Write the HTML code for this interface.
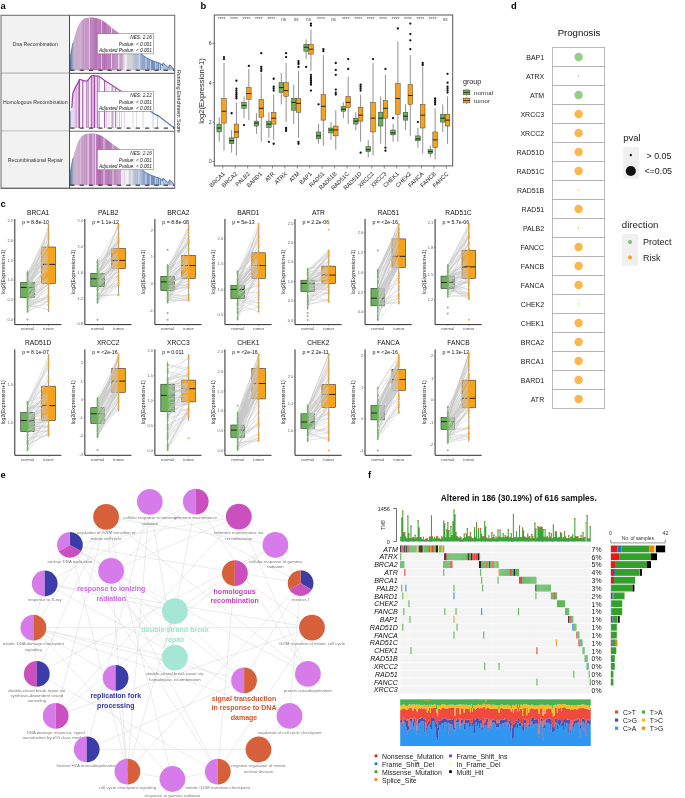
<!DOCTYPE html>
<html><head><meta charset="utf-8"><title>Figure</title>
<style>html,body{margin:0;padding:0;background:#fff;}svg{display:block;will-change:transform;filter:blur(0.3px);font-family:"Liberation Sans", sans-serif;}</style>
</head><body>
<svg width="685" height="798" viewBox="0 0 685 798">
<rect width="685" height="798" fill="#fff"/>
<text x="0.50" y="8.60" font-size="9.4" text-anchor="start" fill="#000" font-weight="bold" >a</text>
<text x="200.40" y="8.60" font-size="9.4" text-anchor="start" fill="#000" font-weight="bold" >b</text>
<text x="0.50" y="206.90" font-size="9.4" text-anchor="start" fill="#000" font-weight="bold" >c</text>
<text x="511.10" y="8.60" font-size="9.4" text-anchor="start" fill="#000" font-weight="bold" >d</text>
<text x="0.60" y="477.70" font-size="9.4" text-anchor="start" fill="#000" font-weight="bold" >e</text>
<text x="367.90" y="477.60" font-size="9.4" text-anchor="start" fill="#000" font-weight="bold" >f</text>
<defs><linearGradient id="ga" gradientUnits="userSpaceOnUse" x1="69.5" y1="0" x2="174.7" y2="0"><stop offset="0.005" stop-color="#4a6aa0"/><stop offset="0.024" stop-color="#8a9aba"/><stop offset="0.043" stop-color="#c2b6c8"/><stop offset="0.081" stop-color="#cba6cb"/><stop offset="0.147" stop-color="#c290c2"/><stop offset="0.214" stop-color="#b97cb9"/><stop offset="0.290" stop-color="#b068b0"/><stop offset="0.366" stop-color="#b272b2"/><stop offset="0.442" stop-color="#be8abe"/><stop offset="0.499" stop-color="#c8a4c8"/><stop offset="0.537" stop-color="#d2c4d2"/><stop offset="0.566" stop-color="#d4d4d6"/><stop offset="0.585" stop-color="#d2d2d6"/><stop offset="0.613" stop-color="#b8c2d6"/><stop offset="0.670" stop-color="#9eb0cf"/><stop offset="0.737" stop-color="#8299c4"/><stop offset="0.822" stop-color="#6e8abc"/><stop offset="0.917" stop-color="#5478b0"/><stop offset="0.993" stop-color="#3f68a8"/></linearGradient></defs>
<rect x="1.00" y="15.30" width="68.50" height="58.00" fill="#f2f2f2" stroke="none" stroke-width="0.5" />
<text x="35.25" y="46.10" font-size="5.15" text-anchor="middle" fill="#333" >Dna Recombination</text>
<path d="M69.50,70.20 L70.00,62.16 L70.50,56.17 L71.00,52.62 L71.50,49.87 L72.00,47.46 L72.50,45.02 L73.00,42.74 L73.50,40.65 L74.00,38.76 L74.50,37.02 L75.00,35.29 L75.50,33.60 L76.00,31.95 L76.50,30.39 L77.00,28.94 L77.50,27.62 L78.00,26.46 L78.50,25.43 L79.00,24.49 L79.50,23.63 L80.00,22.85 L80.50,22.13 L81.00,21.48 L81.50,20.89 L82.00,20.36 L82.50,19.88 L83.00,19.44 L83.50,19.08 L84.00,18.78 L84.50,18.55 L85.00,18.37 L85.50,18.22 L86.00,18.11 L86.50,18.02 L87.00,17.94 L87.50,17.85 L88.00,17.76 L88.50,17.67 L89.00,17.59 L89.50,17.52 L90.00,17.50 L90.50,17.50 L91.00,17.50 L91.50,17.50 L92.00,17.50 L92.50,17.50 L93.00,17.50 L93.50,17.50 L94.00,17.57 L94.50,17.65 L95.00,17.75 L95.50,17.85 L96.00,17.97 L96.50,18.10 L97.00,18.24 L97.50,18.39 L98.00,18.55 L98.50,18.72 L99.00,18.90 L99.50,19.09 L100.00,19.29 L100.50,19.51 L101.00,19.75 L101.50,20.01 L102.00,20.29 L102.50,20.59 L103.00,20.90 L103.50,21.22 L104.00,21.56 L104.50,21.90 L105.00,22.24 L105.50,22.60 L106.00,22.98 L106.50,23.37 L107.00,23.77 L107.50,24.19 L108.00,24.60 L108.50,25.02 L109.00,25.44 L109.50,25.85 L110.00,26.25 L110.50,26.64 L111.00,27.04 L111.50,27.44 L112.00,27.84 L112.50,28.24 L113.00,28.63 L113.50,29.02 L114.00,29.40 L114.50,29.78 L115.00,30.15 L115.50,30.49 L116.00,30.81 L116.50,31.11 L117.00,31.41 L117.50,31.71 L118.00,32.03 L118.50,32.39 L119.00,32.78 L119.50,33.21 L120.00,33.66 L120.50,34.12 L121.00,34.59 L121.50,35.07 L122.00,35.56 L122.50,36.06 L123.00,36.56 L123.50,37.06 L124.00,37.57 L124.50,38.08 L125.00,38.58 L125.50,39.09 L126.00,39.61 L126.50,40.14 L127.00,40.68 L127.50,41.22 L128.00,41.76 L128.50,42.29 L129.00,42.82 L129.50,43.34 L130.00,43.85 L130.50,44.35 L131.00,44.84 L131.50,45.32 L132.00,45.80 L132.50,46.28 L133.00,46.75 L133.50,47.21 L134.00,47.68 L134.50,48.14 L135.00,48.59 L135.50,49.05 L136.00,49.51 L136.50,49.97 L137.00,50.43 L137.50,50.88 L138.00,51.33 L138.50,51.78 L139.00,52.22 L139.50,52.65 L140.00,53.06 L140.50,53.47 L141.00,53.86 L141.50,54.25 L142.00,54.62 L142.50,55.00 L143.00,55.37 L143.50,55.73 L144.00,56.08 L144.50,56.43 L145.00,56.77 L145.50,57.10 L146.00,57.42 L146.50,57.74 L147.00,58.04 L147.50,58.33 L148.00,58.61 L148.50,58.87 L149.00,59.12 L149.50,59.36 L150.00,59.59 L150.50,59.81 L151.00,60.02 L151.50,60.23 L152.00,60.43 L152.50,60.62 L153.00,60.81 L153.50,61.00 L154.00,61.19 L154.50,61.38 L155.00,61.57 L155.50,61.77 L156.00,61.95 L156.50,62.12 L157.00,62.27 L157.50,62.42 L158.00,62.57 L158.50,62.73 L159.00,62.91 L159.50,63.11 L160.00,63.35 L160.50,63.70 L161.00,64.19 L161.50,64.71 L162.00,65.16 L162.50,65.43 L163.00,63.09 L163.50,63.34 L164.00,63.70 L164.50,64.14 L165.00,64.64 L165.50,65.17 L166.00,65.71 L166.50,66.23 L167.00,66.70 L167.50,67.11 L168.00,67.41 L168.50,67.53 L169.00,66.23 L169.50,64.95 L170.00,65.13 L170.50,65.48 L171.00,65.92 L171.50,66.43 L172.00,67.00 L172.50,67.59 L173.00,68.21 L173.50,68.83 L174.00,69.43 L174.50,69.99 L174.70,70.20 L69.50,70.20Z" fill="url(#ga)"/>
<path d="M89.30,70.20V17.52M101.50,70.20V20.01M111.50,70.20V27.44M118.80,70.20V32.78M124.00,70.20V37.57M125.20,70.20V38.58M125.80,70.20V39.61M126.40,70.20V40.14M139.20,70.20V52.22M146.00,70.20V57.42M150.30,70.20V59.81M155.40,70.20V61.77M157.20,70.20V62.27M159.60,70.20V63.11M161.50,70.20V64.71M162.60,70.20V65.43M163.80,70.20V63.70M164.80,70.20V64.64M165.80,70.20V65.71M166.80,70.20V66.70M167.80,70.20V67.41M168.90,70.20V66.23M170.20,70.20V65.13M171.30,70.20V66.43M172.30,70.20V67.59M173.40,70.20V68.83" stroke="#fff" stroke-width="0.7" stroke-opacity="0.9" fill="none"/>
<path d="M99.96,70.20V19.29M87.16,70.20V17.94M124.17,70.20V37.57M81.36,70.20V20.89M115.66,70.20V30.49M103.06,70.20V20.90M80.29,70.20V22.13M113.55,70.20V29.02M78.77,70.20V24.49M108.09,70.20V24.60M81.17,70.20V21.48M82.71,70.20V19.88M107.41,70.20V24.19M137.19,70.20V50.43M85.16,70.20V18.37M92.52,70.20V17.50M122.43,70.20V36.06M146.13,70.20V57.42M118.71,70.20V32.39M105.35,70.20V22.60M148.24,70.20V58.61M79.45,70.20V23.63M139.53,70.20V52.65M97.43,70.20V18.39M86.67,70.20V18.02M84.72,70.20V18.55M98.83,70.20V18.90M136.39,70.20V49.97M89.37,70.20V17.52M119.04,70.20V32.78M123.28,70.20V37.06M103.56,70.20V21.22M116.53,70.20V31.11M80.65,70.20V22.13M80.41,70.20V22.13M91.24,70.20V17.50M126.35,70.20V40.14M107.64,70.20V24.19M99.25,70.20V18.90M119.33,70.20V33.21M109.54,70.20V25.85M98.18,70.20V18.55M134.78,70.20V48.59M127.73,70.20V41.22M94.06,70.20V17.57M118.51,70.20V32.39M114.86,70.20V30.15M140.76,70.20V53.86M129.98,70.20V43.85M97.31,70.20V18.39M148.53,70.20V58.87M84.74,70.20V18.55M106.94,70.20V23.77M132.03,70.20V45.80M87.25,70.20V17.94M112.18,70.20V27.84M78.90,70.20V24.49M125.45,70.20V39.09M132.58,70.20V46.28M118.40,70.20V32.39M140.79,70.20V53.86M99.22,70.20V18.90M127.45,70.20V41.22M119.98,70.20V33.66M118.91,70.20V32.78M109.76,70.20V26.25M138.16,70.20V51.33M145.91,70.20V57.42M111.08,70.20V27.04M125.15,70.20V38.58" stroke="#fff" stroke-width="0.35" stroke-opacity="0.25" fill="none"/>
<path d="M138.00,51.33 L138.50,51.78 L139.00,52.22 L139.50,52.65 L140.00,53.06 L140.50,53.47 L141.00,53.86 L141.50,54.25 L142.00,54.62 L142.50,55.00 L143.00,55.37 L143.50,55.73 L144.00,56.08 L144.50,56.43 L145.00,56.77 L145.50,57.10 L146.00,57.42 L146.50,57.74 L147.00,58.04 L147.50,58.33 L148.00,58.61 L148.50,58.87 L149.00,59.12 L149.50,59.36 L150.00,59.59 L150.50,59.81 L151.00,60.02 L151.50,60.23 L152.00,60.43 L152.50,60.62 L153.00,60.81 L153.50,61.00 L154.00,61.19 L154.50,61.38 L155.00,61.57 L155.50,61.77 L156.00,61.95 L156.50,62.12 L157.00,62.27 L157.50,62.42 L158.00,62.57 L158.50,62.73 L159.00,62.91 L159.50,63.11 L160.00,63.35 L160.50,63.70 L161.00,64.19 L161.50,64.71 L162.00,65.16 L162.50,65.43 L163.00,63.09 L163.50,63.34 L164.00,63.70 L164.50,64.14 L165.00,64.64 L165.50,65.17 L166.00,65.71 L166.50,66.23 L167.00,66.70 L167.50,67.11 L168.00,67.41 L168.50,67.53 L169.00,66.23 L169.50,64.95 L170.00,65.13 L170.50,65.48 L171.00,65.92 L171.50,66.43 L172.00,67.00 L172.50,67.59 L173.00,68.21 L173.50,68.83 L174.00,69.43 L174.50,69.99" fill="none" stroke="#4a6fab" stroke-width="1.0"/>
<path d="M69.50,70.20 L70.00,62.16 L70.50,56.17 L71.00,52.62 L71.50,49.87 L72.00,47.46 L72.50,45.02 L73.00,42.74" fill="none" stroke="#5877ad" stroke-width="0.8"/>
<line x1="70.20" y1="70.20" x2="174.70" y2="70.20" stroke="#111" stroke-width="1.0" stroke-dasharray="4.3,5.05"/>
<rect x="97.20" y="33.70" width="56.30" height="20.20" fill="#fff" stroke="#555" stroke-width="0.45" />
<text x="151.90" y="39.30" font-size="4.75" text-anchor="end" fill="#222" font-style="italic">NES: 2.16</text>
<text x="151.90" y="45.90" font-size="4.75" text-anchor="end" fill="#222" font-style="italic">Pvalue: &lt; 0.001</text>
<text x="151.90" y="52.30" font-size="4.75" text-anchor="end" fill="#222" font-style="italic">Adjusted Pvalue: &lt; 0.001</text>
<line x1="1.00" y1="73.30" x2="174.70" y2="73.30" stroke="#6e6e6e" stroke-width="1.15" />
<rect x="1.00" y="73.30" width="68.50" height="57.90" fill="#f2f2f2" stroke="none" stroke-width="0.5" />
<text x="35.25" y="104.05" font-size="5.15" text-anchor="middle" fill="#333" >Homologous Recombination</text>
<path d="M70.60,128.10V111.58" stroke="#c4c8d8" stroke-width="0.7"/>
<path d="M71.50,128.10V107.86" stroke="#dccfe2" stroke-width="0.8"/>
<path d="M72.80,128.10V92.92" stroke="#d6bcdc" stroke-width="0.8"/>
<path d="M74.10,128.10V90.58" stroke="#d0acd6" stroke-width="0.8"/>
<path d="M75.40,128.10V87.07" stroke="#c99fcf" stroke-width="0.8"/>
<path d="M76.80,128.10V84.55" stroke="#c08ac6" stroke-width="0.9"/>
<path d="M78.30,128.10V81.71" stroke="#b56fba" stroke-width="1.0"/>
<path d="M79.60,128.10V79.41" stroke="#a64aac" stroke-width="1.1"/>
<path d="M82.80,128.10V80.45" stroke="#a443aa" stroke-width="1.1"/>
<path d="M86.90,128.10V81.17" stroke="#a23fa8" stroke-width="1.0"/>
<path d="M88.60,128.10V79.40" stroke="#c48fca" stroke-width="1.0"/>
<path d="M91.30,128.10V75.85" stroke="#a848ae" stroke-width="1.1"/>
<path d="M92.60,128.10V75.58" stroke="#cfa2d3" stroke-width="0.8"/>
<path d="M94.30,128.10V75.80" stroke="#a443aa" stroke-width="1.4"/>
<path d="M96.00,128.10V75.96" stroke="#c99bcd" stroke-width="0.9"/>
<path d="M97.80,128.10V76.18" stroke="#a94cae" stroke-width="1.1"/>
<path d="M99.50,128.10V76.66" stroke="#c58fc9" stroke-width="0.8"/>
<path d="M104.60,128.10V80.42" stroke="#a64aac" stroke-width="1.0"/>
<path d="M106.70,128.10V81.70" stroke="#d9bddc" stroke-width="0.9"/>
<path d="M109.00,128.10V83.28" stroke="#dcc6de" stroke-width="0.8"/>
<path d="M111.80,128.10V85.18" stroke="#c896cb" stroke-width="0.8"/>
<path d="M112.90,128.10V85.83" stroke="#b466b8" stroke-width="0.9"/>
<path d="M115.50,128.10V87.49" stroke="#b466b8" stroke-width="0.9"/>
<path d="M117.00,128.10V88.49" stroke="#dcc3de" stroke-width="0.9"/>
<path d="M119.50,128.10V90.16" stroke="#d8b9da" stroke-width="0.9"/>
<path d="M121.50,128.10V91.49" stroke="#e0cce2" stroke-width="0.9"/>
<path d="M124.50,128.10V93.55" stroke="#e2cfe4" stroke-width="0.9"/>
<path d="M133.00,128.10V99.40" stroke="#e4dce8" stroke-width="1.0"/>
<path d="M136.50,128.10V101.81" stroke="#dedee6" stroke-width="0.9"/>
<path d="M143.00,128.10V106.25" stroke="#d0d6e4" stroke-width="1.0"/>
<path d="M153.00,128.10V113.00" stroke="#c4cee2" stroke-width="1.0"/>
<path d="M157.50,128.10V115.27" stroke="#b9c7e0" stroke-width="1.0"/>
<path d="M70.2,128.10V111.10" stroke="#6d86b4" stroke-width="0.9"/>
<path d="M71.50,107.86 L72.00,106.01 L72.50,98.12 L73.00,92.92 L73.50,91.75 L74.00,90.58 L74.50,89.41 L75.00,88.24 L75.50,87.07 L76.00,86.23 L76.50,85.39 L77.00,84.55 L77.50,83.71 L78.00,82.86 L78.50,81.71 L79.00,80.56 L79.50,79.41 L80.00,79.36 L80.50,79.58 L81.00,79.80 L81.50,80.01 L82.00,80.23 L82.50,80.34 L83.00,80.45 L83.50,80.56 L84.00,80.66 L84.50,80.77 L85.00,80.88 L85.50,80.99 L86.00,81.09 L86.50,81.20 L87.00,81.17 L87.50,80.58 L88.00,79.99 L88.50,79.40 L89.00,78.81 L89.50,78.22 L90.00,77.63 L90.50,77.04 L91.00,76.44 L91.50,75.85 L92.00,75.52 L92.50,75.58 L93.00,75.63 L93.50,75.69 L94.00,75.74 L94.50,75.80 L95.00,75.85 L95.50,75.91 L96.00,75.96 L96.50,76.02 L97.00,76.07 L97.50,76.12 L98.00,76.18 L98.50,76.23 L99.00,76.29 L99.50,76.66 L100.00,77.04 L100.50,77.42 L101.00,77.79 L101.50,78.17 L102.00,78.54 L102.50,78.92 L103.00,79.29 L103.50,79.67 L104.00,80.05 L104.50,80.42 L105.00,80.75 L105.50,81.07 L106.00,81.38" fill="none" stroke="#a23fa8" stroke-width="1.25"/>
<path d="M105.50,81.07 L106.00,81.38 L106.50,81.70 L107.00,82.02 L107.50,82.33 L108.00,82.65 L108.50,82.96 L109.00,83.28 L109.50,83.60 L110.00,83.91 L110.50,84.23 L111.00,84.55 L111.50,84.86 L112.00,85.18 L112.50,85.49 L113.00,85.83 L113.50,86.16 L114.00,86.49 L114.50,86.83 L115.00,87.16 L115.50,87.49 L116.00,87.83 L116.50,88.16 L117.00,88.49 L117.50,88.83 L118.00,89.16 L118.50,89.49 L119.00,89.82 L119.50,90.16 L120.00,90.49 L120.50,90.82 L121.00,91.16 L121.50,91.49 L122.00,91.83 L122.50,92.18 L123.00,92.52 L123.50,92.86 L124.00,93.21 L124.50,93.55 L125.00,93.89 L125.50,94.24 L126.00,94.58 L126.50,94.92 L127.00,95.27 L127.50,95.61 L128.00,95.96 L128.50,96.30 L129.00,96.64 L129.50,96.99 L130.00,97.33 L130.50,97.67 L131.00,98.02 L131.50,98.36 L132.00,98.71 L132.50,99.05 L133.00,99.40 L133.50,99.74 L134.00,100.09" fill="none" stroke="#a548ab" stroke-width="1.15"/>
<path d="M133.50,99.74 L134.00,100.09 L134.50,100.43 L135.00,100.77 L135.50,101.12 L136.00,101.46 L136.50,101.81 L137.00,102.15 L137.50,102.50 L138.00,102.84 L138.50,103.19 L139.00,103.53 L139.50,103.88 L140.00,104.22 L140.50,104.56 L141.00,104.90 L141.50,105.23 L142.00,105.57 L142.50,105.91 L143.00,106.25 L143.50,106.58 L144.00,106.92 L144.50,107.26 L145.00,107.60 L145.50,107.94 L146.00,108.27 L146.50,108.61 L147.00,108.95 L147.50,109.29 L148.00,109.63 L148.50,109.96 L149.00,110.30 L149.50,110.64 L150.00,110.98 L150.50,111.31 L151.00,111.65 L151.50,111.99 L152.00,112.33 L152.50,112.67 L153.00,113.00 L153.50,113.33 L154.00,113.65 L154.50,113.97 L155.00,114.29 L155.50,114.61 L156.00,114.94 L156.50,115.26 L157.00,115.58 L157.50,115.27 L158.00,115.53 L158.50,115.92 L159.00,116.31 L159.50,116.70 L160.00,117.09 L160.50,117.48 L161.00,117.87 L161.50,118.26 L162.00,118.65 L162.50,119.04 L163.00,119.44 L163.50,119.83 L164.00,120.22 L164.50,120.61 L165.00,121.00 L165.50,121.37 L166.00,121.74 L166.50,122.11 L167.00,122.48 L167.50,122.85 L168.00,123.22 L168.50,123.59 L169.00,123.96 L169.50,124.33 L170.00,124.70 L170.50,125.07 L171.00,125.44 L171.50,125.81 L172.00,126.18 L172.50,126.55 L173.00,126.92 L173.50,127.29 L174.00,127.66 L174.50,128.03" fill="none" stroke="#4a6fab" stroke-width="1.15"/>
<line x1="70.20" y1="128.10" x2="174.70" y2="128.10" stroke="#111" stroke-width="1.0" stroke-dasharray="4.3,5.05"/>
<rect x="97.20" y="91.30" width="56.30" height="20.20" fill="#fff" stroke="#555" stroke-width="0.45" />
<text x="151.90" y="96.90" font-size="4.75" text-anchor="end" fill="#222" font-style="italic">NES: 2.22</text>
<text x="151.90" y="103.50" font-size="4.75" text-anchor="end" fill="#222" font-style="italic">Pvalue: &lt; 0.001</text>
<text x="151.90" y="109.90" font-size="4.75" text-anchor="end" fill="#222" font-style="italic">Adjusted Pvalue: &lt; 0.001</text>
<line x1="1.00" y1="131.20" x2="174.70" y2="131.20" stroke="#6e6e6e" stroke-width="1.15" />
<rect x="1.00" y="131.20" width="68.50" height="57.10" fill="#f2f2f2" stroke="none" stroke-width="0.5" />
<text x="35.25" y="161.55" font-size="5.15" text-anchor="middle" fill="#333" >Recombinational Repair</text>
<path d="M69.50,185.20 L70.00,177.29 L70.50,171.41 L71.00,167.92 L71.50,165.22 L72.00,162.85 L72.50,160.45 L73.00,158.21 L73.50,156.16 L74.00,154.30 L74.50,152.58 L75.00,150.89 L75.50,149.22 L76.00,147.61 L76.50,146.07 L77.00,144.64 L77.50,143.35 L78.00,142.21 L78.50,141.20 L79.00,140.27 L79.50,139.42 L80.00,138.65 L80.50,137.95 L81.00,137.31 L81.50,136.74 L82.00,136.21 L82.50,135.74 L83.00,135.31 L83.50,134.95 L84.00,134.66 L84.50,134.43 L85.00,134.25 L85.50,134.11 L86.00,134.00 L86.50,133.91 L87.00,133.83 L87.50,133.75 L88.00,133.66 L88.50,133.57 L89.00,133.49 L89.50,133.42 L90.00,133.40 L90.50,133.40 L91.00,133.40 L91.50,133.40 L92.00,133.40 L92.50,133.40 L93.00,133.40 L93.50,133.40 L94.00,133.47 L94.50,133.55 L95.00,133.64 L95.50,133.74 L96.00,133.86 L96.50,133.99 L97.00,134.12 L97.50,134.27 L98.00,134.43 L98.50,134.60 L99.00,134.78 L99.50,134.96 L100.00,135.16 L100.50,135.38 L101.00,135.61 L101.50,135.87 L102.00,136.15 L102.50,136.44 L103.00,136.74 L103.50,137.06 L104.00,137.39 L104.50,137.72 L105.00,138.06 L105.50,138.41 L106.00,138.78 L106.50,139.17 L107.00,139.57 L107.50,139.97 L108.00,140.38 L108.50,140.79 L109.00,141.20 L109.50,141.60 L110.00,142.00 L110.50,142.39 L111.00,142.78 L111.50,143.17 L112.00,143.56 L112.50,143.95 L113.00,144.34 L113.50,144.72 L114.00,145.10 L114.50,145.47 L115.00,145.83 L115.50,146.17 L116.00,146.48 L116.50,146.78 L117.00,147.07 L117.50,147.37 L118.00,147.68 L118.50,148.03 L119.00,148.42 L119.50,148.84 L120.00,149.28 L120.50,149.73 L121.00,150.20 L121.50,150.67 L122.00,151.15 L122.50,151.64 L123.00,152.13 L123.50,152.63 L124.00,153.13 L124.50,153.62 L125.00,154.12 L125.50,154.62 L126.00,155.13 L126.50,155.66 L127.00,156.18 L127.50,156.71 L128.00,157.24 L128.50,157.77 L129.00,158.29 L129.50,158.80 L130.00,159.30 L130.50,159.79 L131.00,160.27 L131.50,160.75 L132.00,161.22 L132.50,161.69 L133.00,162.15 L133.50,162.61 L134.00,163.06 L134.50,163.51 L135.00,163.96 L135.50,164.41 L136.00,164.86 L136.50,165.31 L137.00,165.76 L137.50,166.21 L138.00,166.66 L138.50,167.09 L139.00,167.52 L139.50,167.95 L140.00,168.36 L140.50,168.76 L141.00,169.14 L141.50,169.52 L142.00,169.89 L142.50,170.26 L143.00,170.62 L143.50,170.98 L144.00,171.32 L144.50,171.67 L145.00,172.00 L145.50,172.33 L146.00,172.64 L146.50,172.95 L147.00,173.24 L147.50,173.53 L148.00,173.80 L148.50,174.06 L149.00,174.31 L149.50,174.55 L150.00,174.77 L150.50,174.99 L151.00,175.20 L151.50,175.40 L152.00,175.59 L152.50,175.78 L153.00,175.97 L153.50,176.16 L154.00,176.34 L154.50,176.53 L155.00,176.72 L155.50,176.91 L156.00,177.09 L156.50,177.26 L157.00,177.41 L157.50,177.55 L158.00,177.70 L158.50,177.86 L159.00,178.04 L159.50,178.24 L160.00,178.47 L160.50,178.81 L161.00,179.30 L161.50,179.81 L162.00,180.24 L162.50,180.51 L163.00,178.21 L163.50,178.45 L164.00,178.81 L164.50,179.24 L165.00,179.74 L165.50,180.26 L166.00,180.79 L166.50,181.30 L167.00,181.76 L167.50,182.16 L168.00,182.46 L168.50,182.58 L169.00,181.29 L169.50,180.04 L170.00,180.22 L170.50,180.57 L171.00,181.00 L171.50,181.50 L172.00,182.05 L172.50,182.64 L173.00,183.24 L173.50,183.85 L174.00,184.44 L174.50,184.99 L174.70,185.20 L69.50,185.20Z" fill="url(#ga)"/>
<path d="M88.20,185.20V133.66M93.00,185.20V133.40M95.50,185.20V133.74M104.00,185.20V137.39M113.00,185.20V144.34M121.50,185.20V150.67M122.10,185.20V151.15M122.70,185.20V151.64M123.30,185.20V152.63M123.90,185.20V153.13M125.20,185.20V154.12M125.80,185.20V155.13M126.40,185.20V155.66M127.00,185.20V156.18M127.60,185.20V156.71M128.20,185.20V157.24M131.90,185.20V161.22M138.90,185.20V167.52M145.80,185.20V172.64M150.30,185.20V174.99M155.40,185.20V176.91M157.20,185.20V177.41M159.60,185.20V178.24M161.50,185.20V179.81M162.60,185.20V180.51M163.80,185.20V178.81M164.80,185.20V179.74M165.80,185.20V180.79M166.80,185.20V181.76M167.80,185.20V182.46M168.90,185.20V181.29M170.20,185.20V180.22M171.30,185.20V181.50M172.30,185.20V182.64M173.40,185.20V183.85" stroke="#fff" stroke-width="0.7" stroke-opacity="0.9" fill="none"/>
<path d="M80.49,185.20V137.95M127.91,185.20V157.24M123.89,185.20V153.13M149.49,185.20V174.55M136.82,185.20V165.76M97.06,185.20V134.12M104.55,185.20V137.72M125.48,185.20V154.62M77.67,185.20V143.35M110.17,185.20V142.00M88.44,185.20V133.57M84.67,185.20V134.43M80.36,185.20V137.95M132.85,185.20V162.15M85.57,185.20V134.11M94.32,185.20V133.55M104.93,185.20V138.06M140.49,185.20V168.76M81.96,185.20V136.21M109.24,185.20V141.20M116.66,185.20V146.78M141.37,185.20V169.52M136.63,185.20V165.31M139.93,185.20V168.36M96.60,185.20V133.99M106.73,185.20V139.17M102.55,185.20V136.44M141.43,185.20V169.52M146.87,185.20V173.24M87.17,185.20V133.83M89.04,185.20V133.49M93.16,185.20V133.40M93.27,185.20V133.40M111.89,185.20V143.56M119.60,185.20V148.84M95.44,185.20V133.74M76.30,185.20V146.07M107.00,185.20V139.57M103.32,185.20V137.06M117.91,185.20V147.68M146.53,185.20V172.95M127.10,185.20V156.18M114.15,185.20V145.10M121.70,185.20V150.67M126.04,185.20V155.13M80.00,185.20V138.65M142.57,185.20V170.26M133.72,185.20V162.61M140.71,185.20V168.76M135.04,185.20V163.96M105.04,185.20V138.06M105.52,185.20V138.41M83.66,185.20V134.95M122.94,185.20V152.13M80.61,185.20V137.95M80.98,185.20V137.31M91.45,185.20V133.40M88.01,185.20V133.66M101.16,185.20V135.61M79.89,185.20V138.65M76.02,185.20V147.61M87.19,185.20V133.83M83.51,185.20V134.95M102.91,185.20V136.74M77.89,185.20V142.21M140.70,185.20V168.76M121.44,185.20V150.67M86.99,185.20V133.83M94.67,185.20V133.55M101.71,185.20V135.87" stroke="#fff" stroke-width="0.35" stroke-opacity="0.25" fill="none"/>
<path d="M138.00,166.66 L138.50,167.09 L139.00,167.52 L139.50,167.95 L140.00,168.36 L140.50,168.76 L141.00,169.14 L141.50,169.52 L142.00,169.89 L142.50,170.26 L143.00,170.62 L143.50,170.98 L144.00,171.32 L144.50,171.67 L145.00,172.00 L145.50,172.33 L146.00,172.64 L146.50,172.95 L147.00,173.24 L147.50,173.53 L148.00,173.80 L148.50,174.06 L149.00,174.31 L149.50,174.55 L150.00,174.77 L150.50,174.99 L151.00,175.20 L151.50,175.40 L152.00,175.59 L152.50,175.78 L153.00,175.97 L153.50,176.16 L154.00,176.34 L154.50,176.53 L155.00,176.72 L155.50,176.91 L156.00,177.09 L156.50,177.26 L157.00,177.41 L157.50,177.55 L158.00,177.70 L158.50,177.86 L159.00,178.04 L159.50,178.24 L160.00,178.47 L160.50,178.81 L161.00,179.30 L161.50,179.81 L162.00,180.24 L162.50,180.51 L163.00,178.21 L163.50,178.45 L164.00,178.81 L164.50,179.24 L165.00,179.74 L165.50,180.26 L166.00,180.79 L166.50,181.30 L167.00,181.76 L167.50,182.16 L168.00,182.46 L168.50,182.58 L169.00,181.29 L169.50,180.04 L170.00,180.22 L170.50,180.57 L171.00,181.00 L171.50,181.50 L172.00,182.05 L172.50,182.64 L173.00,183.24 L173.50,183.85 L174.00,184.44 L174.50,184.99" fill="none" stroke="#4a6fab" stroke-width="1.0"/>
<path d="M69.50,185.20 L70.00,177.29 L70.50,171.41 L71.00,167.92 L71.50,165.22 L72.00,162.85 L72.50,160.45 L73.00,158.21" fill="none" stroke="#5877ad" stroke-width="0.8"/>
<line x1="70.20" y1="185.20" x2="174.70" y2="185.20" stroke="#111" stroke-width="1.0" stroke-dasharray="4.3,5.05"/>
<rect x="97.20" y="149.60" width="56.30" height="20.20" fill="#fff" stroke="#555" stroke-width="0.45" />
<text x="151.90" y="155.20" font-size="4.75" text-anchor="end" fill="#222" font-style="italic">NES: 2.16</text>
<text x="151.90" y="161.80" font-size="4.75" text-anchor="end" fill="#222" font-style="italic">Pvalue: &lt; 0.001</text>
<text x="151.90" y="168.20" font-size="4.75" text-anchor="end" fill="#222" font-style="italic">Adjusted Pvalue: &lt; 0.001</text>
<line x1="1.00" y1="188.30" x2="174.70" y2="188.30" stroke="#6e6e6e" stroke-width="1.15" />
<rect x="1.00" y="15.30" width="173.70" height="173.00" fill="none" stroke="#6a6a6a" stroke-width="1.0" />
<line x1="69.50" y1="15.30" x2="69.50" y2="188.30" stroke="#4a4a4a" stroke-width="1.0" />
<text x="0" y="0" font-size="5.25" text-anchor="middle" fill="#222" transform="translate(177.4,101.4) rotate(90)">Running Enrichment Score</text>
<path d="M219.20,117.18V124.07M219.20,131.95V141.80M224.00,63.00V98.46M224.00,123.09V150.66M231.62,129.98V137.86M231.62,143.77V152.63M236.42,102.40V124.07M236.42,137.86V155.59M244.04,96.49V102.40M244.04,108.31V118.16M248.84,68.91V87.62M248.84,99.45V120.13M256.46,113.23V121.12M256.46,126.04V133.92M261.26,72.85V99.45M261.26,117.18V141.80M268.88,112.25V121.12M268.88,127.62V137.86M273.68,94.52V112.25M273.68,124.07V139.83M281.30,72.85V82.70M281.30,92.55V104.37M286.10,63.00V82.70M286.10,96.49V122.10M293.72,84.67V98.46M293.72,110.28V124.07M298.52,70.88V98.46M298.52,112.25V137.86M306.14,39.36V44.28M306.14,51.18V59.06M310.94,29.51V44.28M310.94,54.14V70.88M318.56,124.07V131.95M318.56,138.84V143.77M323.36,55.12V94.52M323.36,120.13V145.74M330.98,122.10V128.01M330.98,132.94V139.83M335.78,110.28V126.04M335.78,135.89V149.68M343.40,102.40V106.34M343.40,111.27V118.16M348.20,76.79V96.49M348.20,107.33V124.07M355.82,112.25V118.16M355.82,124.07V129.98M360.62,94.52V107.33M360.62,121.12V141.80M368.24,139.83V146.72M368.24,151.65V157.56M373.04,63.00V102.40M373.04,131.95V155.59M380.66,96.49V112.25M380.66,126.04V143.77M385.46,74.82V100.43M385.46,118.16V145.74M393.08,124.07V129.98M393.08,134.91V141.80M397.88,41.33V83.69M397.88,114.22V141.80M405.50,104.37V112.25M405.50,120.13V129.98M410.30,55.12V84.67M410.30,104.37V135.89M417.92,128.01V135.89M417.92,140.81V147.71M422.72,66.94V104.37M422.72,128.01V153.62M430.34,145.74V149.68M430.34,153.62V157.56M435.14,108.31V131.95M435.14,147.71V159.53M442.76,104.37V114.22M442.76,122.10V131.95M447.56,96.49V114.22M447.56,126.04V143.77" stroke="#555" stroke-width="0.65" fill="none"/>
<line x1="212.30" y1="161.50" x2="214.30" y2="161.50" stroke="#444" stroke-width="0.6" />
<text x="211.70" y="163.40" font-size="5.3" text-anchor="end" fill="#444" >0</text>
<line x1="212.30" y1="122.10" x2="214.30" y2="122.10" stroke="#444" stroke-width="0.6" />
<text x="211.70" y="124.00" font-size="5.3" text-anchor="end" fill="#444" >2</text>
<line x1="212.30" y1="82.70" x2="214.30" y2="82.70" stroke="#444" stroke-width="0.6" />
<text x="211.70" y="84.60" font-size="5.3" text-anchor="end" fill="#444" >4</text>
<line x1="212.30" y1="43.30" x2="214.30" y2="43.30" stroke="#444" stroke-width="0.6" />
<text x="211.70" y="45.20" font-size="5.3" text-anchor="end" fill="#444" >6</text>
<text x="0" y="0" font-size="7.6" text-anchor="middle" fill="#222" transform="translate(204.4,91.0) rotate(-90)">log2(Expression+1)</text>
<line x1="222.80" y1="165.90" x2="222.80" y2="168.50" stroke="#444" stroke-width="0.6" />
<text x="0" y="3.9" font-size="5.8" text-anchor="end" fill="#222" transform="translate(222.60,171.40) rotate(-45)">BRCA1</text>
<rect x="216.90" y="124.07" width="4.60" height="7.88" fill="#6bb15a" stroke="#333" stroke-width="0.45" />
<rect x="221.70" y="98.46" width="4.60" height="24.62" fill="#f7a21c" stroke="#333" stroke-width="0.45" />
<text x="221.60" y="20.70" font-size="5.0" text-anchor="middle" fill="#555" >****</text>
<line x1="235.22" y1="165.90" x2="235.22" y2="168.50" stroke="#444" stroke-width="0.6" />
<text x="0" y="3.9" font-size="5.8" text-anchor="end" fill="#222" transform="translate(235.02,171.40) rotate(-45)">BRCA2</text>
<rect x="229.32" y="137.86" width="4.60" height="5.91" fill="#6bb15a" stroke="#333" stroke-width="0.45" />
<rect x="234.12" y="124.07" width="4.60" height="13.79" fill="#f7a21c" stroke="#333" stroke-width="0.45" />
<text x="234.02" y="20.70" font-size="5.0" text-anchor="middle" fill="#555" >****</text>
<line x1="247.64" y1="165.90" x2="247.64" y2="168.50" stroke="#444" stroke-width="0.6" />
<text x="0" y="3.9" font-size="5.8" text-anchor="end" fill="#222" transform="translate(247.44,171.40) rotate(-45)">PALB2</text>
<rect x="241.74" y="102.40" width="4.60" height="5.91" fill="#6bb15a" stroke="#333" stroke-width="0.45" />
<rect x="246.54" y="87.62" width="4.60" height="11.82" fill="#f7a21c" stroke="#333" stroke-width="0.45" />
<text x="246.44" y="20.70" font-size="5.0" text-anchor="middle" fill="#555" >****</text>
<line x1="260.06" y1="165.90" x2="260.06" y2="168.50" stroke="#444" stroke-width="0.6" />
<text x="0" y="3.9" font-size="5.8" text-anchor="end" fill="#222" transform="translate(259.86,171.40) rotate(-45)">BARD1</text>
<rect x="254.16" y="121.12" width="4.60" height="4.92" fill="#6bb15a" stroke="#333" stroke-width="0.45" />
<rect x="258.96" y="99.45" width="4.60" height="17.73" fill="#f7a21c" stroke="#333" stroke-width="0.45" />
<text x="258.86" y="20.70" font-size="5.0" text-anchor="middle" fill="#555" >****</text>
<line x1="272.48" y1="165.90" x2="272.48" y2="168.50" stroke="#444" stroke-width="0.6" />
<text x="0" y="3.9" font-size="5.8" text-anchor="end" fill="#222" transform="translate(272.28,171.40) rotate(-45)">ATR</text>
<rect x="266.58" y="121.12" width="4.60" height="6.50" fill="#6bb15a" stroke="#333" stroke-width="0.45" />
<rect x="271.38" y="112.25" width="4.60" height="11.82" fill="#f7a21c" stroke="#333" stroke-width="0.45" />
<text x="271.28" y="20.70" font-size="5.0" text-anchor="middle" fill="#555" >****</text>
<line x1="284.90" y1="165.90" x2="284.90" y2="168.50" stroke="#444" stroke-width="0.6" />
<text x="0" y="3.9" font-size="5.8" text-anchor="end" fill="#222" transform="translate(284.70,171.40) rotate(-45)">ATRX</text>
<rect x="279.00" y="82.70" width="4.60" height="9.85" fill="#6bb15a" stroke="#333" stroke-width="0.45" />
<rect x="283.80" y="82.70" width="4.60" height="13.79" fill="#f7a21c" stroke="#333" stroke-width="0.45" />
<text x="283.70" y="20.70" font-size="4.6" text-anchor="middle" fill="#555" >ns</text>
<line x1="297.32" y1="165.90" x2="297.32" y2="168.50" stroke="#444" stroke-width="0.6" />
<text x="0" y="3.9" font-size="5.8" text-anchor="end" fill="#222" transform="translate(297.12,171.40) rotate(-45)">ATM</text>
<rect x="291.42" y="98.46" width="4.60" height="11.82" fill="#6bb15a" stroke="#333" stroke-width="0.45" />
<rect x="296.22" y="98.46" width="4.60" height="13.79" fill="#f7a21c" stroke="#333" stroke-width="0.45" />
<text x="296.12" y="20.70" font-size="4.6" text-anchor="middle" fill="#555" >ns</text>
<line x1="309.74" y1="165.90" x2="309.74" y2="168.50" stroke="#444" stroke-width="0.6" />
<text x="0" y="3.9" font-size="5.8" text-anchor="end" fill="#222" transform="translate(309.54,171.40) rotate(-45)">BAP1</text>
<rect x="303.84" y="44.28" width="4.60" height="6.90" fill="#6bb15a" stroke="#333" stroke-width="0.45" />
<rect x="308.64" y="44.28" width="4.60" height="9.85" fill="#f7a21c" stroke="#333" stroke-width="0.45" />
<text x="308.54" y="20.70" font-size="4.6" text-anchor="middle" fill="#555" >ns</text>
<line x1="322.16" y1="165.90" x2="322.16" y2="168.50" stroke="#444" stroke-width="0.6" />
<text x="0" y="3.9" font-size="5.8" text-anchor="end" fill="#222" transform="translate(321.96,171.40) rotate(-45)">RAD51</text>
<rect x="316.26" y="131.95" width="4.60" height="6.90" fill="#6bb15a" stroke="#333" stroke-width="0.45" />
<rect x="321.06" y="94.52" width="4.60" height="25.61" fill="#f7a21c" stroke="#333" stroke-width="0.45" />
<text x="320.96" y="20.70" font-size="5.0" text-anchor="middle" fill="#555" >****</text>
<line x1="334.58" y1="165.90" x2="334.58" y2="168.50" stroke="#444" stroke-width="0.6" />
<text x="0" y="3.9" font-size="5.8" text-anchor="end" fill="#222" transform="translate(334.38,171.40) rotate(-45)">RAD51B</text>
<rect x="328.68" y="128.01" width="4.60" height="4.93" fill="#6bb15a" stroke="#333" stroke-width="0.45" />
<rect x="333.48" y="126.04" width="4.60" height="9.85" fill="#f7a21c" stroke="#333" stroke-width="0.45" />
<text x="333.38" y="20.70" font-size="4.6" text-anchor="middle" fill="#555" >ns</text>
<line x1="347.00" y1="165.90" x2="347.00" y2="168.50" stroke="#444" stroke-width="0.6" />
<text x="0" y="3.9" font-size="5.8" text-anchor="end" fill="#222" transform="translate(346.80,171.40) rotate(-45)">RAD51C</text>
<rect x="341.10" y="106.34" width="4.60" height="4.93" fill="#6bb15a" stroke="#333" stroke-width="0.45" />
<rect x="345.90" y="96.49" width="4.60" height="10.83" fill="#f7a21c" stroke="#333" stroke-width="0.45" />
<text x="345.80" y="20.70" font-size="5.0" text-anchor="middle" fill="#555" >****</text>
<line x1="359.42" y1="165.90" x2="359.42" y2="168.50" stroke="#444" stroke-width="0.6" />
<text x="0" y="3.9" font-size="5.8" text-anchor="end" fill="#222" transform="translate(359.22,171.40) rotate(-45)">RAD51D</text>
<rect x="353.52" y="118.16" width="4.60" height="5.91" fill="#6bb15a" stroke="#333" stroke-width="0.45" />
<rect x="358.32" y="107.33" width="4.60" height="13.79" fill="#f7a21c" stroke="#333" stroke-width="0.45" />
<text x="358.22" y="20.70" font-size="5.0" text-anchor="middle" fill="#555" >****</text>
<line x1="371.84" y1="165.90" x2="371.84" y2="168.50" stroke="#444" stroke-width="0.6" />
<text x="0" y="3.9" font-size="5.8" text-anchor="end" fill="#222" transform="translate(371.64,171.40) rotate(-45)">XRCC2</text>
<rect x="365.94" y="146.72" width="4.60" height="4.93" fill="#6bb15a" stroke="#333" stroke-width="0.45" />
<rect x="370.74" y="102.40" width="4.60" height="29.55" fill="#f7a21c" stroke="#333" stroke-width="0.45" />
<text x="370.64" y="20.70" font-size="5.0" text-anchor="middle" fill="#555" >****</text>
<line x1="384.26" y1="165.90" x2="384.26" y2="168.50" stroke="#444" stroke-width="0.6" />
<text x="0" y="3.9" font-size="5.8" text-anchor="end" fill="#222" transform="translate(384.06,171.40) rotate(-45)">XRCC3</text>
<rect x="378.36" y="112.25" width="4.60" height="13.79" fill="#6bb15a" stroke="#333" stroke-width="0.45" />
<rect x="383.16" y="100.43" width="4.60" height="17.73" fill="#f7a21c" stroke="#333" stroke-width="0.45" />
<text x="383.06" y="20.70" font-size="5.0" text-anchor="middle" fill="#555" >****</text>
<line x1="396.68" y1="165.90" x2="396.68" y2="168.50" stroke="#444" stroke-width="0.6" />
<text x="0" y="3.9" font-size="5.8" text-anchor="end" fill="#222" transform="translate(396.48,171.40) rotate(-45)">CHEK1</text>
<rect x="390.78" y="129.98" width="4.60" height="4.93" fill="#6bb15a" stroke="#333" stroke-width="0.45" />
<rect x="395.58" y="83.69" width="4.60" height="30.53" fill="#f7a21c" stroke="#333" stroke-width="0.45" />
<text x="395.48" y="20.70" font-size="5.0" text-anchor="middle" fill="#555" >****</text>
<line x1="409.10" y1="165.90" x2="409.10" y2="168.50" stroke="#444" stroke-width="0.6" />
<text x="0" y="3.9" font-size="5.8" text-anchor="end" fill="#222" transform="translate(408.90,171.40) rotate(-45)">CHEK2</text>
<rect x="403.20" y="112.25" width="4.60" height="7.88" fill="#6bb15a" stroke="#333" stroke-width="0.45" />
<rect x="408.00" y="84.67" width="4.60" height="19.70" fill="#f7a21c" stroke="#333" stroke-width="0.45" />
<text x="407.90" y="20.70" font-size="5.0" text-anchor="middle" fill="#555" >****</text>
<line x1="421.52" y1="165.90" x2="421.52" y2="168.50" stroke="#444" stroke-width="0.6" />
<text x="0" y="3.9" font-size="5.8" text-anchor="end" fill="#222" transform="translate(421.32,171.40) rotate(-45)">FANCA</text>
<rect x="415.62" y="135.89" width="4.60" height="4.93" fill="#6bb15a" stroke="#333" stroke-width="0.45" />
<rect x="420.42" y="104.37" width="4.60" height="23.64" fill="#f7a21c" stroke="#333" stroke-width="0.45" />
<text x="420.32" y="20.70" font-size="5.0" text-anchor="middle" fill="#555" >****</text>
<line x1="433.94" y1="165.90" x2="433.94" y2="168.50" stroke="#444" stroke-width="0.6" />
<text x="0" y="3.9" font-size="5.8" text-anchor="end" fill="#222" transform="translate(433.74,171.40) rotate(-45)">FANCB</text>
<rect x="428.04" y="149.68" width="4.60" height="3.94" fill="#6bb15a" stroke="#333" stroke-width="0.45" />
<rect x="432.84" y="131.95" width="4.60" height="15.76" fill="#f7a21c" stroke="#333" stroke-width="0.45" />
<text x="432.74" y="20.70" font-size="5.0" text-anchor="middle" fill="#555" >****</text>
<line x1="446.36" y1="165.90" x2="446.36" y2="168.50" stroke="#444" stroke-width="0.6" />
<text x="0" y="3.9" font-size="5.8" text-anchor="end" fill="#222" transform="translate(446.16,171.40) rotate(-45)">FANCC</text>
<rect x="440.46" y="114.22" width="4.60" height="7.88" fill="#6bb15a" stroke="#333" stroke-width="0.45" />
<rect x="445.26" y="114.22" width="4.60" height="11.82" fill="#f7a21c" stroke="#333" stroke-width="0.45" />
<text x="445.16" y="20.70" font-size="4.6" text-anchor="middle" fill="#555" >ns</text>
<path d="M216.90,128.01h4.6M221.70,111.27h4.6M229.32,140.81h4.6M234.12,131.95h4.6M241.74,105.35h4.6M246.54,93.53h4.6M254.16,123.09h4.6M258.96,108.31h4.6M266.58,124.07h4.6M271.38,118.16h4.6M279.00,87.62h4.6M283.80,90.58h4.6M291.42,102.40h4.6M296.22,103.38h4.6M303.84,47.24h4.6M308.64,49.21h4.6M316.26,135.89h4.6M321.06,106.34h4.6M328.68,129.98h4.6M333.48,129.98h4.6M341.10,109.30h4.6M345.90,102.40h4.6M353.52,121.12h4.6M358.32,115.20h4.6M365.94,149.68h4.6M370.74,118.16h4.6M378.36,118.16h4.6M383.16,108.31h4.6M390.78,132.94h4.6M395.58,98.46h4.6M403.20,116.19h4.6M408.00,95.50h4.6M415.62,138.84h4.6M420.42,115.20h4.6M428.04,151.65h4.6M432.84,139.83h4.6M440.46,118.16h4.6M445.26,120.13h4.6" stroke="#111" stroke-width="0.9" fill="none"/>
<path d="M222.85,59.06a1.15,1.15 0 1,0 2.3,0a1.15,1.15 0 1,0 -2.3,0M222.85,57.09a1.15,1.15 0 1,0 2.3,0a1.15,1.15 0 1,0 -2.3,0M230.47,113.23a1.15,1.15 0 1,0 2.3,0a1.15,1.15 0 1,0 -2.3,0M235.27,98.46a1.15,1.15 0 1,0 2.3,0a1.15,1.15 0 1,0 -2.3,0M235.27,96.49a1.15,1.15 0 1,0 2.3,0a1.15,1.15 0 1,0 -2.3,0M235.27,94.52a1.15,1.15 0 1,0 2.3,0a1.15,1.15 0 1,0 -2.3,0M235.27,92.55a1.15,1.15 0 1,0 2.3,0a1.15,1.15 0 1,0 -2.3,0M235.27,90.58a1.15,1.15 0 1,0 2.3,0a1.15,1.15 0 1,0 -2.3,0M235.27,88.61a1.15,1.15 0 1,0 2.3,0a1.15,1.15 0 1,0 -2.3,0M235.27,80.73a1.15,1.15 0 1,0 2.3,0a1.15,1.15 0 1,0 -2.3,0M242.89,125.06a1.15,1.15 0 1,0 2.3,0a1.15,1.15 0 1,0 -2.3,0M247.69,65.96a1.15,1.15 0 1,0 2.3,0a1.15,1.15 0 1,0 -2.3,0M260.11,70.88a1.15,1.15 0 1,0 2.3,0a1.15,1.15 0 1,0 -2.3,0M260.11,68.91a1.15,1.15 0 1,0 2.3,0a1.15,1.15 0 1,0 -2.3,0M260.11,66.94a1.15,1.15 0 1,0 2.3,0a1.15,1.15 0 1,0 -2.3,0M260.11,53.15a1.15,1.15 0 1,0 2.3,0a1.15,1.15 0 1,0 -2.3,0M267.73,141.80a1.15,1.15 0 1,0 2.3,0a1.15,1.15 0 1,0 -2.3,0M272.53,143.77a1.15,1.15 0 1,0 2.3,0a1.15,1.15 0 1,0 -2.3,0M272.53,90.58a1.15,1.15 0 1,0 2.3,0a1.15,1.15 0 1,0 -2.3,0M272.53,88.61a1.15,1.15 0 1,0 2.3,0a1.15,1.15 0 1,0 -2.3,0M272.53,86.64a1.15,1.15 0 1,0 2.3,0a1.15,1.15 0 1,0 -2.3,0M272.53,78.76a1.15,1.15 0 1,0 2.3,0a1.15,1.15 0 1,0 -2.3,0M284.95,130.97a1.15,1.15 0 1,0 2.3,0a1.15,1.15 0 1,0 -2.3,0M284.95,129.00a1.15,1.15 0 1,0 2.3,0a1.15,1.15 0 1,0 -2.3,0M284.95,128.01a1.15,1.15 0 1,0 2.3,0a1.15,1.15 0 1,0 -2.3,0M284.95,57.09a1.15,1.15 0 1,0 2.3,0a1.15,1.15 0 1,0 -2.3,0M284.95,53.15a1.15,1.15 0 1,0 2.3,0a1.15,1.15 0 1,0 -2.3,0M297.37,143.77a1.15,1.15 0 1,0 2.3,0a1.15,1.15 0 1,0 -2.3,0M297.37,141.80a1.15,1.15 0 1,0 2.3,0a1.15,1.15 0 1,0 -2.3,0M297.37,66.94a1.15,1.15 0 1,0 2.3,0a1.15,1.15 0 1,0 -2.3,0M297.37,63.98a1.15,1.15 0 1,0 2.3,0a1.15,1.15 0 1,0 -2.3,0M297.37,63.00a1.15,1.15 0 1,0 2.3,0a1.15,1.15 0 1,0 -2.3,0M297.37,61.03a1.15,1.15 0 1,0 2.3,0a1.15,1.15 0 1,0 -2.3,0M304.99,66.94a1.15,1.15 0 1,0 2.3,0a1.15,1.15 0 1,0 -2.3,0M309.79,90.58a1.15,1.15 0 1,0 2.3,0a1.15,1.15 0 1,0 -2.3,0M309.79,84.67a1.15,1.15 0 1,0 2.3,0a1.15,1.15 0 1,0 -2.3,0M309.79,82.70a1.15,1.15 0 1,0 2.3,0a1.15,1.15 0 1,0 -2.3,0M309.79,80.73a1.15,1.15 0 1,0 2.3,0a1.15,1.15 0 1,0 -2.3,0M309.79,78.76a1.15,1.15 0 1,0 2.3,0a1.15,1.15 0 1,0 -2.3,0M309.79,76.79a1.15,1.15 0 1,0 2.3,0a1.15,1.15 0 1,0 -2.3,0M309.79,74.82a1.15,1.15 0 1,0 2.3,0a1.15,1.15 0 1,0 -2.3,0M309.79,25.57a1.15,1.15 0 1,0 2.3,0a1.15,1.15 0 1,0 -2.3,0M309.79,23.60a1.15,1.15 0 1,0 2.3,0a1.15,1.15 0 1,0 -2.3,0M317.41,104.37a1.15,1.15 0 1,0 2.3,0a1.15,1.15 0 1,0 -2.3,0M322.21,51.18a1.15,1.15 0 1,0 2.3,0a1.15,1.15 0 1,0 -2.3,0M322.21,49.21a1.15,1.15 0 1,0 2.3,0a1.15,1.15 0 1,0 -2.3,0M334.63,94.52a1.15,1.15 0 1,0 2.3,0a1.15,1.15 0 1,0 -2.3,0M334.63,92.55a1.15,1.15 0 1,0 2.3,0a1.15,1.15 0 1,0 -2.3,0M334.63,89.59a1.15,1.15 0 1,0 2.3,0a1.15,1.15 0 1,0 -2.3,0M334.63,74.82a1.15,1.15 0 1,0 2.3,0a1.15,1.15 0 1,0 -2.3,0M334.63,69.89a1.15,1.15 0 1,0 2.3,0a1.15,1.15 0 1,0 -2.3,0M334.63,63.00a1.15,1.15 0 1,0 2.3,0a1.15,1.15 0 1,0 -2.3,0M347.05,68.91a1.15,1.15 0 1,0 2.3,0a1.15,1.15 0 1,0 -2.3,0M347.05,59.06a1.15,1.15 0 1,0 2.3,0a1.15,1.15 0 1,0 -2.3,0M359.47,152.63a1.15,1.15 0 1,0 2.3,0a1.15,1.15 0 1,0 -2.3,0M359.47,90.58a1.15,1.15 0 1,0 2.3,0a1.15,1.15 0 1,0 -2.3,0M359.47,88.61a1.15,1.15 0 1,0 2.3,0a1.15,1.15 0 1,0 -2.3,0M359.47,86.64a1.15,1.15 0 1,0 2.3,0a1.15,1.15 0 1,0 -2.3,0M359.47,84.67a1.15,1.15 0 1,0 2.3,0a1.15,1.15 0 1,0 -2.3,0M371.89,59.06a1.15,1.15 0 1,0 2.3,0a1.15,1.15 0 1,0 -2.3,0M384.31,150.66a1.15,1.15 0 1,0 2.3,0a1.15,1.15 0 1,0 -2.3,0M384.31,147.71a1.15,1.15 0 1,0 2.3,0a1.15,1.15 0 1,0 -2.3,0M384.31,68.91a1.15,1.15 0 1,0 2.3,0a1.15,1.15 0 1,0 -2.3,0M391.93,118.16a1.15,1.15 0 1,0 2.3,0a1.15,1.15 0 1,0 -2.3,0M396.73,28.53a1.15,1.15 0 1,0 2.3,0a1.15,1.15 0 1,0 -2.3,0M409.15,49.21a1.15,1.15 0 1,0 2.3,0a1.15,1.15 0 1,0 -2.3,0M409.15,40.34a1.15,1.15 0 1,0 2.3,0a1.15,1.15 0 1,0 -2.3,0M409.15,34.04a1.15,1.15 0 1,0 2.3,0a1.15,1.15 0 1,0 -2.3,0M409.15,23.60a1.15,1.15 0 1,0 2.3,0a1.15,1.15 0 1,0 -2.3,0M416.77,122.10a1.15,1.15 0 1,0 2.3,0a1.15,1.15 0 1,0 -2.3,0M421.57,64.97a1.15,1.15 0 1,0 2.3,0a1.15,1.15 0 1,0 -2.3,0M421.57,63.00a1.15,1.15 0 1,0 2.3,0a1.15,1.15 0 1,0 -2.3,0M433.99,104.37a1.15,1.15 0 1,0 2.3,0a1.15,1.15 0 1,0 -2.3,0M433.99,102.40a1.15,1.15 0 1,0 2.3,0a1.15,1.15 0 1,0 -2.3,0M433.99,100.43a1.15,1.15 0 1,0 2.3,0a1.15,1.15 0 1,0 -2.3,0M433.99,98.46a1.15,1.15 0 1,0 2.3,0a1.15,1.15 0 1,0 -2.3,0M446.41,92.55a1.15,1.15 0 1,0 2.3,0a1.15,1.15 0 1,0 -2.3,0M446.41,90.58a1.15,1.15 0 1,0 2.3,0a1.15,1.15 0 1,0 -2.3,0M446.41,88.61a1.15,1.15 0 1,0 2.3,0a1.15,1.15 0 1,0 -2.3,0M446.41,86.64a1.15,1.15 0 1,0 2.3,0a1.15,1.15 0 1,0 -2.3,0M446.41,82.70a1.15,1.15 0 1,0 2.3,0a1.15,1.15 0 1,0 -2.3,0M446.41,73.83a1.15,1.15 0 1,0 2.3,0a1.15,1.15 0 1,0 -2.3,0" fill="#111"/>
<rect x="214.30" y="15.00" width="238.40" height="150.90" fill="none" stroke="#555" stroke-width="1.0" />
<text x="462.90" y="83.60" font-size="7.2" text-anchor="start" fill="#222" >group</text>
<line x1="466.60" y1="89.00" x2="466.60" y2="95.80" stroke="#444" stroke-width="0.5" />
<rect x="463.30" y="90.00" width="6.60" height="4.80" fill="#6bb15a" stroke="#333" stroke-width="0.45" />
<line x1="463.30" y1="92.40" x2="469.90" y2="92.40" stroke="#111" stroke-width="0.7" />
<text x="474.10" y="94.50" font-size="6.2" text-anchor="start" fill="#333" >normal</text>
<line x1="466.60" y1="97.10" x2="466.60" y2="103.90" stroke="#444" stroke-width="0.5" />
<rect x="463.30" y="98.10" width="6.60" height="4.80" fill="#f7a21c" stroke="#333" stroke-width="0.45" />
<line x1="463.30" y1="100.50" x2="469.90" y2="100.50" stroke="#111" stroke-width="0.7" />
<text x="474.10" y="102.60" font-size="6.2" text-anchor="start" fill="#333" >tumor</text>
<text x="38.20" y="214.70" font-size="6.7" text-anchor="middle" fill="#111" >BRCA1</text>
<text x="0" y="0" font-size="5.1" text-anchor="middle" fill="#222" transform="translate(5.20,271.80) rotate(-90)">log2(Expression+1)</text>
<line x1="13.50" y1="220.40" x2="14.80" y2="220.40" stroke="#555" stroke-width="0.4" />
<text x="13.00" y="221.80" font-size="4.0" text-anchor="end" fill="#666" >2.5</text>
<line x1="13.50" y1="240.30" x2="14.80" y2="240.30" stroke="#555" stroke-width="0.4" />
<text x="13.00" y="241.70" font-size="4.0" text-anchor="end" fill="#666" >2.0</text>
<line x1="13.50" y1="260.60" x2="14.80" y2="260.60" stroke="#555" stroke-width="0.4" />
<text x="13.00" y="262.00" font-size="4.0" text-anchor="end" fill="#666" >1.5</text>
<line x1="13.50" y1="280.00" x2="14.80" y2="280.00" stroke="#555" stroke-width="0.4" />
<text x="13.00" y="281.40" font-size="4.0" text-anchor="end" fill="#666" >1.0</text>
<line x1="13.50" y1="299.60" x2="14.80" y2="299.60" stroke="#555" stroke-width="0.4" />
<text x="13.00" y="301.00" font-size="4.0" text-anchor="end" fill="#666" >0.5</text>
<line x1="13.50" y1="319.40" x2="14.80" y2="319.40" stroke="#555" stroke-width="0.4" />
<text x="13.00" y="320.80" font-size="4.0" text-anchor="end" fill="#666" >0.0</text>
<line x1="27.50" y1="270.50" x2="27.50" y2="312.00" stroke="#333" stroke-width="0.5" />
<line x1="48.50" y1="224.10" x2="48.50" y2="312.00" stroke="#333" stroke-width="0.5" />
<rect x="20.70" y="282.50" width="13.60" height="15.20" fill="#6bb15a" stroke="#333" stroke-width="0.6" />
<rect x="41.70" y="247.00" width="13.60" height="36.30" fill="#f7a21c" stroke="#333" stroke-width="0.6" />
<line x1="20.70" y1="287.50" x2="34.30" y2="287.50" stroke="#222" stroke-width="1.0" />
<line x1="41.70" y1="264.40" x2="55.30" y2="264.40" stroke="#222" stroke-width="1.0" />
<path d="M27.5,272.6L48.5,234.5M27.5,273.7L48.5,244.0M27.5,274.4L48.5,253.7M27.5,275.1L48.5,237.2M27.5,275.3L48.5,246.0M27.5,275.3L48.5,228.8M27.5,276.1L48.5,232.9M27.5,276.1L48.5,252.5M27.5,276.3L48.5,245.1M27.5,277.7L48.5,239.2M27.5,278.2L48.5,254.8M27.5,279.0L48.5,257.1M27.5,279.6L48.5,243.5M27.5,280.1L48.5,239.1M27.5,280.3L48.5,257.6M27.5,280.7L48.5,263.5M27.5,282.1L48.5,253.8M27.5,282.4L48.5,263.0M27.5,282.7L48.5,249.3M27.5,282.8L48.5,264.6M27.5,283.9L48.5,255.7M27.5,284.0L48.5,245.0M27.5,284.7L48.5,256.9M27.5,285.4L48.5,255.6M27.5,285.6L48.5,269.6M27.5,285.7L48.5,244.2M27.5,286.5L48.5,262.7M27.5,286.8L48.5,250.1M27.5,286.8L48.5,259.2M27.5,287.2L48.5,278.2M27.5,288.2L48.5,267.6M27.5,288.2L48.5,280.3M27.5,288.6L48.5,250.5M27.5,289.8L48.5,229.5M27.5,290.3L48.5,280.2M27.5,292.1L48.5,277.0M27.5,293.2L48.5,264.9M27.5,294.3L48.5,265.5M27.5,295.9L48.5,225.1M27.5,296.1L48.5,279.3M27.5,296.5L48.5,284.2M27.5,297.9L48.5,281.2M27.5,298.6L48.5,267.8M27.5,299.9L48.5,277.2M27.5,300.4L48.5,263.8M27.5,300.7L48.5,283.3M27.5,301.0L48.5,284.6M27.5,301.2L48.5,297.5M27.5,301.2L48.5,257.2M27.5,301.4L48.5,288.2M27.5,301.6L48.5,284.3M27.5,302.0L48.5,268.8M27.5,302.5L48.5,301.7M27.5,303.3L48.5,279.4M27.5,303.7L48.5,291.0M27.5,304.3L48.5,299.0M27.5,305.0L48.5,309.4M27.5,306.0L48.5,296.9M27.5,306.3L48.5,304.8M27.5,306.7L48.5,287.2M27.5,306.9L48.5,293.9M27.5,307.8L48.5,277.3M27.5,308.0L48.5,258.4M27.5,308.2L48.5,295.2M27.5,309.3L48.5,295.7M27.5,311.3L48.5,301.6M27.5,311.5L48.5,300.6M27.5,311.8L48.5,281.3" stroke="#c6c6c6" stroke-width="0.5" stroke-opacity="0.9" fill="none"/>
<line x1="14.80" y1="219.00" x2="14.80" y2="324.60" stroke="#222" stroke-width="0.95" />
<line x1="14.80" y1="324.60" x2="61.40" y2="324.60" stroke="#222" stroke-width="0.95" />
<line x1="27.50" y1="324.60" x2="27.50" y2="325.80" stroke="#333" stroke-width="0.4" />
<line x1="48.50" y1="324.60" x2="48.50" y2="325.80" stroke="#333" stroke-width="0.4" />
<text x="27.50" y="329.80" font-size="4.25" text-anchor="middle" fill="#555" >normal</text>
<text x="48.50" y="329.80" font-size="4.25" text-anchor="middle" fill="#555" >tumor</text>
<text x="22.20" y="223.90" font-size="5.25" text-anchor="start" fill="#111" >p = 8.8e-10</text>
<path d="M26.5,272.6a1,1 0 1,0 2,0a1,1 0 1,0 -2,0M26.5,273.7a1,1 0 1,0 2,0a1,1 0 1,0 -2,0M26.5,274.4a1,1 0 1,0 2,0a1,1 0 1,0 -2,0M26.5,275.1a1,1 0 1,0 2,0a1,1 0 1,0 -2,0M26.5,275.3a1,1 0 1,0 2,0a1,1 0 1,0 -2,0M26.5,275.3a1,1 0 1,0 2,0a1,1 0 1,0 -2,0M26.5,276.1a1,1 0 1,0 2,0a1,1 0 1,0 -2,0M26.5,276.1a1,1 0 1,0 2,0a1,1 0 1,0 -2,0M26.5,276.3a1,1 0 1,0 2,0a1,1 0 1,0 -2,0M26.5,277.7a1,1 0 1,0 2,0a1,1 0 1,0 -2,0M26.5,278.2a1,1 0 1,0 2,0a1,1 0 1,0 -2,0M26.5,279.0a1,1 0 1,0 2,0a1,1 0 1,0 -2,0M26.5,279.6a1,1 0 1,0 2,0a1,1 0 1,0 -2,0M26.5,280.1a1,1 0 1,0 2,0a1,1 0 1,0 -2,0M26.5,280.3a1,1 0 1,0 2,0a1,1 0 1,0 -2,0M26.5,280.7a1,1 0 1,0 2,0a1,1 0 1,0 -2,0M26.5,282.1a1,1 0 1,0 2,0a1,1 0 1,0 -2,0M26.5,282.4a1,1 0 1,0 2,0a1,1 0 1,0 -2,0M26.5,282.7a1,1 0 1,0 2,0a1,1 0 1,0 -2,0M26.5,282.8a1,1 0 1,0 2,0a1,1 0 1,0 -2,0M26.5,283.9a1,1 0 1,0 2,0a1,1 0 1,0 -2,0M26.5,284.0a1,1 0 1,0 2,0a1,1 0 1,0 -2,0M26.5,284.7a1,1 0 1,0 2,0a1,1 0 1,0 -2,0M26.5,285.4a1,1 0 1,0 2,0a1,1 0 1,0 -2,0M26.5,285.6a1,1 0 1,0 2,0a1,1 0 1,0 -2,0M26.5,285.7a1,1 0 1,0 2,0a1,1 0 1,0 -2,0M26.5,286.5a1,1 0 1,0 2,0a1,1 0 1,0 -2,0M26.5,286.8a1,1 0 1,0 2,0a1,1 0 1,0 -2,0M26.5,286.8a1,1 0 1,0 2,0a1,1 0 1,0 -2,0M26.5,287.2a1,1 0 1,0 2,0a1,1 0 1,0 -2,0M26.5,288.2a1,1 0 1,0 2,0a1,1 0 1,0 -2,0M26.5,288.2a1,1 0 1,0 2,0a1,1 0 1,0 -2,0M26.5,288.6a1,1 0 1,0 2,0a1,1 0 1,0 -2,0M26.5,289.8a1,1 0 1,0 2,0a1,1 0 1,0 -2,0M26.5,290.3a1,1 0 1,0 2,0a1,1 0 1,0 -2,0M26.5,292.1a1,1 0 1,0 2,0a1,1 0 1,0 -2,0M26.5,293.2a1,1 0 1,0 2,0a1,1 0 1,0 -2,0M26.5,294.3a1,1 0 1,0 2,0a1,1 0 1,0 -2,0M26.5,295.9a1,1 0 1,0 2,0a1,1 0 1,0 -2,0M26.5,296.1a1,1 0 1,0 2,0a1,1 0 1,0 -2,0M26.5,296.5a1,1 0 1,0 2,0a1,1 0 1,0 -2,0M26.5,297.9a1,1 0 1,0 2,0a1,1 0 1,0 -2,0M26.5,298.6a1,1 0 1,0 2,0a1,1 0 1,0 -2,0M26.5,299.9a1,1 0 1,0 2,0a1,1 0 1,0 -2,0M26.5,300.4a1,1 0 1,0 2,0a1,1 0 1,0 -2,0M26.5,300.7a1,1 0 1,0 2,0a1,1 0 1,0 -2,0M26.5,301.0a1,1 0 1,0 2,0a1,1 0 1,0 -2,0M26.5,301.2a1,1 0 1,0 2,0a1,1 0 1,0 -2,0M26.5,301.2a1,1 0 1,0 2,0a1,1 0 1,0 -2,0M26.5,301.4a1,1 0 1,0 2,0a1,1 0 1,0 -2,0M26.5,301.6a1,1 0 1,0 2,0a1,1 0 1,0 -2,0M26.5,302.0a1,1 0 1,0 2,0a1,1 0 1,0 -2,0M26.5,302.5a1,1 0 1,0 2,0a1,1 0 1,0 -2,0M26.5,303.3a1,1 0 1,0 2,0a1,1 0 1,0 -2,0M26.5,303.7a1,1 0 1,0 2,0a1,1 0 1,0 -2,0M26.5,304.3a1,1 0 1,0 2,0a1,1 0 1,0 -2,0M26.5,305.0a1,1 0 1,0 2,0a1,1 0 1,0 -2,0M26.5,306.0a1,1 0 1,0 2,0a1,1 0 1,0 -2,0M26.5,306.3a1,1 0 1,0 2,0a1,1 0 1,0 -2,0M26.5,306.7a1,1 0 1,0 2,0a1,1 0 1,0 -2,0M26.5,306.9a1,1 0 1,0 2,0a1,1 0 1,0 -2,0M26.5,307.8a1,1 0 1,0 2,0a1,1 0 1,0 -2,0M26.5,308.0a1,1 0 1,0 2,0a1,1 0 1,0 -2,0M26.5,308.2a1,1 0 1,0 2,0a1,1 0 1,0 -2,0M26.5,309.3a1,1 0 1,0 2,0a1,1 0 1,0 -2,0M26.5,311.3a1,1 0 1,0 2,0a1,1 0 1,0 -2,0M26.5,311.5a1,1 0 1,0 2,0a1,1 0 1,0 -2,0M26.5,311.8a1,1 0 1,0 2,0a1,1 0 1,0 -2,0M26.5,319.4a1,1 0 1,0 2,0a1,1 0 1,0 -2,0" fill="#6bb15a" fill-opacity="0.85"/>
<path d="M47.5,234.5a1,1 0 1,0 2,0a1,1 0 1,0 -2,0M47.5,244.0a1,1 0 1,0 2,0a1,1 0 1,0 -2,0M47.5,253.7a1,1 0 1,0 2,0a1,1 0 1,0 -2,0M47.5,237.2a1,1 0 1,0 2,0a1,1 0 1,0 -2,0M47.5,246.0a1,1 0 1,0 2,0a1,1 0 1,0 -2,0M47.5,228.8a1,1 0 1,0 2,0a1,1 0 1,0 -2,0M47.5,232.9a1,1 0 1,0 2,0a1,1 0 1,0 -2,0M47.5,252.5a1,1 0 1,0 2,0a1,1 0 1,0 -2,0M47.5,245.1a1,1 0 1,0 2,0a1,1 0 1,0 -2,0M47.5,239.2a1,1 0 1,0 2,0a1,1 0 1,0 -2,0M47.5,254.8a1,1 0 1,0 2,0a1,1 0 1,0 -2,0M47.5,257.1a1,1 0 1,0 2,0a1,1 0 1,0 -2,0M47.5,243.5a1,1 0 1,0 2,0a1,1 0 1,0 -2,0M47.5,239.1a1,1 0 1,0 2,0a1,1 0 1,0 -2,0M47.5,257.6a1,1 0 1,0 2,0a1,1 0 1,0 -2,0M47.5,263.5a1,1 0 1,0 2,0a1,1 0 1,0 -2,0M47.5,253.8a1,1 0 1,0 2,0a1,1 0 1,0 -2,0M47.5,263.0a1,1 0 1,0 2,0a1,1 0 1,0 -2,0M47.5,249.3a1,1 0 1,0 2,0a1,1 0 1,0 -2,0M47.5,264.6a1,1 0 1,0 2,0a1,1 0 1,0 -2,0M47.5,255.7a1,1 0 1,0 2,0a1,1 0 1,0 -2,0M47.5,245.0a1,1 0 1,0 2,0a1,1 0 1,0 -2,0M47.5,256.9a1,1 0 1,0 2,0a1,1 0 1,0 -2,0M47.5,255.6a1,1 0 1,0 2,0a1,1 0 1,0 -2,0M47.5,269.6a1,1 0 1,0 2,0a1,1 0 1,0 -2,0M47.5,244.2a1,1 0 1,0 2,0a1,1 0 1,0 -2,0M47.5,262.7a1,1 0 1,0 2,0a1,1 0 1,0 -2,0M47.5,250.1a1,1 0 1,0 2,0a1,1 0 1,0 -2,0M47.5,259.2a1,1 0 1,0 2,0a1,1 0 1,0 -2,0M47.5,278.2a1,1 0 1,0 2,0a1,1 0 1,0 -2,0M47.5,267.6a1,1 0 1,0 2,0a1,1 0 1,0 -2,0M47.5,280.3a1,1 0 1,0 2,0a1,1 0 1,0 -2,0M47.5,250.5a1,1 0 1,0 2,0a1,1 0 1,0 -2,0M47.5,229.5a1,1 0 1,0 2,0a1,1 0 1,0 -2,0M47.5,280.2a1,1 0 1,0 2,0a1,1 0 1,0 -2,0M47.5,277.0a1,1 0 1,0 2,0a1,1 0 1,0 -2,0M47.5,264.9a1,1 0 1,0 2,0a1,1 0 1,0 -2,0M47.5,265.5a1,1 0 1,0 2,0a1,1 0 1,0 -2,0M47.5,225.1a1,1 0 1,0 2,0a1,1 0 1,0 -2,0M47.5,279.3a1,1 0 1,0 2,0a1,1 0 1,0 -2,0M47.5,284.2a1,1 0 1,0 2,0a1,1 0 1,0 -2,0M47.5,281.2a1,1 0 1,0 2,0a1,1 0 1,0 -2,0M47.5,267.8a1,1 0 1,0 2,0a1,1 0 1,0 -2,0M47.5,277.2a1,1 0 1,0 2,0a1,1 0 1,0 -2,0M47.5,263.8a1,1 0 1,0 2,0a1,1 0 1,0 -2,0M47.5,283.3a1,1 0 1,0 2,0a1,1 0 1,0 -2,0M47.5,284.6a1,1 0 1,0 2,0a1,1 0 1,0 -2,0M47.5,297.5a1,1 0 1,0 2,0a1,1 0 1,0 -2,0M47.5,257.2a1,1 0 1,0 2,0a1,1 0 1,0 -2,0M47.5,288.2a1,1 0 1,0 2,0a1,1 0 1,0 -2,0M47.5,284.3a1,1 0 1,0 2,0a1,1 0 1,0 -2,0M47.5,268.8a1,1 0 1,0 2,0a1,1 0 1,0 -2,0M47.5,301.7a1,1 0 1,0 2,0a1,1 0 1,0 -2,0M47.5,279.4a1,1 0 1,0 2,0a1,1 0 1,0 -2,0M47.5,291.0a1,1 0 1,0 2,0a1,1 0 1,0 -2,0M47.5,299.0a1,1 0 1,0 2,0a1,1 0 1,0 -2,0M47.5,309.4a1,1 0 1,0 2,0a1,1 0 1,0 -2,0M47.5,296.9a1,1 0 1,0 2,0a1,1 0 1,0 -2,0M47.5,304.8a1,1 0 1,0 2,0a1,1 0 1,0 -2,0M47.5,287.2a1,1 0 1,0 2,0a1,1 0 1,0 -2,0M47.5,293.9a1,1 0 1,0 2,0a1,1 0 1,0 -2,0M47.5,277.3a1,1 0 1,0 2,0a1,1 0 1,0 -2,0M47.5,258.4a1,1 0 1,0 2,0a1,1 0 1,0 -2,0M47.5,295.2a1,1 0 1,0 2,0a1,1 0 1,0 -2,0M47.5,295.7a1,1 0 1,0 2,0a1,1 0 1,0 -2,0M47.5,301.6a1,1 0 1,0 2,0a1,1 0 1,0 -2,0M47.5,300.6a1,1 0 1,0 2,0a1,1 0 1,0 -2,0M47.5,281.3a1,1 0 1,0 2,0a1,1 0 1,0 -2,0" fill="#f7a21c" fill-opacity="0.85"/>
<text x="108.25" y="214.70" font-size="6.7" text-anchor="middle" fill="#111" >PALB2</text>
<text x="0" y="0" font-size="5.1" text-anchor="middle" fill="#222" transform="translate(75.25,271.80) rotate(-90)">log2(Expression+1)</text>
<line x1="83.55" y1="220.50" x2="84.85" y2="220.50" stroke="#555" stroke-width="0.4" />
<text x="83.05" y="221.90" font-size="4.0" text-anchor="end" fill="#666" >2.4</text>
<line x1="83.55" y1="246.10" x2="84.85" y2="246.10" stroke="#555" stroke-width="0.4" />
<text x="83.05" y="247.50" font-size="4.0" text-anchor="end" fill="#666" >2.0</text>
<line x1="83.55" y1="272.30" x2="84.85" y2="272.30" stroke="#555" stroke-width="0.4" />
<text x="83.05" y="273.70" font-size="4.0" text-anchor="end" fill="#666" >1.6</text>
<line x1="83.55" y1="298.20" x2="84.85" y2="298.20" stroke="#555" stroke-width="0.4" />
<text x="83.05" y="299.60" font-size="4.0" text-anchor="end" fill="#666" >1.2</text>
<line x1="83.55" y1="323.80" x2="84.85" y2="323.80" stroke="#555" stroke-width="0.4" />
<text x="83.05" y="325.20" font-size="4.0" text-anchor="end" fill="#666" >0.8</text>
<line x1="97.55" y1="258.80" x2="97.55" y2="303.30" stroke="#333" stroke-width="0.5" />
<line x1="118.55" y1="223.60" x2="118.55" y2="295.60" stroke="#333" stroke-width="0.5" />
<rect x="90.75" y="273.30" width="13.60" height="13.30" fill="#6bb15a" stroke="#333" stroke-width="0.6" />
<rect x="111.75" y="248.50" width="13.60" height="20.10" fill="#f7a21c" stroke="#333" stroke-width="0.6" />
<line x1="90.75" y1="278.80" x2="104.35" y2="278.80" stroke="#222" stroke-width="1.0" />
<line x1="111.75" y1="260.40" x2="125.35" y2="260.40" stroke="#222" stroke-width="1.0" />
<path d="M97.5,261.4L118.5,227.6M97.5,262.0L118.5,234.3M97.5,262.5L118.5,248.0M97.5,262.7L118.5,240.9M97.5,263.5L118.5,246.4M97.5,265.5L118.5,241.6M97.5,265.7L118.5,241.9M97.5,266.1L118.5,252.9M97.5,267.0L118.5,238.6M97.5,267.9L118.5,242.2M97.5,269.0L118.5,251.3M97.5,269.6L118.5,253.9M97.5,270.6L118.5,251.9M97.5,271.7L118.5,255.1M97.5,271.9L118.5,242.7M97.5,272.2L118.5,251.6M97.5,272.8L118.5,254.8M97.5,273.4L118.5,257.5M97.5,273.9L118.5,252.8M97.5,274.0L118.5,240.2M97.5,274.3L118.5,225.4M97.5,274.7L118.5,237.3M97.5,274.7L118.5,233.3M97.5,275.5L118.5,261.8M97.5,276.4L118.5,260.3M97.5,276.6L118.5,224.7M97.5,276.8L118.5,265.4M97.5,278.0L118.5,265.2M97.5,278.0L118.5,224.6M97.5,278.4L118.5,243.1M97.5,278.7L118.5,265.6M97.5,279.8L118.5,266.8M97.5,280.3L118.5,266.3M97.5,280.3L118.5,262.1M97.5,281.3L118.5,264.7M97.5,281.6L118.5,260.8M97.5,281.7L118.5,265.8M97.5,282.8L118.5,258.1M97.5,282.9L118.5,252.0M97.5,283.5L118.5,268.4M97.5,283.5L118.5,275.4M97.5,284.2L118.5,260.4M97.5,284.6L118.5,260.5M97.5,285.0L118.5,255.5M97.5,285.2L118.5,266.0M97.5,285.8L118.5,271.7M97.5,286.3L118.5,270.9M97.5,287.6L118.5,256.8M97.5,288.4L118.5,265.5M97.5,289.7L118.5,275.2M97.5,289.8L118.5,283.2M97.5,290.0L118.5,272.8M97.5,290.6L118.5,285.2M97.5,293.3L118.5,275.9M97.5,295.0L118.5,268.6M97.5,295.2L118.5,280.6M97.5,295.5L118.5,295.3M97.5,295.6L118.5,278.7M97.5,295.8L118.5,294.1M97.5,298.0L118.5,265.8M97.5,298.1L118.5,268.4M97.5,298.3L118.5,282.7M97.5,299.0L118.5,277.8M97.5,299.6L118.5,282.9M97.5,300.5L118.5,284.7M97.5,300.6L118.5,260.0M97.5,301.5L118.5,275.3M97.5,302.8L118.5,285.5" stroke="#c6c6c6" stroke-width="0.5" stroke-opacity="0.9" fill="none"/>
<line x1="84.85" y1="219.00" x2="84.85" y2="324.60" stroke="#222" stroke-width="0.95" />
<line x1="84.85" y1="324.60" x2="131.45" y2="324.60" stroke="#222" stroke-width="0.95" />
<line x1="97.55" y1="324.60" x2="97.55" y2="325.80" stroke="#333" stroke-width="0.4" />
<line x1="118.55" y1="324.60" x2="118.55" y2="325.80" stroke="#333" stroke-width="0.4" />
<text x="97.55" y="329.80" font-size="4.25" text-anchor="middle" fill="#555" >normal</text>
<text x="118.55" y="329.80" font-size="4.25" text-anchor="middle" fill="#555" >tumor</text>
<text x="92.25" y="223.90" font-size="5.25" text-anchor="start" fill="#111" >p = 1.1e-12</text>
<path d="M96.5,261.4a1,1 0 1,0 2,0a1,1 0 1,0 -2,0M96.5,262.0a1,1 0 1,0 2,0a1,1 0 1,0 -2,0M96.5,262.5a1,1 0 1,0 2,0a1,1 0 1,0 -2,0M96.5,262.7a1,1 0 1,0 2,0a1,1 0 1,0 -2,0M96.5,263.5a1,1 0 1,0 2,0a1,1 0 1,0 -2,0M96.5,265.5a1,1 0 1,0 2,0a1,1 0 1,0 -2,0M96.5,265.7a1,1 0 1,0 2,0a1,1 0 1,0 -2,0M96.5,266.1a1,1 0 1,0 2,0a1,1 0 1,0 -2,0M96.5,267.0a1,1 0 1,0 2,0a1,1 0 1,0 -2,0M96.5,267.9a1,1 0 1,0 2,0a1,1 0 1,0 -2,0M96.5,269.0a1,1 0 1,0 2,0a1,1 0 1,0 -2,0M96.5,269.6a1,1 0 1,0 2,0a1,1 0 1,0 -2,0M96.5,270.6a1,1 0 1,0 2,0a1,1 0 1,0 -2,0M96.5,271.7a1,1 0 1,0 2,0a1,1 0 1,0 -2,0M96.5,271.9a1,1 0 1,0 2,0a1,1 0 1,0 -2,0M96.5,272.2a1,1 0 1,0 2,0a1,1 0 1,0 -2,0M96.5,272.8a1,1 0 1,0 2,0a1,1 0 1,0 -2,0M96.5,273.4a1,1 0 1,0 2,0a1,1 0 1,0 -2,0M96.5,273.9a1,1 0 1,0 2,0a1,1 0 1,0 -2,0M96.5,274.0a1,1 0 1,0 2,0a1,1 0 1,0 -2,0M96.5,274.3a1,1 0 1,0 2,0a1,1 0 1,0 -2,0M96.5,274.7a1,1 0 1,0 2,0a1,1 0 1,0 -2,0M96.5,274.7a1,1 0 1,0 2,0a1,1 0 1,0 -2,0M96.5,275.5a1,1 0 1,0 2,0a1,1 0 1,0 -2,0M96.5,276.4a1,1 0 1,0 2,0a1,1 0 1,0 -2,0M96.5,276.6a1,1 0 1,0 2,0a1,1 0 1,0 -2,0M96.5,276.8a1,1 0 1,0 2,0a1,1 0 1,0 -2,0M96.5,278.0a1,1 0 1,0 2,0a1,1 0 1,0 -2,0M96.5,278.0a1,1 0 1,0 2,0a1,1 0 1,0 -2,0M96.5,278.4a1,1 0 1,0 2,0a1,1 0 1,0 -2,0M96.5,278.7a1,1 0 1,0 2,0a1,1 0 1,0 -2,0M96.5,279.8a1,1 0 1,0 2,0a1,1 0 1,0 -2,0M96.5,280.3a1,1 0 1,0 2,0a1,1 0 1,0 -2,0M96.5,280.3a1,1 0 1,0 2,0a1,1 0 1,0 -2,0M96.5,281.3a1,1 0 1,0 2,0a1,1 0 1,0 -2,0M96.5,281.6a1,1 0 1,0 2,0a1,1 0 1,0 -2,0M96.5,281.7a1,1 0 1,0 2,0a1,1 0 1,0 -2,0M96.5,282.8a1,1 0 1,0 2,0a1,1 0 1,0 -2,0M96.5,282.9a1,1 0 1,0 2,0a1,1 0 1,0 -2,0M96.5,283.5a1,1 0 1,0 2,0a1,1 0 1,0 -2,0M96.5,283.5a1,1 0 1,0 2,0a1,1 0 1,0 -2,0M96.5,284.2a1,1 0 1,0 2,0a1,1 0 1,0 -2,0M96.5,284.6a1,1 0 1,0 2,0a1,1 0 1,0 -2,0M96.5,285.0a1,1 0 1,0 2,0a1,1 0 1,0 -2,0M96.5,285.2a1,1 0 1,0 2,0a1,1 0 1,0 -2,0M96.5,285.8a1,1 0 1,0 2,0a1,1 0 1,0 -2,0M96.5,286.3a1,1 0 1,0 2,0a1,1 0 1,0 -2,0M96.5,287.6a1,1 0 1,0 2,0a1,1 0 1,0 -2,0M96.5,288.4a1,1 0 1,0 2,0a1,1 0 1,0 -2,0M96.5,289.7a1,1 0 1,0 2,0a1,1 0 1,0 -2,0M96.5,289.8a1,1 0 1,0 2,0a1,1 0 1,0 -2,0M96.5,290.0a1,1 0 1,0 2,0a1,1 0 1,0 -2,0M96.5,290.6a1,1 0 1,0 2,0a1,1 0 1,0 -2,0M96.5,293.3a1,1 0 1,0 2,0a1,1 0 1,0 -2,0M96.5,295.0a1,1 0 1,0 2,0a1,1 0 1,0 -2,0M96.5,295.2a1,1 0 1,0 2,0a1,1 0 1,0 -2,0M96.5,295.5a1,1 0 1,0 2,0a1,1 0 1,0 -2,0M96.5,295.6a1,1 0 1,0 2,0a1,1 0 1,0 -2,0M96.5,295.8a1,1 0 1,0 2,0a1,1 0 1,0 -2,0M96.5,298.0a1,1 0 1,0 2,0a1,1 0 1,0 -2,0M96.5,298.1a1,1 0 1,0 2,0a1,1 0 1,0 -2,0M96.5,298.3a1,1 0 1,0 2,0a1,1 0 1,0 -2,0M96.5,299.0a1,1 0 1,0 2,0a1,1 0 1,0 -2,0M96.5,299.6a1,1 0 1,0 2,0a1,1 0 1,0 -2,0M96.5,300.5a1,1 0 1,0 2,0a1,1 0 1,0 -2,0M96.5,300.6a1,1 0 1,0 2,0a1,1 0 1,0 -2,0M96.5,301.5a1,1 0 1,0 2,0a1,1 0 1,0 -2,0M96.5,302.8a1,1 0 1,0 2,0a1,1 0 1,0 -2,0M96.5,319.7a1,1 0 1,0 2,0a1,1 0 1,0 -2,0" fill="#6bb15a" fill-opacity="0.85"/>
<path d="M117.5,227.6a1,1 0 1,0 2,0a1,1 0 1,0 -2,0M117.5,234.3a1,1 0 1,0 2,0a1,1 0 1,0 -2,0M117.5,248.0a1,1 0 1,0 2,0a1,1 0 1,0 -2,0M117.5,240.9a1,1 0 1,0 2,0a1,1 0 1,0 -2,0M117.5,246.4a1,1 0 1,0 2,0a1,1 0 1,0 -2,0M117.5,241.6a1,1 0 1,0 2,0a1,1 0 1,0 -2,0M117.5,241.9a1,1 0 1,0 2,0a1,1 0 1,0 -2,0M117.5,252.9a1,1 0 1,0 2,0a1,1 0 1,0 -2,0M117.5,238.6a1,1 0 1,0 2,0a1,1 0 1,0 -2,0M117.5,242.2a1,1 0 1,0 2,0a1,1 0 1,0 -2,0M117.5,251.3a1,1 0 1,0 2,0a1,1 0 1,0 -2,0M117.5,253.9a1,1 0 1,0 2,0a1,1 0 1,0 -2,0M117.5,251.9a1,1 0 1,0 2,0a1,1 0 1,0 -2,0M117.5,255.1a1,1 0 1,0 2,0a1,1 0 1,0 -2,0M117.5,242.7a1,1 0 1,0 2,0a1,1 0 1,0 -2,0M117.5,251.6a1,1 0 1,0 2,0a1,1 0 1,0 -2,0M117.5,254.8a1,1 0 1,0 2,0a1,1 0 1,0 -2,0M117.5,257.5a1,1 0 1,0 2,0a1,1 0 1,0 -2,0M117.5,252.8a1,1 0 1,0 2,0a1,1 0 1,0 -2,0M117.5,240.2a1,1 0 1,0 2,0a1,1 0 1,0 -2,0M117.5,225.4a1,1 0 1,0 2,0a1,1 0 1,0 -2,0M117.5,237.3a1,1 0 1,0 2,0a1,1 0 1,0 -2,0M117.5,233.3a1,1 0 1,0 2,0a1,1 0 1,0 -2,0M117.5,261.8a1,1 0 1,0 2,0a1,1 0 1,0 -2,0M117.5,260.3a1,1 0 1,0 2,0a1,1 0 1,0 -2,0M117.5,224.7a1,1 0 1,0 2,0a1,1 0 1,0 -2,0M117.5,265.4a1,1 0 1,0 2,0a1,1 0 1,0 -2,0M117.5,265.2a1,1 0 1,0 2,0a1,1 0 1,0 -2,0M117.5,224.6a1,1 0 1,0 2,0a1,1 0 1,0 -2,0M117.5,243.1a1,1 0 1,0 2,0a1,1 0 1,0 -2,0M117.5,265.6a1,1 0 1,0 2,0a1,1 0 1,0 -2,0M117.5,266.8a1,1 0 1,0 2,0a1,1 0 1,0 -2,0M117.5,266.3a1,1 0 1,0 2,0a1,1 0 1,0 -2,0M117.5,262.1a1,1 0 1,0 2,0a1,1 0 1,0 -2,0M117.5,264.7a1,1 0 1,0 2,0a1,1 0 1,0 -2,0M117.5,260.8a1,1 0 1,0 2,0a1,1 0 1,0 -2,0M117.5,265.8a1,1 0 1,0 2,0a1,1 0 1,0 -2,0M117.5,258.1a1,1 0 1,0 2,0a1,1 0 1,0 -2,0M117.5,252.0a1,1 0 1,0 2,0a1,1 0 1,0 -2,0M117.5,268.4a1,1 0 1,0 2,0a1,1 0 1,0 -2,0M117.5,275.4a1,1 0 1,0 2,0a1,1 0 1,0 -2,0M117.5,260.4a1,1 0 1,0 2,0a1,1 0 1,0 -2,0M117.5,260.5a1,1 0 1,0 2,0a1,1 0 1,0 -2,0M117.5,255.5a1,1 0 1,0 2,0a1,1 0 1,0 -2,0M117.5,266.0a1,1 0 1,0 2,0a1,1 0 1,0 -2,0M117.5,271.7a1,1 0 1,0 2,0a1,1 0 1,0 -2,0M117.5,270.9a1,1 0 1,0 2,0a1,1 0 1,0 -2,0M117.5,256.8a1,1 0 1,0 2,0a1,1 0 1,0 -2,0M117.5,265.5a1,1 0 1,0 2,0a1,1 0 1,0 -2,0M117.5,275.2a1,1 0 1,0 2,0a1,1 0 1,0 -2,0M117.5,283.2a1,1 0 1,0 2,0a1,1 0 1,0 -2,0M117.5,272.8a1,1 0 1,0 2,0a1,1 0 1,0 -2,0M117.5,285.2a1,1 0 1,0 2,0a1,1 0 1,0 -2,0M117.5,275.9a1,1 0 1,0 2,0a1,1 0 1,0 -2,0M117.5,268.6a1,1 0 1,0 2,0a1,1 0 1,0 -2,0M117.5,280.6a1,1 0 1,0 2,0a1,1 0 1,0 -2,0M117.5,295.3a1,1 0 1,0 2,0a1,1 0 1,0 -2,0M117.5,278.7a1,1 0 1,0 2,0a1,1 0 1,0 -2,0M117.5,294.1a1,1 0 1,0 2,0a1,1 0 1,0 -2,0M117.5,265.8a1,1 0 1,0 2,0a1,1 0 1,0 -2,0M117.5,268.4a1,1 0 1,0 2,0a1,1 0 1,0 -2,0M117.5,282.7a1,1 0 1,0 2,0a1,1 0 1,0 -2,0M117.5,277.8a1,1 0 1,0 2,0a1,1 0 1,0 -2,0M117.5,282.9a1,1 0 1,0 2,0a1,1 0 1,0 -2,0M117.5,284.7a1,1 0 1,0 2,0a1,1 0 1,0 -2,0M117.5,260.0a1,1 0 1,0 2,0a1,1 0 1,0 -2,0M117.5,275.3a1,1 0 1,0 2,0a1,1 0 1,0 -2,0M117.5,285.5a1,1 0 1,0 2,0a1,1 0 1,0 -2,0" fill="#f7a21c" fill-opacity="0.85"/>
<text x="178.30" y="214.70" font-size="6.7" text-anchor="middle" fill="#111" >BRCA2</text>
<text x="0" y="0" font-size="5.1" text-anchor="middle" fill="#222" transform="translate(145.30,271.80) rotate(-90)">log2(Expression+1)</text>
<line x1="153.60" y1="230.20" x2="154.90" y2="230.20" stroke="#555" stroke-width="0.4" />
<text x="153.10" y="231.60" font-size="4.0" text-anchor="end" fill="#666" >2</text>
<line x1="153.60" y1="256.70" x2="154.90" y2="256.70" stroke="#555" stroke-width="0.4" />
<text x="153.10" y="258.10" font-size="4.0" text-anchor="end" fill="#666" >1</text>
<line x1="153.60" y1="283.30" x2="154.90" y2="283.30" stroke="#555" stroke-width="0.4" />
<text x="153.10" y="284.70" font-size="4.0" text-anchor="end" fill="#666" >0</text>
<line x1="153.60" y1="310.50" x2="154.90" y2="310.50" stroke="#555" stroke-width="0.4" />
<text x="153.10" y="311.90" font-size="4.0" text-anchor="end" fill="#666" >-1</text>
<line x1="167.60" y1="264.50" x2="167.60" y2="303.30" stroke="#333" stroke-width="0.5" />
<line x1="188.60" y1="223.60" x2="188.60" y2="300.90" stroke="#333" stroke-width="0.5" />
<rect x="160.80" y="276.30" width="13.60" height="14.30" fill="#6bb15a" stroke="#333" stroke-width="0.6" />
<rect x="181.80" y="255.30" width="13.60" height="23.10" fill="#f7a21c" stroke="#333" stroke-width="0.6" />
<line x1="160.80" y1="281.90" x2="174.40" y2="281.90" stroke="#222" stroke-width="1.0" />
<line x1="181.80" y1="265.50" x2="195.40" y2="265.50" stroke="#222" stroke-width="1.0" />
<path d="M167.6,265.3L188.6,242.7M167.6,266.6L188.6,241.4M167.6,267.8L188.6,226.5M167.6,268.5L188.6,255.1M167.6,269.0L188.6,230.2M167.6,269.3L188.6,257.3M167.6,269.5L188.6,233.2M167.6,270.2L188.6,242.2M167.6,270.6L188.6,230.2M167.6,270.9L188.6,241.0M167.6,271.1L188.6,244.3M167.6,272.1L188.6,258.0M167.6,272.2L188.6,237.1M167.6,272.4L188.6,249.6M167.6,272.4L188.6,243.0M167.6,274.0L188.6,240.0M167.6,274.2L188.6,260.0M167.6,275.0L188.6,258.7M167.6,276.8L188.6,257.7M167.6,277.6L188.6,261.5M167.6,277.6L188.6,236.8M167.6,277.7L188.6,262.5M167.6,279.2L188.6,226.5M167.6,279.5L188.6,265.7M167.6,279.7L188.6,262.4M167.6,280.3L188.6,261.0M167.6,280.3L188.6,248.6M167.6,280.6L188.6,263.8M167.6,280.7L188.6,260.7M167.6,281.3L188.6,258.7M167.6,281.4L188.6,261.9M167.6,281.7L188.6,272.0M167.6,281.8L188.6,277.1M167.6,281.9L188.6,266.4M167.6,283.2L188.6,274.1M167.6,283.4L188.6,274.4M167.6,283.8L188.6,274.7M167.6,284.2L188.6,274.5M167.6,284.8L188.6,263.3M167.6,286.0L188.6,285.3M167.6,286.6L188.6,283.9M167.6,286.6L188.6,281.2M167.6,286.7L188.6,269.9M167.6,288.8L188.6,277.5M167.6,289.6L188.6,286.9M167.6,290.3L188.6,280.5M167.6,290.5L188.6,286.9M167.6,291.6L188.6,269.5M167.6,292.0L188.6,258.3M167.6,292.6L188.6,285.8M167.6,293.4L188.6,283.5M167.6,294.0L188.6,278.0M167.6,294.2L188.6,297.1M167.6,294.5L188.6,295.6M167.6,296.0L188.6,287.3M167.6,296.4L188.6,299.7M167.6,296.6L188.6,269.8M167.6,297.1L188.6,272.5M167.6,298.7L188.6,273.9M167.6,298.8L188.6,294.5M167.6,299.7L188.6,300.7M167.6,300.1L188.6,287.5M167.6,300.2L188.6,268.1M167.6,300.2L188.6,242.4M167.6,300.3L188.6,297.0M167.6,300.4L188.6,300.3M167.6,301.0L188.6,271.5M167.6,302.6L188.6,298.7" stroke="#c6c6c6" stroke-width="0.5" stroke-opacity="0.9" fill="none"/>
<line x1="154.90" y1="219.00" x2="154.90" y2="324.60" stroke="#222" stroke-width="0.95" />
<line x1="154.90" y1="324.60" x2="201.50" y2="324.60" stroke="#222" stroke-width="0.95" />
<line x1="167.60" y1="324.60" x2="167.60" y2="325.80" stroke="#333" stroke-width="0.4" />
<line x1="188.60" y1="324.60" x2="188.60" y2="325.80" stroke="#333" stroke-width="0.4" />
<text x="167.60" y="329.80" font-size="4.25" text-anchor="middle" fill="#555" >normal</text>
<text x="188.60" y="329.80" font-size="4.25" text-anchor="middle" fill="#555" >tumor</text>
<text x="162.30" y="223.90" font-size="5.25" text-anchor="start" fill="#111" >p = 8.8e-08</text>
<path d="M166.6,265.3a1,1 0 1,0 2,0a1,1 0 1,0 -2,0M166.6,266.6a1,1 0 1,0 2,0a1,1 0 1,0 -2,0M166.6,267.8a1,1 0 1,0 2,0a1,1 0 1,0 -2,0M166.6,268.5a1,1 0 1,0 2,0a1,1 0 1,0 -2,0M166.6,269.0a1,1 0 1,0 2,0a1,1 0 1,0 -2,0M166.6,269.3a1,1 0 1,0 2,0a1,1 0 1,0 -2,0M166.6,269.5a1,1 0 1,0 2,0a1,1 0 1,0 -2,0M166.6,270.2a1,1 0 1,0 2,0a1,1 0 1,0 -2,0M166.6,270.6a1,1 0 1,0 2,0a1,1 0 1,0 -2,0M166.6,270.9a1,1 0 1,0 2,0a1,1 0 1,0 -2,0M166.6,271.1a1,1 0 1,0 2,0a1,1 0 1,0 -2,0M166.6,272.1a1,1 0 1,0 2,0a1,1 0 1,0 -2,0M166.6,272.2a1,1 0 1,0 2,0a1,1 0 1,0 -2,0M166.6,272.4a1,1 0 1,0 2,0a1,1 0 1,0 -2,0M166.6,272.4a1,1 0 1,0 2,0a1,1 0 1,0 -2,0M166.6,274.0a1,1 0 1,0 2,0a1,1 0 1,0 -2,0M166.6,274.2a1,1 0 1,0 2,0a1,1 0 1,0 -2,0M166.6,275.0a1,1 0 1,0 2,0a1,1 0 1,0 -2,0M166.6,276.8a1,1 0 1,0 2,0a1,1 0 1,0 -2,0M166.6,277.6a1,1 0 1,0 2,0a1,1 0 1,0 -2,0M166.6,277.6a1,1 0 1,0 2,0a1,1 0 1,0 -2,0M166.6,277.7a1,1 0 1,0 2,0a1,1 0 1,0 -2,0M166.6,279.2a1,1 0 1,0 2,0a1,1 0 1,0 -2,0M166.6,279.5a1,1 0 1,0 2,0a1,1 0 1,0 -2,0M166.6,279.7a1,1 0 1,0 2,0a1,1 0 1,0 -2,0M166.6,280.3a1,1 0 1,0 2,0a1,1 0 1,0 -2,0M166.6,280.3a1,1 0 1,0 2,0a1,1 0 1,0 -2,0M166.6,280.6a1,1 0 1,0 2,0a1,1 0 1,0 -2,0M166.6,280.7a1,1 0 1,0 2,0a1,1 0 1,0 -2,0M166.6,281.3a1,1 0 1,0 2,0a1,1 0 1,0 -2,0M166.6,281.4a1,1 0 1,0 2,0a1,1 0 1,0 -2,0M166.6,281.7a1,1 0 1,0 2,0a1,1 0 1,0 -2,0M166.6,281.8a1,1 0 1,0 2,0a1,1 0 1,0 -2,0M166.6,281.9a1,1 0 1,0 2,0a1,1 0 1,0 -2,0M166.6,283.2a1,1 0 1,0 2,0a1,1 0 1,0 -2,0M166.6,283.4a1,1 0 1,0 2,0a1,1 0 1,0 -2,0M166.6,283.8a1,1 0 1,0 2,0a1,1 0 1,0 -2,0M166.6,284.2a1,1 0 1,0 2,0a1,1 0 1,0 -2,0M166.6,284.8a1,1 0 1,0 2,0a1,1 0 1,0 -2,0M166.6,286.0a1,1 0 1,0 2,0a1,1 0 1,0 -2,0M166.6,286.6a1,1 0 1,0 2,0a1,1 0 1,0 -2,0M166.6,286.6a1,1 0 1,0 2,0a1,1 0 1,0 -2,0M166.6,286.7a1,1 0 1,0 2,0a1,1 0 1,0 -2,0M166.6,288.8a1,1 0 1,0 2,0a1,1 0 1,0 -2,0M166.6,289.6a1,1 0 1,0 2,0a1,1 0 1,0 -2,0M166.6,290.3a1,1 0 1,0 2,0a1,1 0 1,0 -2,0M166.6,290.5a1,1 0 1,0 2,0a1,1 0 1,0 -2,0M166.6,291.6a1,1 0 1,0 2,0a1,1 0 1,0 -2,0M166.6,292.0a1,1 0 1,0 2,0a1,1 0 1,0 -2,0M166.6,292.6a1,1 0 1,0 2,0a1,1 0 1,0 -2,0M166.6,293.4a1,1 0 1,0 2,0a1,1 0 1,0 -2,0M166.6,294.0a1,1 0 1,0 2,0a1,1 0 1,0 -2,0M166.6,294.2a1,1 0 1,0 2,0a1,1 0 1,0 -2,0M166.6,294.5a1,1 0 1,0 2,0a1,1 0 1,0 -2,0M166.6,296.0a1,1 0 1,0 2,0a1,1 0 1,0 -2,0M166.6,296.4a1,1 0 1,0 2,0a1,1 0 1,0 -2,0M166.6,296.6a1,1 0 1,0 2,0a1,1 0 1,0 -2,0M166.6,297.1a1,1 0 1,0 2,0a1,1 0 1,0 -2,0M166.6,298.7a1,1 0 1,0 2,0a1,1 0 1,0 -2,0M166.6,298.8a1,1 0 1,0 2,0a1,1 0 1,0 -2,0M166.6,299.7a1,1 0 1,0 2,0a1,1 0 1,0 -2,0M166.6,300.1a1,1 0 1,0 2,0a1,1 0 1,0 -2,0M166.6,300.2a1,1 0 1,0 2,0a1,1 0 1,0 -2,0M166.6,300.2a1,1 0 1,0 2,0a1,1 0 1,0 -2,0M166.6,300.3a1,1 0 1,0 2,0a1,1 0 1,0 -2,0M166.6,300.4a1,1 0 1,0 2,0a1,1 0 1,0 -2,0M166.6,301.0a1,1 0 1,0 2,0a1,1 0 1,0 -2,0M166.6,302.6a1,1 0 1,0 2,0a1,1 0 1,0 -2,0M166.6,249.8a1,1 0 1,0 2,0a1,1 0 1,0 -2,0M166.6,312.9a1,1 0 1,0 2,0a1,1 0 1,0 -2,0M166.6,319.7a1,1 0 1,0 2,0a1,1 0 1,0 -2,0" fill="#6bb15a" fill-opacity="0.85"/>
<path d="M187.6,242.7a1,1 0 1,0 2,0a1,1 0 1,0 -2,0M187.6,241.4a1,1 0 1,0 2,0a1,1 0 1,0 -2,0M187.6,226.5a1,1 0 1,0 2,0a1,1 0 1,0 -2,0M187.6,255.1a1,1 0 1,0 2,0a1,1 0 1,0 -2,0M187.6,230.2a1,1 0 1,0 2,0a1,1 0 1,0 -2,0M187.6,257.3a1,1 0 1,0 2,0a1,1 0 1,0 -2,0M187.6,233.2a1,1 0 1,0 2,0a1,1 0 1,0 -2,0M187.6,242.2a1,1 0 1,0 2,0a1,1 0 1,0 -2,0M187.6,230.2a1,1 0 1,0 2,0a1,1 0 1,0 -2,0M187.6,241.0a1,1 0 1,0 2,0a1,1 0 1,0 -2,0M187.6,244.3a1,1 0 1,0 2,0a1,1 0 1,0 -2,0M187.6,258.0a1,1 0 1,0 2,0a1,1 0 1,0 -2,0M187.6,237.1a1,1 0 1,0 2,0a1,1 0 1,0 -2,0M187.6,249.6a1,1 0 1,0 2,0a1,1 0 1,0 -2,0M187.6,243.0a1,1 0 1,0 2,0a1,1 0 1,0 -2,0M187.6,240.0a1,1 0 1,0 2,0a1,1 0 1,0 -2,0M187.6,260.0a1,1 0 1,0 2,0a1,1 0 1,0 -2,0M187.6,258.7a1,1 0 1,0 2,0a1,1 0 1,0 -2,0M187.6,257.7a1,1 0 1,0 2,0a1,1 0 1,0 -2,0M187.6,261.5a1,1 0 1,0 2,0a1,1 0 1,0 -2,0M187.6,236.8a1,1 0 1,0 2,0a1,1 0 1,0 -2,0M187.6,262.5a1,1 0 1,0 2,0a1,1 0 1,0 -2,0M187.6,226.5a1,1 0 1,0 2,0a1,1 0 1,0 -2,0M187.6,265.7a1,1 0 1,0 2,0a1,1 0 1,0 -2,0M187.6,262.4a1,1 0 1,0 2,0a1,1 0 1,0 -2,0M187.6,261.0a1,1 0 1,0 2,0a1,1 0 1,0 -2,0M187.6,248.6a1,1 0 1,0 2,0a1,1 0 1,0 -2,0M187.6,263.8a1,1 0 1,0 2,0a1,1 0 1,0 -2,0M187.6,260.7a1,1 0 1,0 2,0a1,1 0 1,0 -2,0M187.6,258.7a1,1 0 1,0 2,0a1,1 0 1,0 -2,0M187.6,261.9a1,1 0 1,0 2,0a1,1 0 1,0 -2,0M187.6,272.0a1,1 0 1,0 2,0a1,1 0 1,0 -2,0M187.6,277.1a1,1 0 1,0 2,0a1,1 0 1,0 -2,0M187.6,266.4a1,1 0 1,0 2,0a1,1 0 1,0 -2,0M187.6,274.1a1,1 0 1,0 2,0a1,1 0 1,0 -2,0M187.6,274.4a1,1 0 1,0 2,0a1,1 0 1,0 -2,0M187.6,274.7a1,1 0 1,0 2,0a1,1 0 1,0 -2,0M187.6,274.5a1,1 0 1,0 2,0a1,1 0 1,0 -2,0M187.6,263.3a1,1 0 1,0 2,0a1,1 0 1,0 -2,0M187.6,285.3a1,1 0 1,0 2,0a1,1 0 1,0 -2,0M187.6,283.9a1,1 0 1,0 2,0a1,1 0 1,0 -2,0M187.6,281.2a1,1 0 1,0 2,0a1,1 0 1,0 -2,0M187.6,269.9a1,1 0 1,0 2,0a1,1 0 1,0 -2,0M187.6,277.5a1,1 0 1,0 2,0a1,1 0 1,0 -2,0M187.6,286.9a1,1 0 1,0 2,0a1,1 0 1,0 -2,0M187.6,280.5a1,1 0 1,0 2,0a1,1 0 1,0 -2,0M187.6,286.9a1,1 0 1,0 2,0a1,1 0 1,0 -2,0M187.6,269.5a1,1 0 1,0 2,0a1,1 0 1,0 -2,0M187.6,258.3a1,1 0 1,0 2,0a1,1 0 1,0 -2,0M187.6,285.8a1,1 0 1,0 2,0a1,1 0 1,0 -2,0M187.6,283.5a1,1 0 1,0 2,0a1,1 0 1,0 -2,0M187.6,278.0a1,1 0 1,0 2,0a1,1 0 1,0 -2,0M187.6,297.1a1,1 0 1,0 2,0a1,1 0 1,0 -2,0M187.6,295.6a1,1 0 1,0 2,0a1,1 0 1,0 -2,0M187.6,287.3a1,1 0 1,0 2,0a1,1 0 1,0 -2,0M187.6,299.7a1,1 0 1,0 2,0a1,1 0 1,0 -2,0M187.6,269.8a1,1 0 1,0 2,0a1,1 0 1,0 -2,0M187.6,272.5a1,1 0 1,0 2,0a1,1 0 1,0 -2,0M187.6,273.9a1,1 0 1,0 2,0a1,1 0 1,0 -2,0M187.6,294.5a1,1 0 1,0 2,0a1,1 0 1,0 -2,0M187.6,300.7a1,1 0 1,0 2,0a1,1 0 1,0 -2,0M187.6,287.5a1,1 0 1,0 2,0a1,1 0 1,0 -2,0M187.6,268.1a1,1 0 1,0 2,0a1,1 0 1,0 -2,0M187.6,242.4a1,1 0 1,0 2,0a1,1 0 1,0 -2,0M187.6,297.0a1,1 0 1,0 2,0a1,1 0 1,0 -2,0M187.6,300.3a1,1 0 1,0 2,0a1,1 0 1,0 -2,0M187.6,271.5a1,1 0 1,0 2,0a1,1 0 1,0 -2,0M187.6,298.7a1,1 0 1,0 2,0a1,1 0 1,0 -2,0" fill="#f7a21c" fill-opacity="0.85"/>
<text x="248.35" y="214.70" font-size="6.7" text-anchor="middle" fill="#111" >BARD1</text>
<text x="0" y="0" font-size="5.1" text-anchor="middle" fill="#222" transform="translate(215.35,271.80) rotate(-90)">log2(Expression+1)</text>
<line x1="223.65" y1="238.30" x2="224.95" y2="238.30" stroke="#555" stroke-width="0.4" />
<text x="223.15" y="239.70" font-size="4.0" text-anchor="end" fill="#666" >2.0</text>
<line x1="223.65" y1="263.90" x2="224.95" y2="263.90" stroke="#555" stroke-width="0.4" />
<text x="223.15" y="265.30" font-size="4.0" text-anchor="end" fill="#666" >1.5</text>
<line x1="223.65" y1="289.40" x2="224.95" y2="289.40" stroke="#555" stroke-width="0.4" />
<text x="223.15" y="290.80" font-size="4.0" text-anchor="end" fill="#666" >1.0</text>
<line x1="223.65" y1="315.00" x2="224.95" y2="315.00" stroke="#555" stroke-width="0.4" />
<text x="223.15" y="316.40" font-size="4.0" text-anchor="end" fill="#666" >0.5</text>
<line x1="237.65" y1="271.20" x2="237.65" y2="319.70" stroke="#333" stroke-width="0.5" />
<line x1="258.65" y1="223.20" x2="258.65" y2="311.90" stroke="#333" stroke-width="0.5" />
<rect x="230.85" y="285.50" width="13.60" height="13.10" fill="#6bb15a" stroke="#333" stroke-width="0.6" />
<rect x="251.85" y="252.80" width="13.60" height="25.60" fill="#f7a21c" stroke="#333" stroke-width="0.6" />
<line x1="230.85" y1="289.40" x2="244.45" y2="289.40" stroke="#222" stroke-width="1.0" />
<line x1="251.85" y1="265.50" x2="265.45" y2="265.50" stroke="#222" stroke-width="1.0" />
<path d="M237.6,271.3L258.6,254.0M237.6,272.0L258.6,241.0M237.6,272.3L258.6,252.0M237.6,272.8L258.6,247.0M237.6,272.9L258.6,224.1M237.6,273.4L258.6,234.5M237.6,274.1L258.6,229.5M237.6,276.0L258.6,258.6M237.6,278.7L258.6,229.7M237.6,279.4L258.6,235.6M237.6,279.6L258.6,256.6M237.6,279.8L258.6,241.3M237.6,280.1L258.6,245.0M237.6,280.3L258.6,259.3M237.6,281.1L258.6,238.0M237.6,281.8L258.6,260.2M237.6,282.3L258.6,261.9M237.6,282.3L258.6,258.8M237.6,284.0L258.6,262.0M237.6,284.1L258.6,261.0M237.6,284.2L258.6,227.3M237.6,284.9L258.6,260.7M237.6,285.2L258.6,236.5M237.6,285.5L258.6,259.4M237.6,285.6L258.6,255.1M237.6,285.6L258.6,259.4M237.6,286.0L258.6,227.0M237.6,286.1L258.6,266.1M237.6,286.4L258.6,250.5M237.6,286.5L258.6,256.8M237.6,286.5L258.6,271.5M237.6,286.7L258.6,259.0M237.6,287.1L258.6,271.8M237.6,287.5L258.6,263.0M237.6,287.6L258.6,266.1M237.6,287.7L258.6,271.7M237.6,287.8L258.6,263.2M237.6,288.3L258.6,270.4M237.6,288.9L258.6,277.7M237.6,289.2L258.6,268.7M237.6,290.1L258.6,273.3M237.6,290.7L258.6,261.7M237.6,291.0L258.6,267.0M237.6,291.3L258.6,262.7M237.6,291.9L258.6,259.3M237.6,292.1L258.6,285.4M237.6,292.3L258.6,262.4M237.6,293.3L258.6,272.5M237.6,293.8L258.6,292.1M237.6,294.3L258.6,284.4M237.6,294.4L258.6,303.3M237.6,294.4L258.6,264.4M237.6,294.6L258.6,281.9M237.6,295.5L258.6,276.8M237.6,300.0L258.6,302.8M237.6,300.1L258.6,306.5M237.6,302.4L258.6,277.7M237.6,303.4L258.6,274.0M237.6,304.7L258.6,311.8M237.6,305.1L258.6,292.6M237.6,305.3L258.6,276.9M237.6,307.9L258.6,286.0M237.6,309.5L258.6,295.6M237.6,312.0L258.6,307.2M237.6,312.7L258.6,298.0M237.6,313.2L258.6,270.7M237.6,317.4L258.6,268.7M237.6,319.5L258.6,265.3" stroke="#c6c6c6" stroke-width="0.5" stroke-opacity="0.9" fill="none"/>
<line x1="224.95" y1="219.00" x2="224.95" y2="324.60" stroke="#222" stroke-width="0.95" />
<line x1="224.95" y1="324.60" x2="271.55" y2="324.60" stroke="#222" stroke-width="0.95" />
<line x1="237.65" y1="324.60" x2="237.65" y2="325.80" stroke="#333" stroke-width="0.4" />
<line x1="258.65" y1="324.60" x2="258.65" y2="325.80" stroke="#333" stroke-width="0.4" />
<text x="237.65" y="329.80" font-size="4.25" text-anchor="middle" fill="#555" >normal</text>
<text x="258.65" y="329.80" font-size="4.25" text-anchor="middle" fill="#555" >tumor</text>
<text x="232.35" y="223.90" font-size="5.25" text-anchor="start" fill="#111" >p = 5e-13</text>
<path d="M236.6,271.3a1,1 0 1,0 2,0a1,1 0 1,0 -2,0M236.6,272.0a1,1 0 1,0 2,0a1,1 0 1,0 -2,0M236.6,272.3a1,1 0 1,0 2,0a1,1 0 1,0 -2,0M236.6,272.8a1,1 0 1,0 2,0a1,1 0 1,0 -2,0M236.6,272.9a1,1 0 1,0 2,0a1,1 0 1,0 -2,0M236.6,273.4a1,1 0 1,0 2,0a1,1 0 1,0 -2,0M236.6,274.1a1,1 0 1,0 2,0a1,1 0 1,0 -2,0M236.6,276.0a1,1 0 1,0 2,0a1,1 0 1,0 -2,0M236.6,278.7a1,1 0 1,0 2,0a1,1 0 1,0 -2,0M236.6,279.4a1,1 0 1,0 2,0a1,1 0 1,0 -2,0M236.6,279.6a1,1 0 1,0 2,0a1,1 0 1,0 -2,0M236.6,279.8a1,1 0 1,0 2,0a1,1 0 1,0 -2,0M236.6,280.1a1,1 0 1,0 2,0a1,1 0 1,0 -2,0M236.6,280.3a1,1 0 1,0 2,0a1,1 0 1,0 -2,0M236.6,281.1a1,1 0 1,0 2,0a1,1 0 1,0 -2,0M236.6,281.8a1,1 0 1,0 2,0a1,1 0 1,0 -2,0M236.6,282.3a1,1 0 1,0 2,0a1,1 0 1,0 -2,0M236.6,282.3a1,1 0 1,0 2,0a1,1 0 1,0 -2,0M236.6,284.0a1,1 0 1,0 2,0a1,1 0 1,0 -2,0M236.6,284.1a1,1 0 1,0 2,0a1,1 0 1,0 -2,0M236.6,284.2a1,1 0 1,0 2,0a1,1 0 1,0 -2,0M236.6,284.9a1,1 0 1,0 2,0a1,1 0 1,0 -2,0M236.6,285.2a1,1 0 1,0 2,0a1,1 0 1,0 -2,0M236.6,285.5a1,1 0 1,0 2,0a1,1 0 1,0 -2,0M236.6,285.6a1,1 0 1,0 2,0a1,1 0 1,0 -2,0M236.6,285.6a1,1 0 1,0 2,0a1,1 0 1,0 -2,0M236.6,286.0a1,1 0 1,0 2,0a1,1 0 1,0 -2,0M236.6,286.1a1,1 0 1,0 2,0a1,1 0 1,0 -2,0M236.6,286.4a1,1 0 1,0 2,0a1,1 0 1,0 -2,0M236.6,286.5a1,1 0 1,0 2,0a1,1 0 1,0 -2,0M236.6,286.5a1,1 0 1,0 2,0a1,1 0 1,0 -2,0M236.6,286.7a1,1 0 1,0 2,0a1,1 0 1,0 -2,0M236.6,287.1a1,1 0 1,0 2,0a1,1 0 1,0 -2,0M236.6,287.5a1,1 0 1,0 2,0a1,1 0 1,0 -2,0M236.6,287.6a1,1 0 1,0 2,0a1,1 0 1,0 -2,0M236.6,287.7a1,1 0 1,0 2,0a1,1 0 1,0 -2,0M236.6,287.8a1,1 0 1,0 2,0a1,1 0 1,0 -2,0M236.6,288.3a1,1 0 1,0 2,0a1,1 0 1,0 -2,0M236.6,288.9a1,1 0 1,0 2,0a1,1 0 1,0 -2,0M236.6,289.2a1,1 0 1,0 2,0a1,1 0 1,0 -2,0M236.6,290.1a1,1 0 1,0 2,0a1,1 0 1,0 -2,0M236.6,290.7a1,1 0 1,0 2,0a1,1 0 1,0 -2,0M236.6,291.0a1,1 0 1,0 2,0a1,1 0 1,0 -2,0M236.6,291.3a1,1 0 1,0 2,0a1,1 0 1,0 -2,0M236.6,291.9a1,1 0 1,0 2,0a1,1 0 1,0 -2,0M236.6,292.1a1,1 0 1,0 2,0a1,1 0 1,0 -2,0M236.6,292.3a1,1 0 1,0 2,0a1,1 0 1,0 -2,0M236.6,293.3a1,1 0 1,0 2,0a1,1 0 1,0 -2,0M236.6,293.8a1,1 0 1,0 2,0a1,1 0 1,0 -2,0M236.6,294.3a1,1 0 1,0 2,0a1,1 0 1,0 -2,0M236.6,294.4a1,1 0 1,0 2,0a1,1 0 1,0 -2,0M236.6,294.4a1,1 0 1,0 2,0a1,1 0 1,0 -2,0M236.6,294.6a1,1 0 1,0 2,0a1,1 0 1,0 -2,0M236.6,295.5a1,1 0 1,0 2,0a1,1 0 1,0 -2,0M236.6,300.0a1,1 0 1,0 2,0a1,1 0 1,0 -2,0M236.6,300.1a1,1 0 1,0 2,0a1,1 0 1,0 -2,0M236.6,302.4a1,1 0 1,0 2,0a1,1 0 1,0 -2,0M236.6,303.4a1,1 0 1,0 2,0a1,1 0 1,0 -2,0M236.6,304.7a1,1 0 1,0 2,0a1,1 0 1,0 -2,0M236.6,305.1a1,1 0 1,0 2,0a1,1 0 1,0 -2,0M236.6,305.3a1,1 0 1,0 2,0a1,1 0 1,0 -2,0M236.6,307.9a1,1 0 1,0 2,0a1,1 0 1,0 -2,0M236.6,309.5a1,1 0 1,0 2,0a1,1 0 1,0 -2,0M236.6,312.0a1,1 0 1,0 2,0a1,1 0 1,0 -2,0M236.6,312.7a1,1 0 1,0 2,0a1,1 0 1,0 -2,0M236.6,313.2a1,1 0 1,0 2,0a1,1 0 1,0 -2,0M236.6,317.4a1,1 0 1,0 2,0a1,1 0 1,0 -2,0M236.6,319.5a1,1 0 1,0 2,0a1,1 0 1,0 -2,0" fill="#6bb15a" fill-opacity="0.85"/>
<path d="M257.6,254.0a1,1 0 1,0 2,0a1,1 0 1,0 -2,0M257.6,241.0a1,1 0 1,0 2,0a1,1 0 1,0 -2,0M257.6,252.0a1,1 0 1,0 2,0a1,1 0 1,0 -2,0M257.6,247.0a1,1 0 1,0 2,0a1,1 0 1,0 -2,0M257.6,224.1a1,1 0 1,0 2,0a1,1 0 1,0 -2,0M257.6,234.5a1,1 0 1,0 2,0a1,1 0 1,0 -2,0M257.6,229.5a1,1 0 1,0 2,0a1,1 0 1,0 -2,0M257.6,258.6a1,1 0 1,0 2,0a1,1 0 1,0 -2,0M257.6,229.7a1,1 0 1,0 2,0a1,1 0 1,0 -2,0M257.6,235.6a1,1 0 1,0 2,0a1,1 0 1,0 -2,0M257.6,256.6a1,1 0 1,0 2,0a1,1 0 1,0 -2,0M257.6,241.3a1,1 0 1,0 2,0a1,1 0 1,0 -2,0M257.6,245.0a1,1 0 1,0 2,0a1,1 0 1,0 -2,0M257.6,259.3a1,1 0 1,0 2,0a1,1 0 1,0 -2,0M257.6,238.0a1,1 0 1,0 2,0a1,1 0 1,0 -2,0M257.6,260.2a1,1 0 1,0 2,0a1,1 0 1,0 -2,0M257.6,261.9a1,1 0 1,0 2,0a1,1 0 1,0 -2,0M257.6,258.8a1,1 0 1,0 2,0a1,1 0 1,0 -2,0M257.6,262.0a1,1 0 1,0 2,0a1,1 0 1,0 -2,0M257.6,261.0a1,1 0 1,0 2,0a1,1 0 1,0 -2,0M257.6,227.3a1,1 0 1,0 2,0a1,1 0 1,0 -2,0M257.6,260.7a1,1 0 1,0 2,0a1,1 0 1,0 -2,0M257.6,236.5a1,1 0 1,0 2,0a1,1 0 1,0 -2,0M257.6,259.4a1,1 0 1,0 2,0a1,1 0 1,0 -2,0M257.6,255.1a1,1 0 1,0 2,0a1,1 0 1,0 -2,0M257.6,259.4a1,1 0 1,0 2,0a1,1 0 1,0 -2,0M257.6,227.0a1,1 0 1,0 2,0a1,1 0 1,0 -2,0M257.6,266.1a1,1 0 1,0 2,0a1,1 0 1,0 -2,0M257.6,250.5a1,1 0 1,0 2,0a1,1 0 1,0 -2,0M257.6,256.8a1,1 0 1,0 2,0a1,1 0 1,0 -2,0M257.6,271.5a1,1 0 1,0 2,0a1,1 0 1,0 -2,0M257.6,259.0a1,1 0 1,0 2,0a1,1 0 1,0 -2,0M257.6,271.8a1,1 0 1,0 2,0a1,1 0 1,0 -2,0M257.6,263.0a1,1 0 1,0 2,0a1,1 0 1,0 -2,0M257.6,266.1a1,1 0 1,0 2,0a1,1 0 1,0 -2,0M257.6,271.7a1,1 0 1,0 2,0a1,1 0 1,0 -2,0M257.6,263.2a1,1 0 1,0 2,0a1,1 0 1,0 -2,0M257.6,270.4a1,1 0 1,0 2,0a1,1 0 1,0 -2,0M257.6,277.7a1,1 0 1,0 2,0a1,1 0 1,0 -2,0M257.6,268.7a1,1 0 1,0 2,0a1,1 0 1,0 -2,0M257.6,273.3a1,1 0 1,0 2,0a1,1 0 1,0 -2,0M257.6,261.7a1,1 0 1,0 2,0a1,1 0 1,0 -2,0M257.6,267.0a1,1 0 1,0 2,0a1,1 0 1,0 -2,0M257.6,262.7a1,1 0 1,0 2,0a1,1 0 1,0 -2,0M257.6,259.3a1,1 0 1,0 2,0a1,1 0 1,0 -2,0M257.6,285.4a1,1 0 1,0 2,0a1,1 0 1,0 -2,0M257.6,262.4a1,1 0 1,0 2,0a1,1 0 1,0 -2,0M257.6,272.5a1,1 0 1,0 2,0a1,1 0 1,0 -2,0M257.6,292.1a1,1 0 1,0 2,0a1,1 0 1,0 -2,0M257.6,284.4a1,1 0 1,0 2,0a1,1 0 1,0 -2,0M257.6,303.3a1,1 0 1,0 2,0a1,1 0 1,0 -2,0M257.6,264.4a1,1 0 1,0 2,0a1,1 0 1,0 -2,0M257.6,281.9a1,1 0 1,0 2,0a1,1 0 1,0 -2,0M257.6,276.8a1,1 0 1,0 2,0a1,1 0 1,0 -2,0M257.6,302.8a1,1 0 1,0 2,0a1,1 0 1,0 -2,0M257.6,306.5a1,1 0 1,0 2,0a1,1 0 1,0 -2,0M257.6,277.7a1,1 0 1,0 2,0a1,1 0 1,0 -2,0M257.6,274.0a1,1 0 1,0 2,0a1,1 0 1,0 -2,0M257.6,311.8a1,1 0 1,0 2,0a1,1 0 1,0 -2,0M257.6,292.6a1,1 0 1,0 2,0a1,1 0 1,0 -2,0M257.6,276.9a1,1 0 1,0 2,0a1,1 0 1,0 -2,0M257.6,286.0a1,1 0 1,0 2,0a1,1 0 1,0 -2,0M257.6,295.6a1,1 0 1,0 2,0a1,1 0 1,0 -2,0M257.6,307.2a1,1 0 1,0 2,0a1,1 0 1,0 -2,0M257.6,298.0a1,1 0 1,0 2,0a1,1 0 1,0 -2,0M257.6,270.7a1,1 0 1,0 2,0a1,1 0 1,0 -2,0M257.6,268.7a1,1 0 1,0 2,0a1,1 0 1,0 -2,0M257.6,265.3a1,1 0 1,0 2,0a1,1 0 1,0 -2,0" fill="#f7a21c" fill-opacity="0.85"/>
<text x="318.40" y="214.70" font-size="6.7" text-anchor="middle" fill="#111" >ATR</text>
<text x="0" y="0" font-size="5.1" text-anchor="middle" fill="#222" transform="translate(285.40,271.80) rotate(-90)">log2(Expression+1)</text>
<line x1="293.70" y1="223.20" x2="295.00" y2="223.20" stroke="#555" stroke-width="0.4" />
<text x="293.20" y="224.60" font-size="4.0" text-anchor="end" fill="#666" >2.5</text>
<line x1="293.70" y1="242.60" x2="295.00" y2="242.60" stroke="#555" stroke-width="0.4" />
<text x="293.20" y="244.00" font-size="4.0" text-anchor="end" fill="#666" >2.0</text>
<line x1="293.70" y1="262.00" x2="295.00" y2="262.00" stroke="#555" stroke-width="0.4" />
<text x="293.20" y="263.40" font-size="4.0" text-anchor="end" fill="#666" >1.5</text>
<line x1="293.70" y1="281.50" x2="295.00" y2="281.50" stroke="#555" stroke-width="0.4" />
<text x="293.20" y="282.90" font-size="4.0" text-anchor="end" fill="#666" >1.0</text>
<line x1="293.70" y1="300.90" x2="295.00" y2="300.90" stroke="#555" stroke-width="0.4" />
<text x="293.20" y="302.30" font-size="4.0" text-anchor="end" fill="#666" >0.5</text>
<line x1="293.70" y1="320.30" x2="295.00" y2="320.30" stroke="#555" stroke-width="0.4" />
<text x="293.20" y="321.70" font-size="4.0" text-anchor="end" fill="#666" >0.0</text>
<line x1="307.70" y1="268.60" x2="307.70" y2="310.00" stroke="#333" stroke-width="0.5" />
<line x1="328.70" y1="250.20" x2="328.70" y2="302.30" stroke="#333" stroke-width="0.5" />
<rect x="300.90" y="280.20" width="13.60" height="11.30" fill="#6bb15a" stroke="#333" stroke-width="0.6" />
<rect x="321.90" y="266.10" width="13.60" height="17.40" fill="#f7a21c" stroke="#333" stroke-width="0.6" />
<line x1="300.90" y1="283.30" x2="314.50" y2="283.30" stroke="#222" stroke-width="1.0" />
<line x1="321.90" y1="275.10" x2="335.50" y2="275.10" stroke="#222" stroke-width="1.0" />
<path d="M307.7,269.0L328.7,266.0M307.7,269.2L328.7,261.9M307.7,270.0L328.7,252.5M307.7,270.2L328.7,250.4M307.7,270.3L328.7,255.1M307.7,272.5L328.7,268.1M307.7,273.0L328.7,250.6M307.7,273.1L328.7,251.8M307.7,273.2L328.7,262.4M307.7,274.2L328.7,271.0M307.7,275.2L328.7,267.7M307.7,277.5L328.7,268.6M307.7,277.9L328.7,254.2M307.7,278.2L328.7,255.3M307.7,278.2L328.7,256.6M307.7,278.3L328.7,267.4M307.7,280.1L328.7,268.0M307.7,280.6L328.7,255.3M307.7,280.9L328.7,271.0M307.7,280.9L328.7,271.7M307.7,281.0L328.7,267.7M307.7,281.2L328.7,256.5M307.7,281.4L328.7,274.1M307.7,281.5L328.7,268.0M307.7,281.5L328.7,267.7M307.7,281.7L328.7,278.6M307.7,281.9L328.7,268.4M307.7,282.1L328.7,273.4M307.7,282.1L328.7,252.6M307.7,282.1L328.7,278.7M307.7,282.3L328.7,269.5M307.7,282.6L328.7,275.3M307.7,282.8L328.7,277.8M307.7,283.1L328.7,278.2M307.7,283.2L328.7,283.5M307.7,283.5L328.7,277.3M307.7,284.8L328.7,277.4M307.7,285.3L328.7,273.4M307.7,285.6L328.7,274.7M307.7,285.8L328.7,284.7M307.7,286.3L328.7,281.4M307.7,286.5L328.7,281.4M307.7,286.7L328.7,284.9M307.7,287.5L328.7,282.1M307.7,287.9L328.7,280.8M307.7,288.0L328.7,289.8M307.7,288.6L328.7,287.5M307.7,288.8L328.7,290.2M307.7,289.2L328.7,293.9M307.7,289.3L328.7,283.2M307.7,289.5L328.7,276.1M307.7,290.1L328.7,285.5M307.7,290.6L328.7,283.0M307.7,291.8L328.7,271.2M307.7,292.3L328.7,286.7M307.7,292.8L328.7,302.1M307.7,295.7L328.7,279.4M307.7,296.1L328.7,292.9M307.7,297.9L328.7,280.5M307.7,298.5L328.7,286.9M307.7,299.9L328.7,299.8M307.7,300.2L328.7,281.8M307.7,300.9L328.7,286.2M307.7,301.6L328.7,291.2M307.7,303.0L328.7,292.6M307.7,304.5L328.7,300.1M307.7,304.7L328.7,299.2M307.7,307.5L328.7,260.2" stroke="#c6c6c6" stroke-width="0.5" stroke-opacity="0.9" fill="none"/>
<line x1="295.00" y1="219.00" x2="295.00" y2="324.60" stroke="#222" stroke-width="0.95" />
<line x1="295.00" y1="324.60" x2="341.60" y2="324.60" stroke="#222" stroke-width="0.95" />
<line x1="307.70" y1="324.60" x2="307.70" y2="325.80" stroke="#333" stroke-width="0.4" />
<line x1="328.70" y1="324.60" x2="328.70" y2="325.80" stroke="#333" stroke-width="0.4" />
<text x="307.70" y="329.80" font-size="4.25" text-anchor="middle" fill="#555" >normal</text>
<text x="328.70" y="329.80" font-size="4.25" text-anchor="middle" fill="#555" >tumor</text>
<text x="302.40" y="223.90" font-size="5.25" text-anchor="start" fill="#111" >p = 2.2e-06</text>
<path d="M306.7,269.0a1,1 0 1,0 2,0a1,1 0 1,0 -2,0M306.7,269.2a1,1 0 1,0 2,0a1,1 0 1,0 -2,0M306.7,270.0a1,1 0 1,0 2,0a1,1 0 1,0 -2,0M306.7,270.2a1,1 0 1,0 2,0a1,1 0 1,0 -2,0M306.7,270.3a1,1 0 1,0 2,0a1,1 0 1,0 -2,0M306.7,272.5a1,1 0 1,0 2,0a1,1 0 1,0 -2,0M306.7,273.0a1,1 0 1,0 2,0a1,1 0 1,0 -2,0M306.7,273.1a1,1 0 1,0 2,0a1,1 0 1,0 -2,0M306.7,273.2a1,1 0 1,0 2,0a1,1 0 1,0 -2,0M306.7,274.2a1,1 0 1,0 2,0a1,1 0 1,0 -2,0M306.7,275.2a1,1 0 1,0 2,0a1,1 0 1,0 -2,0M306.7,277.5a1,1 0 1,0 2,0a1,1 0 1,0 -2,0M306.7,277.9a1,1 0 1,0 2,0a1,1 0 1,0 -2,0M306.7,278.2a1,1 0 1,0 2,0a1,1 0 1,0 -2,0M306.7,278.2a1,1 0 1,0 2,0a1,1 0 1,0 -2,0M306.7,278.3a1,1 0 1,0 2,0a1,1 0 1,0 -2,0M306.7,280.1a1,1 0 1,0 2,0a1,1 0 1,0 -2,0M306.7,280.6a1,1 0 1,0 2,0a1,1 0 1,0 -2,0M306.7,280.9a1,1 0 1,0 2,0a1,1 0 1,0 -2,0M306.7,280.9a1,1 0 1,0 2,0a1,1 0 1,0 -2,0M306.7,281.0a1,1 0 1,0 2,0a1,1 0 1,0 -2,0M306.7,281.2a1,1 0 1,0 2,0a1,1 0 1,0 -2,0M306.7,281.4a1,1 0 1,0 2,0a1,1 0 1,0 -2,0M306.7,281.5a1,1 0 1,0 2,0a1,1 0 1,0 -2,0M306.7,281.5a1,1 0 1,0 2,0a1,1 0 1,0 -2,0M306.7,281.7a1,1 0 1,0 2,0a1,1 0 1,0 -2,0M306.7,281.9a1,1 0 1,0 2,0a1,1 0 1,0 -2,0M306.7,282.1a1,1 0 1,0 2,0a1,1 0 1,0 -2,0M306.7,282.1a1,1 0 1,0 2,0a1,1 0 1,0 -2,0M306.7,282.1a1,1 0 1,0 2,0a1,1 0 1,0 -2,0M306.7,282.3a1,1 0 1,0 2,0a1,1 0 1,0 -2,0M306.7,282.6a1,1 0 1,0 2,0a1,1 0 1,0 -2,0M306.7,282.8a1,1 0 1,0 2,0a1,1 0 1,0 -2,0M306.7,283.1a1,1 0 1,0 2,0a1,1 0 1,0 -2,0M306.7,283.2a1,1 0 1,0 2,0a1,1 0 1,0 -2,0M306.7,283.5a1,1 0 1,0 2,0a1,1 0 1,0 -2,0M306.7,284.8a1,1 0 1,0 2,0a1,1 0 1,0 -2,0M306.7,285.3a1,1 0 1,0 2,0a1,1 0 1,0 -2,0M306.7,285.6a1,1 0 1,0 2,0a1,1 0 1,0 -2,0M306.7,285.8a1,1 0 1,0 2,0a1,1 0 1,0 -2,0M306.7,286.3a1,1 0 1,0 2,0a1,1 0 1,0 -2,0M306.7,286.5a1,1 0 1,0 2,0a1,1 0 1,0 -2,0M306.7,286.7a1,1 0 1,0 2,0a1,1 0 1,0 -2,0M306.7,287.5a1,1 0 1,0 2,0a1,1 0 1,0 -2,0M306.7,287.9a1,1 0 1,0 2,0a1,1 0 1,0 -2,0M306.7,288.0a1,1 0 1,0 2,0a1,1 0 1,0 -2,0M306.7,288.6a1,1 0 1,0 2,0a1,1 0 1,0 -2,0M306.7,288.8a1,1 0 1,0 2,0a1,1 0 1,0 -2,0M306.7,289.2a1,1 0 1,0 2,0a1,1 0 1,0 -2,0M306.7,289.3a1,1 0 1,0 2,0a1,1 0 1,0 -2,0M306.7,289.5a1,1 0 1,0 2,0a1,1 0 1,0 -2,0M306.7,290.1a1,1 0 1,0 2,0a1,1 0 1,0 -2,0M306.7,290.6a1,1 0 1,0 2,0a1,1 0 1,0 -2,0M306.7,291.8a1,1 0 1,0 2,0a1,1 0 1,0 -2,0M306.7,292.3a1,1 0 1,0 2,0a1,1 0 1,0 -2,0M306.7,292.8a1,1 0 1,0 2,0a1,1 0 1,0 -2,0M306.7,295.7a1,1 0 1,0 2,0a1,1 0 1,0 -2,0M306.7,296.1a1,1 0 1,0 2,0a1,1 0 1,0 -2,0M306.7,297.9a1,1 0 1,0 2,0a1,1 0 1,0 -2,0M306.7,298.5a1,1 0 1,0 2,0a1,1 0 1,0 -2,0M306.7,299.9a1,1 0 1,0 2,0a1,1 0 1,0 -2,0M306.7,300.2a1,1 0 1,0 2,0a1,1 0 1,0 -2,0M306.7,300.9a1,1 0 1,0 2,0a1,1 0 1,0 -2,0M306.7,301.6a1,1 0 1,0 2,0a1,1 0 1,0 -2,0M306.7,303.0a1,1 0 1,0 2,0a1,1 0 1,0 -2,0M306.7,304.5a1,1 0 1,0 2,0a1,1 0 1,0 -2,0M306.7,304.7a1,1 0 1,0 2,0a1,1 0 1,0 -2,0M306.7,307.5a1,1 0 1,0 2,0a1,1 0 1,0 -2,0M306.7,313.0a1,1 0 1,0 2,0a1,1 0 1,0 -2,0M306.7,316.0a1,1 0 1,0 2,0a1,1 0 1,0 -2,0M306.7,320.1a1,1 0 1,0 2,0a1,1 0 1,0 -2,0" fill="#6bb15a" fill-opacity="0.85"/>
<path d="M327.7,266.0a1,1 0 1,0 2,0a1,1 0 1,0 -2,0M327.7,261.9a1,1 0 1,0 2,0a1,1 0 1,0 -2,0M327.7,252.5a1,1 0 1,0 2,0a1,1 0 1,0 -2,0M327.7,250.4a1,1 0 1,0 2,0a1,1 0 1,0 -2,0M327.7,255.1a1,1 0 1,0 2,0a1,1 0 1,0 -2,0M327.7,268.1a1,1 0 1,0 2,0a1,1 0 1,0 -2,0M327.7,250.6a1,1 0 1,0 2,0a1,1 0 1,0 -2,0M327.7,251.8a1,1 0 1,0 2,0a1,1 0 1,0 -2,0M327.7,262.4a1,1 0 1,0 2,0a1,1 0 1,0 -2,0M327.7,271.0a1,1 0 1,0 2,0a1,1 0 1,0 -2,0M327.7,267.7a1,1 0 1,0 2,0a1,1 0 1,0 -2,0M327.7,268.6a1,1 0 1,0 2,0a1,1 0 1,0 -2,0M327.7,254.2a1,1 0 1,0 2,0a1,1 0 1,0 -2,0M327.7,255.3a1,1 0 1,0 2,0a1,1 0 1,0 -2,0M327.7,256.6a1,1 0 1,0 2,0a1,1 0 1,0 -2,0M327.7,267.4a1,1 0 1,0 2,0a1,1 0 1,0 -2,0M327.7,268.0a1,1 0 1,0 2,0a1,1 0 1,0 -2,0M327.7,255.3a1,1 0 1,0 2,0a1,1 0 1,0 -2,0M327.7,271.0a1,1 0 1,0 2,0a1,1 0 1,0 -2,0M327.7,271.7a1,1 0 1,0 2,0a1,1 0 1,0 -2,0M327.7,267.7a1,1 0 1,0 2,0a1,1 0 1,0 -2,0M327.7,256.5a1,1 0 1,0 2,0a1,1 0 1,0 -2,0M327.7,274.1a1,1 0 1,0 2,0a1,1 0 1,0 -2,0M327.7,268.0a1,1 0 1,0 2,0a1,1 0 1,0 -2,0M327.7,267.7a1,1 0 1,0 2,0a1,1 0 1,0 -2,0M327.7,278.6a1,1 0 1,0 2,0a1,1 0 1,0 -2,0M327.7,268.4a1,1 0 1,0 2,0a1,1 0 1,0 -2,0M327.7,273.4a1,1 0 1,0 2,0a1,1 0 1,0 -2,0M327.7,252.6a1,1 0 1,0 2,0a1,1 0 1,0 -2,0M327.7,278.7a1,1 0 1,0 2,0a1,1 0 1,0 -2,0M327.7,269.5a1,1 0 1,0 2,0a1,1 0 1,0 -2,0M327.7,275.3a1,1 0 1,0 2,0a1,1 0 1,0 -2,0M327.7,277.8a1,1 0 1,0 2,0a1,1 0 1,0 -2,0M327.7,278.2a1,1 0 1,0 2,0a1,1 0 1,0 -2,0M327.7,283.5a1,1 0 1,0 2,0a1,1 0 1,0 -2,0M327.7,277.3a1,1 0 1,0 2,0a1,1 0 1,0 -2,0M327.7,277.4a1,1 0 1,0 2,0a1,1 0 1,0 -2,0M327.7,273.4a1,1 0 1,0 2,0a1,1 0 1,0 -2,0M327.7,274.7a1,1 0 1,0 2,0a1,1 0 1,0 -2,0M327.7,284.7a1,1 0 1,0 2,0a1,1 0 1,0 -2,0M327.7,281.4a1,1 0 1,0 2,0a1,1 0 1,0 -2,0M327.7,281.4a1,1 0 1,0 2,0a1,1 0 1,0 -2,0M327.7,284.9a1,1 0 1,0 2,0a1,1 0 1,0 -2,0M327.7,282.1a1,1 0 1,0 2,0a1,1 0 1,0 -2,0M327.7,280.8a1,1 0 1,0 2,0a1,1 0 1,0 -2,0M327.7,289.8a1,1 0 1,0 2,0a1,1 0 1,0 -2,0M327.7,287.5a1,1 0 1,0 2,0a1,1 0 1,0 -2,0M327.7,290.2a1,1 0 1,0 2,0a1,1 0 1,0 -2,0M327.7,293.9a1,1 0 1,0 2,0a1,1 0 1,0 -2,0M327.7,283.2a1,1 0 1,0 2,0a1,1 0 1,0 -2,0M327.7,276.1a1,1 0 1,0 2,0a1,1 0 1,0 -2,0M327.7,285.5a1,1 0 1,0 2,0a1,1 0 1,0 -2,0M327.7,283.0a1,1 0 1,0 2,0a1,1 0 1,0 -2,0M327.7,271.2a1,1 0 1,0 2,0a1,1 0 1,0 -2,0M327.7,286.7a1,1 0 1,0 2,0a1,1 0 1,0 -2,0M327.7,302.1a1,1 0 1,0 2,0a1,1 0 1,0 -2,0M327.7,279.4a1,1 0 1,0 2,0a1,1 0 1,0 -2,0M327.7,292.9a1,1 0 1,0 2,0a1,1 0 1,0 -2,0M327.7,280.5a1,1 0 1,0 2,0a1,1 0 1,0 -2,0M327.7,286.9a1,1 0 1,0 2,0a1,1 0 1,0 -2,0M327.7,299.8a1,1 0 1,0 2,0a1,1 0 1,0 -2,0M327.7,281.8a1,1 0 1,0 2,0a1,1 0 1,0 -2,0M327.7,286.2a1,1 0 1,0 2,0a1,1 0 1,0 -2,0M327.7,291.2a1,1 0 1,0 2,0a1,1 0 1,0 -2,0M327.7,292.6a1,1 0 1,0 2,0a1,1 0 1,0 -2,0M327.7,300.1a1,1 0 1,0 2,0a1,1 0 1,0 -2,0M327.7,299.2a1,1 0 1,0 2,0a1,1 0 1,0 -2,0M327.7,260.2a1,1 0 1,0 2,0a1,1 0 1,0 -2,0M327.7,223.6a1,1 0 1,0 2,0a1,1 0 1,0 -2,0M327.7,229.7a1,1 0 1,0 2,0a1,1 0 1,0 -2,0" fill="#f7a21c" fill-opacity="0.85"/>
<text x="388.45" y="214.70" font-size="6.7" text-anchor="middle" fill="#111" >RAD51</text>
<text x="0" y="0" font-size="5.1" text-anchor="middle" fill="#222" transform="translate(355.45,271.80) rotate(-90)">log2(Expression+1)</text>
<line x1="363.75" y1="232.40" x2="365.05" y2="232.40" stroke="#555" stroke-width="0.4" />
<text x="363.25" y="233.80" font-size="4.0" text-anchor="end" fill="#666" >2.0</text>
<line x1="363.75" y1="252.20" x2="365.05" y2="252.20" stroke="#555" stroke-width="0.4" />
<text x="363.25" y="253.60" font-size="4.0" text-anchor="end" fill="#666" >1.5</text>
<line x1="363.75" y1="272.30" x2="365.05" y2="272.30" stroke="#555" stroke-width="0.4" />
<text x="363.25" y="273.70" font-size="4.0" text-anchor="end" fill="#666" >1.0</text>
<line x1="363.75" y1="292.10" x2="365.05" y2="292.10" stroke="#555" stroke-width="0.4" />
<text x="363.25" y="293.50" font-size="4.0" text-anchor="end" fill="#666" >0.5</text>
<line x1="363.75" y1="311.90" x2="365.05" y2="311.90" stroke="#555" stroke-width="0.4" />
<text x="363.25" y="313.30" font-size="4.0" text-anchor="end" fill="#666" >0.0</text>
<line x1="377.75" y1="269.60" x2="377.75" y2="320.10" stroke="#333" stroke-width="0.5" />
<line x1="398.75" y1="223.60" x2="398.75" y2="304.30" stroke="#333" stroke-width="0.5" />
<rect x="370.95" y="288.40" width="13.60" height="17.40" fill="#6bb15a" stroke="#333" stroke-width="0.6" />
<rect x="391.95" y="238.90" width="13.60" height="28.70" fill="#f7a21c" stroke="#333" stroke-width="0.6" />
<line x1="370.95" y1="298.20" x2="384.55" y2="298.20" stroke="#222" stroke-width="1.0" />
<line x1="391.95" y1="256.30" x2="405.55" y2="256.30" stroke="#222" stroke-width="1.0" />
<path d="M377.8,270.0L398.8,228.6M377.8,270.1L398.8,233.4M377.8,270.9L398.8,224.3M377.8,271.0L398.8,229.9M377.8,271.3L398.8,224.4M377.8,271.8L398.8,234.8M377.8,271.9L398.8,224.5M377.8,273.5L398.8,229.2M377.8,273.5L398.8,236.3M377.8,275.0L398.8,229.6M377.8,275.1L398.8,244.4M377.8,276.1L398.8,224.3M377.8,277.3L398.8,237.6M377.8,280.7L398.8,233.4M377.8,281.2L398.8,240.8M377.8,282.3L398.8,232.5M377.8,283.3L398.8,246.0M377.8,287.4L398.8,241.1M377.8,288.3L398.8,235.7M377.8,289.4L398.8,239.9M377.8,290.2L398.8,238.1M377.8,290.3L398.8,241.2M377.8,290.5L398.8,260.5M377.8,290.7L398.8,247.6M377.8,290.9L398.8,228.2M377.8,291.2L398.8,239.4M377.8,291.9L398.8,257.6M377.8,292.6L398.8,257.2M377.8,292.6L398.8,262.6M377.8,292.8L398.8,258.8M377.8,293.0L398.8,261.8M377.8,294.5L398.8,261.2M377.8,295.0L398.8,264.8M377.8,295.0L398.8,259.9M377.8,295.3L398.8,245.3M377.8,295.6L398.8,263.2M377.8,297.0L398.8,261.7M377.8,297.9L398.8,264.7M377.8,298.3L398.8,259.5M377.8,299.2L398.8,263.7M377.8,299.3L398.8,248.4M377.8,299.3L398.8,241.6M377.8,300.6L398.8,265.3M377.8,301.0L398.8,278.6M377.8,301.2L398.8,276.8M377.8,301.4L398.8,281.2M377.8,301.6L398.8,266.0M377.8,301.7L398.8,282.8M377.8,302.0L398.8,294.6M377.8,302.3L398.8,256.4M377.8,302.8L398.8,273.2M377.8,303.0L398.8,267.2M377.8,303.3L398.8,303.2M377.8,303.8L398.8,298.8M377.8,303.8L398.8,262.1M377.8,304.4L398.8,289.4M377.8,304.5L398.8,301.9M377.8,305.0L398.8,265.9M377.8,305.3L398.8,265.1M377.8,308.2L398.8,240.4M377.8,310.7L398.8,295.1M377.8,311.4L398.8,248.5M377.8,311.7L398.8,264.0M377.8,311.8L398.8,286.4M377.8,315.7L398.8,275.6M377.8,318.6L398.8,253.9M377.8,319.3L398.8,256.9M377.8,320.0L398.8,296.3" stroke="#c6c6c6" stroke-width="0.5" stroke-opacity="0.9" fill="none"/>
<line x1="365.05" y1="219.00" x2="365.05" y2="324.60" stroke="#222" stroke-width="0.95" />
<line x1="365.05" y1="324.60" x2="411.65" y2="324.60" stroke="#222" stroke-width="0.95" />
<line x1="377.75" y1="324.60" x2="377.75" y2="325.80" stroke="#333" stroke-width="0.4" />
<line x1="398.75" y1="324.60" x2="398.75" y2="325.80" stroke="#333" stroke-width="0.4" />
<text x="377.75" y="329.80" font-size="4.25" text-anchor="middle" fill="#555" >normal</text>
<text x="398.75" y="329.80" font-size="4.25" text-anchor="middle" fill="#555" >tumor</text>
<text x="372.45" y="223.90" font-size="5.25" text-anchor="start" fill="#111" >p = &lt;2e-16</text>
<path d="M376.8,270.0a1,1 0 1,0 2,0a1,1 0 1,0 -2,0M376.8,270.1a1,1 0 1,0 2,0a1,1 0 1,0 -2,0M376.8,270.9a1,1 0 1,0 2,0a1,1 0 1,0 -2,0M376.8,271.0a1,1 0 1,0 2,0a1,1 0 1,0 -2,0M376.8,271.3a1,1 0 1,0 2,0a1,1 0 1,0 -2,0M376.8,271.8a1,1 0 1,0 2,0a1,1 0 1,0 -2,0M376.8,271.9a1,1 0 1,0 2,0a1,1 0 1,0 -2,0M376.8,273.5a1,1 0 1,0 2,0a1,1 0 1,0 -2,0M376.8,273.5a1,1 0 1,0 2,0a1,1 0 1,0 -2,0M376.8,275.0a1,1 0 1,0 2,0a1,1 0 1,0 -2,0M376.8,275.1a1,1 0 1,0 2,0a1,1 0 1,0 -2,0M376.8,276.1a1,1 0 1,0 2,0a1,1 0 1,0 -2,0M376.8,277.3a1,1 0 1,0 2,0a1,1 0 1,0 -2,0M376.8,280.7a1,1 0 1,0 2,0a1,1 0 1,0 -2,0M376.8,281.2a1,1 0 1,0 2,0a1,1 0 1,0 -2,0M376.8,282.3a1,1 0 1,0 2,0a1,1 0 1,0 -2,0M376.8,283.3a1,1 0 1,0 2,0a1,1 0 1,0 -2,0M376.8,287.4a1,1 0 1,0 2,0a1,1 0 1,0 -2,0M376.8,288.3a1,1 0 1,0 2,0a1,1 0 1,0 -2,0M376.8,289.4a1,1 0 1,0 2,0a1,1 0 1,0 -2,0M376.8,290.2a1,1 0 1,0 2,0a1,1 0 1,0 -2,0M376.8,290.3a1,1 0 1,0 2,0a1,1 0 1,0 -2,0M376.8,290.5a1,1 0 1,0 2,0a1,1 0 1,0 -2,0M376.8,290.7a1,1 0 1,0 2,0a1,1 0 1,0 -2,0M376.8,290.9a1,1 0 1,0 2,0a1,1 0 1,0 -2,0M376.8,291.2a1,1 0 1,0 2,0a1,1 0 1,0 -2,0M376.8,291.9a1,1 0 1,0 2,0a1,1 0 1,0 -2,0M376.8,292.6a1,1 0 1,0 2,0a1,1 0 1,0 -2,0M376.8,292.6a1,1 0 1,0 2,0a1,1 0 1,0 -2,0M376.8,292.8a1,1 0 1,0 2,0a1,1 0 1,0 -2,0M376.8,293.0a1,1 0 1,0 2,0a1,1 0 1,0 -2,0M376.8,294.5a1,1 0 1,0 2,0a1,1 0 1,0 -2,0M376.8,295.0a1,1 0 1,0 2,0a1,1 0 1,0 -2,0M376.8,295.0a1,1 0 1,0 2,0a1,1 0 1,0 -2,0M376.8,295.3a1,1 0 1,0 2,0a1,1 0 1,0 -2,0M376.8,295.6a1,1 0 1,0 2,0a1,1 0 1,0 -2,0M376.8,297.0a1,1 0 1,0 2,0a1,1 0 1,0 -2,0M376.8,297.9a1,1 0 1,0 2,0a1,1 0 1,0 -2,0M376.8,298.3a1,1 0 1,0 2,0a1,1 0 1,0 -2,0M376.8,299.2a1,1 0 1,0 2,0a1,1 0 1,0 -2,0M376.8,299.3a1,1 0 1,0 2,0a1,1 0 1,0 -2,0M376.8,299.3a1,1 0 1,0 2,0a1,1 0 1,0 -2,0M376.8,300.6a1,1 0 1,0 2,0a1,1 0 1,0 -2,0M376.8,301.0a1,1 0 1,0 2,0a1,1 0 1,0 -2,0M376.8,301.2a1,1 0 1,0 2,0a1,1 0 1,0 -2,0M376.8,301.4a1,1 0 1,0 2,0a1,1 0 1,0 -2,0M376.8,301.6a1,1 0 1,0 2,0a1,1 0 1,0 -2,0M376.8,301.7a1,1 0 1,0 2,0a1,1 0 1,0 -2,0M376.8,302.0a1,1 0 1,0 2,0a1,1 0 1,0 -2,0M376.8,302.3a1,1 0 1,0 2,0a1,1 0 1,0 -2,0M376.8,302.8a1,1 0 1,0 2,0a1,1 0 1,0 -2,0M376.8,303.0a1,1 0 1,0 2,0a1,1 0 1,0 -2,0M376.8,303.3a1,1 0 1,0 2,0a1,1 0 1,0 -2,0M376.8,303.8a1,1 0 1,0 2,0a1,1 0 1,0 -2,0M376.8,303.8a1,1 0 1,0 2,0a1,1 0 1,0 -2,0M376.8,304.4a1,1 0 1,0 2,0a1,1 0 1,0 -2,0M376.8,304.5a1,1 0 1,0 2,0a1,1 0 1,0 -2,0M376.8,305.0a1,1 0 1,0 2,0a1,1 0 1,0 -2,0M376.8,305.3a1,1 0 1,0 2,0a1,1 0 1,0 -2,0M376.8,308.2a1,1 0 1,0 2,0a1,1 0 1,0 -2,0M376.8,310.7a1,1 0 1,0 2,0a1,1 0 1,0 -2,0M376.8,311.4a1,1 0 1,0 2,0a1,1 0 1,0 -2,0M376.8,311.7a1,1 0 1,0 2,0a1,1 0 1,0 -2,0M376.8,311.8a1,1 0 1,0 2,0a1,1 0 1,0 -2,0M376.8,315.7a1,1 0 1,0 2,0a1,1 0 1,0 -2,0M376.8,318.6a1,1 0 1,0 2,0a1,1 0 1,0 -2,0M376.8,319.3a1,1 0 1,0 2,0a1,1 0 1,0 -2,0M376.8,320.0a1,1 0 1,0 2,0a1,1 0 1,0 -2,0M376.8,250.6a1,1 0 1,0 2,0a1,1 0 1,0 -2,0" fill="#6bb15a" fill-opacity="0.85"/>
<path d="M397.8,228.6a1,1 0 1,0 2,0a1,1 0 1,0 -2,0M397.8,233.4a1,1 0 1,0 2,0a1,1 0 1,0 -2,0M397.8,224.3a1,1 0 1,0 2,0a1,1 0 1,0 -2,0M397.8,229.9a1,1 0 1,0 2,0a1,1 0 1,0 -2,0M397.8,224.4a1,1 0 1,0 2,0a1,1 0 1,0 -2,0M397.8,234.8a1,1 0 1,0 2,0a1,1 0 1,0 -2,0M397.8,224.5a1,1 0 1,0 2,0a1,1 0 1,0 -2,0M397.8,229.2a1,1 0 1,0 2,0a1,1 0 1,0 -2,0M397.8,236.3a1,1 0 1,0 2,0a1,1 0 1,0 -2,0M397.8,229.6a1,1 0 1,0 2,0a1,1 0 1,0 -2,0M397.8,244.4a1,1 0 1,0 2,0a1,1 0 1,0 -2,0M397.8,224.3a1,1 0 1,0 2,0a1,1 0 1,0 -2,0M397.8,237.6a1,1 0 1,0 2,0a1,1 0 1,0 -2,0M397.8,233.4a1,1 0 1,0 2,0a1,1 0 1,0 -2,0M397.8,240.8a1,1 0 1,0 2,0a1,1 0 1,0 -2,0M397.8,232.5a1,1 0 1,0 2,0a1,1 0 1,0 -2,0M397.8,246.0a1,1 0 1,0 2,0a1,1 0 1,0 -2,0M397.8,241.1a1,1 0 1,0 2,0a1,1 0 1,0 -2,0M397.8,235.7a1,1 0 1,0 2,0a1,1 0 1,0 -2,0M397.8,239.9a1,1 0 1,0 2,0a1,1 0 1,0 -2,0M397.8,238.1a1,1 0 1,0 2,0a1,1 0 1,0 -2,0M397.8,241.2a1,1 0 1,0 2,0a1,1 0 1,0 -2,0M397.8,260.5a1,1 0 1,0 2,0a1,1 0 1,0 -2,0M397.8,247.6a1,1 0 1,0 2,0a1,1 0 1,0 -2,0M397.8,228.2a1,1 0 1,0 2,0a1,1 0 1,0 -2,0M397.8,239.4a1,1 0 1,0 2,0a1,1 0 1,0 -2,0M397.8,257.6a1,1 0 1,0 2,0a1,1 0 1,0 -2,0M397.8,257.2a1,1 0 1,0 2,0a1,1 0 1,0 -2,0M397.8,262.6a1,1 0 1,0 2,0a1,1 0 1,0 -2,0M397.8,258.8a1,1 0 1,0 2,0a1,1 0 1,0 -2,0M397.8,261.8a1,1 0 1,0 2,0a1,1 0 1,0 -2,0M397.8,261.2a1,1 0 1,0 2,0a1,1 0 1,0 -2,0M397.8,264.8a1,1 0 1,0 2,0a1,1 0 1,0 -2,0M397.8,259.9a1,1 0 1,0 2,0a1,1 0 1,0 -2,0M397.8,245.3a1,1 0 1,0 2,0a1,1 0 1,0 -2,0M397.8,263.2a1,1 0 1,0 2,0a1,1 0 1,0 -2,0M397.8,261.7a1,1 0 1,0 2,0a1,1 0 1,0 -2,0M397.8,264.7a1,1 0 1,0 2,0a1,1 0 1,0 -2,0M397.8,259.5a1,1 0 1,0 2,0a1,1 0 1,0 -2,0M397.8,263.7a1,1 0 1,0 2,0a1,1 0 1,0 -2,0M397.8,248.4a1,1 0 1,0 2,0a1,1 0 1,0 -2,0M397.8,241.6a1,1 0 1,0 2,0a1,1 0 1,0 -2,0M397.8,265.3a1,1 0 1,0 2,0a1,1 0 1,0 -2,0M397.8,278.6a1,1 0 1,0 2,0a1,1 0 1,0 -2,0M397.8,276.8a1,1 0 1,0 2,0a1,1 0 1,0 -2,0M397.8,281.2a1,1 0 1,0 2,0a1,1 0 1,0 -2,0M397.8,266.0a1,1 0 1,0 2,0a1,1 0 1,0 -2,0M397.8,282.8a1,1 0 1,0 2,0a1,1 0 1,0 -2,0M397.8,294.6a1,1 0 1,0 2,0a1,1 0 1,0 -2,0M397.8,256.4a1,1 0 1,0 2,0a1,1 0 1,0 -2,0M397.8,273.2a1,1 0 1,0 2,0a1,1 0 1,0 -2,0M397.8,267.2a1,1 0 1,0 2,0a1,1 0 1,0 -2,0M397.8,303.2a1,1 0 1,0 2,0a1,1 0 1,0 -2,0M397.8,298.8a1,1 0 1,0 2,0a1,1 0 1,0 -2,0M397.8,262.1a1,1 0 1,0 2,0a1,1 0 1,0 -2,0M397.8,289.4a1,1 0 1,0 2,0a1,1 0 1,0 -2,0M397.8,301.9a1,1 0 1,0 2,0a1,1 0 1,0 -2,0M397.8,265.9a1,1 0 1,0 2,0a1,1 0 1,0 -2,0M397.8,265.1a1,1 0 1,0 2,0a1,1 0 1,0 -2,0M397.8,240.4a1,1 0 1,0 2,0a1,1 0 1,0 -2,0M397.8,295.1a1,1 0 1,0 2,0a1,1 0 1,0 -2,0M397.8,248.5a1,1 0 1,0 2,0a1,1 0 1,0 -2,0M397.8,264.0a1,1 0 1,0 2,0a1,1 0 1,0 -2,0M397.8,286.4a1,1 0 1,0 2,0a1,1 0 1,0 -2,0M397.8,275.6a1,1 0 1,0 2,0a1,1 0 1,0 -2,0M397.8,253.9a1,1 0 1,0 2,0a1,1 0 1,0 -2,0M397.8,256.9a1,1 0 1,0 2,0a1,1 0 1,0 -2,0M397.8,296.3a1,1 0 1,0 2,0a1,1 0 1,0 -2,0" fill="#f7a21c" fill-opacity="0.85"/>
<text x="458.50" y="214.70" font-size="6.7" text-anchor="middle" fill="#111" >RAD51C</text>
<text x="0" y="0" font-size="5.1" text-anchor="middle" fill="#222" transform="translate(425.50,271.80) rotate(-90)">log2(Expression+1)</text>
<line x1="433.80" y1="222.20" x2="435.10" y2="222.20" stroke="#555" stroke-width="0.4" />
<text x="433.30" y="223.60" font-size="4.0" text-anchor="end" fill="#666" >2.1</text>
<line x1="433.80" y1="247.70" x2="435.10" y2="247.70" stroke="#555" stroke-width="0.4" />
<text x="433.30" y="249.10" font-size="4.0" text-anchor="end" fill="#666" >1.8</text>
<line x1="433.80" y1="274.30" x2="435.10" y2="274.30" stroke="#555" stroke-width="0.4" />
<text x="433.30" y="275.70" font-size="4.0" text-anchor="end" fill="#666" >1.5</text>
<line x1="433.80" y1="299.60" x2="435.10" y2="299.60" stroke="#555" stroke-width="0.4" />
<text x="433.30" y="301.00" font-size="4.0" text-anchor="end" fill="#666" >1.2</text>
<line x1="447.80" y1="264.50" x2="447.80" y2="297.20" stroke="#333" stroke-width="0.5" />
<line x1="468.80" y1="223.60" x2="468.80" y2="300.30" stroke="#333" stroke-width="0.5" />
<rect x="441.00" y="276.10" width="13.60" height="12.50" fill="#6bb15a" stroke="#333" stroke-width="0.6" />
<rect x="462.00" y="250.20" width="13.60" height="28.20" fill="#f7a21c" stroke="#333" stroke-width="0.6" />
<line x1="441.00" y1="282.50" x2="454.60" y2="282.50" stroke="#222" stroke-width="1.0" />
<line x1="462.00" y1="266.90" x2="475.60" y2="266.90" stroke="#222" stroke-width="1.0" />
<path d="M447.8,265.2L468.8,237.0M447.8,265.5L468.8,235.7M447.8,265.6L468.8,224.2M447.8,265.7L468.8,225.8M447.8,265.7L468.8,228.7M447.8,266.4L468.8,237.6M447.8,267.0L468.8,232.5M447.8,267.5L468.8,245.1M447.8,268.1L468.8,238.0M447.8,269.8L468.8,234.4M447.8,270.4L468.8,248.4M447.8,271.0L468.8,249.5M447.8,271.3L468.8,249.9M447.8,272.4L468.8,267.5M447.8,272.8L468.8,244.4M447.8,273.4L468.8,241.9M447.8,273.6L468.8,227.4M447.8,274.4L468.8,259.7M447.8,275.2L468.8,236.0M447.8,275.2L468.8,268.3M447.8,275.3L468.8,262.6M447.8,275.6L468.8,270.9M447.8,275.8L468.8,272.4M447.8,276.5L468.8,261.5M447.8,276.6L468.8,268.5M447.8,276.6L468.8,267.6M447.8,276.9L468.8,269.0M447.8,276.9L468.8,272.9M447.8,277.3L468.8,255.8M447.8,277.7L468.8,259.9M447.8,277.8L468.8,273.8M447.8,278.3L468.8,270.2M447.8,278.4L468.8,276.0M447.8,278.4L468.8,276.3M447.8,278.8L468.8,277.6M447.8,279.5L468.8,242.9M447.8,279.6L468.8,273.6M447.8,279.6L468.8,275.6M447.8,280.0L468.8,282.0M447.8,280.5L468.8,277.7M447.8,282.0L468.8,283.5M447.8,282.2L468.8,249.5M447.8,283.0L468.8,289.9M447.8,283.4L468.8,292.7M447.8,283.7L468.8,282.4M447.8,283.9L468.8,255.1M447.8,284.0L468.8,294.5M447.8,284.2L468.8,289.3M447.8,285.6L468.8,278.3M447.8,285.9L468.8,295.9M447.8,286.8L468.8,283.2M447.8,286.9L468.8,281.7M447.8,287.3L468.8,271.0M447.8,287.7L468.8,297.7M447.8,287.7L468.8,299.1M447.8,288.8L468.8,234.3M447.8,288.9L468.8,293.3M447.8,289.6L468.8,295.3M447.8,291.2L468.8,278.8M447.8,292.5L468.8,294.0M447.8,292.8L468.8,285.6M447.8,292.8L468.8,280.1M447.8,293.2L468.8,257.8M447.8,293.5L468.8,279.9M447.8,294.6L468.8,297.6M447.8,296.7L468.8,295.1M447.8,296.7L468.8,277.0M447.8,296.8L468.8,270.7" stroke="#c6c6c6" stroke-width="0.5" stroke-opacity="0.9" fill="none"/>
<line x1="435.10" y1="219.00" x2="435.10" y2="324.60" stroke="#222" stroke-width="0.95" />
<line x1="435.10" y1="324.60" x2="481.70" y2="324.60" stroke="#222" stroke-width="0.95" />
<line x1="447.80" y1="324.60" x2="447.80" y2="325.80" stroke="#333" stroke-width="0.4" />
<line x1="468.80" y1="324.60" x2="468.80" y2="325.80" stroke="#333" stroke-width="0.4" />
<text x="447.80" y="329.80" font-size="4.25" text-anchor="middle" fill="#555" >normal</text>
<text x="468.80" y="329.80" font-size="4.25" text-anchor="middle" fill="#555" >tumor</text>
<text x="442.50" y="223.90" font-size="5.25" text-anchor="start" fill="#111" >p = 5.7e-06</text>
<path d="M446.8,265.2a1,1 0 1,0 2,0a1,1 0 1,0 -2,0M446.8,265.5a1,1 0 1,0 2,0a1,1 0 1,0 -2,0M446.8,265.6a1,1 0 1,0 2,0a1,1 0 1,0 -2,0M446.8,265.7a1,1 0 1,0 2,0a1,1 0 1,0 -2,0M446.8,265.7a1,1 0 1,0 2,0a1,1 0 1,0 -2,0M446.8,266.4a1,1 0 1,0 2,0a1,1 0 1,0 -2,0M446.8,267.0a1,1 0 1,0 2,0a1,1 0 1,0 -2,0M446.8,267.5a1,1 0 1,0 2,0a1,1 0 1,0 -2,0M446.8,268.1a1,1 0 1,0 2,0a1,1 0 1,0 -2,0M446.8,269.8a1,1 0 1,0 2,0a1,1 0 1,0 -2,0M446.8,270.4a1,1 0 1,0 2,0a1,1 0 1,0 -2,0M446.8,271.0a1,1 0 1,0 2,0a1,1 0 1,0 -2,0M446.8,271.3a1,1 0 1,0 2,0a1,1 0 1,0 -2,0M446.8,272.4a1,1 0 1,0 2,0a1,1 0 1,0 -2,0M446.8,272.8a1,1 0 1,0 2,0a1,1 0 1,0 -2,0M446.8,273.4a1,1 0 1,0 2,0a1,1 0 1,0 -2,0M446.8,273.6a1,1 0 1,0 2,0a1,1 0 1,0 -2,0M446.8,274.4a1,1 0 1,0 2,0a1,1 0 1,0 -2,0M446.8,275.2a1,1 0 1,0 2,0a1,1 0 1,0 -2,0M446.8,275.2a1,1 0 1,0 2,0a1,1 0 1,0 -2,0M446.8,275.3a1,1 0 1,0 2,0a1,1 0 1,0 -2,0M446.8,275.6a1,1 0 1,0 2,0a1,1 0 1,0 -2,0M446.8,275.8a1,1 0 1,0 2,0a1,1 0 1,0 -2,0M446.8,276.5a1,1 0 1,0 2,0a1,1 0 1,0 -2,0M446.8,276.6a1,1 0 1,0 2,0a1,1 0 1,0 -2,0M446.8,276.6a1,1 0 1,0 2,0a1,1 0 1,0 -2,0M446.8,276.9a1,1 0 1,0 2,0a1,1 0 1,0 -2,0M446.8,276.9a1,1 0 1,0 2,0a1,1 0 1,0 -2,0M446.8,277.3a1,1 0 1,0 2,0a1,1 0 1,0 -2,0M446.8,277.7a1,1 0 1,0 2,0a1,1 0 1,0 -2,0M446.8,277.8a1,1 0 1,0 2,0a1,1 0 1,0 -2,0M446.8,278.3a1,1 0 1,0 2,0a1,1 0 1,0 -2,0M446.8,278.4a1,1 0 1,0 2,0a1,1 0 1,0 -2,0M446.8,278.4a1,1 0 1,0 2,0a1,1 0 1,0 -2,0M446.8,278.8a1,1 0 1,0 2,0a1,1 0 1,0 -2,0M446.8,279.5a1,1 0 1,0 2,0a1,1 0 1,0 -2,0M446.8,279.6a1,1 0 1,0 2,0a1,1 0 1,0 -2,0M446.8,279.6a1,1 0 1,0 2,0a1,1 0 1,0 -2,0M446.8,280.0a1,1 0 1,0 2,0a1,1 0 1,0 -2,0M446.8,280.5a1,1 0 1,0 2,0a1,1 0 1,0 -2,0M446.8,282.0a1,1 0 1,0 2,0a1,1 0 1,0 -2,0M446.8,282.2a1,1 0 1,0 2,0a1,1 0 1,0 -2,0M446.8,283.0a1,1 0 1,0 2,0a1,1 0 1,0 -2,0M446.8,283.4a1,1 0 1,0 2,0a1,1 0 1,0 -2,0M446.8,283.7a1,1 0 1,0 2,0a1,1 0 1,0 -2,0M446.8,283.9a1,1 0 1,0 2,0a1,1 0 1,0 -2,0M446.8,284.0a1,1 0 1,0 2,0a1,1 0 1,0 -2,0M446.8,284.2a1,1 0 1,0 2,0a1,1 0 1,0 -2,0M446.8,285.6a1,1 0 1,0 2,0a1,1 0 1,0 -2,0M446.8,285.9a1,1 0 1,0 2,0a1,1 0 1,0 -2,0M446.8,286.8a1,1 0 1,0 2,0a1,1 0 1,0 -2,0M446.8,286.9a1,1 0 1,0 2,0a1,1 0 1,0 -2,0M446.8,287.3a1,1 0 1,0 2,0a1,1 0 1,0 -2,0M446.8,287.7a1,1 0 1,0 2,0a1,1 0 1,0 -2,0M446.8,287.7a1,1 0 1,0 2,0a1,1 0 1,0 -2,0M446.8,288.8a1,1 0 1,0 2,0a1,1 0 1,0 -2,0M446.8,288.9a1,1 0 1,0 2,0a1,1 0 1,0 -2,0M446.8,289.6a1,1 0 1,0 2,0a1,1 0 1,0 -2,0M446.8,291.2a1,1 0 1,0 2,0a1,1 0 1,0 -2,0M446.8,292.5a1,1 0 1,0 2,0a1,1 0 1,0 -2,0M446.8,292.8a1,1 0 1,0 2,0a1,1 0 1,0 -2,0M446.8,292.8a1,1 0 1,0 2,0a1,1 0 1,0 -2,0M446.8,293.2a1,1 0 1,0 2,0a1,1 0 1,0 -2,0M446.8,293.5a1,1 0 1,0 2,0a1,1 0 1,0 -2,0M446.8,294.6a1,1 0 1,0 2,0a1,1 0 1,0 -2,0M446.8,296.7a1,1 0 1,0 2,0a1,1 0 1,0 -2,0M446.8,296.7a1,1 0 1,0 2,0a1,1 0 1,0 -2,0M446.8,296.8a1,1 0 1,0 2,0a1,1 0 1,0 -2,0M446.8,307.4a1,1 0 1,0 2,0a1,1 0 1,0 -2,0M446.8,313.5a1,1 0 1,0 2,0a1,1 0 1,0 -2,0" fill="#6bb15a" fill-opacity="0.85"/>
<path d="M467.8,237.0a1,1 0 1,0 2,0a1,1 0 1,0 -2,0M467.8,235.7a1,1 0 1,0 2,0a1,1 0 1,0 -2,0M467.8,224.2a1,1 0 1,0 2,0a1,1 0 1,0 -2,0M467.8,225.8a1,1 0 1,0 2,0a1,1 0 1,0 -2,0M467.8,228.7a1,1 0 1,0 2,0a1,1 0 1,0 -2,0M467.8,237.6a1,1 0 1,0 2,0a1,1 0 1,0 -2,0M467.8,232.5a1,1 0 1,0 2,0a1,1 0 1,0 -2,0M467.8,245.1a1,1 0 1,0 2,0a1,1 0 1,0 -2,0M467.8,238.0a1,1 0 1,0 2,0a1,1 0 1,0 -2,0M467.8,234.4a1,1 0 1,0 2,0a1,1 0 1,0 -2,0M467.8,248.4a1,1 0 1,0 2,0a1,1 0 1,0 -2,0M467.8,249.5a1,1 0 1,0 2,0a1,1 0 1,0 -2,0M467.8,249.9a1,1 0 1,0 2,0a1,1 0 1,0 -2,0M467.8,267.5a1,1 0 1,0 2,0a1,1 0 1,0 -2,0M467.8,244.4a1,1 0 1,0 2,0a1,1 0 1,0 -2,0M467.8,241.9a1,1 0 1,0 2,0a1,1 0 1,0 -2,0M467.8,227.4a1,1 0 1,0 2,0a1,1 0 1,0 -2,0M467.8,259.7a1,1 0 1,0 2,0a1,1 0 1,0 -2,0M467.8,236.0a1,1 0 1,0 2,0a1,1 0 1,0 -2,0M467.8,268.3a1,1 0 1,0 2,0a1,1 0 1,0 -2,0M467.8,262.6a1,1 0 1,0 2,0a1,1 0 1,0 -2,0M467.8,270.9a1,1 0 1,0 2,0a1,1 0 1,0 -2,0M467.8,272.4a1,1 0 1,0 2,0a1,1 0 1,0 -2,0M467.8,261.5a1,1 0 1,0 2,0a1,1 0 1,0 -2,0M467.8,268.5a1,1 0 1,0 2,0a1,1 0 1,0 -2,0M467.8,267.6a1,1 0 1,0 2,0a1,1 0 1,0 -2,0M467.8,269.0a1,1 0 1,0 2,0a1,1 0 1,0 -2,0M467.8,272.9a1,1 0 1,0 2,0a1,1 0 1,0 -2,0M467.8,255.8a1,1 0 1,0 2,0a1,1 0 1,0 -2,0M467.8,259.9a1,1 0 1,0 2,0a1,1 0 1,0 -2,0M467.8,273.8a1,1 0 1,0 2,0a1,1 0 1,0 -2,0M467.8,270.2a1,1 0 1,0 2,0a1,1 0 1,0 -2,0M467.8,276.0a1,1 0 1,0 2,0a1,1 0 1,0 -2,0M467.8,276.3a1,1 0 1,0 2,0a1,1 0 1,0 -2,0M467.8,277.6a1,1 0 1,0 2,0a1,1 0 1,0 -2,0M467.8,242.9a1,1 0 1,0 2,0a1,1 0 1,0 -2,0M467.8,273.6a1,1 0 1,0 2,0a1,1 0 1,0 -2,0M467.8,275.6a1,1 0 1,0 2,0a1,1 0 1,0 -2,0M467.8,282.0a1,1 0 1,0 2,0a1,1 0 1,0 -2,0M467.8,277.7a1,1 0 1,0 2,0a1,1 0 1,0 -2,0M467.8,283.5a1,1 0 1,0 2,0a1,1 0 1,0 -2,0M467.8,249.5a1,1 0 1,0 2,0a1,1 0 1,0 -2,0M467.8,289.9a1,1 0 1,0 2,0a1,1 0 1,0 -2,0M467.8,292.7a1,1 0 1,0 2,0a1,1 0 1,0 -2,0M467.8,282.4a1,1 0 1,0 2,0a1,1 0 1,0 -2,0M467.8,255.1a1,1 0 1,0 2,0a1,1 0 1,0 -2,0M467.8,294.5a1,1 0 1,0 2,0a1,1 0 1,0 -2,0M467.8,289.3a1,1 0 1,0 2,0a1,1 0 1,0 -2,0M467.8,278.3a1,1 0 1,0 2,0a1,1 0 1,0 -2,0M467.8,295.9a1,1 0 1,0 2,0a1,1 0 1,0 -2,0M467.8,283.2a1,1 0 1,0 2,0a1,1 0 1,0 -2,0M467.8,281.7a1,1 0 1,0 2,0a1,1 0 1,0 -2,0M467.8,271.0a1,1 0 1,0 2,0a1,1 0 1,0 -2,0M467.8,297.7a1,1 0 1,0 2,0a1,1 0 1,0 -2,0M467.8,299.1a1,1 0 1,0 2,0a1,1 0 1,0 -2,0M467.8,234.3a1,1 0 1,0 2,0a1,1 0 1,0 -2,0M467.8,293.3a1,1 0 1,0 2,0a1,1 0 1,0 -2,0M467.8,295.3a1,1 0 1,0 2,0a1,1 0 1,0 -2,0M467.8,278.8a1,1 0 1,0 2,0a1,1 0 1,0 -2,0M467.8,294.0a1,1 0 1,0 2,0a1,1 0 1,0 -2,0M467.8,285.6a1,1 0 1,0 2,0a1,1 0 1,0 -2,0M467.8,280.1a1,1 0 1,0 2,0a1,1 0 1,0 -2,0M467.8,257.8a1,1 0 1,0 2,0a1,1 0 1,0 -2,0M467.8,279.9a1,1 0 1,0 2,0a1,1 0 1,0 -2,0M467.8,297.6a1,1 0 1,0 2,0a1,1 0 1,0 -2,0M467.8,295.1a1,1 0 1,0 2,0a1,1 0 1,0 -2,0M467.8,277.0a1,1 0 1,0 2,0a1,1 0 1,0 -2,0M467.8,270.7a1,1 0 1,0 2,0a1,1 0 1,0 -2,0M467.8,319.7a1,1 0 1,0 2,0a1,1 0 1,0 -2,0" fill="#f7a21c" fill-opacity="0.85"/>
<text x="38.20" y="345.10" font-size="6.7" text-anchor="middle" fill="#111" >RAD51D</text>
<text x="0" y="0" font-size="5.1" text-anchor="middle" fill="#222" transform="translate(5.20,402.35) rotate(-90)">log2(Expression+1)</text>
<line x1="13.50" y1="384.20" x2="14.80" y2="384.20" stroke="#555" stroke-width="0.4" />
<text x="13.00" y="385.60" font-size="4.0" text-anchor="end" fill="#666" >1.5</text>
<line x1="13.50" y1="422.40" x2="14.80" y2="422.40" stroke="#555" stroke-width="0.4" />
<text x="13.00" y="423.80" font-size="4.0" text-anchor="end" fill="#666" >1.0</text>
<line x1="27.50" y1="401.50" x2="27.50" y2="450.60" stroke="#333" stroke-width="0.5" />
<line x1="48.50" y1="354.10" x2="48.50" y2="436.70" stroke="#333" stroke-width="0.5" />
<rect x="20.70" y="412.40" width="13.60" height="19.20" fill="#6bb15a" stroke="#333" stroke-width="0.6" />
<rect x="41.70" y="386.20" width="13.60" height="34.30" fill="#f7a21c" stroke="#333" stroke-width="0.6" />
<line x1="20.70" y1="420.50" x2="34.30" y2="420.50" stroke="#222" stroke-width="1.0" />
<line x1="41.70" y1="405.60" x2="55.30" y2="405.60" stroke="#222" stroke-width="1.0" />
<path d="M27.5,402.1L48.5,394.2M27.5,402.8L48.5,362.4M27.5,403.4L48.5,366.3M27.5,404.0L48.5,355.9M27.5,404.2L48.5,364.5M27.5,404.7L48.5,381.5M27.5,404.8L48.5,368.7M27.5,404.9L48.5,375.4M27.5,407.6L48.5,379.3M27.5,408.3L48.5,400.6M27.5,408.5L48.5,386.7M27.5,408.5L48.5,381.0M27.5,408.6L48.5,404.6M27.5,409.9L48.5,390.5M27.5,409.9L48.5,394.7M27.5,410.3L48.5,395.1M27.5,411.0L48.5,398.1M27.5,411.5L48.5,394.2M27.5,412.2L48.5,394.9M27.5,412.9L48.5,399.6M27.5,413.4L48.5,395.8M27.5,413.9L48.5,401.0M27.5,414.4L48.5,412.1M27.5,415.0L48.5,391.9M27.5,415.2L48.5,358.5M27.5,415.9L48.5,407.2M27.5,416.1L48.5,404.7M27.5,416.2L48.5,405.2M27.5,416.4L48.5,405.4M27.5,416.4L48.5,415.4M27.5,416.6L48.5,410.3M27.5,418.7L48.5,399.2M27.5,418.9L48.5,407.8M27.5,419.0L48.5,414.1M27.5,419.8L48.5,396.8M27.5,420.0L48.5,404.6M27.5,420.0L48.5,410.9M27.5,420.0L48.5,419.0M27.5,420.1L48.5,397.4M27.5,420.5L48.5,418.8M27.5,421.7L48.5,405.9M27.5,423.5L48.5,421.4M27.5,423.6L48.5,415.6M27.5,424.4L48.5,414.4M27.5,425.0L48.5,420.3M27.5,425.9L48.5,426.8M27.5,426.3L48.5,417.1M27.5,428.1L48.5,424.9M27.5,428.5L48.5,414.4M27.5,429.3L48.5,432.0M27.5,429.8L48.5,427.2M27.5,430.5L48.5,417.4M27.5,430.8L48.5,417.6M27.5,431.1L48.5,415.3M27.5,432.6L48.5,425.4M27.5,434.7L48.5,416.9M27.5,435.7L48.5,429.9M27.5,437.8L48.5,435.3M27.5,440.6L48.5,430.6M27.5,441.3L48.5,420.4M27.5,442.1L48.5,412.7M27.5,442.6L48.5,425.4M27.5,443.9L48.5,416.1M27.5,444.3L48.5,434.5M27.5,444.8L48.5,433.0M27.5,448.0L48.5,415.3M27.5,449.1L48.5,416.2M27.5,450.3L48.5,427.4" stroke="#c6c6c6" stroke-width="0.5" stroke-opacity="0.9" fill="none"/>
<line x1="14.80" y1="349.40" x2="14.80" y2="455.30" stroke="#222" stroke-width="0.95" />
<line x1="14.80" y1="455.30" x2="61.40" y2="455.30" stroke="#222" stroke-width="0.95" />
<line x1="27.50" y1="455.30" x2="27.50" y2="456.50" stroke="#333" stroke-width="0.4" />
<line x1="48.50" y1="455.30" x2="48.50" y2="456.50" stroke="#333" stroke-width="0.4" />
<text x="27.50" y="460.50" font-size="4.25" text-anchor="middle" fill="#555" >normal</text>
<text x="48.50" y="460.50" font-size="4.25" text-anchor="middle" fill="#555" >tumor</text>
<text x="22.20" y="354.30" font-size="5.25" text-anchor="start" fill="#111" >p = 8.1e-07</text>
<path d="M26.5,402.1a1,1 0 1,0 2,0a1,1 0 1,0 -2,0M26.5,402.8a1,1 0 1,0 2,0a1,1 0 1,0 -2,0M26.5,403.4a1,1 0 1,0 2,0a1,1 0 1,0 -2,0M26.5,404.0a1,1 0 1,0 2,0a1,1 0 1,0 -2,0M26.5,404.2a1,1 0 1,0 2,0a1,1 0 1,0 -2,0M26.5,404.7a1,1 0 1,0 2,0a1,1 0 1,0 -2,0M26.5,404.8a1,1 0 1,0 2,0a1,1 0 1,0 -2,0M26.5,404.9a1,1 0 1,0 2,0a1,1 0 1,0 -2,0M26.5,407.6a1,1 0 1,0 2,0a1,1 0 1,0 -2,0M26.5,408.3a1,1 0 1,0 2,0a1,1 0 1,0 -2,0M26.5,408.5a1,1 0 1,0 2,0a1,1 0 1,0 -2,0M26.5,408.5a1,1 0 1,0 2,0a1,1 0 1,0 -2,0M26.5,408.6a1,1 0 1,0 2,0a1,1 0 1,0 -2,0M26.5,409.9a1,1 0 1,0 2,0a1,1 0 1,0 -2,0M26.5,409.9a1,1 0 1,0 2,0a1,1 0 1,0 -2,0M26.5,410.3a1,1 0 1,0 2,0a1,1 0 1,0 -2,0M26.5,411.0a1,1 0 1,0 2,0a1,1 0 1,0 -2,0M26.5,411.5a1,1 0 1,0 2,0a1,1 0 1,0 -2,0M26.5,412.2a1,1 0 1,0 2,0a1,1 0 1,0 -2,0M26.5,412.9a1,1 0 1,0 2,0a1,1 0 1,0 -2,0M26.5,413.4a1,1 0 1,0 2,0a1,1 0 1,0 -2,0M26.5,413.9a1,1 0 1,0 2,0a1,1 0 1,0 -2,0M26.5,414.4a1,1 0 1,0 2,0a1,1 0 1,0 -2,0M26.5,415.0a1,1 0 1,0 2,0a1,1 0 1,0 -2,0M26.5,415.2a1,1 0 1,0 2,0a1,1 0 1,0 -2,0M26.5,415.9a1,1 0 1,0 2,0a1,1 0 1,0 -2,0M26.5,416.1a1,1 0 1,0 2,0a1,1 0 1,0 -2,0M26.5,416.2a1,1 0 1,0 2,0a1,1 0 1,0 -2,0M26.5,416.4a1,1 0 1,0 2,0a1,1 0 1,0 -2,0M26.5,416.4a1,1 0 1,0 2,0a1,1 0 1,0 -2,0M26.5,416.6a1,1 0 1,0 2,0a1,1 0 1,0 -2,0M26.5,418.7a1,1 0 1,0 2,0a1,1 0 1,0 -2,0M26.5,418.9a1,1 0 1,0 2,0a1,1 0 1,0 -2,0M26.5,419.0a1,1 0 1,0 2,0a1,1 0 1,0 -2,0M26.5,419.8a1,1 0 1,0 2,0a1,1 0 1,0 -2,0M26.5,420.0a1,1 0 1,0 2,0a1,1 0 1,0 -2,0M26.5,420.0a1,1 0 1,0 2,0a1,1 0 1,0 -2,0M26.5,420.0a1,1 0 1,0 2,0a1,1 0 1,0 -2,0M26.5,420.1a1,1 0 1,0 2,0a1,1 0 1,0 -2,0M26.5,420.5a1,1 0 1,0 2,0a1,1 0 1,0 -2,0M26.5,421.7a1,1 0 1,0 2,0a1,1 0 1,0 -2,0M26.5,423.5a1,1 0 1,0 2,0a1,1 0 1,0 -2,0M26.5,423.6a1,1 0 1,0 2,0a1,1 0 1,0 -2,0M26.5,424.4a1,1 0 1,0 2,0a1,1 0 1,0 -2,0M26.5,425.0a1,1 0 1,0 2,0a1,1 0 1,0 -2,0M26.5,425.9a1,1 0 1,0 2,0a1,1 0 1,0 -2,0M26.5,426.3a1,1 0 1,0 2,0a1,1 0 1,0 -2,0M26.5,428.1a1,1 0 1,0 2,0a1,1 0 1,0 -2,0M26.5,428.5a1,1 0 1,0 2,0a1,1 0 1,0 -2,0M26.5,429.3a1,1 0 1,0 2,0a1,1 0 1,0 -2,0M26.5,429.8a1,1 0 1,0 2,0a1,1 0 1,0 -2,0M26.5,430.5a1,1 0 1,0 2,0a1,1 0 1,0 -2,0M26.5,430.8a1,1 0 1,0 2,0a1,1 0 1,0 -2,0M26.5,431.1a1,1 0 1,0 2,0a1,1 0 1,0 -2,0M26.5,432.6a1,1 0 1,0 2,0a1,1 0 1,0 -2,0M26.5,434.7a1,1 0 1,0 2,0a1,1 0 1,0 -2,0M26.5,435.7a1,1 0 1,0 2,0a1,1 0 1,0 -2,0M26.5,437.8a1,1 0 1,0 2,0a1,1 0 1,0 -2,0M26.5,440.6a1,1 0 1,0 2,0a1,1 0 1,0 -2,0M26.5,441.3a1,1 0 1,0 2,0a1,1 0 1,0 -2,0M26.5,442.1a1,1 0 1,0 2,0a1,1 0 1,0 -2,0M26.5,442.6a1,1 0 1,0 2,0a1,1 0 1,0 -2,0M26.5,443.9a1,1 0 1,0 2,0a1,1 0 1,0 -2,0M26.5,444.3a1,1 0 1,0 2,0a1,1 0 1,0 -2,0M26.5,444.8a1,1 0 1,0 2,0a1,1 0 1,0 -2,0M26.5,448.0a1,1 0 1,0 2,0a1,1 0 1,0 -2,0M26.5,449.1a1,1 0 1,0 2,0a1,1 0 1,0 -2,0M26.5,450.3a1,1 0 1,0 2,0a1,1 0 1,0 -2,0" fill="#6bb15a" fill-opacity="0.85"/>
<path d="M47.5,394.2a1,1 0 1,0 2,0a1,1 0 1,0 -2,0M47.5,362.4a1,1 0 1,0 2,0a1,1 0 1,0 -2,0M47.5,366.3a1,1 0 1,0 2,0a1,1 0 1,0 -2,0M47.5,355.9a1,1 0 1,0 2,0a1,1 0 1,0 -2,0M47.5,364.5a1,1 0 1,0 2,0a1,1 0 1,0 -2,0M47.5,381.5a1,1 0 1,0 2,0a1,1 0 1,0 -2,0M47.5,368.7a1,1 0 1,0 2,0a1,1 0 1,0 -2,0M47.5,375.4a1,1 0 1,0 2,0a1,1 0 1,0 -2,0M47.5,379.3a1,1 0 1,0 2,0a1,1 0 1,0 -2,0M47.5,400.6a1,1 0 1,0 2,0a1,1 0 1,0 -2,0M47.5,386.7a1,1 0 1,0 2,0a1,1 0 1,0 -2,0M47.5,381.0a1,1 0 1,0 2,0a1,1 0 1,0 -2,0M47.5,404.6a1,1 0 1,0 2,0a1,1 0 1,0 -2,0M47.5,390.5a1,1 0 1,0 2,0a1,1 0 1,0 -2,0M47.5,394.7a1,1 0 1,0 2,0a1,1 0 1,0 -2,0M47.5,395.1a1,1 0 1,0 2,0a1,1 0 1,0 -2,0M47.5,398.1a1,1 0 1,0 2,0a1,1 0 1,0 -2,0M47.5,394.2a1,1 0 1,0 2,0a1,1 0 1,0 -2,0M47.5,394.9a1,1 0 1,0 2,0a1,1 0 1,0 -2,0M47.5,399.6a1,1 0 1,0 2,0a1,1 0 1,0 -2,0M47.5,395.8a1,1 0 1,0 2,0a1,1 0 1,0 -2,0M47.5,401.0a1,1 0 1,0 2,0a1,1 0 1,0 -2,0M47.5,412.1a1,1 0 1,0 2,0a1,1 0 1,0 -2,0M47.5,391.9a1,1 0 1,0 2,0a1,1 0 1,0 -2,0M47.5,358.5a1,1 0 1,0 2,0a1,1 0 1,0 -2,0M47.5,407.2a1,1 0 1,0 2,0a1,1 0 1,0 -2,0M47.5,404.7a1,1 0 1,0 2,0a1,1 0 1,0 -2,0M47.5,405.2a1,1 0 1,0 2,0a1,1 0 1,0 -2,0M47.5,405.4a1,1 0 1,0 2,0a1,1 0 1,0 -2,0M47.5,415.4a1,1 0 1,0 2,0a1,1 0 1,0 -2,0M47.5,410.3a1,1 0 1,0 2,0a1,1 0 1,0 -2,0M47.5,399.2a1,1 0 1,0 2,0a1,1 0 1,0 -2,0M47.5,407.8a1,1 0 1,0 2,0a1,1 0 1,0 -2,0M47.5,414.1a1,1 0 1,0 2,0a1,1 0 1,0 -2,0M47.5,396.8a1,1 0 1,0 2,0a1,1 0 1,0 -2,0M47.5,404.6a1,1 0 1,0 2,0a1,1 0 1,0 -2,0M47.5,410.9a1,1 0 1,0 2,0a1,1 0 1,0 -2,0M47.5,419.0a1,1 0 1,0 2,0a1,1 0 1,0 -2,0M47.5,397.4a1,1 0 1,0 2,0a1,1 0 1,0 -2,0M47.5,418.8a1,1 0 1,0 2,0a1,1 0 1,0 -2,0M47.5,405.9a1,1 0 1,0 2,0a1,1 0 1,0 -2,0M47.5,421.4a1,1 0 1,0 2,0a1,1 0 1,0 -2,0M47.5,415.6a1,1 0 1,0 2,0a1,1 0 1,0 -2,0M47.5,414.4a1,1 0 1,0 2,0a1,1 0 1,0 -2,0M47.5,420.3a1,1 0 1,0 2,0a1,1 0 1,0 -2,0M47.5,426.8a1,1 0 1,0 2,0a1,1 0 1,0 -2,0M47.5,417.1a1,1 0 1,0 2,0a1,1 0 1,0 -2,0M47.5,424.9a1,1 0 1,0 2,0a1,1 0 1,0 -2,0M47.5,414.4a1,1 0 1,0 2,0a1,1 0 1,0 -2,0M47.5,432.0a1,1 0 1,0 2,0a1,1 0 1,0 -2,0M47.5,427.2a1,1 0 1,0 2,0a1,1 0 1,0 -2,0M47.5,417.4a1,1 0 1,0 2,0a1,1 0 1,0 -2,0M47.5,417.6a1,1 0 1,0 2,0a1,1 0 1,0 -2,0M47.5,415.3a1,1 0 1,0 2,0a1,1 0 1,0 -2,0M47.5,425.4a1,1 0 1,0 2,0a1,1 0 1,0 -2,0M47.5,416.9a1,1 0 1,0 2,0a1,1 0 1,0 -2,0M47.5,429.9a1,1 0 1,0 2,0a1,1 0 1,0 -2,0M47.5,435.3a1,1 0 1,0 2,0a1,1 0 1,0 -2,0M47.5,430.6a1,1 0 1,0 2,0a1,1 0 1,0 -2,0M47.5,420.4a1,1 0 1,0 2,0a1,1 0 1,0 -2,0M47.5,412.7a1,1 0 1,0 2,0a1,1 0 1,0 -2,0M47.5,425.4a1,1 0 1,0 2,0a1,1 0 1,0 -2,0M47.5,416.1a1,1 0 1,0 2,0a1,1 0 1,0 -2,0M47.5,434.5a1,1 0 1,0 2,0a1,1 0 1,0 -2,0M47.5,433.0a1,1 0 1,0 2,0a1,1 0 1,0 -2,0M47.5,415.3a1,1 0 1,0 2,0a1,1 0 1,0 -2,0M47.5,416.2a1,1 0 1,0 2,0a1,1 0 1,0 -2,0M47.5,427.4a1,1 0 1,0 2,0a1,1 0 1,0 -2,0" fill="#f7a21c" fill-opacity="0.85"/>
<text x="108.25" y="345.10" font-size="6.7" text-anchor="middle" fill="#111" >XRCC2</text>
<text x="0" y="0" font-size="5.1" text-anchor="middle" fill="#222" transform="translate(75.25,402.35) rotate(-90)">log2(Expression+1)</text>
<line x1="83.55" y1="362.70" x2="84.85" y2="362.70" stroke="#555" stroke-width="0.4" />
<text x="83.05" y="364.10" font-size="4.0" text-anchor="end" fill="#666" >2</text>
<line x1="83.55" y1="381.10" x2="84.85" y2="381.10" stroke="#555" stroke-width="0.4" />
<text x="83.05" y="382.50" font-size="4.0" text-anchor="end" fill="#666" >1</text>
<line x1="83.55" y1="399.50" x2="84.85" y2="399.50" stroke="#555" stroke-width="0.4" />
<text x="83.05" y="400.90" font-size="4.0" text-anchor="end" fill="#666" >0</text>
<line x1="83.55" y1="417.50" x2="84.85" y2="417.50" stroke="#555" stroke-width="0.4" />
<text x="83.05" y="418.90" font-size="4.0" text-anchor="end" fill="#666" >-1</text>
<line x1="83.55" y1="435.90" x2="84.85" y2="435.90" stroke="#555" stroke-width="0.4" />
<text x="83.05" y="437.30" font-size="4.0" text-anchor="end" fill="#666" >-2</text>
<line x1="83.55" y1="454.10" x2="84.85" y2="454.10" stroke="#555" stroke-width="0.4" />
<text x="83.05" y="455.50" font-size="4.0" text-anchor="end" fill="#666" >-3</text>
<line x1="97.55" y1="397.40" x2="97.55" y2="438.30" stroke="#333" stroke-width="0.5" />
<line x1="118.55" y1="354.10" x2="118.55" y2="411.70" stroke="#333" stroke-width="0.5" />
<rect x="90.75" y="407.70" width="13.60" height="15.70" fill="#6bb15a" stroke="#333" stroke-width="0.6" />
<rect x="111.75" y="368.40" width="13.60" height="23.90" fill="#f7a21c" stroke="#333" stroke-width="0.6" />
<line x1="90.75" y1="413.80" x2="104.35" y2="413.80" stroke="#222" stroke-width="1.0" />
<line x1="111.75" y1="381.10" x2="125.35" y2="381.10" stroke="#222" stroke-width="1.0" />
<path d="M97.5,398.3L118.5,355.5M97.5,399.4L118.5,370.2M97.5,399.7L118.5,371.0M97.5,400.5L118.5,366.3M97.5,401.1L118.5,362.6M97.5,402.0L118.5,365.6M97.5,402.0L118.5,360.1M97.5,402.9L118.5,375.3M97.5,403.1L118.5,369.9M97.5,403.6L118.5,376.5M97.5,403.7L118.5,370.2M97.5,403.9L118.5,370.4M97.5,404.1L118.5,358.1M97.5,404.8L118.5,366.7M97.5,406.1L118.5,373.9M97.5,406.4L118.5,376.6M97.5,406.6L118.5,376.6M97.5,406.7L118.5,381.2M97.5,407.6L118.5,380.6M97.5,407.9L118.5,360.0M97.5,407.9L118.5,357.6M97.5,408.4L118.5,379.6M97.5,409.1L118.5,371.8M97.5,409.2L118.5,376.1M97.5,409.3L118.5,377.0M97.5,409.6L118.5,382.9M97.5,409.9L118.5,374.1M97.5,410.1L118.5,377.7M97.5,410.2L118.5,386.7M97.5,411.0L118.5,383.8M97.5,411.7L118.5,379.4M97.5,411.7L118.5,386.8M97.5,412.1L118.5,381.9M97.5,413.0L118.5,375.5M97.5,413.1L118.5,359.7M97.5,413.7L118.5,387.7M97.5,413.7L118.5,387.5M97.5,413.8L118.5,354.5M97.5,415.5L118.5,355.6M97.5,416.6L118.5,388.8M97.5,417.2L118.5,388.6M97.5,417.4L118.5,399.3M97.5,417.9L118.5,383.9M97.5,418.1L118.5,390.9M97.5,420.0L118.5,384.3M97.5,420.5L118.5,392.2M97.5,422.2L118.5,392.4M97.5,422.8L118.5,389.5M97.5,423.5L118.5,399.7M97.5,423.5L118.5,380.3M97.5,423.7L118.5,392.5M97.5,424.6L118.5,386.0M97.5,425.8L118.5,405.6M97.5,426.2L118.5,391.7M97.5,428.0L118.5,407.4M97.5,428.5L118.5,408.3M97.5,428.8L118.5,395.8M97.5,430.2L118.5,402.4M97.5,430.8L118.5,392.2M97.5,431.4L118.5,388.0M97.5,431.5L118.5,400.8M97.5,433.5L118.5,400.7M97.5,434.0L118.5,401.7M97.5,434.2L118.5,385.4M97.5,434.5L118.5,402.1M97.5,435.0L118.5,407.9M97.5,436.3L118.5,397.2M97.5,436.7L118.5,381.6" stroke="#c6c6c6" stroke-width="0.5" stroke-opacity="0.9" fill="none"/>
<line x1="84.85" y1="349.40" x2="84.85" y2="455.30" stroke="#222" stroke-width="0.95" />
<line x1="84.85" y1="455.30" x2="131.45" y2="455.30" stroke="#222" stroke-width="0.95" />
<line x1="97.55" y1="455.30" x2="97.55" y2="456.50" stroke="#333" stroke-width="0.4" />
<line x1="118.55" y1="455.30" x2="118.55" y2="456.50" stroke="#333" stroke-width="0.4" />
<text x="97.55" y="460.50" font-size="4.25" text-anchor="middle" fill="#555" >normal</text>
<text x="118.55" y="460.50" font-size="4.25" text-anchor="middle" fill="#555" >tumor</text>
<text x="92.25" y="354.30" font-size="5.25" text-anchor="start" fill="#111" >p = &lt;2e-16</text>
<path d="M96.5,398.3a1,1 0 1,0 2,0a1,1 0 1,0 -2,0M96.5,399.4a1,1 0 1,0 2,0a1,1 0 1,0 -2,0M96.5,399.7a1,1 0 1,0 2,0a1,1 0 1,0 -2,0M96.5,400.5a1,1 0 1,0 2,0a1,1 0 1,0 -2,0M96.5,401.1a1,1 0 1,0 2,0a1,1 0 1,0 -2,0M96.5,402.0a1,1 0 1,0 2,0a1,1 0 1,0 -2,0M96.5,402.0a1,1 0 1,0 2,0a1,1 0 1,0 -2,0M96.5,402.9a1,1 0 1,0 2,0a1,1 0 1,0 -2,0M96.5,403.1a1,1 0 1,0 2,0a1,1 0 1,0 -2,0M96.5,403.6a1,1 0 1,0 2,0a1,1 0 1,0 -2,0M96.5,403.7a1,1 0 1,0 2,0a1,1 0 1,0 -2,0M96.5,403.9a1,1 0 1,0 2,0a1,1 0 1,0 -2,0M96.5,404.1a1,1 0 1,0 2,0a1,1 0 1,0 -2,0M96.5,404.8a1,1 0 1,0 2,0a1,1 0 1,0 -2,0M96.5,406.1a1,1 0 1,0 2,0a1,1 0 1,0 -2,0M96.5,406.4a1,1 0 1,0 2,0a1,1 0 1,0 -2,0M96.5,406.6a1,1 0 1,0 2,0a1,1 0 1,0 -2,0M96.5,406.7a1,1 0 1,0 2,0a1,1 0 1,0 -2,0M96.5,407.6a1,1 0 1,0 2,0a1,1 0 1,0 -2,0M96.5,407.9a1,1 0 1,0 2,0a1,1 0 1,0 -2,0M96.5,407.9a1,1 0 1,0 2,0a1,1 0 1,0 -2,0M96.5,408.4a1,1 0 1,0 2,0a1,1 0 1,0 -2,0M96.5,409.1a1,1 0 1,0 2,0a1,1 0 1,0 -2,0M96.5,409.2a1,1 0 1,0 2,0a1,1 0 1,0 -2,0M96.5,409.3a1,1 0 1,0 2,0a1,1 0 1,0 -2,0M96.5,409.6a1,1 0 1,0 2,0a1,1 0 1,0 -2,0M96.5,409.9a1,1 0 1,0 2,0a1,1 0 1,0 -2,0M96.5,410.1a1,1 0 1,0 2,0a1,1 0 1,0 -2,0M96.5,410.2a1,1 0 1,0 2,0a1,1 0 1,0 -2,0M96.5,411.0a1,1 0 1,0 2,0a1,1 0 1,0 -2,0M96.5,411.7a1,1 0 1,0 2,0a1,1 0 1,0 -2,0M96.5,411.7a1,1 0 1,0 2,0a1,1 0 1,0 -2,0M96.5,412.1a1,1 0 1,0 2,0a1,1 0 1,0 -2,0M96.5,413.0a1,1 0 1,0 2,0a1,1 0 1,0 -2,0M96.5,413.1a1,1 0 1,0 2,0a1,1 0 1,0 -2,0M96.5,413.7a1,1 0 1,0 2,0a1,1 0 1,0 -2,0M96.5,413.7a1,1 0 1,0 2,0a1,1 0 1,0 -2,0M96.5,413.8a1,1 0 1,0 2,0a1,1 0 1,0 -2,0M96.5,415.5a1,1 0 1,0 2,0a1,1 0 1,0 -2,0M96.5,416.6a1,1 0 1,0 2,0a1,1 0 1,0 -2,0M96.5,417.2a1,1 0 1,0 2,0a1,1 0 1,0 -2,0M96.5,417.4a1,1 0 1,0 2,0a1,1 0 1,0 -2,0M96.5,417.9a1,1 0 1,0 2,0a1,1 0 1,0 -2,0M96.5,418.1a1,1 0 1,0 2,0a1,1 0 1,0 -2,0M96.5,420.0a1,1 0 1,0 2,0a1,1 0 1,0 -2,0M96.5,420.5a1,1 0 1,0 2,0a1,1 0 1,0 -2,0M96.5,422.2a1,1 0 1,0 2,0a1,1 0 1,0 -2,0M96.5,422.8a1,1 0 1,0 2,0a1,1 0 1,0 -2,0M96.5,423.5a1,1 0 1,0 2,0a1,1 0 1,0 -2,0M96.5,423.5a1,1 0 1,0 2,0a1,1 0 1,0 -2,0M96.5,423.7a1,1 0 1,0 2,0a1,1 0 1,0 -2,0M96.5,424.6a1,1 0 1,0 2,0a1,1 0 1,0 -2,0M96.5,425.8a1,1 0 1,0 2,0a1,1 0 1,0 -2,0M96.5,426.2a1,1 0 1,0 2,0a1,1 0 1,0 -2,0M96.5,428.0a1,1 0 1,0 2,0a1,1 0 1,0 -2,0M96.5,428.5a1,1 0 1,0 2,0a1,1 0 1,0 -2,0M96.5,428.8a1,1 0 1,0 2,0a1,1 0 1,0 -2,0M96.5,430.2a1,1 0 1,0 2,0a1,1 0 1,0 -2,0M96.5,430.8a1,1 0 1,0 2,0a1,1 0 1,0 -2,0M96.5,431.4a1,1 0 1,0 2,0a1,1 0 1,0 -2,0M96.5,431.5a1,1 0 1,0 2,0a1,1 0 1,0 -2,0M96.5,433.5a1,1 0 1,0 2,0a1,1 0 1,0 -2,0M96.5,434.0a1,1 0 1,0 2,0a1,1 0 1,0 -2,0M96.5,434.2a1,1 0 1,0 2,0a1,1 0 1,0 -2,0M96.5,434.5a1,1 0 1,0 2,0a1,1 0 1,0 -2,0M96.5,435.0a1,1 0 1,0 2,0a1,1 0 1,0 -2,0M96.5,436.3a1,1 0 1,0 2,0a1,1 0 1,0 -2,0M96.5,436.7a1,1 0 1,0 2,0a1,1 0 1,0 -2,0M96.5,450.0a1,1 0 1,0 2,0a1,1 0 1,0 -2,0" fill="#6bb15a" fill-opacity="0.85"/>
<path d="M117.5,355.5a1,1 0 1,0 2,0a1,1 0 1,0 -2,0M117.5,370.2a1,1 0 1,0 2,0a1,1 0 1,0 -2,0M117.5,371.0a1,1 0 1,0 2,0a1,1 0 1,0 -2,0M117.5,366.3a1,1 0 1,0 2,0a1,1 0 1,0 -2,0M117.5,362.6a1,1 0 1,0 2,0a1,1 0 1,0 -2,0M117.5,365.6a1,1 0 1,0 2,0a1,1 0 1,0 -2,0M117.5,360.1a1,1 0 1,0 2,0a1,1 0 1,0 -2,0M117.5,375.3a1,1 0 1,0 2,0a1,1 0 1,0 -2,0M117.5,369.9a1,1 0 1,0 2,0a1,1 0 1,0 -2,0M117.5,376.5a1,1 0 1,0 2,0a1,1 0 1,0 -2,0M117.5,370.2a1,1 0 1,0 2,0a1,1 0 1,0 -2,0M117.5,370.4a1,1 0 1,0 2,0a1,1 0 1,0 -2,0M117.5,358.1a1,1 0 1,0 2,0a1,1 0 1,0 -2,0M117.5,366.7a1,1 0 1,0 2,0a1,1 0 1,0 -2,0M117.5,373.9a1,1 0 1,0 2,0a1,1 0 1,0 -2,0M117.5,376.6a1,1 0 1,0 2,0a1,1 0 1,0 -2,0M117.5,376.6a1,1 0 1,0 2,0a1,1 0 1,0 -2,0M117.5,381.2a1,1 0 1,0 2,0a1,1 0 1,0 -2,0M117.5,380.6a1,1 0 1,0 2,0a1,1 0 1,0 -2,0M117.5,360.0a1,1 0 1,0 2,0a1,1 0 1,0 -2,0M117.5,357.6a1,1 0 1,0 2,0a1,1 0 1,0 -2,0M117.5,379.6a1,1 0 1,0 2,0a1,1 0 1,0 -2,0M117.5,371.8a1,1 0 1,0 2,0a1,1 0 1,0 -2,0M117.5,376.1a1,1 0 1,0 2,0a1,1 0 1,0 -2,0M117.5,377.0a1,1 0 1,0 2,0a1,1 0 1,0 -2,0M117.5,382.9a1,1 0 1,0 2,0a1,1 0 1,0 -2,0M117.5,374.1a1,1 0 1,0 2,0a1,1 0 1,0 -2,0M117.5,377.7a1,1 0 1,0 2,0a1,1 0 1,0 -2,0M117.5,386.7a1,1 0 1,0 2,0a1,1 0 1,0 -2,0M117.5,383.8a1,1 0 1,0 2,0a1,1 0 1,0 -2,0M117.5,379.4a1,1 0 1,0 2,0a1,1 0 1,0 -2,0M117.5,386.8a1,1 0 1,0 2,0a1,1 0 1,0 -2,0M117.5,381.9a1,1 0 1,0 2,0a1,1 0 1,0 -2,0M117.5,375.5a1,1 0 1,0 2,0a1,1 0 1,0 -2,0M117.5,359.7a1,1 0 1,0 2,0a1,1 0 1,0 -2,0M117.5,387.7a1,1 0 1,0 2,0a1,1 0 1,0 -2,0M117.5,387.5a1,1 0 1,0 2,0a1,1 0 1,0 -2,0M117.5,354.5a1,1 0 1,0 2,0a1,1 0 1,0 -2,0M117.5,355.6a1,1 0 1,0 2,0a1,1 0 1,0 -2,0M117.5,388.8a1,1 0 1,0 2,0a1,1 0 1,0 -2,0M117.5,388.6a1,1 0 1,0 2,0a1,1 0 1,0 -2,0M117.5,399.3a1,1 0 1,0 2,0a1,1 0 1,0 -2,0M117.5,383.9a1,1 0 1,0 2,0a1,1 0 1,0 -2,0M117.5,390.9a1,1 0 1,0 2,0a1,1 0 1,0 -2,0M117.5,384.3a1,1 0 1,0 2,0a1,1 0 1,0 -2,0M117.5,392.2a1,1 0 1,0 2,0a1,1 0 1,0 -2,0M117.5,392.4a1,1 0 1,0 2,0a1,1 0 1,0 -2,0M117.5,389.5a1,1 0 1,0 2,0a1,1 0 1,0 -2,0M117.5,399.7a1,1 0 1,0 2,0a1,1 0 1,0 -2,0M117.5,380.3a1,1 0 1,0 2,0a1,1 0 1,0 -2,0M117.5,392.5a1,1 0 1,0 2,0a1,1 0 1,0 -2,0M117.5,386.0a1,1 0 1,0 2,0a1,1 0 1,0 -2,0M117.5,405.6a1,1 0 1,0 2,0a1,1 0 1,0 -2,0M117.5,391.7a1,1 0 1,0 2,0a1,1 0 1,0 -2,0M117.5,407.4a1,1 0 1,0 2,0a1,1 0 1,0 -2,0M117.5,408.3a1,1 0 1,0 2,0a1,1 0 1,0 -2,0M117.5,395.8a1,1 0 1,0 2,0a1,1 0 1,0 -2,0M117.5,402.4a1,1 0 1,0 2,0a1,1 0 1,0 -2,0M117.5,392.2a1,1 0 1,0 2,0a1,1 0 1,0 -2,0M117.5,388.0a1,1 0 1,0 2,0a1,1 0 1,0 -2,0M117.5,400.8a1,1 0 1,0 2,0a1,1 0 1,0 -2,0M117.5,400.7a1,1 0 1,0 2,0a1,1 0 1,0 -2,0M117.5,401.7a1,1 0 1,0 2,0a1,1 0 1,0 -2,0M117.5,385.4a1,1 0 1,0 2,0a1,1 0 1,0 -2,0M117.5,402.1a1,1 0 1,0 2,0a1,1 0 1,0 -2,0M117.5,407.9a1,1 0 1,0 2,0a1,1 0 1,0 -2,0M117.5,397.2a1,1 0 1,0 2,0a1,1 0 1,0 -2,0M117.5,381.6a1,1 0 1,0 2,0a1,1 0 1,0 -2,0" fill="#f7a21c" fill-opacity="0.85"/>
<text x="178.30" y="345.10" font-size="6.7" text-anchor="middle" fill="#111" >XRCC3</text>
<text x="0" y="0" font-size="5.1" text-anchor="middle" fill="#222" transform="translate(145.30,402.35) rotate(-90)">log2(Expression+1)</text>
<line x1="153.60" y1="350.40" x2="154.90" y2="350.40" stroke="#555" stroke-width="0.4" />
<text x="153.10" y="351.80" font-size="4.0" text-anchor="end" fill="#666" >2.0</text>
<line x1="153.60" y1="375.40" x2="154.90" y2="375.40" stroke="#555" stroke-width="0.4" />
<text x="153.10" y="376.80" font-size="4.0" text-anchor="end" fill="#666" >1.5</text>
<line x1="153.60" y1="400.50" x2="154.90" y2="400.50" stroke="#555" stroke-width="0.4" />
<text x="153.10" y="401.90" font-size="4.0" text-anchor="end" fill="#666" >1.0</text>
<line x1="153.60" y1="425.40" x2="154.90" y2="425.40" stroke="#555" stroke-width="0.4" />
<text x="153.10" y="426.80" font-size="4.0" text-anchor="end" fill="#666" >0.5</text>
<line x1="153.60" y1="450.60" x2="154.90" y2="450.60" stroke="#555" stroke-width="0.4" />
<text x="153.10" y="452.00" font-size="4.0" text-anchor="end" fill="#666" >0.0</text>
<line x1="167.60" y1="361.70" x2="167.60" y2="450.60" stroke="#333" stroke-width="0.5" />
<line x1="188.60" y1="354.10" x2="188.60" y2="421.00" stroke="#333" stroke-width="0.5" />
<rect x="160.80" y="384.20" width="13.60" height="27.50" fill="#6bb15a" stroke="#333" stroke-width="0.6" />
<rect x="181.80" y="380.10" width="13.60" height="21.80" fill="#f7a21c" stroke="#333" stroke-width="0.6" />
<line x1="160.80" y1="395.40" x2="174.40" y2="395.40" stroke="#222" stroke-width="1.0" />
<line x1="181.80" y1="388.70" x2="195.40" y2="388.70" stroke="#222" stroke-width="1.0" />
<path d="M167.6,364.5L188.6,368.1M167.6,365.7L188.6,369.9M167.6,369.2L188.6,358.8M167.6,371.1L188.6,376.9M167.6,372.6L188.6,381.6M167.6,378.1L188.6,372.2M167.6,379.3L188.6,374.3M167.6,380.1L188.6,374.9M167.6,380.3L188.6,367.0M167.6,380.4L188.6,355.6M167.6,382.2L188.6,384.4M167.6,382.8L188.6,367.2M167.6,383.1L188.6,384.2M167.6,385.0L188.6,385.4M167.6,385.9L188.6,387.6M167.6,386.8L188.6,374.0M167.6,387.1L188.6,383.9M167.6,387.2L188.6,373.5M167.6,388.9L188.6,377.7M167.6,389.0L188.6,390.3M167.6,390.0L188.6,385.8M167.6,390.2L188.6,383.2M167.6,390.3L188.6,392.6M167.6,390.5L188.6,375.1M167.6,391.3L188.6,389.8M167.6,391.3L188.6,392.9M167.6,392.9L188.6,387.6M167.6,393.8L188.6,388.1M167.6,394.0L188.6,387.8M167.6,394.6L188.6,397.3M167.6,395.1L188.6,387.5M167.6,395.2L188.6,399.5M167.6,396.2L188.6,392.1M167.6,396.9L188.6,385.3M167.6,398.2L188.6,401.4M167.6,399.3L188.6,395.0M167.6,400.4L188.6,395.1M167.6,401.4L188.6,385.2M167.6,401.7L188.6,404.1M167.6,403.0L188.6,401.4M167.6,404.7L188.6,404.6M167.6,406.5L188.6,404.4M167.6,408.0L188.6,410.6M167.6,410.4L188.6,395.2M167.6,410.6L188.6,389.2M167.6,411.1L188.6,382.0M167.6,414.1L188.6,384.7M167.6,414.1L188.6,402.0M167.6,414.7L188.6,408.5M167.6,415.2L188.6,400.7M167.6,416.3L188.6,396.4M167.6,418.0L188.6,412.8M167.6,418.3L188.6,382.2M167.6,420.7L188.6,408.3M167.6,424.6L188.6,413.7M167.6,426.7L188.6,413.8M167.6,428.1L188.6,400.6M167.6,429.5L188.6,416.7M167.6,433.2L188.6,395.5M167.6,435.3L188.6,409.9M167.6,437.0L188.6,371.9M167.6,437.9L188.6,411.9M167.6,438.9L188.6,414.3M167.6,444.5L188.6,410.8M167.6,445.8L188.6,412.9M167.6,447.1L188.6,407.3M167.6,449.0L188.6,408.4M167.6,449.9L188.6,416.2" stroke="#c6c6c6" stroke-width="0.5" stroke-opacity="0.9" fill="none"/>
<line x1="154.90" y1="349.40" x2="154.90" y2="455.30" stroke="#222" stroke-width="0.95" />
<line x1="154.90" y1="455.30" x2="201.50" y2="455.30" stroke="#222" stroke-width="0.95" />
<line x1="167.60" y1="455.30" x2="167.60" y2="456.50" stroke="#333" stroke-width="0.4" />
<line x1="188.60" y1="455.30" x2="188.60" y2="456.50" stroke="#333" stroke-width="0.4" />
<text x="167.60" y="460.50" font-size="4.25" text-anchor="middle" fill="#555" >normal</text>
<text x="188.60" y="460.50" font-size="4.25" text-anchor="middle" fill="#555" >tumor</text>
<text x="162.30" y="354.30" font-size="5.25" text-anchor="start" fill="#111" >p = 0.011</text>
<path d="M166.6,364.5a1,1 0 1,0 2,0a1,1 0 1,0 -2,0M166.6,365.7a1,1 0 1,0 2,0a1,1 0 1,0 -2,0M166.6,369.2a1,1 0 1,0 2,0a1,1 0 1,0 -2,0M166.6,371.1a1,1 0 1,0 2,0a1,1 0 1,0 -2,0M166.6,372.6a1,1 0 1,0 2,0a1,1 0 1,0 -2,0M166.6,378.1a1,1 0 1,0 2,0a1,1 0 1,0 -2,0M166.6,379.3a1,1 0 1,0 2,0a1,1 0 1,0 -2,0M166.6,380.1a1,1 0 1,0 2,0a1,1 0 1,0 -2,0M166.6,380.3a1,1 0 1,0 2,0a1,1 0 1,0 -2,0M166.6,380.4a1,1 0 1,0 2,0a1,1 0 1,0 -2,0M166.6,382.2a1,1 0 1,0 2,0a1,1 0 1,0 -2,0M166.6,382.8a1,1 0 1,0 2,0a1,1 0 1,0 -2,0M166.6,383.1a1,1 0 1,0 2,0a1,1 0 1,0 -2,0M166.6,385.0a1,1 0 1,0 2,0a1,1 0 1,0 -2,0M166.6,385.9a1,1 0 1,0 2,0a1,1 0 1,0 -2,0M166.6,386.8a1,1 0 1,0 2,0a1,1 0 1,0 -2,0M166.6,387.1a1,1 0 1,0 2,0a1,1 0 1,0 -2,0M166.6,387.2a1,1 0 1,0 2,0a1,1 0 1,0 -2,0M166.6,388.9a1,1 0 1,0 2,0a1,1 0 1,0 -2,0M166.6,389.0a1,1 0 1,0 2,0a1,1 0 1,0 -2,0M166.6,390.0a1,1 0 1,0 2,0a1,1 0 1,0 -2,0M166.6,390.2a1,1 0 1,0 2,0a1,1 0 1,0 -2,0M166.6,390.3a1,1 0 1,0 2,0a1,1 0 1,0 -2,0M166.6,390.5a1,1 0 1,0 2,0a1,1 0 1,0 -2,0M166.6,391.3a1,1 0 1,0 2,0a1,1 0 1,0 -2,0M166.6,391.3a1,1 0 1,0 2,0a1,1 0 1,0 -2,0M166.6,392.9a1,1 0 1,0 2,0a1,1 0 1,0 -2,0M166.6,393.8a1,1 0 1,0 2,0a1,1 0 1,0 -2,0M166.6,394.0a1,1 0 1,0 2,0a1,1 0 1,0 -2,0M166.6,394.6a1,1 0 1,0 2,0a1,1 0 1,0 -2,0M166.6,395.1a1,1 0 1,0 2,0a1,1 0 1,0 -2,0M166.6,395.2a1,1 0 1,0 2,0a1,1 0 1,0 -2,0M166.6,396.2a1,1 0 1,0 2,0a1,1 0 1,0 -2,0M166.6,396.9a1,1 0 1,0 2,0a1,1 0 1,0 -2,0M166.6,398.2a1,1 0 1,0 2,0a1,1 0 1,0 -2,0M166.6,399.3a1,1 0 1,0 2,0a1,1 0 1,0 -2,0M166.6,400.4a1,1 0 1,0 2,0a1,1 0 1,0 -2,0M166.6,401.4a1,1 0 1,0 2,0a1,1 0 1,0 -2,0M166.6,401.7a1,1 0 1,0 2,0a1,1 0 1,0 -2,0M166.6,403.0a1,1 0 1,0 2,0a1,1 0 1,0 -2,0M166.6,404.7a1,1 0 1,0 2,0a1,1 0 1,0 -2,0M166.6,406.5a1,1 0 1,0 2,0a1,1 0 1,0 -2,0M166.6,408.0a1,1 0 1,0 2,0a1,1 0 1,0 -2,0M166.6,410.4a1,1 0 1,0 2,0a1,1 0 1,0 -2,0M166.6,410.6a1,1 0 1,0 2,0a1,1 0 1,0 -2,0M166.6,411.1a1,1 0 1,0 2,0a1,1 0 1,0 -2,0M166.6,414.1a1,1 0 1,0 2,0a1,1 0 1,0 -2,0M166.6,414.1a1,1 0 1,0 2,0a1,1 0 1,0 -2,0M166.6,414.7a1,1 0 1,0 2,0a1,1 0 1,0 -2,0M166.6,415.2a1,1 0 1,0 2,0a1,1 0 1,0 -2,0M166.6,416.3a1,1 0 1,0 2,0a1,1 0 1,0 -2,0M166.6,418.0a1,1 0 1,0 2,0a1,1 0 1,0 -2,0M166.6,418.3a1,1 0 1,0 2,0a1,1 0 1,0 -2,0M166.6,420.7a1,1 0 1,0 2,0a1,1 0 1,0 -2,0M166.6,424.6a1,1 0 1,0 2,0a1,1 0 1,0 -2,0M166.6,426.7a1,1 0 1,0 2,0a1,1 0 1,0 -2,0M166.6,428.1a1,1 0 1,0 2,0a1,1 0 1,0 -2,0M166.6,429.5a1,1 0 1,0 2,0a1,1 0 1,0 -2,0M166.6,433.2a1,1 0 1,0 2,0a1,1 0 1,0 -2,0M166.6,435.3a1,1 0 1,0 2,0a1,1 0 1,0 -2,0M166.6,437.0a1,1 0 1,0 2,0a1,1 0 1,0 -2,0M166.6,437.9a1,1 0 1,0 2,0a1,1 0 1,0 -2,0M166.6,438.9a1,1 0 1,0 2,0a1,1 0 1,0 -2,0M166.6,444.5a1,1 0 1,0 2,0a1,1 0 1,0 -2,0M166.6,445.8a1,1 0 1,0 2,0a1,1 0 1,0 -2,0M166.6,447.1a1,1 0 1,0 2,0a1,1 0 1,0 -2,0M166.6,449.0a1,1 0 1,0 2,0a1,1 0 1,0 -2,0M166.6,449.9a1,1 0 1,0 2,0a1,1 0 1,0 -2,0" fill="#6bb15a" fill-opacity="0.85"/>
<path d="M187.6,368.1a1,1 0 1,0 2,0a1,1 0 1,0 -2,0M187.6,369.9a1,1 0 1,0 2,0a1,1 0 1,0 -2,0M187.6,358.8a1,1 0 1,0 2,0a1,1 0 1,0 -2,0M187.6,376.9a1,1 0 1,0 2,0a1,1 0 1,0 -2,0M187.6,381.6a1,1 0 1,0 2,0a1,1 0 1,0 -2,0M187.6,372.2a1,1 0 1,0 2,0a1,1 0 1,0 -2,0M187.6,374.3a1,1 0 1,0 2,0a1,1 0 1,0 -2,0M187.6,374.9a1,1 0 1,0 2,0a1,1 0 1,0 -2,0M187.6,367.0a1,1 0 1,0 2,0a1,1 0 1,0 -2,0M187.6,355.6a1,1 0 1,0 2,0a1,1 0 1,0 -2,0M187.6,384.4a1,1 0 1,0 2,0a1,1 0 1,0 -2,0M187.6,367.2a1,1 0 1,0 2,0a1,1 0 1,0 -2,0M187.6,384.2a1,1 0 1,0 2,0a1,1 0 1,0 -2,0M187.6,385.4a1,1 0 1,0 2,0a1,1 0 1,0 -2,0M187.6,387.6a1,1 0 1,0 2,0a1,1 0 1,0 -2,0M187.6,374.0a1,1 0 1,0 2,0a1,1 0 1,0 -2,0M187.6,383.9a1,1 0 1,0 2,0a1,1 0 1,0 -2,0M187.6,373.5a1,1 0 1,0 2,0a1,1 0 1,0 -2,0M187.6,377.7a1,1 0 1,0 2,0a1,1 0 1,0 -2,0M187.6,390.3a1,1 0 1,0 2,0a1,1 0 1,0 -2,0M187.6,385.8a1,1 0 1,0 2,0a1,1 0 1,0 -2,0M187.6,383.2a1,1 0 1,0 2,0a1,1 0 1,0 -2,0M187.6,392.6a1,1 0 1,0 2,0a1,1 0 1,0 -2,0M187.6,375.1a1,1 0 1,0 2,0a1,1 0 1,0 -2,0M187.6,389.8a1,1 0 1,0 2,0a1,1 0 1,0 -2,0M187.6,392.9a1,1 0 1,0 2,0a1,1 0 1,0 -2,0M187.6,387.6a1,1 0 1,0 2,0a1,1 0 1,0 -2,0M187.6,388.1a1,1 0 1,0 2,0a1,1 0 1,0 -2,0M187.6,387.8a1,1 0 1,0 2,0a1,1 0 1,0 -2,0M187.6,397.3a1,1 0 1,0 2,0a1,1 0 1,0 -2,0M187.6,387.5a1,1 0 1,0 2,0a1,1 0 1,0 -2,0M187.6,399.5a1,1 0 1,0 2,0a1,1 0 1,0 -2,0M187.6,392.1a1,1 0 1,0 2,0a1,1 0 1,0 -2,0M187.6,385.3a1,1 0 1,0 2,0a1,1 0 1,0 -2,0M187.6,401.4a1,1 0 1,0 2,0a1,1 0 1,0 -2,0M187.6,395.0a1,1 0 1,0 2,0a1,1 0 1,0 -2,0M187.6,395.1a1,1 0 1,0 2,0a1,1 0 1,0 -2,0M187.6,385.2a1,1 0 1,0 2,0a1,1 0 1,0 -2,0M187.6,404.1a1,1 0 1,0 2,0a1,1 0 1,0 -2,0M187.6,401.4a1,1 0 1,0 2,0a1,1 0 1,0 -2,0M187.6,404.6a1,1 0 1,0 2,0a1,1 0 1,0 -2,0M187.6,404.4a1,1 0 1,0 2,0a1,1 0 1,0 -2,0M187.6,410.6a1,1 0 1,0 2,0a1,1 0 1,0 -2,0M187.6,395.2a1,1 0 1,0 2,0a1,1 0 1,0 -2,0M187.6,389.2a1,1 0 1,0 2,0a1,1 0 1,0 -2,0M187.6,382.0a1,1 0 1,0 2,0a1,1 0 1,0 -2,0M187.6,384.7a1,1 0 1,0 2,0a1,1 0 1,0 -2,0M187.6,402.0a1,1 0 1,0 2,0a1,1 0 1,0 -2,0M187.6,408.5a1,1 0 1,0 2,0a1,1 0 1,0 -2,0M187.6,400.7a1,1 0 1,0 2,0a1,1 0 1,0 -2,0M187.6,396.4a1,1 0 1,0 2,0a1,1 0 1,0 -2,0M187.6,412.8a1,1 0 1,0 2,0a1,1 0 1,0 -2,0M187.6,382.2a1,1 0 1,0 2,0a1,1 0 1,0 -2,0M187.6,408.3a1,1 0 1,0 2,0a1,1 0 1,0 -2,0M187.6,413.7a1,1 0 1,0 2,0a1,1 0 1,0 -2,0M187.6,413.8a1,1 0 1,0 2,0a1,1 0 1,0 -2,0M187.6,400.6a1,1 0 1,0 2,0a1,1 0 1,0 -2,0M187.6,416.7a1,1 0 1,0 2,0a1,1 0 1,0 -2,0M187.6,395.5a1,1 0 1,0 2,0a1,1 0 1,0 -2,0M187.6,409.9a1,1 0 1,0 2,0a1,1 0 1,0 -2,0M187.6,371.9a1,1 0 1,0 2,0a1,1 0 1,0 -2,0M187.6,411.9a1,1 0 1,0 2,0a1,1 0 1,0 -2,0M187.6,414.3a1,1 0 1,0 2,0a1,1 0 1,0 -2,0M187.6,410.8a1,1 0 1,0 2,0a1,1 0 1,0 -2,0M187.6,412.9a1,1 0 1,0 2,0a1,1 0 1,0 -2,0M187.6,407.3a1,1 0 1,0 2,0a1,1 0 1,0 -2,0M187.6,408.4a1,1 0 1,0 2,0a1,1 0 1,0 -2,0M187.6,416.2a1,1 0 1,0 2,0a1,1 0 1,0 -2,0M187.6,438.3a1,1 0 1,0 2,0a1,1 0 1,0 -2,0" fill="#f7a21c" fill-opacity="0.85"/>
<text x="248.35" y="345.10" font-size="6.7" text-anchor="middle" fill="#111" >CHEK1</text>
<text x="0" y="0" font-size="5.1" text-anchor="middle" fill="#222" transform="translate(215.35,402.35) rotate(-90)">log2(Expression+1)</text>
<line x1="223.65" y1="351.50" x2="224.95" y2="351.50" stroke="#555" stroke-width="0.4" />
<text x="223.15" y="352.90" font-size="4.0" text-anchor="end" fill="#666" >2.5</text>
<line x1="223.65" y1="371.30" x2="224.95" y2="371.30" stroke="#555" stroke-width="0.4" />
<text x="223.15" y="372.70" font-size="4.0" text-anchor="end" fill="#666" >2.0</text>
<line x1="223.65" y1="391.30" x2="224.95" y2="391.30" stroke="#555" stroke-width="0.4" />
<text x="223.15" y="392.70" font-size="4.0" text-anchor="end" fill="#666" >1.5</text>
<line x1="223.65" y1="410.70" x2="224.95" y2="410.70" stroke="#555" stroke-width="0.4" />
<text x="223.15" y="412.10" font-size="4.0" text-anchor="end" fill="#666" >1.0</text>
<line x1="223.65" y1="430.60" x2="224.95" y2="430.60" stroke="#555" stroke-width="0.4" />
<text x="223.15" y="432.00" font-size="4.0" text-anchor="end" fill="#666" >0.5</text>
<line x1="223.65" y1="450.20" x2="224.95" y2="450.20" stroke="#555" stroke-width="0.4" />
<text x="223.15" y="451.60" font-size="4.0" text-anchor="end" fill="#666" >0.0</text>
<line x1="237.65" y1="411.70" x2="237.65" y2="450.60" stroke="#333" stroke-width="0.5" />
<line x1="258.65" y1="354.10" x2="258.65" y2="441.40" stroke="#333" stroke-width="0.5" />
<rect x="230.85" y="425.00" width="13.60" height="12.30" fill="#6bb15a" stroke="#333" stroke-width="0.6" />
<rect x="251.85" y="368.40" width="13.60" height="30.50" fill="#f7a21c" stroke="#333" stroke-width="0.6" />
<line x1="230.85" y1="430.10" x2="244.45" y2="430.10" stroke="#222" stroke-width="1.0" />
<line x1="251.85" y1="383.50" x2="265.45" y2="383.50" stroke="#222" stroke-width="1.0" />
<path d="M237.6,412.9L258.6,365.0M237.6,413.4L258.6,354.9M237.6,413.6L258.6,355.7M237.6,413.8L258.6,366.0M237.6,415.3L258.6,368.7M237.6,417.4L258.6,371.8M237.6,418.1L258.6,356.0M237.6,418.7L258.6,371.6M237.6,418.8L258.6,364.3M237.6,419.5L258.6,369.2M237.6,420.4L258.6,362.7M237.6,420.5L258.6,378.7M237.6,421.0L258.6,371.0M237.6,421.6L258.6,360.7M237.6,421.8L258.6,362.3M237.6,422.8L258.6,378.9M237.6,422.8L258.6,372.9M237.6,424.4L258.6,367.7M237.6,424.4L258.6,379.2M237.6,424.5L258.6,384.5M237.6,425.0L258.6,379.1M237.6,425.4L258.6,377.7M237.6,425.7L258.6,365.6M237.6,425.7L258.6,386.5M237.6,425.7L258.6,366.2M237.6,425.8L258.6,384.4M237.6,426.0L258.6,384.2M237.6,426.7L258.6,359.2M237.6,427.1L258.6,379.1M237.6,427.3L258.6,391.1M237.6,427.6L258.6,359.3M237.6,427.7L258.6,388.3M237.6,428.3L258.6,394.1M237.6,428.6L258.6,381.3M237.6,428.7L258.6,394.5M237.6,428.8L258.6,373.7M237.6,429.5L258.6,379.6M237.6,429.5L258.6,390.6M237.6,430.0L258.6,391.4M237.6,431.9L258.6,389.8M237.6,432.9L258.6,389.3M237.6,433.0L258.6,382.3M237.6,433.4L258.6,380.6M237.6,433.4L258.6,398.0M237.6,433.4L258.6,362.5M237.6,434.8L258.6,391.6M237.6,435.1L258.6,406.1M237.6,436.5L258.6,391.0M237.6,436.6L258.6,426.3M237.6,436.6L258.6,423.8M237.6,436.9L258.6,411.9M237.6,437.0L258.6,423.1M237.6,437.4L258.6,417.7M237.6,437.8L258.6,402.4M237.6,438.9L258.6,424.4M237.6,441.4L258.6,368.1M237.6,442.4L258.6,387.3M237.6,442.4L258.6,440.8M237.6,442.5L258.6,390.1M237.6,445.0L258.6,438.1M237.6,445.0L258.6,420.6M237.6,445.0L258.6,433.1M237.6,445.7L258.6,412.4M237.6,447.1L258.6,440.1M237.6,447.2L258.6,434.2M237.6,448.0L258.6,396.7M237.6,448.9L258.6,396.2M237.6,449.7L258.6,437.2" stroke="#c6c6c6" stroke-width="0.5" stroke-opacity="0.9" fill="none"/>
<line x1="224.95" y1="349.40" x2="224.95" y2="455.30" stroke="#222" stroke-width="0.95" />
<line x1="224.95" y1="455.30" x2="271.55" y2="455.30" stroke="#222" stroke-width="0.95" />
<line x1="237.65" y1="455.30" x2="237.65" y2="456.50" stroke="#333" stroke-width="0.4" />
<line x1="258.65" y1="455.30" x2="258.65" y2="456.50" stroke="#333" stroke-width="0.4" />
<text x="237.65" y="460.50" font-size="4.25" text-anchor="middle" fill="#555" >normal</text>
<text x="258.65" y="460.50" font-size="4.25" text-anchor="middle" fill="#555" >tumor</text>
<text x="232.35" y="354.30" font-size="5.25" text-anchor="start" fill="#111" >p = &lt;2e-16</text>
<path d="M236.6,412.9a1,1 0 1,0 2,0a1,1 0 1,0 -2,0M236.6,413.4a1,1 0 1,0 2,0a1,1 0 1,0 -2,0M236.6,413.6a1,1 0 1,0 2,0a1,1 0 1,0 -2,0M236.6,413.8a1,1 0 1,0 2,0a1,1 0 1,0 -2,0M236.6,415.3a1,1 0 1,0 2,0a1,1 0 1,0 -2,0M236.6,417.4a1,1 0 1,0 2,0a1,1 0 1,0 -2,0M236.6,418.1a1,1 0 1,0 2,0a1,1 0 1,0 -2,0M236.6,418.7a1,1 0 1,0 2,0a1,1 0 1,0 -2,0M236.6,418.8a1,1 0 1,0 2,0a1,1 0 1,0 -2,0M236.6,419.5a1,1 0 1,0 2,0a1,1 0 1,0 -2,0M236.6,420.4a1,1 0 1,0 2,0a1,1 0 1,0 -2,0M236.6,420.5a1,1 0 1,0 2,0a1,1 0 1,0 -2,0M236.6,421.0a1,1 0 1,0 2,0a1,1 0 1,0 -2,0M236.6,421.6a1,1 0 1,0 2,0a1,1 0 1,0 -2,0M236.6,421.8a1,1 0 1,0 2,0a1,1 0 1,0 -2,0M236.6,422.8a1,1 0 1,0 2,0a1,1 0 1,0 -2,0M236.6,422.8a1,1 0 1,0 2,0a1,1 0 1,0 -2,0M236.6,424.4a1,1 0 1,0 2,0a1,1 0 1,0 -2,0M236.6,424.4a1,1 0 1,0 2,0a1,1 0 1,0 -2,0M236.6,424.5a1,1 0 1,0 2,0a1,1 0 1,0 -2,0M236.6,425.0a1,1 0 1,0 2,0a1,1 0 1,0 -2,0M236.6,425.4a1,1 0 1,0 2,0a1,1 0 1,0 -2,0M236.6,425.7a1,1 0 1,0 2,0a1,1 0 1,0 -2,0M236.6,425.7a1,1 0 1,0 2,0a1,1 0 1,0 -2,0M236.6,425.7a1,1 0 1,0 2,0a1,1 0 1,0 -2,0M236.6,425.8a1,1 0 1,0 2,0a1,1 0 1,0 -2,0M236.6,426.0a1,1 0 1,0 2,0a1,1 0 1,0 -2,0M236.6,426.7a1,1 0 1,0 2,0a1,1 0 1,0 -2,0M236.6,427.1a1,1 0 1,0 2,0a1,1 0 1,0 -2,0M236.6,427.3a1,1 0 1,0 2,0a1,1 0 1,0 -2,0M236.6,427.6a1,1 0 1,0 2,0a1,1 0 1,0 -2,0M236.6,427.7a1,1 0 1,0 2,0a1,1 0 1,0 -2,0M236.6,428.3a1,1 0 1,0 2,0a1,1 0 1,0 -2,0M236.6,428.6a1,1 0 1,0 2,0a1,1 0 1,0 -2,0M236.6,428.7a1,1 0 1,0 2,0a1,1 0 1,0 -2,0M236.6,428.8a1,1 0 1,0 2,0a1,1 0 1,0 -2,0M236.6,429.5a1,1 0 1,0 2,0a1,1 0 1,0 -2,0M236.6,429.5a1,1 0 1,0 2,0a1,1 0 1,0 -2,0M236.6,430.0a1,1 0 1,0 2,0a1,1 0 1,0 -2,0M236.6,431.9a1,1 0 1,0 2,0a1,1 0 1,0 -2,0M236.6,432.9a1,1 0 1,0 2,0a1,1 0 1,0 -2,0M236.6,433.0a1,1 0 1,0 2,0a1,1 0 1,0 -2,0M236.6,433.4a1,1 0 1,0 2,0a1,1 0 1,0 -2,0M236.6,433.4a1,1 0 1,0 2,0a1,1 0 1,0 -2,0M236.6,433.4a1,1 0 1,0 2,0a1,1 0 1,0 -2,0M236.6,434.8a1,1 0 1,0 2,0a1,1 0 1,0 -2,0M236.6,435.1a1,1 0 1,0 2,0a1,1 0 1,0 -2,0M236.6,436.5a1,1 0 1,0 2,0a1,1 0 1,0 -2,0M236.6,436.6a1,1 0 1,0 2,0a1,1 0 1,0 -2,0M236.6,436.6a1,1 0 1,0 2,0a1,1 0 1,0 -2,0M236.6,436.9a1,1 0 1,0 2,0a1,1 0 1,0 -2,0M236.6,437.0a1,1 0 1,0 2,0a1,1 0 1,0 -2,0M236.6,437.4a1,1 0 1,0 2,0a1,1 0 1,0 -2,0M236.6,437.8a1,1 0 1,0 2,0a1,1 0 1,0 -2,0M236.6,438.9a1,1 0 1,0 2,0a1,1 0 1,0 -2,0M236.6,441.4a1,1 0 1,0 2,0a1,1 0 1,0 -2,0M236.6,442.4a1,1 0 1,0 2,0a1,1 0 1,0 -2,0M236.6,442.4a1,1 0 1,0 2,0a1,1 0 1,0 -2,0M236.6,442.5a1,1 0 1,0 2,0a1,1 0 1,0 -2,0M236.6,445.0a1,1 0 1,0 2,0a1,1 0 1,0 -2,0M236.6,445.0a1,1 0 1,0 2,0a1,1 0 1,0 -2,0M236.6,445.0a1,1 0 1,0 2,0a1,1 0 1,0 -2,0M236.6,445.7a1,1 0 1,0 2,0a1,1 0 1,0 -2,0M236.6,447.1a1,1 0 1,0 2,0a1,1 0 1,0 -2,0M236.6,447.2a1,1 0 1,0 2,0a1,1 0 1,0 -2,0M236.6,448.0a1,1 0 1,0 2,0a1,1 0 1,0 -2,0M236.6,448.9a1,1 0 1,0 2,0a1,1 0 1,0 -2,0M236.6,449.7a1,1 0 1,0 2,0a1,1 0 1,0 -2,0M236.6,405.6a1,1 0 1,0 2,0a1,1 0 1,0 -2,0" fill="#6bb15a" fill-opacity="0.85"/>
<path d="M257.6,365.0a1,1 0 1,0 2,0a1,1 0 1,0 -2,0M257.6,354.9a1,1 0 1,0 2,0a1,1 0 1,0 -2,0M257.6,355.7a1,1 0 1,0 2,0a1,1 0 1,0 -2,0M257.6,366.0a1,1 0 1,0 2,0a1,1 0 1,0 -2,0M257.6,368.7a1,1 0 1,0 2,0a1,1 0 1,0 -2,0M257.6,371.8a1,1 0 1,0 2,0a1,1 0 1,0 -2,0M257.6,356.0a1,1 0 1,0 2,0a1,1 0 1,0 -2,0M257.6,371.6a1,1 0 1,0 2,0a1,1 0 1,0 -2,0M257.6,364.3a1,1 0 1,0 2,0a1,1 0 1,0 -2,0M257.6,369.2a1,1 0 1,0 2,0a1,1 0 1,0 -2,0M257.6,362.7a1,1 0 1,0 2,0a1,1 0 1,0 -2,0M257.6,378.7a1,1 0 1,0 2,0a1,1 0 1,0 -2,0M257.6,371.0a1,1 0 1,0 2,0a1,1 0 1,0 -2,0M257.6,360.7a1,1 0 1,0 2,0a1,1 0 1,0 -2,0M257.6,362.3a1,1 0 1,0 2,0a1,1 0 1,0 -2,0M257.6,378.9a1,1 0 1,0 2,0a1,1 0 1,0 -2,0M257.6,372.9a1,1 0 1,0 2,0a1,1 0 1,0 -2,0M257.6,367.7a1,1 0 1,0 2,0a1,1 0 1,0 -2,0M257.6,379.2a1,1 0 1,0 2,0a1,1 0 1,0 -2,0M257.6,384.5a1,1 0 1,0 2,0a1,1 0 1,0 -2,0M257.6,379.1a1,1 0 1,0 2,0a1,1 0 1,0 -2,0M257.6,377.7a1,1 0 1,0 2,0a1,1 0 1,0 -2,0M257.6,365.6a1,1 0 1,0 2,0a1,1 0 1,0 -2,0M257.6,386.5a1,1 0 1,0 2,0a1,1 0 1,0 -2,0M257.6,366.2a1,1 0 1,0 2,0a1,1 0 1,0 -2,0M257.6,384.4a1,1 0 1,0 2,0a1,1 0 1,0 -2,0M257.6,384.2a1,1 0 1,0 2,0a1,1 0 1,0 -2,0M257.6,359.2a1,1 0 1,0 2,0a1,1 0 1,0 -2,0M257.6,379.1a1,1 0 1,0 2,0a1,1 0 1,0 -2,0M257.6,391.1a1,1 0 1,0 2,0a1,1 0 1,0 -2,0M257.6,359.3a1,1 0 1,0 2,0a1,1 0 1,0 -2,0M257.6,388.3a1,1 0 1,0 2,0a1,1 0 1,0 -2,0M257.6,394.1a1,1 0 1,0 2,0a1,1 0 1,0 -2,0M257.6,381.3a1,1 0 1,0 2,0a1,1 0 1,0 -2,0M257.6,394.5a1,1 0 1,0 2,0a1,1 0 1,0 -2,0M257.6,373.7a1,1 0 1,0 2,0a1,1 0 1,0 -2,0M257.6,379.6a1,1 0 1,0 2,0a1,1 0 1,0 -2,0M257.6,390.6a1,1 0 1,0 2,0a1,1 0 1,0 -2,0M257.6,391.4a1,1 0 1,0 2,0a1,1 0 1,0 -2,0M257.6,389.8a1,1 0 1,0 2,0a1,1 0 1,0 -2,0M257.6,389.3a1,1 0 1,0 2,0a1,1 0 1,0 -2,0M257.6,382.3a1,1 0 1,0 2,0a1,1 0 1,0 -2,0M257.6,380.6a1,1 0 1,0 2,0a1,1 0 1,0 -2,0M257.6,398.0a1,1 0 1,0 2,0a1,1 0 1,0 -2,0M257.6,362.5a1,1 0 1,0 2,0a1,1 0 1,0 -2,0M257.6,391.6a1,1 0 1,0 2,0a1,1 0 1,0 -2,0M257.6,406.1a1,1 0 1,0 2,0a1,1 0 1,0 -2,0M257.6,391.0a1,1 0 1,0 2,0a1,1 0 1,0 -2,0M257.6,426.3a1,1 0 1,0 2,0a1,1 0 1,0 -2,0M257.6,423.8a1,1 0 1,0 2,0a1,1 0 1,0 -2,0M257.6,411.9a1,1 0 1,0 2,0a1,1 0 1,0 -2,0M257.6,423.1a1,1 0 1,0 2,0a1,1 0 1,0 -2,0M257.6,417.7a1,1 0 1,0 2,0a1,1 0 1,0 -2,0M257.6,402.4a1,1 0 1,0 2,0a1,1 0 1,0 -2,0M257.6,424.4a1,1 0 1,0 2,0a1,1 0 1,0 -2,0M257.6,368.1a1,1 0 1,0 2,0a1,1 0 1,0 -2,0M257.6,387.3a1,1 0 1,0 2,0a1,1 0 1,0 -2,0M257.6,440.8a1,1 0 1,0 2,0a1,1 0 1,0 -2,0M257.6,390.1a1,1 0 1,0 2,0a1,1 0 1,0 -2,0M257.6,438.1a1,1 0 1,0 2,0a1,1 0 1,0 -2,0M257.6,420.6a1,1 0 1,0 2,0a1,1 0 1,0 -2,0M257.6,433.1a1,1 0 1,0 2,0a1,1 0 1,0 -2,0M257.6,412.4a1,1 0 1,0 2,0a1,1 0 1,0 -2,0M257.6,440.1a1,1 0 1,0 2,0a1,1 0 1,0 -2,0M257.6,434.2a1,1 0 1,0 2,0a1,1 0 1,0 -2,0M257.6,396.7a1,1 0 1,0 2,0a1,1 0 1,0 -2,0M257.6,396.2a1,1 0 1,0 2,0a1,1 0 1,0 -2,0M257.6,437.2a1,1 0 1,0 2,0a1,1 0 1,0 -2,0" fill="#f7a21c" fill-opacity="0.85"/>
<text x="318.40" y="345.10" font-size="6.7" text-anchor="middle" fill="#111" >CHEK2</text>
<text x="0" y="0" font-size="5.1" text-anchor="middle" fill="#222" transform="translate(285.40,402.35) rotate(-90)">log2(Expression+1)</text>
<line x1="293.70" y1="376.40" x2="295.00" y2="376.40" stroke="#555" stroke-width="0.4" />
<text x="293.20" y="377.80" font-size="4.0" text-anchor="end" fill="#666" >2.0</text>
<line x1="293.70" y1="403.60" x2="295.00" y2="403.60" stroke="#555" stroke-width="0.4" />
<text x="293.20" y="405.00" font-size="4.0" text-anchor="end" fill="#666" >1.5</text>
<line x1="293.70" y1="430.80" x2="295.00" y2="430.80" stroke="#555" stroke-width="0.4" />
<text x="293.20" y="432.20" font-size="4.0" text-anchor="end" fill="#666" >1.0</text>
<line x1="307.70" y1="405.20" x2="307.70" y2="442.00" stroke="#333" stroke-width="0.5" />
<line x1="328.70" y1="354.10" x2="328.70" y2="441.40" stroke="#333" stroke-width="0.5" />
<rect x="300.90" y="413.80" width="13.60" height="14.70" fill="#6bb15a" stroke="#333" stroke-width="0.6" />
<rect x="321.90" y="384.60" width="13.60" height="22.70" fill="#f7a21c" stroke="#333" stroke-width="0.6" />
<line x1="300.90" y1="422.00" x2="314.50" y2="422.00" stroke="#222" stroke-width="1.0" />
<line x1="321.90" y1="394.40" x2="335.50" y2="394.40" stroke="#222" stroke-width="1.0" />
<path d="M307.7,405.6L328.7,384.9M307.7,406.3L328.7,372.3M307.7,406.3L328.7,379.1M307.7,407.1L328.7,368.9M307.7,407.1L328.7,354.7M307.7,407.3L328.7,354.1M307.7,407.3L328.7,355.2M307.7,407.5L328.7,366.1M307.7,407.7L328.7,369.7M307.7,407.8L328.7,374.6M307.7,409.6L328.7,360.5M307.7,410.1L328.7,387.0M307.7,410.1L328.7,385.1M307.7,410.5L328.7,385.9M307.7,411.7L328.7,387.0M307.7,412.4L328.7,360.6M307.7,412.5L328.7,387.9M307.7,412.7L328.7,391.3M307.7,413.8L328.7,363.1M307.7,413.8L328.7,391.7M307.7,414.0L328.7,392.7M307.7,414.2L328.7,388.1M307.7,414.7L328.7,385.6M307.7,416.8L328.7,393.4M307.7,416.9L328.7,378.0M307.7,417.4L328.7,380.1M307.7,417.6L328.7,391.4M307.7,418.4L328.7,366.3M307.7,418.6L328.7,396.8M307.7,419.0L328.7,392.2M307.7,419.7L328.7,396.8M307.7,420.3L328.7,386.3M307.7,420.5L328.7,395.8M307.7,420.6L328.7,406.4M307.7,420.6L328.7,396.2M307.7,421.1L328.7,388.0M307.7,421.9L328.7,411.9M307.7,421.9L328.7,401.8M307.7,422.6L328.7,387.4M307.7,422.7L328.7,413.8M307.7,422.9L328.7,391.7M307.7,423.3L328.7,413.2M307.7,423.4L328.7,387.3M307.7,423.9L328.7,404.2M307.7,424.3L328.7,418.1M307.7,424.6L328.7,397.9M307.7,425.0L328.7,395.6M307.7,425.3L328.7,397.1M307.7,425.6L328.7,387.2M307.7,427.0L328.7,431.7M307.7,427.6L328.7,433.4M307.7,428.2L328.7,412.7M307.7,429.3L328.7,419.1M307.7,429.5L328.7,422.3M307.7,429.8L328.7,429.8M307.7,430.8L328.7,415.2M307.7,432.0L328.7,440.6M307.7,432.3L328.7,403.8M307.7,433.6L328.7,405.3M307.7,434.5L328.7,439.1M307.7,434.6L328.7,427.1M307.7,435.1L328.7,405.5M307.7,435.2L328.7,389.7M307.7,435.2L328.7,405.9M307.7,435.4L328.7,432.6M307.7,436.3L328.7,406.7M307.7,438.9L328.7,424.5M307.7,440.5L328.7,437.1" stroke="#c6c6c6" stroke-width="0.5" stroke-opacity="0.9" fill="none"/>
<line x1="295.00" y1="349.40" x2="295.00" y2="455.30" stroke="#222" stroke-width="0.95" />
<line x1="295.00" y1="455.30" x2="341.60" y2="455.30" stroke="#222" stroke-width="0.95" />
<line x1="307.70" y1="455.30" x2="307.70" y2="456.50" stroke="#333" stroke-width="0.4" />
<line x1="328.70" y1="455.30" x2="328.70" y2="456.50" stroke="#333" stroke-width="0.4" />
<text x="307.70" y="460.50" font-size="4.25" text-anchor="middle" fill="#555" >normal</text>
<text x="328.70" y="460.50" font-size="4.25" text-anchor="middle" fill="#555" >tumor</text>
<text x="302.40" y="354.30" font-size="5.25" text-anchor="start" fill="#111" >p = 2.2e-11</text>
<path d="M306.7,405.6a1,1 0 1,0 2,0a1,1 0 1,0 -2,0M306.7,406.3a1,1 0 1,0 2,0a1,1 0 1,0 -2,0M306.7,406.3a1,1 0 1,0 2,0a1,1 0 1,0 -2,0M306.7,407.1a1,1 0 1,0 2,0a1,1 0 1,0 -2,0M306.7,407.1a1,1 0 1,0 2,0a1,1 0 1,0 -2,0M306.7,407.3a1,1 0 1,0 2,0a1,1 0 1,0 -2,0M306.7,407.3a1,1 0 1,0 2,0a1,1 0 1,0 -2,0M306.7,407.5a1,1 0 1,0 2,0a1,1 0 1,0 -2,0M306.7,407.7a1,1 0 1,0 2,0a1,1 0 1,0 -2,0M306.7,407.8a1,1 0 1,0 2,0a1,1 0 1,0 -2,0M306.7,409.6a1,1 0 1,0 2,0a1,1 0 1,0 -2,0M306.7,410.1a1,1 0 1,0 2,0a1,1 0 1,0 -2,0M306.7,410.1a1,1 0 1,0 2,0a1,1 0 1,0 -2,0M306.7,410.5a1,1 0 1,0 2,0a1,1 0 1,0 -2,0M306.7,411.7a1,1 0 1,0 2,0a1,1 0 1,0 -2,0M306.7,412.4a1,1 0 1,0 2,0a1,1 0 1,0 -2,0M306.7,412.5a1,1 0 1,0 2,0a1,1 0 1,0 -2,0M306.7,412.7a1,1 0 1,0 2,0a1,1 0 1,0 -2,0M306.7,413.8a1,1 0 1,0 2,0a1,1 0 1,0 -2,0M306.7,413.8a1,1 0 1,0 2,0a1,1 0 1,0 -2,0M306.7,414.0a1,1 0 1,0 2,0a1,1 0 1,0 -2,0M306.7,414.2a1,1 0 1,0 2,0a1,1 0 1,0 -2,0M306.7,414.7a1,1 0 1,0 2,0a1,1 0 1,0 -2,0M306.7,416.8a1,1 0 1,0 2,0a1,1 0 1,0 -2,0M306.7,416.9a1,1 0 1,0 2,0a1,1 0 1,0 -2,0M306.7,417.4a1,1 0 1,0 2,0a1,1 0 1,0 -2,0M306.7,417.6a1,1 0 1,0 2,0a1,1 0 1,0 -2,0M306.7,418.4a1,1 0 1,0 2,0a1,1 0 1,0 -2,0M306.7,418.6a1,1 0 1,0 2,0a1,1 0 1,0 -2,0M306.7,419.0a1,1 0 1,0 2,0a1,1 0 1,0 -2,0M306.7,419.7a1,1 0 1,0 2,0a1,1 0 1,0 -2,0M306.7,420.3a1,1 0 1,0 2,0a1,1 0 1,0 -2,0M306.7,420.5a1,1 0 1,0 2,0a1,1 0 1,0 -2,0M306.7,420.6a1,1 0 1,0 2,0a1,1 0 1,0 -2,0M306.7,420.6a1,1 0 1,0 2,0a1,1 0 1,0 -2,0M306.7,421.1a1,1 0 1,0 2,0a1,1 0 1,0 -2,0M306.7,421.9a1,1 0 1,0 2,0a1,1 0 1,0 -2,0M306.7,421.9a1,1 0 1,0 2,0a1,1 0 1,0 -2,0M306.7,422.6a1,1 0 1,0 2,0a1,1 0 1,0 -2,0M306.7,422.7a1,1 0 1,0 2,0a1,1 0 1,0 -2,0M306.7,422.9a1,1 0 1,0 2,0a1,1 0 1,0 -2,0M306.7,423.3a1,1 0 1,0 2,0a1,1 0 1,0 -2,0M306.7,423.4a1,1 0 1,0 2,0a1,1 0 1,0 -2,0M306.7,423.9a1,1 0 1,0 2,0a1,1 0 1,0 -2,0M306.7,424.3a1,1 0 1,0 2,0a1,1 0 1,0 -2,0M306.7,424.6a1,1 0 1,0 2,0a1,1 0 1,0 -2,0M306.7,425.0a1,1 0 1,0 2,0a1,1 0 1,0 -2,0M306.7,425.3a1,1 0 1,0 2,0a1,1 0 1,0 -2,0M306.7,425.6a1,1 0 1,0 2,0a1,1 0 1,0 -2,0M306.7,427.0a1,1 0 1,0 2,0a1,1 0 1,0 -2,0M306.7,427.6a1,1 0 1,0 2,0a1,1 0 1,0 -2,0M306.7,428.2a1,1 0 1,0 2,0a1,1 0 1,0 -2,0M306.7,429.3a1,1 0 1,0 2,0a1,1 0 1,0 -2,0M306.7,429.5a1,1 0 1,0 2,0a1,1 0 1,0 -2,0M306.7,429.8a1,1 0 1,0 2,0a1,1 0 1,0 -2,0M306.7,430.8a1,1 0 1,0 2,0a1,1 0 1,0 -2,0M306.7,432.0a1,1 0 1,0 2,0a1,1 0 1,0 -2,0M306.7,432.3a1,1 0 1,0 2,0a1,1 0 1,0 -2,0M306.7,433.6a1,1 0 1,0 2,0a1,1 0 1,0 -2,0M306.7,434.5a1,1 0 1,0 2,0a1,1 0 1,0 -2,0M306.7,434.6a1,1 0 1,0 2,0a1,1 0 1,0 -2,0M306.7,435.1a1,1 0 1,0 2,0a1,1 0 1,0 -2,0M306.7,435.2a1,1 0 1,0 2,0a1,1 0 1,0 -2,0M306.7,435.2a1,1 0 1,0 2,0a1,1 0 1,0 -2,0M306.7,435.4a1,1 0 1,0 2,0a1,1 0 1,0 -2,0M306.7,436.3a1,1 0 1,0 2,0a1,1 0 1,0 -2,0M306.7,438.9a1,1 0 1,0 2,0a1,1 0 1,0 -2,0M306.7,440.5a1,1 0 1,0 2,0a1,1 0 1,0 -2,0" fill="#6bb15a" fill-opacity="0.85"/>
<path d="M327.7,384.9a1,1 0 1,0 2,0a1,1 0 1,0 -2,0M327.7,372.3a1,1 0 1,0 2,0a1,1 0 1,0 -2,0M327.7,379.1a1,1 0 1,0 2,0a1,1 0 1,0 -2,0M327.7,368.9a1,1 0 1,0 2,0a1,1 0 1,0 -2,0M327.7,354.7a1,1 0 1,0 2,0a1,1 0 1,0 -2,0M327.7,354.1a1,1 0 1,0 2,0a1,1 0 1,0 -2,0M327.7,355.2a1,1 0 1,0 2,0a1,1 0 1,0 -2,0M327.7,366.1a1,1 0 1,0 2,0a1,1 0 1,0 -2,0M327.7,369.7a1,1 0 1,0 2,0a1,1 0 1,0 -2,0M327.7,374.6a1,1 0 1,0 2,0a1,1 0 1,0 -2,0M327.7,360.5a1,1 0 1,0 2,0a1,1 0 1,0 -2,0M327.7,387.0a1,1 0 1,0 2,0a1,1 0 1,0 -2,0M327.7,385.1a1,1 0 1,0 2,0a1,1 0 1,0 -2,0M327.7,385.9a1,1 0 1,0 2,0a1,1 0 1,0 -2,0M327.7,387.0a1,1 0 1,0 2,0a1,1 0 1,0 -2,0M327.7,360.6a1,1 0 1,0 2,0a1,1 0 1,0 -2,0M327.7,387.9a1,1 0 1,0 2,0a1,1 0 1,0 -2,0M327.7,391.3a1,1 0 1,0 2,0a1,1 0 1,0 -2,0M327.7,363.1a1,1 0 1,0 2,0a1,1 0 1,0 -2,0M327.7,391.7a1,1 0 1,0 2,0a1,1 0 1,0 -2,0M327.7,392.7a1,1 0 1,0 2,0a1,1 0 1,0 -2,0M327.7,388.1a1,1 0 1,0 2,0a1,1 0 1,0 -2,0M327.7,385.6a1,1 0 1,0 2,0a1,1 0 1,0 -2,0M327.7,393.4a1,1 0 1,0 2,0a1,1 0 1,0 -2,0M327.7,378.0a1,1 0 1,0 2,0a1,1 0 1,0 -2,0M327.7,380.1a1,1 0 1,0 2,0a1,1 0 1,0 -2,0M327.7,391.4a1,1 0 1,0 2,0a1,1 0 1,0 -2,0M327.7,366.3a1,1 0 1,0 2,0a1,1 0 1,0 -2,0M327.7,396.8a1,1 0 1,0 2,0a1,1 0 1,0 -2,0M327.7,392.2a1,1 0 1,0 2,0a1,1 0 1,0 -2,0M327.7,396.8a1,1 0 1,0 2,0a1,1 0 1,0 -2,0M327.7,386.3a1,1 0 1,0 2,0a1,1 0 1,0 -2,0M327.7,395.8a1,1 0 1,0 2,0a1,1 0 1,0 -2,0M327.7,406.4a1,1 0 1,0 2,0a1,1 0 1,0 -2,0M327.7,396.2a1,1 0 1,0 2,0a1,1 0 1,0 -2,0M327.7,388.0a1,1 0 1,0 2,0a1,1 0 1,0 -2,0M327.7,411.9a1,1 0 1,0 2,0a1,1 0 1,0 -2,0M327.7,401.8a1,1 0 1,0 2,0a1,1 0 1,0 -2,0M327.7,387.4a1,1 0 1,0 2,0a1,1 0 1,0 -2,0M327.7,413.8a1,1 0 1,0 2,0a1,1 0 1,0 -2,0M327.7,391.7a1,1 0 1,0 2,0a1,1 0 1,0 -2,0M327.7,413.2a1,1 0 1,0 2,0a1,1 0 1,0 -2,0M327.7,387.3a1,1 0 1,0 2,0a1,1 0 1,0 -2,0M327.7,404.2a1,1 0 1,0 2,0a1,1 0 1,0 -2,0M327.7,418.1a1,1 0 1,0 2,0a1,1 0 1,0 -2,0M327.7,397.9a1,1 0 1,0 2,0a1,1 0 1,0 -2,0M327.7,395.6a1,1 0 1,0 2,0a1,1 0 1,0 -2,0M327.7,397.1a1,1 0 1,0 2,0a1,1 0 1,0 -2,0M327.7,387.2a1,1 0 1,0 2,0a1,1 0 1,0 -2,0M327.7,431.7a1,1 0 1,0 2,0a1,1 0 1,0 -2,0M327.7,433.4a1,1 0 1,0 2,0a1,1 0 1,0 -2,0M327.7,412.7a1,1 0 1,0 2,0a1,1 0 1,0 -2,0M327.7,419.1a1,1 0 1,0 2,0a1,1 0 1,0 -2,0M327.7,422.3a1,1 0 1,0 2,0a1,1 0 1,0 -2,0M327.7,429.8a1,1 0 1,0 2,0a1,1 0 1,0 -2,0M327.7,415.2a1,1 0 1,0 2,0a1,1 0 1,0 -2,0M327.7,440.6a1,1 0 1,0 2,0a1,1 0 1,0 -2,0M327.7,403.8a1,1 0 1,0 2,0a1,1 0 1,0 -2,0M327.7,405.3a1,1 0 1,0 2,0a1,1 0 1,0 -2,0M327.7,439.1a1,1 0 1,0 2,0a1,1 0 1,0 -2,0M327.7,427.1a1,1 0 1,0 2,0a1,1 0 1,0 -2,0M327.7,405.5a1,1 0 1,0 2,0a1,1 0 1,0 -2,0M327.7,389.7a1,1 0 1,0 2,0a1,1 0 1,0 -2,0M327.7,405.9a1,1 0 1,0 2,0a1,1 0 1,0 -2,0M327.7,432.6a1,1 0 1,0 2,0a1,1 0 1,0 -2,0M327.7,406.7a1,1 0 1,0 2,0a1,1 0 1,0 -2,0M327.7,424.5a1,1 0 1,0 2,0a1,1 0 1,0 -2,0M327.7,437.1a1,1 0 1,0 2,0a1,1 0 1,0 -2,0M327.7,450.6a1,1 0 1,0 2,0a1,1 0 1,0 -2,0" fill="#f7a21c" fill-opacity="0.85"/>
<text x="388.45" y="345.10" font-size="6.7" text-anchor="middle" fill="#111" >FANCA</text>
<text x="0" y="0" font-size="5.1" text-anchor="middle" fill="#222" transform="translate(355.45,402.35) rotate(-90)">log2(Expression+1)</text>
<line x1="363.75" y1="355.50" x2="365.05" y2="355.50" stroke="#555" stroke-width="0.4" />
<text x="363.25" y="356.90" font-size="4.0" text-anchor="end" fill="#666" >2</text>
<line x1="363.75" y1="387.20" x2="365.05" y2="387.20" stroke="#555" stroke-width="0.4" />
<text x="363.25" y="388.60" font-size="4.0" text-anchor="end" fill="#666" >1</text>
<line x1="363.75" y1="418.90" x2="365.05" y2="418.90" stroke="#555" stroke-width="0.4" />
<text x="363.25" y="420.30" font-size="4.0" text-anchor="end" fill="#666" >0</text>
<line x1="363.75" y1="451.00" x2="365.05" y2="451.00" stroke="#555" stroke-width="0.4" />
<text x="363.25" y="452.40" font-size="4.0" text-anchor="end" fill="#666" >-1</text>
<line x1="377.75" y1="387.60" x2="377.75" y2="440.40" stroke="#333" stroke-width="0.5" />
<line x1="398.75" y1="354.10" x2="398.75" y2="413.80" stroke="#333" stroke-width="0.5" />
<rect x="370.95" y="405.60" width="13.60" height="14.30" fill="#6bb15a" stroke="#333" stroke-width="0.6" />
<rect x="391.95" y="369.40" width="13.60" height="20.90" fill="#f7a21c" stroke="#333" stroke-width="0.6" />
<line x1="370.95" y1="413.00" x2="384.55" y2="413.00" stroke="#222" stroke-width="1.0" />
<line x1="391.95" y1="379.50" x2="405.55" y2="379.50" stroke="#222" stroke-width="1.0" />
<path d="M377.8,387.7L398.8,356.8M377.8,387.9L398.8,365.8M377.8,388.0L398.8,355.1M377.8,395.4L398.8,363.3M377.8,400.0L398.8,366.8M377.8,401.4L398.8,370.8M377.8,401.7L398.8,364.7M377.8,404.6L398.8,361.0M377.8,405.0L398.8,366.2M377.8,405.5L398.8,357.8M377.8,406.3L398.8,365.2M377.8,406.4L398.8,358.5M377.8,406.4L398.8,363.7M377.8,407.0L398.8,365.2M377.8,407.1L398.8,362.5M377.8,407.3L398.8,371.9M377.8,407.4L398.8,363.4M377.8,407.7L398.8,364.5M377.8,408.9L398.8,372.3M377.8,409.9L398.8,359.0M377.8,410.5L398.8,375.5M377.8,410.8L398.8,373.6M377.8,411.9L398.8,379.7M377.8,412.3L398.8,371.3M377.8,412.6L398.8,370.4M377.8,413.0L398.8,380.1M377.8,413.1L398.8,373.5M377.8,413.2L398.8,375.4M377.8,414.0L398.8,377.7M377.8,414.4L398.8,380.5M377.8,414.7L398.8,382.1M377.8,415.7L398.8,373.1M377.8,415.8L398.8,359.4M377.8,415.8L398.8,378.3M377.8,416.3L398.8,375.3M377.8,416.5L398.8,381.2M377.8,416.5L398.8,370.9M377.8,416.6L398.8,380.8M377.8,417.1L398.8,375.5M377.8,417.7L398.8,383.1M377.8,418.1L398.8,383.3M377.8,418.3L398.8,389.6M377.8,418.3L398.8,386.4M377.8,418.4L398.8,384.9M377.8,418.6L398.8,359.5M377.8,419.5L398.8,388.6M377.8,419.7L398.8,389.8M377.8,419.9L398.8,387.0M377.8,420.2L398.8,388.5M377.8,420.4L398.8,396.8M377.8,421.6L398.8,394.7M377.8,421.6L398.8,381.7M377.8,422.5L398.8,384.3M377.8,424.4L398.8,375.9M377.8,424.7L398.8,397.2M377.8,424.8L398.8,384.6M377.8,426.4L398.8,412.5M377.8,430.1L398.8,385.5M377.8,430.3L398.8,386.5M377.8,430.3L398.8,378.2M377.8,432.1L398.8,364.6M377.8,432.8L398.8,405.8M377.8,433.4L398.8,386.3M377.8,434.9L398.8,402.6M377.8,435.6L398.8,404.7M377.8,435.9L398.8,399.4M377.8,436.7L398.8,407.5M377.8,438.8L398.8,411.5" stroke="#c6c6c6" stroke-width="0.5" stroke-opacity="0.9" fill="none"/>
<line x1="365.05" y1="349.40" x2="365.05" y2="455.30" stroke="#222" stroke-width="0.95" />
<line x1="365.05" y1="455.30" x2="411.65" y2="455.30" stroke="#222" stroke-width="0.95" />
<line x1="377.75" y1="455.30" x2="377.75" y2="456.50" stroke="#333" stroke-width="0.4" />
<line x1="398.75" y1="455.30" x2="398.75" y2="456.50" stroke="#333" stroke-width="0.4" />
<text x="377.75" y="460.50" font-size="4.25" text-anchor="middle" fill="#555" >normal</text>
<text x="398.75" y="460.50" font-size="4.25" text-anchor="middle" fill="#555" >tumor</text>
<text x="372.45" y="354.30" font-size="5.25" text-anchor="start" fill="#111" >p = &lt;2e-16</text>
<path d="M376.8,387.7a1,1 0 1,0 2,0a1,1 0 1,0 -2,0M376.8,387.9a1,1 0 1,0 2,0a1,1 0 1,0 -2,0M376.8,388.0a1,1 0 1,0 2,0a1,1 0 1,0 -2,0M376.8,395.4a1,1 0 1,0 2,0a1,1 0 1,0 -2,0M376.8,400.0a1,1 0 1,0 2,0a1,1 0 1,0 -2,0M376.8,401.4a1,1 0 1,0 2,0a1,1 0 1,0 -2,0M376.8,401.7a1,1 0 1,0 2,0a1,1 0 1,0 -2,0M376.8,404.6a1,1 0 1,0 2,0a1,1 0 1,0 -2,0M376.8,405.0a1,1 0 1,0 2,0a1,1 0 1,0 -2,0M376.8,405.5a1,1 0 1,0 2,0a1,1 0 1,0 -2,0M376.8,406.3a1,1 0 1,0 2,0a1,1 0 1,0 -2,0M376.8,406.4a1,1 0 1,0 2,0a1,1 0 1,0 -2,0M376.8,406.4a1,1 0 1,0 2,0a1,1 0 1,0 -2,0M376.8,407.0a1,1 0 1,0 2,0a1,1 0 1,0 -2,0M376.8,407.1a1,1 0 1,0 2,0a1,1 0 1,0 -2,0M376.8,407.3a1,1 0 1,0 2,0a1,1 0 1,0 -2,0M376.8,407.4a1,1 0 1,0 2,0a1,1 0 1,0 -2,0M376.8,407.7a1,1 0 1,0 2,0a1,1 0 1,0 -2,0M376.8,408.9a1,1 0 1,0 2,0a1,1 0 1,0 -2,0M376.8,409.9a1,1 0 1,0 2,0a1,1 0 1,0 -2,0M376.8,410.5a1,1 0 1,0 2,0a1,1 0 1,0 -2,0M376.8,410.8a1,1 0 1,0 2,0a1,1 0 1,0 -2,0M376.8,411.9a1,1 0 1,0 2,0a1,1 0 1,0 -2,0M376.8,412.3a1,1 0 1,0 2,0a1,1 0 1,0 -2,0M376.8,412.6a1,1 0 1,0 2,0a1,1 0 1,0 -2,0M376.8,413.0a1,1 0 1,0 2,0a1,1 0 1,0 -2,0M376.8,413.1a1,1 0 1,0 2,0a1,1 0 1,0 -2,0M376.8,413.2a1,1 0 1,0 2,0a1,1 0 1,0 -2,0M376.8,414.0a1,1 0 1,0 2,0a1,1 0 1,0 -2,0M376.8,414.4a1,1 0 1,0 2,0a1,1 0 1,0 -2,0M376.8,414.7a1,1 0 1,0 2,0a1,1 0 1,0 -2,0M376.8,415.7a1,1 0 1,0 2,0a1,1 0 1,0 -2,0M376.8,415.8a1,1 0 1,0 2,0a1,1 0 1,0 -2,0M376.8,415.8a1,1 0 1,0 2,0a1,1 0 1,0 -2,0M376.8,416.3a1,1 0 1,0 2,0a1,1 0 1,0 -2,0M376.8,416.5a1,1 0 1,0 2,0a1,1 0 1,0 -2,0M376.8,416.5a1,1 0 1,0 2,0a1,1 0 1,0 -2,0M376.8,416.6a1,1 0 1,0 2,0a1,1 0 1,0 -2,0M376.8,417.1a1,1 0 1,0 2,0a1,1 0 1,0 -2,0M376.8,417.7a1,1 0 1,0 2,0a1,1 0 1,0 -2,0M376.8,418.1a1,1 0 1,0 2,0a1,1 0 1,0 -2,0M376.8,418.3a1,1 0 1,0 2,0a1,1 0 1,0 -2,0M376.8,418.3a1,1 0 1,0 2,0a1,1 0 1,0 -2,0M376.8,418.4a1,1 0 1,0 2,0a1,1 0 1,0 -2,0M376.8,418.6a1,1 0 1,0 2,0a1,1 0 1,0 -2,0M376.8,419.5a1,1 0 1,0 2,0a1,1 0 1,0 -2,0M376.8,419.7a1,1 0 1,0 2,0a1,1 0 1,0 -2,0M376.8,419.9a1,1 0 1,0 2,0a1,1 0 1,0 -2,0M376.8,420.2a1,1 0 1,0 2,0a1,1 0 1,0 -2,0M376.8,420.4a1,1 0 1,0 2,0a1,1 0 1,0 -2,0M376.8,421.6a1,1 0 1,0 2,0a1,1 0 1,0 -2,0M376.8,421.6a1,1 0 1,0 2,0a1,1 0 1,0 -2,0M376.8,422.5a1,1 0 1,0 2,0a1,1 0 1,0 -2,0M376.8,424.4a1,1 0 1,0 2,0a1,1 0 1,0 -2,0M376.8,424.7a1,1 0 1,0 2,0a1,1 0 1,0 -2,0M376.8,424.8a1,1 0 1,0 2,0a1,1 0 1,0 -2,0M376.8,426.4a1,1 0 1,0 2,0a1,1 0 1,0 -2,0M376.8,430.1a1,1 0 1,0 2,0a1,1 0 1,0 -2,0M376.8,430.3a1,1 0 1,0 2,0a1,1 0 1,0 -2,0M376.8,430.3a1,1 0 1,0 2,0a1,1 0 1,0 -2,0M376.8,432.1a1,1 0 1,0 2,0a1,1 0 1,0 -2,0M376.8,432.8a1,1 0 1,0 2,0a1,1 0 1,0 -2,0M376.8,433.4a1,1 0 1,0 2,0a1,1 0 1,0 -2,0M376.8,434.9a1,1 0 1,0 2,0a1,1 0 1,0 -2,0M376.8,435.6a1,1 0 1,0 2,0a1,1 0 1,0 -2,0M376.8,435.9a1,1 0 1,0 2,0a1,1 0 1,0 -2,0M376.8,436.7a1,1 0 1,0 2,0a1,1 0 1,0 -2,0M376.8,438.8a1,1 0 1,0 2,0a1,1 0 1,0 -2,0M376.8,450.6a1,1 0 1,0 2,0a1,1 0 1,0 -2,0" fill="#6bb15a" fill-opacity="0.85"/>
<path d="M397.8,356.8a1,1 0 1,0 2,0a1,1 0 1,0 -2,0M397.8,365.8a1,1 0 1,0 2,0a1,1 0 1,0 -2,0M397.8,355.1a1,1 0 1,0 2,0a1,1 0 1,0 -2,0M397.8,363.3a1,1 0 1,0 2,0a1,1 0 1,0 -2,0M397.8,366.8a1,1 0 1,0 2,0a1,1 0 1,0 -2,0M397.8,370.8a1,1 0 1,0 2,0a1,1 0 1,0 -2,0M397.8,364.7a1,1 0 1,0 2,0a1,1 0 1,0 -2,0M397.8,361.0a1,1 0 1,0 2,0a1,1 0 1,0 -2,0M397.8,366.2a1,1 0 1,0 2,0a1,1 0 1,0 -2,0M397.8,357.8a1,1 0 1,0 2,0a1,1 0 1,0 -2,0M397.8,365.2a1,1 0 1,0 2,0a1,1 0 1,0 -2,0M397.8,358.5a1,1 0 1,0 2,0a1,1 0 1,0 -2,0M397.8,363.7a1,1 0 1,0 2,0a1,1 0 1,0 -2,0M397.8,365.2a1,1 0 1,0 2,0a1,1 0 1,0 -2,0M397.8,362.5a1,1 0 1,0 2,0a1,1 0 1,0 -2,0M397.8,371.9a1,1 0 1,0 2,0a1,1 0 1,0 -2,0M397.8,363.4a1,1 0 1,0 2,0a1,1 0 1,0 -2,0M397.8,364.5a1,1 0 1,0 2,0a1,1 0 1,0 -2,0M397.8,372.3a1,1 0 1,0 2,0a1,1 0 1,0 -2,0M397.8,359.0a1,1 0 1,0 2,0a1,1 0 1,0 -2,0M397.8,375.5a1,1 0 1,0 2,0a1,1 0 1,0 -2,0M397.8,373.6a1,1 0 1,0 2,0a1,1 0 1,0 -2,0M397.8,379.7a1,1 0 1,0 2,0a1,1 0 1,0 -2,0M397.8,371.3a1,1 0 1,0 2,0a1,1 0 1,0 -2,0M397.8,370.4a1,1 0 1,0 2,0a1,1 0 1,0 -2,0M397.8,380.1a1,1 0 1,0 2,0a1,1 0 1,0 -2,0M397.8,373.5a1,1 0 1,0 2,0a1,1 0 1,0 -2,0M397.8,375.4a1,1 0 1,0 2,0a1,1 0 1,0 -2,0M397.8,377.7a1,1 0 1,0 2,0a1,1 0 1,0 -2,0M397.8,380.5a1,1 0 1,0 2,0a1,1 0 1,0 -2,0M397.8,382.1a1,1 0 1,0 2,0a1,1 0 1,0 -2,0M397.8,373.1a1,1 0 1,0 2,0a1,1 0 1,0 -2,0M397.8,359.4a1,1 0 1,0 2,0a1,1 0 1,0 -2,0M397.8,378.3a1,1 0 1,0 2,0a1,1 0 1,0 -2,0M397.8,375.3a1,1 0 1,0 2,0a1,1 0 1,0 -2,0M397.8,381.2a1,1 0 1,0 2,0a1,1 0 1,0 -2,0M397.8,370.9a1,1 0 1,0 2,0a1,1 0 1,0 -2,0M397.8,380.8a1,1 0 1,0 2,0a1,1 0 1,0 -2,0M397.8,375.5a1,1 0 1,0 2,0a1,1 0 1,0 -2,0M397.8,383.1a1,1 0 1,0 2,0a1,1 0 1,0 -2,0M397.8,383.3a1,1 0 1,0 2,0a1,1 0 1,0 -2,0M397.8,389.6a1,1 0 1,0 2,0a1,1 0 1,0 -2,0M397.8,386.4a1,1 0 1,0 2,0a1,1 0 1,0 -2,0M397.8,384.9a1,1 0 1,0 2,0a1,1 0 1,0 -2,0M397.8,359.5a1,1 0 1,0 2,0a1,1 0 1,0 -2,0M397.8,388.6a1,1 0 1,0 2,0a1,1 0 1,0 -2,0M397.8,389.8a1,1 0 1,0 2,0a1,1 0 1,0 -2,0M397.8,387.0a1,1 0 1,0 2,0a1,1 0 1,0 -2,0M397.8,388.5a1,1 0 1,0 2,0a1,1 0 1,0 -2,0M397.8,396.8a1,1 0 1,0 2,0a1,1 0 1,0 -2,0M397.8,394.7a1,1 0 1,0 2,0a1,1 0 1,0 -2,0M397.8,381.7a1,1 0 1,0 2,0a1,1 0 1,0 -2,0M397.8,384.3a1,1 0 1,0 2,0a1,1 0 1,0 -2,0M397.8,375.9a1,1 0 1,0 2,0a1,1 0 1,0 -2,0M397.8,397.2a1,1 0 1,0 2,0a1,1 0 1,0 -2,0M397.8,384.6a1,1 0 1,0 2,0a1,1 0 1,0 -2,0M397.8,412.5a1,1 0 1,0 2,0a1,1 0 1,0 -2,0M397.8,385.5a1,1 0 1,0 2,0a1,1 0 1,0 -2,0M397.8,386.5a1,1 0 1,0 2,0a1,1 0 1,0 -2,0M397.8,378.2a1,1 0 1,0 2,0a1,1 0 1,0 -2,0M397.8,364.6a1,1 0 1,0 2,0a1,1 0 1,0 -2,0M397.8,405.8a1,1 0 1,0 2,0a1,1 0 1,0 -2,0M397.8,386.3a1,1 0 1,0 2,0a1,1 0 1,0 -2,0M397.8,402.6a1,1 0 1,0 2,0a1,1 0 1,0 -2,0M397.8,404.7a1,1 0 1,0 2,0a1,1 0 1,0 -2,0M397.8,399.4a1,1 0 1,0 2,0a1,1 0 1,0 -2,0M397.8,407.5a1,1 0 1,0 2,0a1,1 0 1,0 -2,0M397.8,411.5a1,1 0 1,0 2,0a1,1 0 1,0 -2,0" fill="#f7a21c" fill-opacity="0.85"/>
<text x="458.50" y="345.10" font-size="6.7" text-anchor="middle" fill="#111" >FANCB</text>
<text x="0" y="0" font-size="5.1" text-anchor="middle" fill="#222" transform="translate(425.50,402.35) rotate(-90)">log2(Expression+1)</text>
<line x1="433.80" y1="355.70" x2="435.10" y2="355.70" stroke="#555" stroke-width="0.4" />
<text x="433.30" y="357.10" font-size="4.0" text-anchor="end" fill="#666" >2</text>
<line x1="433.80" y1="378.20" x2="435.10" y2="378.20" stroke="#555" stroke-width="0.4" />
<text x="433.30" y="379.60" font-size="4.0" text-anchor="end" fill="#666" >1</text>
<line x1="433.80" y1="399.90" x2="435.10" y2="399.90" stroke="#555" stroke-width="0.4" />
<text x="433.30" y="401.30" font-size="4.0" text-anchor="end" fill="#666" >0</text>
<line x1="433.80" y1="422.40" x2="435.10" y2="422.40" stroke="#555" stroke-width="0.4" />
<text x="433.30" y="423.80" font-size="4.0" text-anchor="end" fill="#666" >-1</text>
<line x1="433.80" y1="444.40" x2="435.10" y2="444.40" stroke="#555" stroke-width="0.4" />
<text x="433.30" y="445.80" font-size="4.0" text-anchor="end" fill="#666" >-2</text>
<line x1="447.80" y1="406.60" x2="447.80" y2="443.20" stroke="#333" stroke-width="0.5" />
<line x1="468.80" y1="352.60" x2="468.80" y2="441.70" stroke="#333" stroke-width="0.5" />
<rect x="441.00" y="417.60" width="13.60" height="11.90" fill="#6bb15a" stroke="#333" stroke-width="0.6" />
<rect x="462.00" y="380.20" width="13.60" height="27.60" fill="#f7a21c" stroke="#333" stroke-width="0.6" />
<line x1="441.00" y1="421.60" x2="454.60" y2="421.60" stroke="#222" stroke-width="1.0" />
<line x1="462.00" y1="398.30" x2="475.60" y2="398.30" stroke="#222" stroke-width="1.0" />
<path d="M447.8,406.7L468.8,370.1M447.8,406.9L468.8,374.5M447.8,412.2L468.8,357.3M447.8,412.3L468.8,363.1M447.8,412.3L468.8,366.6M447.8,412.5L468.8,373.6M447.8,412.6L468.8,353.9M447.8,413.5L468.8,386.0M447.8,413.7L468.8,374.9M447.8,413.8L468.8,354.8M447.8,415.9L468.8,377.9M447.8,417.3L468.8,362.2M447.8,417.6L468.8,388.1M447.8,417.9L468.8,365.1M447.8,418.0L468.8,360.0M447.8,418.0L468.8,377.7M447.8,418.2L468.8,385.7M447.8,418.3L468.8,375.7M447.8,418.4L468.8,393.3M447.8,418.8L468.8,354.3M447.8,419.2L468.8,382.5M447.8,419.5L468.8,397.2M447.8,419.6L468.8,397.6M447.8,420.0L468.8,353.6M447.8,420.1L468.8,400.8M447.8,420.3L468.8,394.5M447.8,420.5L468.8,355.9M447.8,420.5L468.8,387.2M447.8,420.5L468.8,401.8M447.8,421.3L468.8,398.8M447.8,422.9L468.8,404.4M447.8,423.1L468.8,392.4M447.8,423.7L468.8,404.7M447.8,423.9L468.8,401.0M447.8,424.7L468.8,398.8M447.8,424.7L468.8,394.7M447.8,425.2L468.8,406.1M447.8,425.8L468.8,405.4M447.8,426.4L468.8,392.0M447.8,426.8L468.8,402.5M447.8,426.8L468.8,381.7M447.8,427.0L468.8,383.3M447.8,427.5L468.8,390.0M447.8,428.1L468.8,404.1M447.8,429.1L468.8,427.9M447.8,429.5L468.8,396.7M447.8,430.1L468.8,413.1M447.8,430.3L468.8,410.6M447.8,430.6L468.8,428.3M447.8,432.2L468.8,411.0M447.8,432.8L468.8,397.9M447.8,433.5L468.8,436.7M447.8,433.9L468.8,428.2M447.8,434.5L468.8,417.1M447.8,435.2L468.8,408.3M447.8,435.4L468.8,410.5M447.8,436.2L468.8,398.4M447.8,436.5L468.8,426.8M447.8,437.9L468.8,402.7M447.8,438.3L468.8,432.7M447.8,439.5L468.8,381.9M447.8,439.7L468.8,434.5M447.8,440.0L468.8,386.4M447.8,440.4L468.8,437.4M447.8,440.7L468.8,406.8M447.8,442.3L468.8,434.5M447.8,442.5L468.8,438.9M447.8,442.7L468.8,405.3" stroke="#c6c6c6" stroke-width="0.5" stroke-opacity="0.9" fill="none"/>
<line x1="435.10" y1="349.40" x2="435.10" y2="455.30" stroke="#222" stroke-width="0.95" />
<line x1="435.10" y1="455.30" x2="481.70" y2="455.30" stroke="#222" stroke-width="0.95" />
<line x1="447.80" y1="455.30" x2="447.80" y2="456.50" stroke="#333" stroke-width="0.4" />
<line x1="468.80" y1="455.30" x2="468.80" y2="456.50" stroke="#333" stroke-width="0.4" />
<text x="447.80" y="460.50" font-size="4.25" text-anchor="middle" fill="#555" >normal</text>
<text x="468.80" y="460.50" font-size="4.25" text-anchor="middle" fill="#555" >tumor</text>
<text x="442.50" y="354.30" font-size="5.25" text-anchor="start" fill="#111" >p = 1.3e-12</text>
<path d="M446.8,406.7a1,1 0 1,0 2,0a1,1 0 1,0 -2,0M446.8,406.9a1,1 0 1,0 2,0a1,1 0 1,0 -2,0M446.8,412.2a1,1 0 1,0 2,0a1,1 0 1,0 -2,0M446.8,412.3a1,1 0 1,0 2,0a1,1 0 1,0 -2,0M446.8,412.3a1,1 0 1,0 2,0a1,1 0 1,0 -2,0M446.8,412.5a1,1 0 1,0 2,0a1,1 0 1,0 -2,0M446.8,412.6a1,1 0 1,0 2,0a1,1 0 1,0 -2,0M446.8,413.5a1,1 0 1,0 2,0a1,1 0 1,0 -2,0M446.8,413.7a1,1 0 1,0 2,0a1,1 0 1,0 -2,0M446.8,413.8a1,1 0 1,0 2,0a1,1 0 1,0 -2,0M446.8,415.9a1,1 0 1,0 2,0a1,1 0 1,0 -2,0M446.8,417.3a1,1 0 1,0 2,0a1,1 0 1,0 -2,0M446.8,417.6a1,1 0 1,0 2,0a1,1 0 1,0 -2,0M446.8,417.9a1,1 0 1,0 2,0a1,1 0 1,0 -2,0M446.8,418.0a1,1 0 1,0 2,0a1,1 0 1,0 -2,0M446.8,418.0a1,1 0 1,0 2,0a1,1 0 1,0 -2,0M446.8,418.2a1,1 0 1,0 2,0a1,1 0 1,0 -2,0M446.8,418.3a1,1 0 1,0 2,0a1,1 0 1,0 -2,0M446.8,418.4a1,1 0 1,0 2,0a1,1 0 1,0 -2,0M446.8,418.8a1,1 0 1,0 2,0a1,1 0 1,0 -2,0M446.8,419.2a1,1 0 1,0 2,0a1,1 0 1,0 -2,0M446.8,419.5a1,1 0 1,0 2,0a1,1 0 1,0 -2,0M446.8,419.6a1,1 0 1,0 2,0a1,1 0 1,0 -2,0M446.8,420.0a1,1 0 1,0 2,0a1,1 0 1,0 -2,0M446.8,420.1a1,1 0 1,0 2,0a1,1 0 1,0 -2,0M446.8,420.3a1,1 0 1,0 2,0a1,1 0 1,0 -2,0M446.8,420.5a1,1 0 1,0 2,0a1,1 0 1,0 -2,0M446.8,420.5a1,1 0 1,0 2,0a1,1 0 1,0 -2,0M446.8,420.5a1,1 0 1,0 2,0a1,1 0 1,0 -2,0M446.8,421.3a1,1 0 1,0 2,0a1,1 0 1,0 -2,0M446.8,422.9a1,1 0 1,0 2,0a1,1 0 1,0 -2,0M446.8,423.1a1,1 0 1,0 2,0a1,1 0 1,0 -2,0M446.8,423.7a1,1 0 1,0 2,0a1,1 0 1,0 -2,0M446.8,423.9a1,1 0 1,0 2,0a1,1 0 1,0 -2,0M446.8,424.7a1,1 0 1,0 2,0a1,1 0 1,0 -2,0M446.8,424.7a1,1 0 1,0 2,0a1,1 0 1,0 -2,0M446.8,425.2a1,1 0 1,0 2,0a1,1 0 1,0 -2,0M446.8,425.8a1,1 0 1,0 2,0a1,1 0 1,0 -2,0M446.8,426.4a1,1 0 1,0 2,0a1,1 0 1,0 -2,0M446.8,426.8a1,1 0 1,0 2,0a1,1 0 1,0 -2,0M446.8,426.8a1,1 0 1,0 2,0a1,1 0 1,0 -2,0M446.8,427.0a1,1 0 1,0 2,0a1,1 0 1,0 -2,0M446.8,427.5a1,1 0 1,0 2,0a1,1 0 1,0 -2,0M446.8,428.1a1,1 0 1,0 2,0a1,1 0 1,0 -2,0M446.8,429.1a1,1 0 1,0 2,0a1,1 0 1,0 -2,0M446.8,429.5a1,1 0 1,0 2,0a1,1 0 1,0 -2,0M446.8,430.1a1,1 0 1,0 2,0a1,1 0 1,0 -2,0M446.8,430.3a1,1 0 1,0 2,0a1,1 0 1,0 -2,0M446.8,430.6a1,1 0 1,0 2,0a1,1 0 1,0 -2,0M446.8,432.2a1,1 0 1,0 2,0a1,1 0 1,0 -2,0M446.8,432.8a1,1 0 1,0 2,0a1,1 0 1,0 -2,0M446.8,433.5a1,1 0 1,0 2,0a1,1 0 1,0 -2,0M446.8,433.9a1,1 0 1,0 2,0a1,1 0 1,0 -2,0M446.8,434.5a1,1 0 1,0 2,0a1,1 0 1,0 -2,0M446.8,435.2a1,1 0 1,0 2,0a1,1 0 1,0 -2,0M446.8,435.4a1,1 0 1,0 2,0a1,1 0 1,0 -2,0M446.8,436.2a1,1 0 1,0 2,0a1,1 0 1,0 -2,0M446.8,436.5a1,1 0 1,0 2,0a1,1 0 1,0 -2,0M446.8,437.9a1,1 0 1,0 2,0a1,1 0 1,0 -2,0M446.8,438.3a1,1 0 1,0 2,0a1,1 0 1,0 -2,0M446.8,439.5a1,1 0 1,0 2,0a1,1 0 1,0 -2,0M446.8,439.7a1,1 0 1,0 2,0a1,1 0 1,0 -2,0M446.8,440.0a1,1 0 1,0 2,0a1,1 0 1,0 -2,0M446.8,440.4a1,1 0 1,0 2,0a1,1 0 1,0 -2,0M446.8,440.7a1,1 0 1,0 2,0a1,1 0 1,0 -2,0M446.8,442.3a1,1 0 1,0 2,0a1,1 0 1,0 -2,0M446.8,442.5a1,1 0 1,0 2,0a1,1 0 1,0 -2,0M446.8,442.7a1,1 0 1,0 2,0a1,1 0 1,0 -2,0M446.8,450.3a1,1 0 1,0 2,0a1,1 0 1,0 -2,0" fill="#6bb15a" fill-opacity="0.85"/>
<path d="M467.8,370.1a1,1 0 1,0 2,0a1,1 0 1,0 -2,0M467.8,374.5a1,1 0 1,0 2,0a1,1 0 1,0 -2,0M467.8,357.3a1,1 0 1,0 2,0a1,1 0 1,0 -2,0M467.8,363.1a1,1 0 1,0 2,0a1,1 0 1,0 -2,0M467.8,366.6a1,1 0 1,0 2,0a1,1 0 1,0 -2,0M467.8,373.6a1,1 0 1,0 2,0a1,1 0 1,0 -2,0M467.8,353.9a1,1 0 1,0 2,0a1,1 0 1,0 -2,0M467.8,386.0a1,1 0 1,0 2,0a1,1 0 1,0 -2,0M467.8,374.9a1,1 0 1,0 2,0a1,1 0 1,0 -2,0M467.8,354.8a1,1 0 1,0 2,0a1,1 0 1,0 -2,0M467.8,377.9a1,1 0 1,0 2,0a1,1 0 1,0 -2,0M467.8,362.2a1,1 0 1,0 2,0a1,1 0 1,0 -2,0M467.8,388.1a1,1 0 1,0 2,0a1,1 0 1,0 -2,0M467.8,365.1a1,1 0 1,0 2,0a1,1 0 1,0 -2,0M467.8,360.0a1,1 0 1,0 2,0a1,1 0 1,0 -2,0M467.8,377.7a1,1 0 1,0 2,0a1,1 0 1,0 -2,0M467.8,385.7a1,1 0 1,0 2,0a1,1 0 1,0 -2,0M467.8,375.7a1,1 0 1,0 2,0a1,1 0 1,0 -2,0M467.8,393.3a1,1 0 1,0 2,0a1,1 0 1,0 -2,0M467.8,354.3a1,1 0 1,0 2,0a1,1 0 1,0 -2,0M467.8,382.5a1,1 0 1,0 2,0a1,1 0 1,0 -2,0M467.8,397.2a1,1 0 1,0 2,0a1,1 0 1,0 -2,0M467.8,397.6a1,1 0 1,0 2,0a1,1 0 1,0 -2,0M467.8,353.6a1,1 0 1,0 2,0a1,1 0 1,0 -2,0M467.8,400.8a1,1 0 1,0 2,0a1,1 0 1,0 -2,0M467.8,394.5a1,1 0 1,0 2,0a1,1 0 1,0 -2,0M467.8,355.9a1,1 0 1,0 2,0a1,1 0 1,0 -2,0M467.8,387.2a1,1 0 1,0 2,0a1,1 0 1,0 -2,0M467.8,401.8a1,1 0 1,0 2,0a1,1 0 1,0 -2,0M467.8,398.8a1,1 0 1,0 2,0a1,1 0 1,0 -2,0M467.8,404.4a1,1 0 1,0 2,0a1,1 0 1,0 -2,0M467.8,392.4a1,1 0 1,0 2,0a1,1 0 1,0 -2,0M467.8,404.7a1,1 0 1,0 2,0a1,1 0 1,0 -2,0M467.8,401.0a1,1 0 1,0 2,0a1,1 0 1,0 -2,0M467.8,398.8a1,1 0 1,0 2,0a1,1 0 1,0 -2,0M467.8,394.7a1,1 0 1,0 2,0a1,1 0 1,0 -2,0M467.8,406.1a1,1 0 1,0 2,0a1,1 0 1,0 -2,0M467.8,405.4a1,1 0 1,0 2,0a1,1 0 1,0 -2,0M467.8,392.0a1,1 0 1,0 2,0a1,1 0 1,0 -2,0M467.8,402.5a1,1 0 1,0 2,0a1,1 0 1,0 -2,0M467.8,381.7a1,1 0 1,0 2,0a1,1 0 1,0 -2,0M467.8,383.3a1,1 0 1,0 2,0a1,1 0 1,0 -2,0M467.8,390.0a1,1 0 1,0 2,0a1,1 0 1,0 -2,0M467.8,404.1a1,1 0 1,0 2,0a1,1 0 1,0 -2,0M467.8,427.9a1,1 0 1,0 2,0a1,1 0 1,0 -2,0M467.8,396.7a1,1 0 1,0 2,0a1,1 0 1,0 -2,0M467.8,413.1a1,1 0 1,0 2,0a1,1 0 1,0 -2,0M467.8,410.6a1,1 0 1,0 2,0a1,1 0 1,0 -2,0M467.8,428.3a1,1 0 1,0 2,0a1,1 0 1,0 -2,0M467.8,411.0a1,1 0 1,0 2,0a1,1 0 1,0 -2,0M467.8,397.9a1,1 0 1,0 2,0a1,1 0 1,0 -2,0M467.8,436.7a1,1 0 1,0 2,0a1,1 0 1,0 -2,0M467.8,428.2a1,1 0 1,0 2,0a1,1 0 1,0 -2,0M467.8,417.1a1,1 0 1,0 2,0a1,1 0 1,0 -2,0M467.8,408.3a1,1 0 1,0 2,0a1,1 0 1,0 -2,0M467.8,410.5a1,1 0 1,0 2,0a1,1 0 1,0 -2,0M467.8,398.4a1,1 0 1,0 2,0a1,1 0 1,0 -2,0M467.8,426.8a1,1 0 1,0 2,0a1,1 0 1,0 -2,0M467.8,402.7a1,1 0 1,0 2,0a1,1 0 1,0 -2,0M467.8,432.7a1,1 0 1,0 2,0a1,1 0 1,0 -2,0M467.8,381.9a1,1 0 1,0 2,0a1,1 0 1,0 -2,0M467.8,434.5a1,1 0 1,0 2,0a1,1 0 1,0 -2,0M467.8,386.4a1,1 0 1,0 2,0a1,1 0 1,0 -2,0M467.8,437.4a1,1 0 1,0 2,0a1,1 0 1,0 -2,0M467.8,406.8a1,1 0 1,0 2,0a1,1 0 1,0 -2,0M467.8,434.5a1,1 0 1,0 2,0a1,1 0 1,0 -2,0M467.8,438.9a1,1 0 1,0 2,0a1,1 0 1,0 -2,0M467.8,405.3a1,1 0 1,0 2,0a1,1 0 1,0 -2,0" fill="#f7a21c" fill-opacity="0.85"/>
<text x="579.00" y="35.80" font-size="9.6" text-anchor="middle" fill="#111" >Prognosis</text>
<rect x="552.40" y="47.50" width="52.20" height="19.00" fill="#fff" stroke="#ababab" stroke-width="0.8" />
<rect x="552.40" y="66.50" width="52.20" height="19.00" fill="#fff" stroke="#ababab" stroke-width="0.8" />
<rect x="552.40" y="85.50" width="52.20" height="19.00" fill="#fff" stroke="#ababab" stroke-width="0.8" />
<rect x="552.40" y="104.50" width="52.20" height="19.00" fill="#fff" stroke="#ababab" stroke-width="0.8" />
<rect x="552.40" y="123.50" width="52.20" height="19.00" fill="#fff" stroke="#ababab" stroke-width="0.8" />
<rect x="552.40" y="142.50" width="52.20" height="19.00" fill="#fff" stroke="#ababab" stroke-width="0.8" />
<rect x="552.40" y="161.50" width="52.20" height="19.00" fill="#fff" stroke="#ababab" stroke-width="0.8" />
<rect x="552.40" y="180.50" width="52.20" height="19.00" fill="#fff" stroke="#ababab" stroke-width="0.8" />
<rect x="552.40" y="199.50" width="52.20" height="19.00" fill="#fff" stroke="#ababab" stroke-width="0.8" />
<rect x="552.40" y="218.50" width="52.20" height="19.00" fill="#fff" stroke="#ababab" stroke-width="0.8" />
<rect x="552.40" y="237.50" width="52.20" height="19.00" fill="#fff" stroke="#ababab" stroke-width="0.8" />
<rect x="552.40" y="256.50" width="52.20" height="19.00" fill="#fff" stroke="#ababab" stroke-width="0.8" />
<rect x="552.40" y="275.50" width="52.20" height="19.00" fill="#fff" stroke="#ababab" stroke-width="0.8" />
<rect x="552.40" y="294.50" width="52.20" height="19.00" fill="#fff" stroke="#ababab" stroke-width="0.8" />
<rect x="552.40" y="313.50" width="52.20" height="19.00" fill="#fff" stroke="#ababab" stroke-width="0.8" />
<rect x="552.40" y="332.50" width="52.20" height="19.00" fill="#fff" stroke="#ababab" stroke-width="0.8" />
<rect x="552.40" y="351.50" width="52.20" height="19.00" fill="#fff" stroke="#ababab" stroke-width="0.8" />
<rect x="552.40" y="370.50" width="52.20" height="19.00" fill="#fff" stroke="#ababab" stroke-width="0.8" />
<rect x="552.40" y="389.50" width="52.20" height="19.00" fill="#fff" stroke="#ababab" stroke-width="0.8" />
<circle cx="578.60" cy="57.00" r="4.20" fill="#93cf84" stroke="none" stroke-width="0.5" />
<text x="544.20" y="59.70" font-size="7.0" text-anchor="end" fill="#222" >BAP1</text>
<circle cx="578.60" cy="76.00" r="0.75" fill="#93cf84" stroke="none" stroke-width="0.5" />
<text x="544.20" y="78.70" font-size="7.0" text-anchor="end" fill="#222" >ATRX</text>
<circle cx="578.60" cy="95.00" r="4.20" fill="#93cf84" stroke="none" stroke-width="0.5" />
<text x="544.20" y="97.70" font-size="7.0" text-anchor="end" fill="#222" >ATM</text>
<circle cx="578.60" cy="114.00" r="4.20" fill="#fbb84a" stroke="none" stroke-width="0.5" />
<text x="544.20" y="116.70" font-size="7.0" text-anchor="end" fill="#222" >XRCC3</text>
<circle cx="578.60" cy="133.00" r="4.20" fill="#fbb84a" stroke="none" stroke-width="0.5" />
<text x="544.20" y="135.70" font-size="7.0" text-anchor="end" fill="#222" >XRCC2</text>
<circle cx="578.60" cy="152.00" r="4.20" fill="#fbb84a" stroke="none" stroke-width="0.5" />
<text x="544.20" y="154.70" font-size="7.0" text-anchor="end" fill="#222" >RAD51D</text>
<circle cx="578.60" cy="171.00" r="4.20" fill="#fbb84a" stroke="none" stroke-width="0.5" />
<text x="544.20" y="173.70" font-size="7.0" text-anchor="end" fill="#222" >RAD51C</text>
<circle cx="578.60" cy="190.00" r="0.75" fill="#fbb84a" stroke="none" stroke-width="0.5" />
<text x="544.20" y="192.70" font-size="7.0" text-anchor="end" fill="#222" >RAD51B</text>
<circle cx="578.60" cy="209.00" r="4.20" fill="#fbb84a" stroke="none" stroke-width="0.5" />
<text x="544.20" y="211.70" font-size="7.0" text-anchor="end" fill="#222" >RAD51</text>
<circle cx="578.60" cy="228.00" r="0.75" fill="#fbb84a" stroke="none" stroke-width="0.5" />
<text x="544.20" y="230.70" font-size="7.0" text-anchor="end" fill="#222" >PALB2</text>
<circle cx="578.60" cy="247.00" r="4.20" fill="#fbb84a" stroke="none" stroke-width="0.5" />
<text x="544.20" y="249.70" font-size="7.0" text-anchor="end" fill="#222" >FANCC</text>
<circle cx="578.60" cy="266.00" r="4.20" fill="#fbb84a" stroke="none" stroke-width="0.5" />
<text x="544.20" y="268.70" font-size="7.0" text-anchor="end" fill="#222" >FANCB</text>
<circle cx="578.60" cy="285.00" r="4.20" fill="#fbb84a" stroke="none" stroke-width="0.5" />
<text x="544.20" y="287.70" font-size="7.0" text-anchor="end" fill="#222" >FANCA</text>
<circle cx="578.60" cy="304.00" r="0.75" fill="#fbb84a" stroke="none" stroke-width="0.5" />
<text x="544.20" y="306.70" font-size="7.0" text-anchor="end" fill="#222" >CHEK2</text>
<circle cx="578.60" cy="323.00" r="4.20" fill="#fbb84a" stroke="none" stroke-width="0.5" />
<text x="544.20" y="325.70" font-size="7.0" text-anchor="end" fill="#222" >CHEK1</text>
<circle cx="578.60" cy="342.00" r="4.20" fill="#fbb84a" stroke="none" stroke-width="0.5" />
<text x="544.20" y="344.70" font-size="7.0" text-anchor="end" fill="#222" >BRCA2</text>
<circle cx="578.60" cy="361.00" r="4.20" fill="#fbb84a" stroke="none" stroke-width="0.5" />
<text x="544.20" y="363.70" font-size="7.0" text-anchor="end" fill="#222" >BRCA1</text>
<circle cx="578.60" cy="380.00" r="4.20" fill="#fbb84a" stroke="none" stroke-width="0.5" />
<text x="544.20" y="382.70" font-size="7.0" text-anchor="end" fill="#222" >BARD1</text>
<circle cx="578.60" cy="399.00" r="4.20" fill="#fbb84a" stroke="none" stroke-width="0.5" />
<text x="544.20" y="401.70" font-size="7.0" text-anchor="end" fill="#222" >ATR</text>
<text x="623.20" y="140.80" font-size="9.5" text-anchor="start" fill="#222" >pval</text>
<rect x="623.20" y="147.00" width="15.80" height="31.60" fill="#f0f0f0" stroke="none" stroke-width="0.5" />
<circle cx="630.80" cy="155.10" r="1.20" fill="#111" stroke="none" stroke-width="0.5" />
<circle cx="630.80" cy="171.00" r="5.10" fill="#111" stroke="none" stroke-width="0.5" />
<text x="646.50" y="158.50" font-size="8.9" text-anchor="start" fill="#222" >&gt; 0.05</text>
<text x="644.40" y="174.00" font-size="8.9" text-anchor="start" fill="#222" >&lt;=0.05</text>
<text x="621.80" y="227.90" font-size="9.7" text-anchor="start" fill="#222" >direction</text>
<rect x="621.90" y="234.00" width="16.10" height="31.70" fill="#f0f0f0" stroke="none" stroke-width="0.5" />
<circle cx="630.00" cy="241.90" r="2.00" fill="#7cc16c" stroke="none" stroke-width="0.5" />
<circle cx="630.00" cy="257.50" r="2.00" fill="#fba31a" stroke="none" stroke-width="0.5" />
<text x="643.10" y="244.70" font-size="9.0" text-anchor="start" fill="#222" >Protect</text>
<text x="643.10" y="260.60" font-size="9.0" text-anchor="start" fill="#222" >Risk</text>
<path d="M244.1,680.4L86.7,749.3M111.1,570.9L217.8,771.6M127.4,771.6L172.4,779.0M69.9,544.9L174.9,657.6M69.9,544.9L174.9,611.1M69.9,544.9L289.5,715.9M44.7,583.5L33.4,627.7M106.1,516.8L36.8,673.9M289.5,715.9L258.5,749.5M69.9,544.9L127.4,771.6M106.1,516.8L33.4,627.7M106.1,516.8L307.9,673.9M33.4,627.7L172.4,779.0M106.1,516.8L172.4,779.0M33.4,627.7L36.8,673.9M195.8,501.6L307.9,673.9M111.1,570.9L307.9,673.9M69.9,544.9L111.1,570.9M275.4,544.9L300.6,583.2M275.4,544.9L36.8,673.9M238.8,516.6L111.1,570.9M238.8,516.6L55.7,715.9M312.0,627.6L55.7,715.9M312.0,627.6L217.8,771.6M172.4,779.0L217.8,771.6M44.7,583.5L174.9,611.1M36.8,673.9L217.8,771.6M195.8,501.6L275.4,544.9M106.1,516.8L275.4,544.9M44.7,583.5L289.5,715.9M69.9,544.9L217.8,771.6M33.4,627.7L244.1,680.4M33.4,627.7L174.9,657.6M195.8,501.6L174.9,611.1M149.8,501.8L300.6,583.2M33.4,627.7L289.5,715.9M149.8,501.8L86.7,749.3M111.1,570.9L174.9,657.6M234.9,573.2L312.0,627.6M115.6,677.8L127.4,771.6M234.9,573.2L55.7,715.9M234.9,573.2L217.8,771.6M238.8,516.6L69.9,544.9M86.7,749.3L258.5,749.5M111.1,570.9L127.4,771.6M275.4,544.9L174.9,611.1M238.8,516.6L307.9,673.9M69.9,544.9L300.6,583.2M44.7,583.5L312.0,627.6M300.6,583.2L244.1,680.4M106.1,516.8L111.1,570.9M33.4,627.7L312.0,627.6M300.6,583.2L289.5,715.9M195.8,501.6L44.7,583.5M149.8,501.8L174.9,657.6M33.4,627.7L115.6,677.8M195.8,501.6L111.1,570.9M174.9,611.1L244.1,680.4M300.6,583.2L127.4,771.6M106.1,516.8L55.7,715.9M174.9,611.1L127.4,771.6M149.8,501.8L127.4,771.6" stroke="#cfcfcf" stroke-width="0.4" fill="none"/>
<circle cx="106.10" cy="516.80" r="12.90" fill="#d5603a" stroke="none" stroke-width="0.5" />
<text x="106.10" y="534.40" font-size="4.3" text-anchor="middle" fill="#7a7a7a" >regulation of G2/M transition of</text>
<text x="106.10" y="539.80" font-size="4.3" text-anchor="middle" fill="#7a7a7a" >mitotic cell cycle</text>
<circle cx="149.80" cy="501.80" r="12.90" fill="#d77bea" stroke="none" stroke-width="0.5" />
<text x="149.80" y="519.40" font-size="4.3" text-anchor="middle" fill="#7a7a7a" >cellular response to ionizing</text>
<text x="149.80" y="524.80" font-size="4.3" text-anchor="middle" fill="#7a7a7a" >radiation</text>
<path d="M195.80,501.60L195.80,514.50A12.9,12.9 0 0 1 195.80,488.70Z" fill="#d77bea"/>
<path d="M195.80,501.60L195.80,488.70A12.9,12.9 0 0 1 195.80,514.50Z" fill="#cb50bf"/>
<text x="195.80" y="519.20" font-size="4.3" text-anchor="middle" fill="#7a7a7a" >telomere maintenance</text>
<circle cx="238.80" cy="516.60" r="12.90" fill="#cb50bf" stroke="none" stroke-width="0.5" />
<text x="238.80" y="534.20" font-size="4.3" text-anchor="middle" fill="#7a7a7a" >telomere maintenance via</text>
<text x="238.80" y="539.60" font-size="4.3" text-anchor="middle" fill="#7a7a7a" >recombination</text>
<circle cx="275.40" cy="544.90" r="12.90" fill="#d77bea" stroke="none" stroke-width="0.5" />
<text x="275.40" y="562.50" font-size="4.3" text-anchor="middle" fill="#7a7a7a" >cellular response to gamma</text>
<text x="275.40" y="567.90" font-size="4.3" text-anchor="middle" fill="#7a7a7a" >radiation</text>
<path d="M69.90,544.90L69.90,532.00A12.9,12.9 0 0 1 81.07,551.35Z" fill="#3b3ca8"/>
<path d="M69.90,544.90L81.07,551.35A12.9,12.9 0 0 1 58.73,551.35Z" fill="#cb50bf"/>
<path d="M69.90,544.90L58.73,551.35A12.9,12.9 0 0 1 69.90,532.00Z" fill="#d77bea"/>
<text x="69.90" y="562.50" font-size="4.3" text-anchor="middle" fill="#7a7a7a" >nuclear DNA replication</text>
<circle cx="111.10" cy="570.90" r="12.90" fill="#d77bea" stroke="none" stroke-width="0.5" />
<path d="M234.90,573.20L234.90,586.10A12.9,12.9 0 0 1 234.90,560.30Z" fill="#d5603a"/>
<path d="M234.90,573.20L234.90,560.30A12.9,12.9 0 0 1 234.90,586.10Z" fill="#cb50bf"/>
<path d="M300.60,583.20L300.60,570.30A12.9,12.9 0 0 1 311.77,589.65Z" fill="#3b3ca8"/>
<path d="M300.60,583.20L311.77,589.65A12.9,12.9 0 0 1 289.43,589.65Z" fill="#cb50bf"/>
<path d="M300.60,583.20L289.43,589.65A12.9,12.9 0 0 1 300.60,570.30Z" fill="#d5603a"/>
<text x="300.60" y="600.80" font-size="4.3" text-anchor="middle" fill="#7a7a7a" >meiosis I</text>
<path d="M44.70,583.50L44.70,596.40A12.9,12.9 0 0 1 44.70,570.60Z" fill="#d77bea"/>
<path d="M44.70,583.50L44.70,570.60A12.9,12.9 0 0 1 44.70,596.40Z" fill="#3b3ca8"/>
<text x="44.70" y="601.10" font-size="4.3" text-anchor="middle" fill="#7a7a7a" >response to X-ray</text>
<circle cx="174.90" cy="611.10" r="12.90" fill="#a5e6d4" stroke="none" stroke-width="0.5" />
<path d="M33.40,627.70L33.40,640.60A12.9,12.9 0 0 1 33.40,614.80Z" fill="#d77bea"/>
<path d="M33.40,627.70L33.40,614.80A12.9,12.9 0 0 1 33.40,640.60Z" fill="#d5603a"/>
<text x="33.40" y="645.30" font-size="4.3" text-anchor="middle" fill="#7a7a7a" >mitotic DNA damage checkpoint</text>
<text x="33.40" y="650.70" font-size="4.3" text-anchor="middle" fill="#7a7a7a" >signaling</text>
<circle cx="312.00" cy="627.60" r="12.90" fill="#d5603a" stroke="none" stroke-width="0.5" />
<text x="312.00" y="645.20" font-size="4.3" text-anchor="middle" fill="#7a7a7a" >G2/M transition of mitotic cell cycle</text>
<circle cx="174.90" cy="657.60" r="12.90" fill="#a5e6d4" stroke="none" stroke-width="0.5" />
<text x="174.90" y="675.20" font-size="4.3" text-anchor="middle" fill="#7a7a7a" >double-strand break repair via</text>
<text x="174.90" y="680.60" font-size="4.3" text-anchor="middle" fill="#7a7a7a" >homologous recombination</text>
<path d="M36.80,673.90L36.80,686.80A12.9,12.9 0 0 1 36.80,661.00Z" fill="#cb50bf"/>
<path d="M36.80,673.90L36.80,661.00A12.9,12.9 0 0 1 36.80,686.80Z" fill="#3b3ca8"/>
<text x="36.80" y="691.50" font-size="4.3" text-anchor="middle" fill="#7a7a7a" >double-strand break repair via</text>
<text x="36.80" y="696.90" font-size="4.3" text-anchor="middle" fill="#7a7a7a" >synthesis-dependent strand</text>
<text x="36.80" y="702.30" font-size="4.3" text-anchor="middle" fill="#7a7a7a" >annealing</text>
<path d="M115.60,677.80L115.60,690.70A12.9,12.9 0 0 1 115.60,664.90Z" fill="#d77bea"/>
<path d="M115.60,677.80L115.60,664.90A12.9,12.9 0 0 1 115.60,690.70Z" fill="#3b3ca8"/>
<path d="M244.10,680.40L244.10,693.30A12.9,12.9 0 0 1 244.10,667.50Z" fill="#d77bea"/>
<path d="M244.10,680.40L244.10,667.50A12.9,12.9 0 0 1 244.10,693.30Z" fill="#d5603a"/>
<circle cx="307.90" cy="673.90" r="12.90" fill="#d77bea" stroke="none" stroke-width="0.5" />
<text x="307.90" y="691.50" font-size="4.3" text-anchor="middle" fill="#7a7a7a" >protein autoubiquitination</text>
<path d="M55.70,715.90L55.70,728.80A12.9,12.9 0 0 1 55.70,703.00Z" fill="#d77bea"/>
<path d="M55.70,715.90L55.70,703.00A12.9,12.9 0 0 1 55.70,728.80Z" fill="#cb50bf"/>
<text x="55.70" y="733.50" font-size="4.3" text-anchor="middle" fill="#7a7a7a" >DNA damage response, signal</text>
<text x="55.70" y="738.90" font-size="4.3" text-anchor="middle" fill="#7a7a7a" >transduction by p53 class mediator</text>
<circle cx="289.50" cy="715.90" r="12.90" fill="#d77bea" stroke="none" stroke-width="0.5" />
<text x="289.50" y="733.50" font-size="4.3" text-anchor="middle" fill="#7a7a7a" >regulation of cell cycle checkpoint</text>
<path d="M86.70,749.30L86.70,762.20A12.9,12.9 0 0 1 86.70,736.40Z" fill="#d77bea"/>
<path d="M86.70,749.30L86.70,736.40A12.9,12.9 0 0 1 86.70,762.20Z" fill="#3b3ca8"/>
<text x="86.70" y="766.90" font-size="4.3" text-anchor="middle" fill="#7a7a7a" >histone H2A monoubiquitination</text>
<circle cx="258.50" cy="749.50" r="12.90" fill="#d5603a" stroke="none" stroke-width="0.5" />
<text x="258.50" y="767.10" font-size="4.3" text-anchor="middle" fill="#7a7a7a" >negative regulation of mitotic</text>
<text x="258.50" y="772.50" font-size="4.3" text-anchor="middle" fill="#7a7a7a" >nuclear division</text>
<path d="M127.40,771.60L127.40,784.50A12.9,12.9 0 0 1 127.40,758.70Z" fill="#d77bea"/>
<path d="M127.40,771.60L127.40,758.70A12.9,12.9 0 0 1 127.40,784.50Z" fill="#d5603a"/>
<text x="127.40" y="789.20" font-size="4.3" text-anchor="middle" fill="#7a7a7a" >cell cycle checkpoint signaling</text>
<circle cx="172.40" cy="779.00" r="12.90" fill="#d77bea" stroke="none" stroke-width="0.5" />
<text x="172.40" y="796.60" font-size="4.3" text-anchor="middle" fill="#7a7a7a" >response to gamma radiation</text>
<path d="M217.80,771.60L217.80,784.50A12.9,12.9 0 0 1 217.80,758.70Z" fill="#d77bea"/>
<path d="M217.80,771.60L217.80,758.70A12.9,12.9 0 0 1 217.80,784.50Z" fill="#d5603a"/>
<text x="217.80" y="789.20" font-size="4.3" text-anchor="middle" fill="#7a7a7a" >mitotic G2/M transition checkpoint</text>
<text x="111.30" y="591.10" font-size="7.0" text-anchor="middle" fill="#d064e2" font-weight="bold" >response to ionizing</text>
<text x="111.30" y="600.60" font-size="7.0" text-anchor="middle" fill="#d064e2" font-weight="bold" >radiation</text>
<text x="234.60" y="594.20" font-size="7.0" text-anchor="middle" fill="#c444b8" font-weight="bold" >homologous</text>
<text x="234.60" y="603.00" font-size="7.0" text-anchor="middle" fill="#c444b8" font-weight="bold" >recombination</text>
<text x="175.00" y="632.40" font-size="7.0" text-anchor="middle" fill="#9fe3cf" font-weight="bold" >double-strand break</text>
<text x="175.00" y="641.90" font-size="7.0" text-anchor="middle" fill="#9fe3cf" font-weight="bold" >repair</text>
<text x="115.80" y="698.30" font-size="7.0" text-anchor="middle" fill="#33359e" font-weight="bold" >replication fork</text>
<text x="115.80" y="707.70" font-size="7.0" text-anchor="middle" fill="#33359e" font-weight="bold" >processing</text>
<text x="244.00" y="700.80" font-size="7.0" text-anchor="middle" fill="#d0562c" font-weight="bold" >signal transduction</text>
<text x="244.00" y="710.40" font-size="7.0" text-anchor="middle" fill="#d0562c" font-weight="bold" >in response to DNA</text>
<text x="244.00" y="719.80" font-size="7.0" text-anchor="middle" fill="#d0562c" font-weight="bold" >damage</text>
<text x="518.80" y="500.90" font-size="8.4" text-anchor="middle" fill="#111" font-weight="bold" >Altered in 186 (30.19%) of 616 samples.</text>
<rect x="400.20" y="545.00" width="190.50" height="148.77" fill="#f4f4f4" stroke="none" stroke-width="0.5" />
<line x1="400.20" y1="545.00" x2="590.70" y2="545.00" stroke="#fbfbfb" stroke-width="0.9" />
<line x1="400.20" y1="552.83" x2="590.70" y2="552.83" stroke="#fbfbfb" stroke-width="0.9" />
<line x1="400.20" y1="560.66" x2="590.70" y2="560.66" stroke="#fbfbfb" stroke-width="0.9" />
<line x1="400.20" y1="568.49" x2="590.70" y2="568.49" stroke="#fbfbfb" stroke-width="0.9" />
<line x1="400.20" y1="576.32" x2="590.70" y2="576.32" stroke="#fbfbfb" stroke-width="0.9" />
<line x1="400.20" y1="584.15" x2="590.70" y2="584.15" stroke="#fbfbfb" stroke-width="0.9" />
<line x1="400.20" y1="591.98" x2="590.70" y2="591.98" stroke="#fbfbfb" stroke-width="0.9" />
<line x1="400.20" y1="599.81" x2="590.70" y2="599.81" stroke="#fbfbfb" stroke-width="0.9" />
<line x1="400.20" y1="607.64" x2="590.70" y2="607.64" stroke="#fbfbfb" stroke-width="0.9" />
<line x1="400.20" y1="615.47" x2="590.70" y2="615.47" stroke="#fbfbfb" stroke-width="0.9" />
<line x1="400.20" y1="623.30" x2="590.70" y2="623.30" stroke="#fbfbfb" stroke-width="0.9" />
<line x1="400.20" y1="631.13" x2="590.70" y2="631.13" stroke="#fbfbfb" stroke-width="0.9" />
<line x1="400.20" y1="638.96" x2="590.70" y2="638.96" stroke="#fbfbfb" stroke-width="0.9" />
<line x1="400.20" y1="646.79" x2="590.70" y2="646.79" stroke="#fbfbfb" stroke-width="0.9" />
<line x1="400.20" y1="654.62" x2="590.70" y2="654.62" stroke="#fbfbfb" stroke-width="0.9" />
<line x1="400.20" y1="662.45" x2="590.70" y2="662.45" stroke="#fbfbfb" stroke-width="0.9" />
<line x1="400.20" y1="670.28" x2="590.70" y2="670.28" stroke="#fbfbfb" stroke-width="0.9" />
<line x1="400.20" y1="678.11" x2="590.70" y2="678.11" stroke="#fbfbfb" stroke-width="0.9" />
<line x1="400.20" y1="685.94" x2="590.70" y2="685.94" stroke="#fbfbfb" stroke-width="0.9" />
<line x1="400.20" y1="545.00" x2="400.20" y2="693.77" stroke="#f8f8f8" stroke-width="0.4" />
<line x1="409.42" y1="545.00" x2="409.42" y2="693.77" stroke="#f8f8f8" stroke-width="0.4" />
<line x1="418.64" y1="545.00" x2="418.64" y2="693.77" stroke="#f8f8f8" stroke-width="0.4" />
<line x1="427.85" y1="545.00" x2="427.85" y2="693.77" stroke="#f8f8f8" stroke-width="0.4" />
<line x1="437.07" y1="545.00" x2="437.07" y2="693.77" stroke="#f8f8f8" stroke-width="0.4" />
<line x1="446.29" y1="545.00" x2="446.29" y2="693.77" stroke="#f8f8f8" stroke-width="0.4" />
<line x1="455.51" y1="545.00" x2="455.51" y2="693.77" stroke="#f8f8f8" stroke-width="0.4" />
<line x1="464.72" y1="545.00" x2="464.72" y2="693.77" stroke="#f8f8f8" stroke-width="0.4" />
<line x1="473.94" y1="545.00" x2="473.94" y2="693.77" stroke="#f8f8f8" stroke-width="0.4" />
<line x1="483.16" y1="545.00" x2="483.16" y2="693.77" stroke="#f8f8f8" stroke-width="0.4" />
<line x1="492.38" y1="545.00" x2="492.38" y2="693.77" stroke="#f8f8f8" stroke-width="0.4" />
<line x1="501.60" y1="545.00" x2="501.60" y2="693.77" stroke="#f8f8f8" stroke-width="0.4" />
<line x1="510.81" y1="545.00" x2="510.81" y2="693.77" stroke="#f8f8f8" stroke-width="0.4" />
<line x1="520.03" y1="545.00" x2="520.03" y2="693.77" stroke="#f8f8f8" stroke-width="0.4" />
<line x1="529.25" y1="545.00" x2="529.25" y2="693.77" stroke="#f8f8f8" stroke-width="0.4" />
<line x1="538.47" y1="545.00" x2="538.47" y2="693.77" stroke="#f8f8f8" stroke-width="0.4" />
<line x1="547.68" y1="545.00" x2="547.68" y2="693.77" stroke="#f8f8f8" stroke-width="0.4" />
<line x1="556.90" y1="545.00" x2="556.90" y2="693.77" stroke="#f8f8f8" stroke-width="0.4" />
<line x1="566.12" y1="545.00" x2="566.12" y2="693.77" stroke="#f8f8f8" stroke-width="0.4" />
<line x1="575.34" y1="545.00" x2="575.34" y2="693.77" stroke="#f8f8f8" stroke-width="0.4" />
<line x1="584.55" y1="545.00" x2="584.55" y2="693.77" stroke="#f8f8f8" stroke-width="0.4" />
<rect x="400.20" y="545.45" width="1.07" height="6.93" fill="#1a1a1a" stroke="none" stroke-width="0.5" />
<rect x="401.22" y="545.45" width="1.07" height="6.93" fill="#3f8fd0" stroke="none" stroke-width="0.5" />
<rect x="402.25" y="545.45" width="1.07" height="6.93" fill="#e8413f" stroke="none" stroke-width="0.5" />
<rect x="403.27" y="545.45" width="1.07" height="6.93" fill="#3f8fd0" stroke="none" stroke-width="0.5" />
<rect x="404.30" y="545.45" width="1.07" height="6.93" fill="#1a1a1a" stroke="none" stroke-width="0.5" />
<rect x="405.32" y="545.45" width="1.07" height="6.93" fill="#3f8fd0" stroke="none" stroke-width="0.5" />
<rect x="406.35" y="545.45" width="1.07" height="6.93" fill="#1a1a1a" stroke="none" stroke-width="0.5" />
<rect x="407.37" y="545.45" width="1.07" height="6.93" fill="#5bb75b" stroke="none" stroke-width="0.5" />
<rect x="408.39" y="545.45" width="1.07" height="6.93" fill="#e8413f" stroke="none" stroke-width="0.5" />
<rect x="409.42" y="545.45" width="1.07" height="6.93" fill="#5bb75b" stroke="none" stroke-width="0.5" />
<rect x="410.44" y="545.45" width="1.07" height="6.93" fill="#5bb75b" stroke="none" stroke-width="0.5" />
<rect x="411.47" y="545.45" width="1.07" height="6.93" fill="#5bb75b" stroke="none" stroke-width="0.5" />
<rect x="412.49" y="545.45" width="1.07" height="6.93" fill="#5bb75b" stroke="none" stroke-width="0.5" />
<rect x="413.51" y="545.45" width="1.07" height="6.93" fill="#5bb75b" stroke="none" stroke-width="0.5" />
<rect x="414.54" y="545.45" width="1.07" height="6.93" fill="#5bb75b" stroke="none" stroke-width="0.5" />
<rect x="415.56" y="545.45" width="1.07" height="6.93" fill="#5bb75b" stroke="none" stroke-width="0.5" />
<rect x="416.59" y="545.45" width="1.07" height="6.93" fill="#f89a3a" stroke="none" stroke-width="0.5" />
<rect x="417.61" y="545.45" width="1.07" height="6.93" fill="#f5f08a" stroke="none" stroke-width="0.5" />
<rect x="418.64" y="545.45" width="1.07" height="6.93" fill="#1a1a1a" stroke="none" stroke-width="0.5" />
<rect x="419.66" y="545.45" width="1.07" height="6.93" fill="#1a1a1a" stroke="none" stroke-width="0.5" />
<rect x="420.68" y="545.45" width="1.07" height="6.93" fill="#1a1a1a" stroke="none" stroke-width="0.5" />
<rect x="421.71" y="545.45" width="1.07" height="6.93" fill="#1a1a1a" stroke="none" stroke-width="0.5" />
<rect x="422.73" y="545.45" width="1.07" height="6.93" fill="#f89a3a" stroke="none" stroke-width="0.5" />
<rect x="423.76" y="545.45" width="1.07" height="6.93" fill="#5bb75b" stroke="none" stroke-width="0.5" />
<rect x="424.78" y="545.45" width="1.07" height="6.93" fill="#5bb75b" stroke="none" stroke-width="0.5" />
<rect x="425.80" y="545.45" width="1.07" height="6.93" fill="#5bb75b" stroke="none" stroke-width="0.5" />
<rect x="426.83" y="545.45" width="1.07" height="6.93" fill="#5bb75b" stroke="none" stroke-width="0.5" />
<rect x="427.85" y="545.45" width="1.07" height="6.93" fill="#5bb75b" stroke="none" stroke-width="0.5" />
<rect x="428.88" y="545.45" width="1.07" height="6.93" fill="#e8413f" stroke="none" stroke-width="0.5" />
<rect x="429.90" y="545.45" width="1.07" height="6.93" fill="#f89a3a" stroke="none" stroke-width="0.5" />
<rect x="430.93" y="545.45" width="1.07" height="6.93" fill="#5bb75b" stroke="none" stroke-width="0.5" />
<rect x="431.95" y="545.45" width="1.07" height="6.93" fill="#e8413f" stroke="none" stroke-width="0.5" />
<rect x="432.97" y="545.45" width="1.07" height="6.93" fill="#5bb75b" stroke="none" stroke-width="0.5" />
<rect x="434.00" y="545.45" width="1.07" height="6.93" fill="#5bb75b" stroke="none" stroke-width="0.5" />
<rect x="435.02" y="545.45" width="1.07" height="6.93" fill="#5bb75b" stroke="none" stroke-width="0.5" />
<rect x="436.05" y="545.45" width="1.07" height="6.93" fill="#1a1a1a" stroke="none" stroke-width="0.5" />
<rect x="437.07" y="545.45" width="1.07" height="6.93" fill="#1a1a1a" stroke="none" stroke-width="0.5" />
<rect x="438.10" y="545.45" width="1.07" height="6.93" fill="#f5f08a" stroke="none" stroke-width="0.5" />
<rect x="439.12" y="545.45" width="1.07" height="6.93" fill="#5bb75b" stroke="none" stroke-width="0.5" />
<rect x="440.14" y="545.45" width="1.07" height="6.93" fill="#5bb75b" stroke="none" stroke-width="0.5" />
<rect x="441.17" y="545.45" width="1.07" height="6.93" fill="#f89a3a" stroke="none" stroke-width="0.5" />
<rect x="442.19" y="545.45" width="1.07" height="6.93" fill="#f89a3a" stroke="none" stroke-width="0.5" />
<rect x="443.22" y="545.45" width="1.07" height="6.93" fill="#5bb75b" stroke="none" stroke-width="0.5" />
<rect x="400.20" y="553.28" width="1.07" height="6.93" fill="#5bb75b" stroke="none" stroke-width="0.5" />
<rect x="444.24" y="553.28" width="1.07" height="6.93" fill="#1a1a1a" stroke="none" stroke-width="0.5" />
<rect x="445.26" y="553.28" width="1.07" height="6.93" fill="#1a1a1a" stroke="none" stroke-width="0.5" />
<rect x="446.29" y="553.28" width="1.07" height="6.93" fill="#e8413f" stroke="none" stroke-width="0.5" />
<rect x="447.31" y="553.28" width="1.07" height="6.93" fill="#5bb75b" stroke="none" stroke-width="0.5" />
<rect x="448.34" y="553.28" width="1.07" height="6.93" fill="#5bb75b" stroke="none" stroke-width="0.5" />
<rect x="449.36" y="553.28" width="1.07" height="6.93" fill="#5bb75b" stroke="none" stroke-width="0.5" />
<rect x="450.39" y="553.28" width="1.07" height="6.93" fill="#5bb75b" stroke="none" stroke-width="0.5" />
<rect x="451.41" y="553.28" width="1.07" height="6.93" fill="#5bb75b" stroke="none" stroke-width="0.5" />
<rect x="452.43" y="553.28" width="1.07" height="6.93" fill="#5bb75b" stroke="none" stroke-width="0.5" />
<rect x="453.46" y="553.28" width="1.07" height="6.93" fill="#5bb75b" stroke="none" stroke-width="0.5" />
<rect x="454.48" y="553.28" width="1.07" height="6.93" fill="#5bb75b" stroke="none" stroke-width="0.5" />
<rect x="455.51" y="553.28" width="1.07" height="6.93" fill="#5bb75b" stroke="none" stroke-width="0.5" />
<rect x="456.53" y="553.28" width="1.07" height="6.93" fill="#5bb75b" stroke="none" stroke-width="0.5" />
<rect x="457.55" y="553.28" width="1.07" height="6.93" fill="#5bb75b" stroke="none" stroke-width="0.5" />
<rect x="458.58" y="553.28" width="1.07" height="6.93" fill="#5bb75b" stroke="none" stroke-width="0.5" />
<rect x="459.60" y="553.28" width="1.07" height="6.93" fill="#5bb75b" stroke="none" stroke-width="0.5" />
<rect x="460.63" y="553.28" width="1.07" height="6.93" fill="#5bb75b" stroke="none" stroke-width="0.5" />
<rect x="461.65" y="553.28" width="1.07" height="6.93" fill="#5bb75b" stroke="none" stroke-width="0.5" />
<rect x="462.68" y="553.28" width="1.07" height="6.93" fill="#5bb75b" stroke="none" stroke-width="0.5" />
<rect x="463.70" y="553.28" width="1.07" height="6.93" fill="#5bb75b" stroke="none" stroke-width="0.5" />
<rect x="464.72" y="553.28" width="1.07" height="6.93" fill="#5bb75b" stroke="none" stroke-width="0.5" />
<rect x="465.75" y="553.28" width="1.07" height="6.93" fill="#5bb75b" stroke="none" stroke-width="0.5" />
<rect x="466.77" y="553.28" width="1.07" height="6.93" fill="#5bb75b" stroke="none" stroke-width="0.5" />
<rect x="467.80" y="553.28" width="1.07" height="6.93" fill="#1a1a1a" stroke="none" stroke-width="0.5" />
<rect x="468.82" y="553.28" width="1.07" height="6.93" fill="#e8413f" stroke="none" stroke-width="0.5" />
<rect x="469.85" y="553.28" width="1.07" height="6.93" fill="#5bb75b" stroke="none" stroke-width="0.5" />
<rect x="470.87" y="553.28" width="1.07" height="6.93" fill="#1a1a1a" stroke="none" stroke-width="0.5" />
<rect x="471.89" y="553.28" width="1.07" height="6.93" fill="#e8413f" stroke="none" stroke-width="0.5" />
<rect x="472.92" y="553.28" width="1.07" height="6.93" fill="#5bb75b" stroke="none" stroke-width="0.5" />
<rect x="473.94" y="553.28" width="1.07" height="6.93" fill="#e8413f" stroke="none" stroke-width="0.5" />
<rect x="474.97" y="553.28" width="1.07" height="6.93" fill="#5bb75b" stroke="none" stroke-width="0.5" />
<rect x="475.99" y="553.28" width="1.07" height="6.93" fill="#e8413f" stroke="none" stroke-width="0.5" />
<rect x="477.01" y="553.28" width="1.07" height="6.93" fill="#e8413f" stroke="none" stroke-width="0.5" />
<rect x="478.04" y="553.28" width="1.07" height="6.93" fill="#1a1a1a" stroke="none" stroke-width="0.5" />
<rect x="479.06" y="553.28" width="1.07" height="6.93" fill="#5bb75b" stroke="none" stroke-width="0.5" />
<rect x="400.20" y="561.11" width="1.07" height="6.93" fill="#5bb75b" stroke="none" stroke-width="0.5" />
<rect x="401.22" y="561.11" width="1.07" height="6.93" fill="#5bb75b" stroke="none" stroke-width="0.5" />
<rect x="402.25" y="561.11" width="1.07" height="6.93" fill="#5bb75b" stroke="none" stroke-width="0.5" />
<rect x="403.27" y="561.11" width="1.07" height="6.93" fill="#5bb75b" stroke="none" stroke-width="0.5" />
<rect x="443.22" y="561.11" width="1.07" height="6.93" fill="#5bb75b" stroke="none" stroke-width="0.5" />
<rect x="444.24" y="561.11" width="1.07" height="6.93" fill="#5bb75b" stroke="none" stroke-width="0.5" />
<rect x="445.26" y="561.11" width="1.07" height="6.93" fill="#5bb75b" stroke="none" stroke-width="0.5" />
<rect x="446.29" y="561.11" width="1.07" height="6.93" fill="#5bb75b" stroke="none" stroke-width="0.5" />
<rect x="447.31" y="561.11" width="1.07" height="6.93" fill="#5bb75b" stroke="none" stroke-width="0.5" />
<rect x="448.34" y="561.11" width="1.07" height="6.93" fill="#5bb75b" stroke="none" stroke-width="0.5" />
<rect x="449.36" y="561.11" width="1.07" height="6.93" fill="#5bb75b" stroke="none" stroke-width="0.5" />
<rect x="450.39" y="561.11" width="1.07" height="6.93" fill="#e8413f" stroke="none" stroke-width="0.5" />
<rect x="451.41" y="561.11" width="1.07" height="6.93" fill="#e8413f" stroke="none" stroke-width="0.5" />
<rect x="479.06" y="561.11" width="1.07" height="6.93" fill="#1a1a1a" stroke="none" stroke-width="0.5" />
<rect x="480.09" y="561.11" width="1.07" height="6.93" fill="#1a1a1a" stroke="none" stroke-width="0.5" />
<rect x="481.11" y="561.11" width="1.07" height="6.93" fill="#5bb75b" stroke="none" stroke-width="0.5" />
<rect x="482.14" y="561.11" width="1.07" height="6.93" fill="#5bb75b" stroke="none" stroke-width="0.5" />
<rect x="483.16" y="561.11" width="1.07" height="6.93" fill="#5bb75b" stroke="none" stroke-width="0.5" />
<rect x="484.18" y="561.11" width="1.07" height="6.93" fill="#5bb75b" stroke="none" stroke-width="0.5" />
<rect x="485.21" y="561.11" width="1.07" height="6.93" fill="#5bb75b" stroke="none" stroke-width="0.5" />
<rect x="486.23" y="561.11" width="1.07" height="6.93" fill="#e8413f" stroke="none" stroke-width="0.5" />
<rect x="487.26" y="561.11" width="1.07" height="6.93" fill="#5bb75b" stroke="none" stroke-width="0.5" />
<rect x="488.28" y="561.11" width="1.07" height="6.93" fill="#5bb75b" stroke="none" stroke-width="0.5" />
<rect x="489.30" y="561.11" width="1.07" height="6.93" fill="#1a1a1a" stroke="none" stroke-width="0.5" />
<rect x="490.33" y="561.11" width="1.07" height="6.93" fill="#5bb75b" stroke="none" stroke-width="0.5" />
<rect x="491.35" y="561.11" width="1.07" height="6.93" fill="#5bb75b" stroke="none" stroke-width="0.5" />
<rect x="492.38" y="561.11" width="1.07" height="6.93" fill="#e8413f" stroke="none" stroke-width="0.5" />
<rect x="493.40" y="561.11" width="1.07" height="6.93" fill="#5bb75b" stroke="none" stroke-width="0.5" />
<rect x="494.43" y="561.11" width="1.07" height="6.93" fill="#5bb75b" stroke="none" stroke-width="0.5" />
<rect x="495.45" y="561.11" width="1.07" height="6.93" fill="#f89a3a" stroke="none" stroke-width="0.5" />
<rect x="496.47" y="561.11" width="1.07" height="6.93" fill="#5bb75b" stroke="none" stroke-width="0.5" />
<rect x="497.50" y="561.11" width="1.07" height="6.93" fill="#5bb75b" stroke="none" stroke-width="0.5" />
<rect x="404.30" y="568.94" width="1.07" height="6.93" fill="#e8413f" stroke="none" stroke-width="0.5" />
<rect x="443.22" y="568.94" width="1.07" height="6.93" fill="#5bb75b" stroke="none" stroke-width="0.5" />
<rect x="480.09" y="568.94" width="1.07" height="6.93" fill="#5bb75b" stroke="none" stroke-width="0.5" />
<rect x="498.52" y="568.94" width="1.07" height="6.93" fill="#f89a3a" stroke="none" stroke-width="0.5" />
<rect x="499.55" y="568.94" width="1.07" height="6.93" fill="#5bb75b" stroke="none" stroke-width="0.5" />
<rect x="500.57" y="568.94" width="1.07" height="6.93" fill="#5bb75b" stroke="none" stroke-width="0.5" />
<rect x="501.60" y="568.94" width="1.07" height="6.93" fill="#5bb75b" stroke="none" stroke-width="0.5" />
<rect x="502.62" y="568.94" width="1.07" height="6.93" fill="#5bb75b" stroke="none" stroke-width="0.5" />
<rect x="503.64" y="568.94" width="1.07" height="6.93" fill="#5bb75b" stroke="none" stroke-width="0.5" />
<rect x="504.67" y="568.94" width="1.07" height="6.93" fill="#5bb75b" stroke="none" stroke-width="0.5" />
<rect x="505.69" y="568.94" width="1.07" height="6.93" fill="#5bb75b" stroke="none" stroke-width="0.5" />
<rect x="506.72" y="568.94" width="1.07" height="6.93" fill="#5bb75b" stroke="none" stroke-width="0.5" />
<rect x="507.74" y="568.94" width="1.07" height="6.93" fill="#5bb75b" stroke="none" stroke-width="0.5" />
<rect x="508.76" y="568.94" width="1.07" height="6.93" fill="#5bb75b" stroke="none" stroke-width="0.5" />
<rect x="509.79" y="568.94" width="1.07" height="6.93" fill="#e8413f" stroke="none" stroke-width="0.5" />
<rect x="510.81" y="568.94" width="1.07" height="6.93" fill="#e8413f" stroke="none" stroke-width="0.5" />
<rect x="511.84" y="568.94" width="1.07" height="6.93" fill="#5bb75b" stroke="none" stroke-width="0.5" />
<rect x="512.86" y="568.94" width="1.07" height="6.93" fill="#3f8fd0" stroke="none" stroke-width="0.5" />
<rect x="513.89" y="568.94" width="1.07" height="6.93" fill="#1a1a1a" stroke="none" stroke-width="0.5" />
<rect x="514.91" y="568.94" width="1.07" height="6.93" fill="#5bb75b" stroke="none" stroke-width="0.5" />
<rect x="515.93" y="568.94" width="1.07" height="6.93" fill="#5bb75b" stroke="none" stroke-width="0.5" />
<rect x="516.96" y="568.94" width="1.07" height="6.93" fill="#5bb75b" stroke="none" stroke-width="0.5" />
<rect x="517.98" y="568.94" width="1.07" height="6.93" fill="#5bb75b" stroke="none" stroke-width="0.5" />
<rect x="481.11" y="576.77" width="1.07" height="6.93" fill="#5bb75b" stroke="none" stroke-width="0.5" />
<rect x="497.50" y="576.77" width="1.07" height="6.93" fill="#5bb75b" stroke="none" stroke-width="0.5" />
<rect x="519.01" y="576.77" width="1.07" height="6.93" fill="#e8413f" stroke="none" stroke-width="0.5" />
<rect x="520.03" y="576.77" width="1.07" height="6.93" fill="#e8413f" stroke="none" stroke-width="0.5" />
<rect x="521.05" y="576.77" width="1.07" height="6.93" fill="#e8413f" stroke="none" stroke-width="0.5" />
<rect x="522.08" y="576.77" width="1.07" height="6.93" fill="#5bb75b" stroke="none" stroke-width="0.5" />
<rect x="523.10" y="576.77" width="1.07" height="6.93" fill="#5bb75b" stroke="none" stroke-width="0.5" />
<rect x="524.13" y="576.77" width="1.07" height="6.93" fill="#5bb75b" stroke="none" stroke-width="0.5" />
<rect x="525.15" y="576.77" width="1.07" height="6.93" fill="#5bb75b" stroke="none" stroke-width="0.5" />
<rect x="526.18" y="576.77" width="1.07" height="6.93" fill="#5bb75b" stroke="none" stroke-width="0.5" />
<rect x="527.20" y="576.77" width="1.07" height="6.93" fill="#5bb75b" stroke="none" stroke-width="0.5" />
<rect x="528.22" y="576.77" width="1.07" height="6.93" fill="#5bb75b" stroke="none" stroke-width="0.5" />
<rect x="529.25" y="576.77" width="1.07" height="6.93" fill="#5bb75b" stroke="none" stroke-width="0.5" />
<rect x="530.27" y="576.77" width="1.07" height="6.93" fill="#5bb75b" stroke="none" stroke-width="0.5" />
<rect x="531.30" y="576.77" width="1.07" height="6.93" fill="#5bb75b" stroke="none" stroke-width="0.5" />
<rect x="532.32" y="576.77" width="1.07" height="6.93" fill="#5bb75b" stroke="none" stroke-width="0.5" />
<rect x="533.35" y="576.77" width="1.07" height="6.93" fill="#5bb75b" stroke="none" stroke-width="0.5" />
<rect x="534.37" y="576.77" width="1.07" height="6.93" fill="#5bb75b" stroke="none" stroke-width="0.5" />
<rect x="535.39" y="576.77" width="1.07" height="6.93" fill="#5bb75b" stroke="none" stroke-width="0.5" />
<rect x="401.22" y="584.60" width="1.07" height="6.93" fill="#5bb75b" stroke="none" stroke-width="0.5" />
<rect x="405.32" y="584.60" width="1.07" height="6.93" fill="#3f8fd0" stroke="none" stroke-width="0.5" />
<rect x="453.46" y="584.60" width="1.07" height="6.93" fill="#5bb75b" stroke="none" stroke-width="0.5" />
<rect x="482.14" y="584.60" width="1.07" height="6.93" fill="#5bb75b" stroke="none" stroke-width="0.5" />
<rect x="535.39" y="584.60" width="1.07" height="6.93" fill="#1a1a1a" stroke="none" stroke-width="0.5" />
<rect x="536.42" y="584.60" width="1.07" height="6.93" fill="#5bb75b" stroke="none" stroke-width="0.5" />
<rect x="537.44" y="584.60" width="1.07" height="6.93" fill="#5bb75b" stroke="none" stroke-width="0.5" />
<rect x="538.47" y="584.60" width="1.07" height="6.93" fill="#5bb75b" stroke="none" stroke-width="0.5" />
<rect x="539.49" y="584.60" width="1.07" height="6.93" fill="#5bb75b" stroke="none" stroke-width="0.5" />
<rect x="540.51" y="584.60" width="1.07" height="6.93" fill="#5bb75b" stroke="none" stroke-width="0.5" />
<rect x="541.54" y="584.60" width="1.07" height="6.93" fill="#5bb75b" stroke="none" stroke-width="0.5" />
<rect x="542.56" y="584.60" width="1.07" height="6.93" fill="#5bb75b" stroke="none" stroke-width="0.5" />
<rect x="543.59" y="584.60" width="1.07" height="6.93" fill="#5bb75b" stroke="none" stroke-width="0.5" />
<rect x="544.61" y="584.60" width="1.07" height="6.93" fill="#5bb75b" stroke="none" stroke-width="0.5" />
<rect x="545.64" y="584.60" width="1.07" height="6.93" fill="#5bb75b" stroke="none" stroke-width="0.5" />
<rect x="546.66" y="584.60" width="1.07" height="6.93" fill="#5bb75b" stroke="none" stroke-width="0.5" />
<rect x="547.68" y="584.60" width="1.07" height="6.93" fill="#5bb75b" stroke="none" stroke-width="0.5" />
<rect x="548.71" y="584.60" width="1.07" height="6.93" fill="#5bb75b" stroke="none" stroke-width="0.5" />
<rect x="549.73" y="584.60" width="1.07" height="6.93" fill="#5bb75b" stroke="none" stroke-width="0.5" />
<rect x="402.25" y="592.43" width="1.07" height="6.93" fill="#5bb75b" stroke="none" stroke-width="0.5" />
<rect x="406.35" y="592.43" width="1.07" height="6.93" fill="#f5f08a" stroke="none" stroke-width="0.5" />
<rect x="453.46" y="592.43" width="1.07" height="6.93" fill="#3f8fd0" stroke="none" stroke-width="0.5" />
<rect x="535.39" y="592.43" width="1.07" height="6.93" fill="#5bb75b" stroke="none" stroke-width="0.5" />
<rect x="550.76" y="592.43" width="1.07" height="6.93" fill="#5bb75b" stroke="none" stroke-width="0.5" />
<rect x="551.78" y="592.43" width="1.07" height="6.93" fill="#5bb75b" stroke="none" stroke-width="0.5" />
<rect x="552.80" y="592.43" width="1.07" height="6.93" fill="#5bb75b" stroke="none" stroke-width="0.5" />
<rect x="553.83" y="592.43" width="1.07" height="6.93" fill="#e8413f" stroke="none" stroke-width="0.5" />
<rect x="554.85" y="592.43" width="1.07" height="6.93" fill="#5bb75b" stroke="none" stroke-width="0.5" />
<rect x="555.88" y="592.43" width="1.07" height="6.93" fill="#5bb75b" stroke="none" stroke-width="0.5" />
<rect x="408.39" y="600.26" width="1.07" height="6.93" fill="#5bb75b" stroke="none" stroke-width="0.5" />
<rect x="556.90" y="600.26" width="1.07" height="6.93" fill="#5bb75b" stroke="none" stroke-width="0.5" />
<rect x="557.93" y="600.26" width="1.07" height="6.93" fill="#5bb75b" stroke="none" stroke-width="0.5" />
<rect x="558.95" y="600.26" width="1.07" height="6.93" fill="#5bb75b" stroke="none" stroke-width="0.5" />
<rect x="559.97" y="600.26" width="1.07" height="6.93" fill="#5bb75b" stroke="none" stroke-width="0.5" />
<rect x="561.00" y="600.26" width="1.07" height="6.93" fill="#5bb75b" stroke="none" stroke-width="0.5" />
<rect x="562.02" y="600.26" width="1.07" height="6.93" fill="#5bb75b" stroke="none" stroke-width="0.5" />
<rect x="563.05" y="600.26" width="1.07" height="6.93" fill="#5bb75b" stroke="none" stroke-width="0.5" />
<rect x="564.07" y="600.26" width="1.07" height="6.93" fill="#5bb75b" stroke="none" stroke-width="0.5" />
<rect x="403.27" y="608.09" width="1.07" height="6.93" fill="#5bb75b" stroke="none" stroke-width="0.5" />
<rect x="444.24" y="608.09" width="1.07" height="6.93" fill="#5bb75b" stroke="none" stroke-width="0.5" />
<rect x="455.51" y="608.09" width="1.07" height="6.93" fill="#5bb75b" stroke="none" stroke-width="0.5" />
<rect x="481.11" y="608.09" width="1.07" height="6.93" fill="#3f8fd0" stroke="none" stroke-width="0.5" />
<rect x="517.98" y="608.09" width="1.07" height="6.93" fill="#5bb75b" stroke="none" stroke-width="0.5" />
<rect x="565.10" y="608.09" width="1.07" height="6.93" fill="#5bb75b" stroke="none" stroke-width="0.5" />
<rect x="566.12" y="608.09" width="1.07" height="6.93" fill="#5bb75b" stroke="none" stroke-width="0.5" />
<rect x="567.14" y="608.09" width="1.07" height="6.93" fill="#5bb75b" stroke="none" stroke-width="0.5" />
<rect x="568.17" y="608.09" width="1.07" height="6.93" fill="#5bb75b" stroke="none" stroke-width="0.5" />
<rect x="409.42" y="615.92" width="1.07" height="6.93" fill="#5bb75b" stroke="none" stroke-width="0.5" />
<rect x="453.46" y="615.92" width="1.07" height="6.93" fill="#f89a3a" stroke="none" stroke-width="0.5" />
<rect x="568.17" y="615.92" width="1.07" height="6.93" fill="#1a1a1a" stroke="none" stroke-width="0.5" />
<rect x="569.19" y="615.92" width="1.07" height="6.93" fill="#3f8fd0" stroke="none" stroke-width="0.5" />
<rect x="570.22" y="615.92" width="1.07" height="6.93" fill="#e8413f" stroke="none" stroke-width="0.5" />
<rect x="571.24" y="615.92" width="1.07" height="6.93" fill="#5bb75b" stroke="none" stroke-width="0.5" />
<rect x="572.26" y="615.92" width="1.07" height="6.93" fill="#5bb75b" stroke="none" stroke-width="0.5" />
<rect x="402.25" y="623.75" width="1.07" height="6.93" fill="#5bb75b" stroke="none" stroke-width="0.5" />
<rect x="456.53" y="623.75" width="1.07" height="6.93" fill="#5bb75b" stroke="none" stroke-width="0.5" />
<rect x="572.26" y="623.75" width="1.07" height="6.93" fill="#3f8fd0" stroke="none" stroke-width="0.5" />
<rect x="573.29" y="623.75" width="1.07" height="6.93" fill="#5bb75b" stroke="none" stroke-width="0.5" />
<rect x="574.31" y="623.75" width="1.07" height="6.93" fill="#5bb75b" stroke="none" stroke-width="0.5" />
<rect x="575.34" y="623.75" width="1.07" height="6.93" fill="#5bb75b" stroke="none" stroke-width="0.5" />
<rect x="453.46" y="631.58" width="1.07" height="6.93" fill="#5bb75b" stroke="none" stroke-width="0.5" />
<rect x="483.16" y="631.58" width="1.07" height="6.93" fill="#5bb75b" stroke="none" stroke-width="0.5" />
<rect x="576.36" y="631.58" width="1.07" height="6.93" fill="#e8413f" stroke="none" stroke-width="0.5" />
<rect x="577.39" y="631.58" width="1.07" height="6.93" fill="#5bb75b" stroke="none" stroke-width="0.5" />
<rect x="578.41" y="631.58" width="1.07" height="6.93" fill="#5bb75b" stroke="none" stroke-width="0.5" />
<rect x="555.88" y="639.41" width="1.07" height="6.93" fill="#f89a3a" stroke="none" stroke-width="0.5" />
<rect x="578.41" y="639.41" width="1.07" height="6.93" fill="#e8413f" stroke="none" stroke-width="0.5" />
<rect x="579.43" y="639.41" width="1.07" height="6.93" fill="#5bb75b" stroke="none" stroke-width="0.5" />
<rect x="580.46" y="639.41" width="1.07" height="6.93" fill="#3f8fd0" stroke="none" stroke-width="0.5" />
<rect x="581.48" y="639.41" width="1.07" height="6.93" fill="#5bb75b" stroke="none" stroke-width="0.5" />
<rect x="410.44" y="647.24" width="1.07" height="6.93" fill="#5bb75b" stroke="none" stroke-width="0.5" />
<rect x="536.42" y="647.24" width="1.07" height="6.93" fill="#e8413f" stroke="none" stroke-width="0.5" />
<rect x="582.51" y="647.24" width="1.07" height="6.93" fill="#5bb75b" stroke="none" stroke-width="0.5" />
<rect x="583.53" y="647.24" width="1.07" height="6.93" fill="#5bb75b" stroke="none" stroke-width="0.5" />
<rect x="584.55" y="655.07" width="1.07" height="6.93" fill="#5bb75b" stroke="none" stroke-width="0.5" />
<rect x="585.58" y="655.07" width="1.07" height="6.93" fill="#5bb75b" stroke="none" stroke-width="0.5" />
<rect x="586.60" y="655.07" width="1.07" height="6.93" fill="#5bb75b" stroke="none" stroke-width="0.5" />
<rect x="484.18" y="662.90" width="1.07" height="6.93" fill="#5bb75b" stroke="none" stroke-width="0.5" />
<rect x="498.52" y="662.90" width="1.07" height="6.93" fill="#5bb75b" stroke="none" stroke-width="0.5" />
<rect x="586.60" y="662.90" width="1.07" height="6.93" fill="#3f8fd0" stroke="none" stroke-width="0.5" />
<rect x="587.63" y="662.90" width="1.07" height="6.93" fill="#5bb75b" stroke="none" stroke-width="0.5" />
<rect x="573.29" y="670.73" width="1.07" height="6.93" fill="#5bb75b" stroke="none" stroke-width="0.5" />
<rect x="588.65" y="670.73" width="1.07" height="6.93" fill="#5bb75b" stroke="none" stroke-width="0.5" />
<rect x="536.42" y="678.56" width="1.07" height="6.93" fill="#5bb75b" stroke="none" stroke-width="0.5" />
<rect x="589.68" y="678.56" width="1.07" height="6.93" fill="#5bb75b" stroke="none" stroke-width="0.5" />
<text x="397.80" y="551.51" font-size="7.1" text-anchor="end" fill="#111" font-style="italic" >ATM</text>
<text x="591.60" y="551.71" font-size="6.9" text-anchor="start" fill="#111" >7%</text>
<text x="397.80" y="559.35" font-size="7.1" text-anchor="end" fill="#111" font-style="italic" >ATRX</text>
<text x="591.60" y="559.54" font-size="6.9" text-anchor="start" fill="#111" >6%</text>
<text x="397.80" y="567.17" font-size="7.1" text-anchor="end" fill="#111" font-style="italic" >BRCA2</text>
<text x="591.60" y="567.37" font-size="6.9" text-anchor="start" fill="#111" >5%</text>
<text x="397.80" y="575.00" font-size="7.1" text-anchor="end" fill="#111" font-style="italic" >ATR</text>
<text x="591.60" y="575.20" font-size="6.9" text-anchor="start" fill="#111" >4%</text>
<text x="397.80" y="582.84" font-size="7.1" text-anchor="end" fill="#111" font-style="italic" >BRCA1</text>
<text x="591.60" y="583.03" font-size="6.9" text-anchor="start" fill="#111" >3%</text>
<text x="397.80" y="590.66" font-size="7.1" text-anchor="end" fill="#111" font-style="italic" >PALB2</text>
<text x="591.60" y="590.86" font-size="6.9" text-anchor="start" fill="#111" >3%</text>
<text x="397.80" y="598.50" font-size="7.1" text-anchor="end" fill="#111" font-style="italic" >BARD1</text>
<text x="591.60" y="598.69" font-size="6.9" text-anchor="start" fill="#111" >2%</text>
<text x="397.80" y="606.32" font-size="7.1" text-anchor="end" fill="#111" font-style="italic" >CHEK2</text>
<text x="591.60" y="606.52" font-size="6.9" text-anchor="start" fill="#111" >1%</text>
<text x="397.80" y="614.15" font-size="7.1" text-anchor="end" fill="#111" font-style="italic" >FANCB</text>
<text x="591.60" y="614.35" font-size="6.9" text-anchor="start" fill="#111" >1%</text>
<text x="397.80" y="621.99" font-size="7.1" text-anchor="end" fill="#111" font-style="italic" >BAP1</text>
<text x="591.60" y="622.18" font-size="6.9" text-anchor="start" fill="#111" >1%</text>
<text x="397.80" y="629.81" font-size="7.1" text-anchor="end" fill="#111" font-style="italic" >RAD51D</text>
<text x="591.60" y="630.01" font-size="6.9" text-anchor="start" fill="#111" >1%</text>
<text x="397.80" y="637.64" font-size="7.1" text-anchor="end" fill="#111" font-style="italic" >FANCA</text>
<text x="591.60" y="637.84" font-size="6.9" text-anchor="start" fill="#111" >1%</text>
<text x="397.80" y="645.48" font-size="7.1" text-anchor="end" fill="#111" font-style="italic" >RAD51C</text>
<text x="591.60" y="645.67" font-size="6.9" text-anchor="start" fill="#111" >1%</text>
<text x="397.80" y="653.30" font-size="7.1" text-anchor="end" fill="#111" font-style="italic" >CHEK1</text>
<text x="591.60" y="653.50" font-size="6.9" text-anchor="start" fill="#111" >1%</text>
<text x="397.80" y="661.13" font-size="7.1" text-anchor="end" fill="#111" font-style="italic" >RAD51B</text>
<text x="591.60" y="661.33" font-size="6.9" text-anchor="start" fill="#111" >0%</text>
<text x="397.80" y="668.97" font-size="7.1" text-anchor="end" fill="#111" font-style="italic" >XRCC2</text>
<text x="591.60" y="669.16" font-size="6.9" text-anchor="start" fill="#111" >0%</text>
<text x="397.80" y="676.79" font-size="7.1" text-anchor="end" fill="#111" font-style="italic" >RAD51</text>
<text x="591.60" y="676.99" font-size="6.9" text-anchor="start" fill="#111" >0%</text>
<text x="397.80" y="684.62" font-size="7.1" text-anchor="end" fill="#111" font-style="italic" >FANCC</text>
<text x="591.60" y="684.82" font-size="6.9" text-anchor="start" fill="#111" >0%</text>
<text x="397.80" y="692.46" font-size="7.1" text-anchor="end" fill="#111" font-style="italic" >XRCC3</text>
<text x="591.60" y="692.65" font-size="6.9" text-anchor="start" fill="#111" >0%</text>
<rect x="610.80" y="545.50" width="6.50" height="6.83" fill="#e31a1c" stroke="none" stroke-width="0.5" />
<rect x="617.30" y="545.50" width="4.00" height="6.83" fill="#1f78b4" stroke="none" stroke-width="0.5" />
<rect x="621.30" y="545.50" width="28.20" height="6.83" fill="#33a02c" stroke="none" stroke-width="0.5" />
<rect x="649.50" y="545.50" width="5.00" height="6.83" fill="#ff7f00" stroke="none" stroke-width="0.5" />
<rect x="654.50" y="545.50" width="1.30" height="6.83" fill="#ffff99" stroke="none" stroke-width="0.5" />
<rect x="655.80" y="545.50" width="9.40" height="6.83" fill="#000000" stroke="none" stroke-width="0.5" />
<rect x="610.80" y="553.33" width="8.90" height="6.83" fill="#e31a1c" stroke="none" stroke-width="0.5" />
<rect x="619.70" y="553.33" width="31.30" height="6.83" fill="#33a02c" stroke="none" stroke-width="0.5" />
<rect x="651.00" y="553.33" width="6.00" height="6.83" fill="#000000" stroke="none" stroke-width="0.5" />
<rect x="610.80" y="561.16" width="5.00" height="6.83" fill="#e31a1c" stroke="none" stroke-width="0.5" />
<rect x="615.80" y="561.16" width="31.20" height="6.83" fill="#33a02c" stroke="none" stroke-width="0.5" />
<rect x="647.00" y="561.16" width="4.00" height="6.83" fill="#000000" stroke="none" stroke-width="0.5" />
<rect x="610.80" y="568.99" width="3.20" height="6.83" fill="#e31a1c" stroke="none" stroke-width="0.5" />
<rect x="614.00" y="568.99" width="1.00" height="6.83" fill="#1f78b4" stroke="none" stroke-width="0.5" />
<rect x="615.00" y="568.99" width="24.00" height="6.83" fill="#33a02c" stroke="none" stroke-width="0.5" />
<rect x="639.00" y="568.99" width="1.00" height="6.83" fill="#ff7f00" stroke="none" stroke-width="0.5" />
<rect x="640.00" y="568.99" width="1.90" height="6.83" fill="#000000" stroke="none" stroke-width="0.5" />
<rect x="610.80" y="576.82" width="3.20" height="6.83" fill="#e31a1c" stroke="none" stroke-width="0.5" />
<rect x="614.00" y="576.82" width="21.10" height="6.83" fill="#33a02c" stroke="none" stroke-width="0.5" />
<rect x="610.80" y="584.65" width="1.00" height="6.83" fill="#1f78b4" stroke="none" stroke-width="0.5" />
<rect x="611.80" y="584.65" width="20.80" height="6.83" fill="#33a02c" stroke="none" stroke-width="0.5" />
<rect x="632.60" y="584.65" width="1.80" height="6.83" fill="#000000" stroke="none" stroke-width="0.5" />
<rect x="610.80" y="592.48" width="1.50" height="6.83" fill="#e31a1c" stroke="none" stroke-width="0.5" />
<rect x="612.30" y="592.48" width="1.00" height="6.83" fill="#1f78b4" stroke="none" stroke-width="0.5" />
<rect x="613.30" y="592.48" width="11.40" height="6.83" fill="#33a02c" stroke="none" stroke-width="0.5" />
<rect x="624.70" y="592.48" width="0.80" height="6.83" fill="#ffff99" stroke="none" stroke-width="0.5" />
<rect x="610.80" y="600.31" width="0.80" height="6.83" fill="#1f78b4" stroke="none" stroke-width="0.5" />
<rect x="611.60" y="600.31" width="10.60" height="6.83" fill="#33a02c" stroke="none" stroke-width="0.5" />
<rect x="610.80" y="608.14" width="0.80" height="6.83" fill="#1f78b4" stroke="none" stroke-width="0.5" />
<rect x="611.60" y="608.14" width="10.60" height="6.83" fill="#33a02c" stroke="none" stroke-width="0.5" />
<rect x="610.80" y="615.97" width="1.50" height="6.83" fill="#e31a1c" stroke="none" stroke-width="0.5" />
<rect x="612.30" y="615.97" width="0.80" height="6.83" fill="#1f78b4" stroke="none" stroke-width="0.5" />
<rect x="613.10" y="615.97" width="4.00" height="6.83" fill="#33a02c" stroke="none" stroke-width="0.5" />
<rect x="617.10" y="615.97" width="1.00" height="6.83" fill="#ff7f00" stroke="none" stroke-width="0.5" />
<rect x="618.10" y="615.97" width="1.60" height="6.83" fill="#000000" stroke="none" stroke-width="0.5" />
<rect x="610.80" y="623.80" width="1.00" height="6.83" fill="#1f78b4" stroke="none" stroke-width="0.5" />
<rect x="611.80" y="623.80" width="5.00" height="6.83" fill="#33a02c" stroke="none" stroke-width="0.5" />
<rect x="610.80" y="631.63" width="1.00" height="6.83" fill="#e31a1c" stroke="none" stroke-width="0.5" />
<rect x="611.80" y="631.63" width="5.00" height="6.83" fill="#33a02c" stroke="none" stroke-width="0.5" />
<rect x="610.80" y="639.46" width="1.00" height="6.83" fill="#e31a1c" stroke="none" stroke-width="0.5" />
<rect x="611.80" y="639.46" width="1.00" height="6.83" fill="#1f78b4" stroke="none" stroke-width="0.5" />
<rect x="612.80" y="639.46" width="3.00" height="6.83" fill="#33a02c" stroke="none" stroke-width="0.5" />
<rect x="615.80" y="639.46" width="1.50" height="6.83" fill="#ff7f00" stroke="none" stroke-width="0.5" />
<rect x="610.80" y="647.29" width="1.00" height="6.83" fill="#e31a1c" stroke="none" stroke-width="0.5" />
<rect x="611.80" y="647.29" width="4.50" height="6.83" fill="#33a02c" stroke="none" stroke-width="0.5" />
<rect x="610.80" y="655.12" width="4.00" height="6.83" fill="#33a02c" stroke="none" stroke-width="0.5" />
<rect x="610.80" y="662.95" width="1.00" height="6.83" fill="#1f78b4" stroke="none" stroke-width="0.5" />
<rect x="611.80" y="662.95" width="3.00" height="6.83" fill="#33a02c" stroke="none" stroke-width="0.5" />
<rect x="610.80" y="670.78" width="2.60" height="6.83" fill="#33a02c" stroke="none" stroke-width="0.5" />
<rect x="610.80" y="678.61" width="2.60" height="6.83" fill="#33a02c" stroke="none" stroke-width="0.5" />
<path d="M610.80,539.8V542.9H665.2V539.8" stroke="#888" stroke-width="0.9" fill="none"/>
<text x="610.50" y="535.30" font-size="5.4" text-anchor="middle" fill="#333" >0</text>
<text x="665.40" y="535.30" font-size="5.4" text-anchor="middle" fill="#333" >42</text>
<text x="621.80" y="540.20" font-size="4.8" text-anchor="start" fill="#333" >No. of samples</text>
<path d="M400.20,536.80h1.06V541.40h-1.06zM401.22,517.70h1.06V541.40h-1.06zM402.25,510.50h1.06V541.40h-1.06zM403.27,532.60h1.06V541.40h-1.06zM404.30,532.00h1.06V541.40h-1.06zM405.32,536.50h1.06V541.40h-1.06zM406.35,538.57h1.06V541.40h-1.06zM407.37,515.50h1.06V541.40h-1.06zM408.39,533.00h1.06V541.40h-1.06zM409.42,538.04h1.06V541.40h-1.06zM410.44,525.50h1.06V541.40h-1.06zM411.47,538.00h1.06V541.40h-1.06zM412.49,537.00h1.06V541.40h-1.06zM413.51,537.46h1.06V541.40h-1.06zM414.54,534.80h1.06V541.40h-1.06zM415.56,538.24h1.06V541.40h-1.06zM416.59,537.08h1.06V541.40h-1.06zM417.61,520.00h1.06V541.40h-1.06zM418.64,527.50h1.06V541.40h-1.06zM419.66,537.00h1.06V541.40h-1.06zM420.68,537.50h1.06V541.40h-1.06zM421.71,539.00h1.06V541.40h-1.06zM422.73,536.78h1.06V541.40h-1.06zM423.76,540.00h1.06V541.40h-1.06zM424.78,539.00h1.06V541.40h-1.06zM425.80,538.53h1.06V541.40h-1.06zM426.83,538.00h1.06V541.40h-1.06zM427.85,540.00h1.06V541.40h-1.06zM428.88,536.87h1.06V541.40h-1.06zM429.90,536.49h1.06V541.40h-1.06zM430.93,515.50h1.06V541.40h-1.06zM431.95,536.39h1.06V541.40h-1.06zM432.97,539.00h1.06V541.40h-1.06zM434.00,536.68h1.06V541.40h-1.06zM435.02,538.00h1.06V541.40h-1.06zM436.05,536.35h1.06V541.40h-1.06zM437.07,536.49h1.06V541.40h-1.06zM438.10,538.37h1.06V541.40h-1.06zM439.12,538.27h1.06V541.40h-1.06zM440.14,539.00h1.06V541.40h-1.06zM441.17,536.28h1.06V541.40h-1.06zM442.19,537.55h1.06V541.40h-1.06zM443.22,520.80h1.06V541.40h-1.06zM444.24,523.50h1.06V541.40h-1.06zM445.26,537.38h1.06V541.40h-1.06zM446.29,529.50h1.06V541.40h-1.06zM447.31,522.00h1.06V541.40h-1.06zM448.34,530.00h1.06V541.40h-1.06zM449.36,537.20h1.06V541.40h-1.06zM450.39,526.00h1.06V541.40h-1.06zM451.41,535.00h1.06V541.40h-1.06zM452.43,521.50h1.06V541.40h-1.06zM453.46,509.50h1.06V541.40h-1.06zM454.48,514.50h1.06V541.40h-1.06zM455.51,532.00h1.06V541.40h-1.06zM456.53,536.00h1.06V541.40h-1.06zM457.55,537.00h1.06V541.40h-1.06zM458.58,538.00h1.06V541.40h-1.06zM459.60,536.43h1.06V541.40h-1.06zM460.63,537.23h1.06V541.40h-1.06zM461.65,539.50h1.06V541.40h-1.06zM462.68,538.09h1.06V541.40h-1.06zM463.70,533.50h1.06V541.40h-1.06zM464.72,537.22h1.06V541.40h-1.06zM465.75,533.50h1.06V541.40h-1.06zM466.77,528.00h1.06V541.40h-1.06zM467.80,536.55h1.06V541.40h-1.06zM468.82,536.22h1.06V541.40h-1.06zM469.85,532.00h1.06V541.40h-1.06zM470.87,536.68h1.06V541.40h-1.06zM471.89,538.00h1.06V541.40h-1.06zM472.92,538.24h1.06V541.40h-1.06zM473.94,527.00h1.06V541.40h-1.06zM474.97,536.75h1.06V541.40h-1.06zM475.99,522.00h1.06V541.40h-1.06zM477.01,538.49h1.06V541.40h-1.06zM478.04,528.00h1.06V541.40h-1.06zM479.06,538.49h1.06V541.40h-1.06zM480.09,528.00h1.06V541.40h-1.06zM481.11,534.00h1.06V541.40h-1.06zM482.14,536.49h1.06V541.40h-1.06zM483.16,536.25h1.06V541.40h-1.06zM484.18,521.00h1.06V541.40h-1.06zM485.21,526.50h1.06V541.40h-1.06zM486.23,537.86h1.06V541.40h-1.06zM487.26,538.42h1.06V541.40h-1.06zM488.28,535.50h1.06V541.40h-1.06zM489.30,538.52h1.06V541.40h-1.06zM490.33,538.13h1.06V541.40h-1.06zM491.35,532.00h1.06V541.40h-1.06zM492.38,537.13h1.06V541.40h-1.06zM493.40,534.50h1.06V541.40h-1.06zM494.43,538.50h1.06V541.40h-1.06zM495.45,536.52h1.06V541.40h-1.06zM496.47,537.85h1.06V541.40h-1.06zM497.50,529.50h1.06V541.40h-1.06zM498.52,536.45h1.06V541.40h-1.06zM499.55,529.50h1.06V541.40h-1.06zM500.57,537.50h1.06V541.40h-1.06zM501.60,537.35h1.06V541.40h-1.06zM502.62,533.00h1.06V541.40h-1.06zM503.64,537.17h1.06V541.40h-1.06zM504.67,535.00h1.06V541.40h-1.06zM505.69,537.11h1.06V541.40h-1.06zM506.72,536.34h1.06V541.40h-1.06zM507.74,529.00h1.06V541.40h-1.06zM508.76,537.57h1.06V541.40h-1.06zM509.79,536.87h1.06V541.40h-1.06zM510.81,533.00h1.06V541.40h-1.06zM511.84,537.88h1.06V541.40h-1.06zM512.86,514.00h1.06V541.40h-1.06zM513.89,537.35h1.06V541.40h-1.06zM514.91,537.28h1.06V541.40h-1.06zM515.93,531.00h1.06V541.40h-1.06zM516.96,537.60h1.06V541.40h-1.06zM517.98,537.21h1.06V541.40h-1.06zM519.01,525.50h1.06V541.40h-1.06zM520.03,537.12h1.06V541.40h-1.06zM521.05,537.08h1.06V541.40h-1.06zM522.08,527.50h1.06V541.40h-1.06zM523.10,530.50h1.06V541.40h-1.06zM524.13,536.50h1.06V541.40h-1.06zM525.15,536.97h1.06V541.40h-1.06zM526.18,537.75h1.06V541.40h-1.06zM527.20,533.50h1.06V541.40h-1.06zM528.22,536.83h1.06V541.40h-1.06zM529.25,536.00h1.06V541.40h-1.06zM530.27,538.45h1.06V541.40h-1.06zM531.30,534.00h1.06V541.40h-1.06zM532.32,536.29h1.06V541.40h-1.06zM533.35,538.00h1.06V541.40h-1.06zM534.37,522.50h1.06V541.40h-1.06zM535.39,528.50h1.06V541.40h-1.06zM536.42,537.83h1.06V541.40h-1.06zM537.44,526.00h1.06V541.40h-1.06zM538.47,527.50h1.06V541.40h-1.06zM539.49,527.00h1.06V541.40h-1.06zM540.51,526.50h1.06V541.40h-1.06zM541.54,527.00h1.06V541.40h-1.06zM542.56,529.00h1.06V541.40h-1.06zM543.59,536.75h1.06V541.40h-1.06zM544.61,529.00h1.06V541.40h-1.06zM545.64,537.23h1.06V541.40h-1.06zM546.66,536.00h1.06V541.40h-1.06zM547.68,537.86h1.06V541.40h-1.06zM548.71,532.00h1.06V541.40h-1.06zM549.73,536.67h1.06V541.40h-1.06zM550.76,533.00h1.06V541.40h-1.06zM551.78,538.15h1.06V541.40h-1.06zM552.80,524.50h1.06V541.40h-1.06zM553.83,536.92h1.06V541.40h-1.06zM554.85,531.50h1.06V541.40h-1.06zM555.88,531.50h1.06V541.40h-1.06zM556.90,537.80h1.06V541.40h-1.06zM557.93,537.00h1.06V541.40h-1.06zM558.95,537.55h1.06V541.40h-1.06zM559.97,532.00h1.06V541.40h-1.06zM561.00,533.00h1.06V541.40h-1.06zM562.02,537.79h1.06V541.40h-1.06zM563.05,537.04h1.06V541.40h-1.06zM564.07,531.00h1.06V541.40h-1.06zM565.10,536.50h1.06V541.40h-1.06zM566.12,538.06h1.06V541.40h-1.06zM567.14,538.31h1.06V541.40h-1.06zM568.17,535.00h1.06V541.40h-1.06zM569.19,538.14h1.06V541.40h-1.06zM570.22,536.66h1.06V541.40h-1.06zM571.24,536.59h1.06V541.40h-1.06zM572.26,534.50h1.06V541.40h-1.06zM573.29,537.93h1.06V541.40h-1.06zM574.31,518.00h1.06V541.40h-1.06zM575.34,536.00h1.06V541.40h-1.06zM576.36,536.66h1.06V541.40h-1.06zM577.39,536.00h1.06V541.40h-1.06zM578.41,538.29h1.06V541.40h-1.06zM579.43,537.90h1.06V541.40h-1.06zM580.46,535.00h1.06V541.40h-1.06zM581.48,537.95h1.06V541.40h-1.06zM582.51,532.00h1.06V541.40h-1.06zM583.53,537.60h1.06V541.40h-1.06zM584.55,537.00h1.06V541.40h-1.06zM586.60,515.00h1.06V541.40h-1.06zM587.63,538.23h1.06V541.40h-1.06zM588.65,538.59h1.06V541.40h-1.06zM589.68,526.00h1.06V541.40h-1.06z" fill="#3aa537"/>
<path d="M585.58,522.50h1.06V541.40h-1.06z" fill="#7cc878"/>
<path d="M400.20,536.80h1.06v0.70h-1.06zM401.22,517.70h1.06v1.30h-1.06zM402.25,510.50h1.06v1.30h-1.06zM403.27,532.60h1.06v1.30h-1.06zM404.30,532.00h1.06v1.30h-1.06zM405.32,536.50h1.06v0.70h-1.06zM406.35,538.57h1.06v0.70h-1.06zM407.37,515.50h1.06v1.30h-1.06zM408.39,533.00h1.06v1.30h-1.06zM409.42,538.04h1.06v0.70h-1.06zM410.44,525.50h1.06v1.30h-1.06zM411.47,538.00h1.06v0.70h-1.06zM412.49,537.00h1.06v0.70h-1.06zM413.51,537.46h1.06v0.70h-1.06zM414.54,534.80h1.06v1.30h-1.06zM415.56,538.24h1.06v0.70h-1.06zM416.59,537.08h1.06v0.70h-1.06zM417.61,520.00h1.06v1.30h-1.06zM418.64,527.50h1.06v1.30h-1.06zM419.66,537.00h1.06v0.70h-1.06zM420.68,537.50h1.06v0.70h-1.06zM421.71,539.00h1.06v0.70h-1.06zM422.73,536.78h1.06v0.70h-1.06zM423.76,540.00h1.06v0.70h-1.06zM424.78,539.00h1.06v0.70h-1.06zM425.80,538.53h1.06v0.70h-1.06zM426.83,538.00h1.06v0.70h-1.06zM427.85,540.00h1.06v0.70h-1.06zM428.88,536.87h1.06v0.70h-1.06zM429.90,536.49h1.06v0.70h-1.06zM430.93,515.50h1.06v1.30h-1.06zM431.95,536.39h1.06v0.70h-1.06zM432.97,539.00h1.06v0.70h-1.06zM434.00,536.68h1.06v0.70h-1.06zM435.02,538.00h1.06v0.70h-1.06zM436.05,536.35h1.06v0.70h-1.06zM437.07,536.49h1.06v0.70h-1.06zM438.10,538.37h1.06v0.70h-1.06zM439.12,538.27h1.06v0.70h-1.06zM440.14,539.00h1.06v0.70h-1.06zM441.17,536.28h1.06v0.70h-1.06zM442.19,537.55h1.06v0.70h-1.06zM443.22,520.80h1.06v1.30h-1.06zM444.24,523.50h1.06v1.30h-1.06zM445.26,537.38h1.06v0.70h-1.06zM446.29,529.50h1.06v1.30h-1.06zM447.31,522.00h1.06v1.30h-1.06zM448.34,530.00h1.06v1.30h-1.06zM449.36,537.20h1.06v0.70h-1.06zM450.39,526.00h1.06v1.30h-1.06zM451.41,535.00h1.06v1.30h-1.06zM452.43,521.50h1.06v1.30h-1.06zM453.46,509.50h1.06v1.30h-1.06zM454.48,514.50h1.06v1.30h-1.06zM455.51,532.00h1.06v1.30h-1.06zM456.53,536.00h1.06v0.70h-1.06zM457.55,537.00h1.06v0.70h-1.06zM458.58,538.00h1.06v0.70h-1.06zM459.60,536.43h1.06v0.70h-1.06zM460.63,537.23h1.06v0.70h-1.06zM461.65,539.50h1.06v0.70h-1.06zM462.68,538.09h1.06v0.70h-1.06zM463.70,533.50h1.06v1.30h-1.06zM464.72,537.22h1.06v0.70h-1.06zM465.75,533.50h1.06v1.30h-1.06zM466.77,528.00h1.06v1.30h-1.06zM467.80,536.55h1.06v0.70h-1.06zM468.82,536.22h1.06v0.70h-1.06zM469.85,532.00h1.06v1.30h-1.06zM470.87,536.68h1.06v0.70h-1.06zM471.89,538.00h1.06v0.70h-1.06zM472.92,538.24h1.06v0.70h-1.06zM473.94,527.00h1.06v1.30h-1.06zM474.97,536.75h1.06v0.70h-1.06zM475.99,522.00h1.06v1.30h-1.06zM477.01,538.49h1.06v0.70h-1.06zM478.04,528.00h1.06v1.30h-1.06zM479.06,538.49h1.06v0.70h-1.06zM480.09,528.00h1.06v1.30h-1.06zM481.11,534.00h1.06v1.30h-1.06zM482.14,536.49h1.06v0.70h-1.06zM483.16,536.25h1.06v0.70h-1.06zM484.18,521.00h1.06v1.30h-1.06zM485.21,526.50h1.06v1.30h-1.06zM486.23,537.86h1.06v0.70h-1.06zM487.26,538.42h1.06v0.70h-1.06zM488.28,535.50h1.06v0.70h-1.06zM489.30,538.52h1.06v0.70h-1.06zM490.33,538.13h1.06v0.70h-1.06zM491.35,532.00h1.06v1.30h-1.06zM492.38,537.13h1.06v0.70h-1.06zM493.40,534.50h1.06v1.30h-1.06zM494.43,538.50h1.06v0.70h-1.06zM495.45,536.52h1.06v0.70h-1.06zM496.47,537.85h1.06v0.70h-1.06zM497.50,529.50h1.06v1.30h-1.06zM498.52,536.45h1.06v0.70h-1.06zM499.55,529.50h1.06v1.30h-1.06zM500.57,537.50h1.06v0.70h-1.06zM501.60,537.35h1.06v0.70h-1.06zM502.62,533.00h1.06v1.30h-1.06zM503.64,537.17h1.06v0.70h-1.06zM504.67,535.00h1.06v1.30h-1.06zM505.69,537.11h1.06v0.70h-1.06zM506.72,536.34h1.06v0.70h-1.06zM507.74,529.00h1.06v1.30h-1.06zM508.76,537.57h1.06v0.70h-1.06zM509.79,536.87h1.06v0.70h-1.06zM510.81,533.00h1.06v1.30h-1.06zM511.84,537.88h1.06v0.70h-1.06zM512.86,514.00h1.06v1.30h-1.06zM513.89,537.35h1.06v0.70h-1.06zM514.91,537.28h1.06v0.70h-1.06zM515.93,531.00h1.06v1.30h-1.06zM516.96,537.60h1.06v0.70h-1.06zM517.98,537.21h1.06v0.70h-1.06zM519.01,525.50h1.06v1.30h-1.06zM520.03,537.12h1.06v0.70h-1.06zM521.05,537.08h1.06v0.70h-1.06zM522.08,527.50h1.06v1.30h-1.06zM523.10,530.50h1.06v1.30h-1.06zM524.13,536.50h1.06v0.70h-1.06zM525.15,536.97h1.06v0.70h-1.06zM526.18,537.75h1.06v0.70h-1.06zM527.20,533.50h1.06v1.30h-1.06zM528.22,536.83h1.06v0.70h-1.06zM529.25,536.00h1.06v0.70h-1.06zM530.27,538.45h1.06v0.70h-1.06zM531.30,534.00h1.06v1.30h-1.06zM532.32,536.29h1.06v0.70h-1.06zM533.35,538.00h1.06v0.70h-1.06zM534.37,522.50h1.06v1.30h-1.06zM535.39,528.50h1.06v1.30h-1.06zM536.42,537.83h1.06v0.70h-1.06zM537.44,526.00h1.06v1.30h-1.06zM538.47,527.50h1.06v1.30h-1.06zM539.49,527.00h1.06v1.30h-1.06zM540.51,526.50h1.06v1.30h-1.06zM541.54,527.00h1.06v1.30h-1.06zM542.56,529.00h1.06v1.30h-1.06zM543.59,536.75h1.06v0.70h-1.06zM544.61,529.00h1.06v1.30h-1.06zM545.64,537.23h1.06v0.70h-1.06zM546.66,536.00h1.06v0.70h-1.06zM547.68,537.86h1.06v0.70h-1.06zM548.71,532.00h1.06v1.30h-1.06zM549.73,536.67h1.06v0.70h-1.06zM550.76,533.00h1.06v1.30h-1.06zM551.78,538.15h1.06v0.70h-1.06zM552.80,524.50h1.06v1.30h-1.06zM553.83,536.92h1.06v0.70h-1.06zM554.85,531.50h1.06v1.30h-1.06zM555.88,531.50h1.06v1.30h-1.06zM556.90,537.80h1.06v0.70h-1.06zM557.93,537.00h1.06v0.70h-1.06zM558.95,537.55h1.06v0.70h-1.06zM559.97,532.00h1.06v1.30h-1.06zM561.00,533.00h1.06v1.30h-1.06zM562.02,537.79h1.06v0.70h-1.06zM563.05,537.04h1.06v0.70h-1.06zM564.07,531.00h1.06v1.30h-1.06zM565.10,536.50h1.06v0.70h-1.06zM566.12,538.06h1.06v0.70h-1.06zM567.14,538.31h1.06v0.70h-1.06zM568.17,535.00h1.06v1.30h-1.06zM569.19,538.14h1.06v0.70h-1.06zM570.22,536.66h1.06v0.70h-1.06zM571.24,536.59h1.06v0.70h-1.06zM572.26,534.50h1.06v1.30h-1.06zM573.29,537.93h1.06v0.70h-1.06zM574.31,518.00h1.06v1.30h-1.06zM575.34,536.00h1.06v0.70h-1.06zM576.36,536.66h1.06v0.70h-1.06zM577.39,536.00h1.06v0.70h-1.06zM578.41,538.29h1.06v0.70h-1.06zM579.43,537.90h1.06v0.70h-1.06zM580.46,535.00h1.06v1.30h-1.06zM581.48,537.95h1.06v0.70h-1.06zM582.51,532.00h1.06v1.30h-1.06zM583.53,537.60h1.06v0.70h-1.06zM584.55,537.00h1.06v0.70h-1.06zM585.58,522.50h1.06v1.30h-1.06zM586.60,515.00h1.06v1.30h-1.06zM587.63,538.23h1.06v0.70h-1.06zM588.65,538.59h1.06v0.70h-1.06zM589.68,526.00h1.06v1.30h-1.06z" fill="#ef5a3c"/>
<path d="M402.25,540.50h1.02v0.9h-1.02zM406.35,540.50h1.02v0.9h-1.02zM407.37,540.50h1.02v0.9h-1.02zM408.39,540.50h1.02v0.9h-1.02zM413.51,540.50h1.02v0.9h-1.02zM419.66,540.50h1.02v0.9h-1.02zM423.76,540.50h1.02v0.9h-1.02zM425.80,540.50h1.02v0.9h-1.02zM428.88,540.50h1.02v0.9h-1.02zM429.90,540.50h1.02v0.9h-1.02zM430.93,540.50h1.02v0.9h-1.02zM440.14,540.50h1.02v0.9h-1.02zM447.31,540.50h1.02v0.9h-1.02zM459.60,540.50h1.02v0.9h-1.02zM460.63,540.50h1.02v0.9h-1.02zM461.65,540.50h1.02v0.9h-1.02zM462.68,540.50h1.02v0.9h-1.02zM467.80,540.50h1.02v0.9h-1.02zM469.85,540.50h1.02v0.9h-1.02zM473.94,540.50h1.02v0.9h-1.02zM481.11,540.50h1.02v0.9h-1.02zM485.21,540.50h1.02v0.9h-1.02zM489.30,540.50h1.02v0.9h-1.02zM491.35,540.50h1.02v0.9h-1.02zM495.45,540.50h1.02v0.9h-1.02zM496.47,540.50h1.02v0.9h-1.02zM507.74,540.50h1.02v0.9h-1.02zM510.81,540.50h1.02v0.9h-1.02zM511.84,540.50h1.02v0.9h-1.02zM516.96,540.50h1.02v0.9h-1.02zM525.15,540.50h1.02v0.9h-1.02zM528.22,540.50h1.02v0.9h-1.02zM535.39,540.50h1.02v0.9h-1.02zM538.47,540.50h1.02v0.9h-1.02zM541.54,540.50h1.02v0.9h-1.02zM542.56,540.50h1.02v0.9h-1.02zM546.66,540.50h1.02v0.9h-1.02zM551.78,540.50h1.02v0.9h-1.02zM552.80,540.50h1.02v0.9h-1.02zM557.93,540.50h1.02v0.9h-1.02zM558.95,540.50h1.02v0.9h-1.02zM561.00,540.50h1.02v0.9h-1.02zM564.07,540.50h1.02v0.9h-1.02zM565.10,540.50h1.02v0.9h-1.02zM567.14,540.50h1.02v0.9h-1.02zM568.17,540.50h1.02v0.9h-1.02zM573.29,540.50h1.02v0.9h-1.02zM583.53,540.50h1.02v0.9h-1.02zM586.60,540.50h1.02v0.9h-1.02zM589.68,540.50h1.02v0.9h-1.02z" fill="#3f7fc6"/>
<path d="M393.2,508.50H396.5V541.40H393.2" stroke="#333" stroke-width="0.7" fill="none"/>
<text x="389.90" y="510.80" font-size="5.5" text-anchor="end" fill="#222" >1456</text>
<text x="389.90" y="543.80" font-size="5.5" text-anchor="end" fill="#222" >0</text>
<text x="0" y="0" font-size="4.7" text-anchor="middle" fill="#333" transform="translate(385.2,525.0) rotate(-90)">TMB</text>
<path d="M400.20,723.71h1.07v22.29h-1.07zM401.22,722.58h1.07v23.42h-1.07zM402.25,727.16h1.07v18.84h-1.07zM403.27,721.41h1.07v24.59h-1.07zM404.30,722.60h1.07v23.40h-1.07zM405.32,727.24h1.07v18.76h-1.07zM406.35,734.39h1.07v11.61h-1.07zM407.37,730.86h1.07v15.14h-1.07zM408.39,729.57h1.07v16.43h-1.07zM409.42,721.23h1.07v24.77h-1.07zM410.44,728.41h1.07v17.59h-1.07zM411.47,721.89h1.07v24.11h-1.07zM412.49,728.43h1.07v17.57h-1.07zM413.51,726.33h1.07v19.67h-1.07zM414.54,722.57h1.07v23.43h-1.07zM415.56,725.22h1.07v20.78h-1.07zM416.59,733.77h1.07v12.23h-1.07zM417.61,726.55h1.07v19.45h-1.07zM418.64,723.42h1.07v22.58h-1.07zM419.66,723.54h1.07v22.46h-1.07zM420.68,721.65h1.07v24.35h-1.07zM421.71,721.37h1.07v24.63h-1.07zM422.73,721.61h1.07v24.39h-1.07zM423.76,732.25h1.07v13.75h-1.07zM424.78,722.17h1.07v23.83h-1.07zM425.80,730.87h1.07v15.13h-1.07zM426.83,727.60h1.07v18.40h-1.07zM427.85,725.03h1.07v20.97h-1.07zM428.88,724.38h1.07v21.62h-1.07zM429.90,727.75h1.07v18.25h-1.07zM430.93,729.55h1.07v16.45h-1.07zM431.95,721.85h1.07v24.15h-1.07zM432.97,721.34h1.07v24.66h-1.07zM434.00,721.75h1.07v24.25h-1.07zM435.02,727.14h1.07v18.86h-1.07zM436.05,737.20h1.07v8.80h-1.07zM437.07,740.39h1.07v5.61h-1.07zM438.10,730.19h1.07v15.81h-1.07zM439.12,725.53h1.07v20.47h-1.07zM440.14,725.03h1.07v20.97h-1.07zM441.17,723.75h1.07v22.25h-1.07zM442.19,722.94h1.07v23.06h-1.07zM443.22,730.26h1.07v15.74h-1.07zM444.24,722.04h1.07v23.96h-1.07zM445.26,722.77h1.07v23.23h-1.07zM446.29,722.67h1.07v23.33h-1.07zM447.31,735.01h1.07v10.99h-1.07zM448.34,722.74h1.07v23.26h-1.07zM449.36,728.49h1.07v17.51h-1.07zM450.39,724.00h1.07v22.00h-1.07zM451.41,724.57h1.07v21.43h-1.07zM452.43,728.78h1.07v17.22h-1.07zM453.46,729.47h1.07v16.53h-1.07zM454.48,731.14h1.07v14.86h-1.07zM455.51,723.55h1.07v22.45h-1.07zM456.53,721.94h1.07v24.06h-1.07zM457.55,722.07h1.07v23.93h-1.07zM458.58,722.60h1.07v23.40h-1.07zM459.60,728.85h1.07v17.15h-1.07zM460.63,724.52h1.07v21.48h-1.07zM461.65,723.23h1.07v22.77h-1.07zM462.68,721.99h1.07v24.01h-1.07zM463.70,729.54h1.07v16.46h-1.07zM464.72,730.58h1.07v15.42h-1.07zM465.75,723.19h1.07v22.81h-1.07zM466.77,723.63h1.07v22.37h-1.07zM467.80,723.38h1.07v22.62h-1.07zM468.82,727.56h1.07v18.44h-1.07zM469.85,726.13h1.07v19.87h-1.07zM470.87,722.70h1.07v23.30h-1.07zM471.89,726.08h1.07v19.92h-1.07zM472.92,724.54h1.07v21.46h-1.07zM473.94,733.13h1.07v12.87h-1.07zM474.97,722.87h1.07v23.13h-1.07zM475.99,722.55h1.07v23.45h-1.07zM477.01,726.00h1.07v20.00h-1.07zM478.04,722.91h1.07v23.09h-1.07zM479.06,728.42h1.07v17.58h-1.07zM480.09,723.43h1.07v22.57h-1.07zM481.11,723.84h1.07v22.16h-1.07zM482.14,730.45h1.07v15.55h-1.07zM483.16,720.37h1.07v25.63h-1.07zM484.18,726.28h1.07v19.72h-1.07zM485.21,725.06h1.07v20.94h-1.07zM486.23,727.93h1.07v18.07h-1.07zM487.26,722.32h1.07v23.68h-1.07zM488.28,730.67h1.07v15.33h-1.07zM489.30,721.62h1.07v24.38h-1.07zM490.33,729.10h1.07v16.90h-1.07zM491.35,724.70h1.07v21.30h-1.07zM492.38,722.62h1.07v23.38h-1.07zM493.40,722.83h1.07v23.17h-1.07zM494.43,724.26h1.07v21.74h-1.07zM495.45,727.92h1.07v18.08h-1.07zM496.47,726.95h1.07v19.05h-1.07zM497.50,730.03h1.07v15.97h-1.07zM498.52,726.91h1.07v19.09h-1.07zM499.55,724.42h1.07v21.58h-1.07zM500.57,723.91h1.07v22.09h-1.07zM501.60,723.97h1.07v22.03h-1.07zM502.62,722.89h1.07v23.11h-1.07zM503.64,727.64h1.07v18.36h-1.07zM504.67,722.33h1.07v23.67h-1.07zM505.69,722.56h1.07v23.44h-1.07zM506.72,723.52h1.07v22.48h-1.07zM507.74,727.47h1.07v18.53h-1.07zM508.76,723.79h1.07v22.21h-1.07zM509.79,731.09h1.07v14.91h-1.07zM510.81,725.86h1.07v20.14h-1.07zM511.84,739.82h1.07v6.18h-1.07zM512.86,738.25h1.07v7.75h-1.07zM513.89,728.00h1.07v18.00h-1.07zM514.91,727.01h1.07v18.99h-1.07zM515.93,724.76h1.07v21.24h-1.07zM516.96,728.04h1.07v17.96h-1.07zM517.98,723.60h1.07v22.40h-1.07zM519.01,726.22h1.07v19.78h-1.07zM520.03,726.18h1.07v19.82h-1.07zM521.05,723.56h1.07v22.44h-1.07zM522.08,730.33h1.07v15.67h-1.07zM523.10,731.69h1.07v14.31h-1.07zM524.13,723.16h1.07v22.84h-1.07zM525.15,723.56h1.07v22.44h-1.07zM526.18,729.57h1.07v16.43h-1.07zM527.20,723.08h1.07v22.92h-1.07zM528.22,727.48h1.07v18.52h-1.07zM529.25,726.44h1.07v19.56h-1.07zM530.27,723.41h1.07v22.59h-1.07zM531.30,721.55h1.07v24.45h-1.07zM532.32,726.14h1.07v19.86h-1.07zM533.35,724.57h1.07v21.43h-1.07zM534.37,724.72h1.07v21.28h-1.07zM535.39,723.30h1.07v22.70h-1.07zM536.42,723.76h1.07v22.24h-1.07zM537.44,732.64h1.07v13.36h-1.07zM538.47,737.27h1.07v8.73h-1.07zM539.49,726.58h1.07v19.42h-1.07zM540.51,721.15h1.07v24.85h-1.07zM541.54,722.28h1.07v23.72h-1.07zM542.56,739.45h1.07v6.55h-1.07zM543.59,727.93h1.07v18.07h-1.07zM544.61,730.05h1.07v15.95h-1.07zM545.64,723.35h1.07v22.65h-1.07zM546.66,723.05h1.07v22.95h-1.07zM547.68,722.73h1.07v23.27h-1.07zM548.71,723.68h1.07v22.32h-1.07zM549.73,730.27h1.07v15.73h-1.07zM550.76,724.32h1.07v21.68h-1.07zM551.78,731.89h1.07v14.11h-1.07zM552.80,731.69h1.07v14.31h-1.07zM553.83,731.66h1.07v14.34h-1.07zM554.85,722.34h1.07v23.66h-1.07zM555.88,723.52h1.07v22.48h-1.07zM556.90,729.24h1.07v16.76h-1.07zM557.93,724.09h1.07v21.91h-1.07zM558.95,724.96h1.07v21.04h-1.07zM559.97,723.66h1.07v22.34h-1.07zM561.00,726.11h1.07v19.89h-1.07zM562.02,725.73h1.07v20.27h-1.07zM563.05,729.12h1.07v16.88h-1.07zM564.07,722.73h1.07v23.27h-1.07zM565.10,727.10h1.07v18.90h-1.07zM566.12,723.29h1.07v22.71h-1.07zM567.14,723.58h1.07v22.42h-1.07zM568.17,733.47h1.07v12.53h-1.07zM569.19,723.80h1.07v22.20h-1.07zM570.22,732.94h1.07v13.06h-1.07zM571.24,723.86h1.07v22.14h-1.07zM572.26,727.40h1.07v18.60h-1.07zM573.29,729.85h1.07v16.15h-1.07zM574.31,724.47h1.07v21.53h-1.07zM575.34,723.43h1.07v22.57h-1.07zM576.36,724.22h1.07v21.78h-1.07zM577.39,722.15h1.07v23.85h-1.07zM578.41,723.69h1.07v22.31h-1.07zM579.43,737.98h1.07v8.02h-1.07zM580.46,728.53h1.07v17.47h-1.07zM581.48,723.01h1.07v22.99h-1.07zM582.51,721.70h1.07v24.30h-1.07zM583.53,730.65h1.07v15.35h-1.07zM584.55,723.39h1.07v22.61h-1.07zM585.58,735.70h1.07v10.30h-1.07zM586.60,724.17h1.07v21.83h-1.07zM587.63,723.16h1.07v22.84h-1.07zM588.65,724.90h1.07v21.10h-1.07zM589.68,724.28h1.07v21.72h-1.07z" fill="#2f97ef"/>
<path d="M400.20,719.73h1.07v3.99h-1.07zM401.22,719.02h1.07v3.56h-1.07zM402.25,723.26h1.07v3.91h-1.07zM403.27,717.58h1.07v3.83h-1.07zM404.30,719.30h1.07v3.30h-1.07zM405.32,719.22h1.07v8.03h-1.07zM406.35,721.04h1.07v13.36h-1.07zM407.37,719.27h1.07v11.58h-1.07zM408.39,726.22h1.07v3.35h-1.07zM409.42,718.03h1.07v3.20h-1.07zM410.44,718.96h1.07v9.45h-1.07zM411.47,718.51h1.07v3.38h-1.07zM412.49,721.69h1.07v6.75h-1.07zM413.51,717.64h1.07v8.69h-1.07zM414.54,718.84h1.07v3.74h-1.07zM415.56,721.62h1.07v3.60h-1.07zM416.59,730.36h1.07v3.41h-1.07zM417.61,719.26h1.07v7.29h-1.07zM418.64,718.85h1.07v4.57h-1.07zM419.66,718.67h1.07v4.87h-1.07zM420.68,717.49h1.07v4.16h-1.07zM421.71,718.06h1.07v3.31h-1.07zM422.73,718.19h1.07v3.42h-1.07zM423.76,718.37h1.07v13.88h-1.07zM424.78,719.43h1.07v2.73h-1.07zM425.80,727.46h1.07v3.41h-1.07zM426.83,724.02h1.07v3.58h-1.07zM427.85,721.89h1.07v3.14h-1.07zM428.88,720.29h1.07v4.10h-1.07zM429.90,724.22h1.07v3.53h-1.07zM430.93,718.00h1.07v11.55h-1.07zM431.95,717.87h1.07v3.98h-1.07zM432.97,718.12h1.07v3.22h-1.07zM434.00,718.87h1.07v2.88h-1.07zM435.02,723.03h1.07v4.11h-1.07zM436.05,723.52h1.07v13.68h-1.07zM437.07,727.39h1.07v12.99h-1.07zM438.10,720.26h1.07v9.93h-1.07zM439.12,720.62h1.07v4.90h-1.07zM440.14,720.97h1.07v4.06h-1.07zM441.17,719.92h1.07v3.83h-1.07zM442.19,718.53h1.07v4.40h-1.07zM443.22,718.14h1.07v12.12h-1.07zM444.24,717.75h1.07v4.29h-1.07zM445.26,718.60h1.07v4.17h-1.07zM446.29,719.20h1.07v3.47h-1.07zM447.31,720.16h1.07v14.85h-1.07zM448.34,719.16h1.07v3.57h-1.07zM449.36,719.71h1.07v8.78h-1.07zM450.39,719.87h1.07v4.12h-1.07zM451.41,719.91h1.07v4.66h-1.07zM452.43,718.95h1.07v9.83h-1.07zM453.46,718.90h1.07v10.57h-1.07zM454.48,727.60h1.07v3.55h-1.07zM455.51,720.38h1.07v3.16h-1.07zM456.53,718.80h1.07v3.13h-1.07zM457.55,719.36h1.07v2.71h-1.07zM458.58,718.81h1.07v3.79h-1.07zM459.60,725.49h1.07v3.36h-1.07zM460.63,718.71h1.07v5.81h-1.07zM461.65,720.05h1.07v3.18h-1.07zM462.68,718.92h1.07v3.07h-1.07zM463.70,723.72h1.07v5.82h-1.07zM464.72,719.96h1.07v10.62h-1.07zM465.75,719.83h1.07v3.36h-1.07zM466.77,719.50h1.07v4.14h-1.07zM467.80,719.79h1.07v3.59h-1.07zM468.82,719.65h1.07v7.91h-1.07zM469.85,722.44h1.07v3.69h-1.07zM470.87,719.36h1.07v3.34h-1.07zM471.89,722.96h1.07v3.12h-1.07zM472.92,718.15h1.07v6.39h-1.07zM473.94,719.16h1.07v13.97h-1.07zM474.97,719.77h1.07v3.09h-1.07zM475.99,718.37h1.07v4.18h-1.07zM477.01,717.27h1.07v8.74h-1.07zM478.04,718.77h1.07v4.15h-1.07zM479.06,720.50h1.07v7.92h-1.07zM480.09,719.27h1.07v4.16h-1.07zM481.11,719.95h1.07v3.89h-1.07zM482.14,726.42h1.07v4.03h-1.07zM483.16,717.26h1.07v3.10h-1.07zM484.18,722.94h1.07v3.34h-1.07zM485.21,720.75h1.07v4.31h-1.07zM486.23,718.16h1.07v9.77h-1.07zM487.26,718.63h1.07v3.69h-1.07zM488.28,727.63h1.07v3.04h-1.07zM489.30,718.67h1.07v2.95h-1.07zM490.33,725.73h1.07v3.37h-1.07zM491.35,720.60h1.07v4.10h-1.07zM492.38,719.37h1.07v3.25h-1.07zM493.40,720.11h1.07v2.72h-1.07zM494.43,720.37h1.07v3.89h-1.07zM495.45,720.01h1.07v7.91h-1.07zM496.47,723.50h1.07v3.44h-1.07zM497.50,719.77h1.07v10.26h-1.07zM498.52,723.24h1.07v3.67h-1.07zM499.55,720.15h1.07v4.27h-1.07zM500.57,719.69h1.07v4.22h-1.07zM501.60,720.03h1.07v3.94h-1.07zM502.62,719.79h1.07v3.10h-1.07zM503.64,719.64h1.07v8.00h-1.07zM504.67,718.21h1.07v4.12h-1.07zM505.69,719.12h1.07v3.44h-1.07zM506.72,719.90h1.07v3.62h-1.07zM507.74,724.03h1.07v3.44h-1.07zM508.76,720.68h1.07v3.10h-1.07zM509.79,719.88h1.07v11.22h-1.07zM510.81,722.53h1.07v3.33h-1.07zM511.84,727.61h1.07v12.21h-1.07zM512.86,724.35h1.07v13.90h-1.07zM513.89,723.53h1.07v4.47h-1.07zM514.91,722.62h1.07v4.38h-1.07zM515.93,720.56h1.07v4.20h-1.07zM516.96,723.78h1.07v4.27h-1.07zM517.98,718.96h1.07v4.65h-1.07zM519.01,722.46h1.07v3.76h-1.07zM520.03,722.27h1.07v3.91h-1.07zM521.05,719.10h1.07v4.46h-1.07zM522.08,725.87h1.07v4.46h-1.07zM523.10,718.43h1.07v13.26h-1.07zM524.13,719.63h1.07v3.53h-1.07zM525.15,719.71h1.07v3.85h-1.07zM526.18,726.28h1.07v3.29h-1.07zM527.20,719.64h1.07v3.44h-1.07zM528.22,724.58h1.07v2.91h-1.07zM529.25,723.27h1.07v3.17h-1.07zM530.27,719.56h1.07v3.85h-1.07zM531.30,717.83h1.07v3.72h-1.07zM532.32,718.08h1.07v8.06h-1.07zM533.35,718.11h1.07v6.46h-1.07zM534.37,720.09h1.07v4.64h-1.07zM535.39,719.00h1.07v4.30h-1.07zM536.42,719.33h1.07v4.43h-1.07zM537.44,719.00h1.07v13.63h-1.07zM538.47,733.38h1.07v3.90h-1.07zM539.49,723.08h1.07v3.51h-1.07zM540.51,717.74h1.07v3.41h-1.07zM541.54,719.01h1.07v3.27h-1.07zM542.56,726.67h1.07v12.78h-1.07zM543.59,720.49h1.07v7.45h-1.07zM544.61,725.08h1.07v4.97h-1.07zM545.64,719.54h1.07v3.80h-1.07zM546.66,718.53h1.07v4.52h-1.07zM547.68,718.08h1.07v4.66h-1.07zM548.71,718.94h1.07v4.74h-1.07zM549.73,718.47h1.07v11.80h-1.07zM550.76,719.95h1.07v4.38h-1.07zM551.78,723.79h1.07v8.10h-1.07zM552.80,727.32h1.07v4.37h-1.07zM553.83,726.89h1.07v4.77h-1.07zM554.85,718.64h1.07v3.70h-1.07zM555.88,719.03h1.07v4.49h-1.07zM556.90,724.24h1.07v5.00h-1.07zM557.93,719.28h1.07v4.80h-1.07zM558.95,719.92h1.07v5.04h-1.07zM559.97,719.98h1.07v3.68h-1.07zM561.00,723.22h1.07v2.89h-1.07zM562.02,722.29h1.07v3.44h-1.07zM563.05,720.10h1.07v9.03h-1.07zM564.07,719.27h1.07v3.46h-1.07zM565.10,719.05h1.07v8.06h-1.07zM566.12,719.91h1.07v3.37h-1.07zM567.14,719.80h1.07v3.77h-1.07zM568.17,719.31h1.07v14.16h-1.07zM569.19,720.03h1.07v3.78h-1.07zM570.22,729.33h1.07v3.61h-1.07zM571.24,720.51h1.07v3.35h-1.07zM572.26,724.29h1.07v3.11h-1.07zM573.29,720.85h1.07v9.00h-1.07zM574.31,720.82h1.07v3.64h-1.07zM575.34,719.58h1.07v3.86h-1.07zM576.36,720.17h1.07v4.05h-1.07zM577.39,718.56h1.07v3.59h-1.07zM578.41,719.27h1.07v4.42h-1.07zM579.43,725.20h1.07v12.79h-1.07zM580.46,724.39h1.07v4.14h-1.07zM581.48,719.02h1.07v3.99h-1.07zM582.51,718.46h1.07v3.24h-1.07zM583.53,719.25h1.07v11.40h-1.07zM584.55,718.72h1.07v4.67h-1.07zM585.58,723.15h1.07v12.55h-1.07zM586.60,719.54h1.07v4.63h-1.07zM587.63,719.09h1.07v4.07h-1.07zM588.65,720.44h1.07v4.46h-1.07zM589.68,719.69h1.07v4.58h-1.07z" fill="#4852b4"/>
<path d="M400.20,709.53h1.07v10.20h-1.07zM401.22,709.31h1.07v9.71h-1.07zM402.25,708.90h1.07v14.36h-1.07zM403.27,707.64h1.07v9.95h-1.07zM404.30,709.05h1.07v10.25h-1.07zM405.32,709.15h1.07v10.07h-1.07zM406.35,709.96h1.07v11.07h-1.07zM407.37,709.36h1.07v9.91h-1.07zM408.39,707.82h1.07v18.40h-1.07zM409.42,707.87h1.07v10.16h-1.07zM410.44,708.23h1.07v10.73h-1.07zM411.47,707.74h1.07v10.77h-1.07zM412.49,710.85h1.07v10.84h-1.07zM413.51,707.73h1.07v9.91h-1.07zM414.54,708.80h1.07v10.04h-1.07zM415.56,708.18h1.07v13.44h-1.07zM416.59,711.56h1.07v18.80h-1.07zM417.61,708.88h1.07v10.38h-1.07zM418.64,707.83h1.07v11.03h-1.07zM419.66,708.65h1.07v10.01h-1.07zM420.68,707.68h1.07v9.81h-1.07zM421.71,708.55h1.07v9.51h-1.07zM422.73,708.62h1.07v9.57h-1.07zM423.76,707.55h1.07v10.82h-1.07zM424.78,709.35h1.07v10.08h-1.07zM425.80,708.20h1.07v19.26h-1.07zM426.83,712.46h1.07v11.56h-1.07zM427.85,710.24h1.07v11.66h-1.07zM428.88,708.00h1.07v12.29h-1.07zM429.90,713.00h1.07v11.22h-1.07zM430.93,707.63h1.07v10.37h-1.07zM431.95,708.15h1.07v9.72h-1.07zM432.97,708.12h1.07v10.00h-1.07zM434.00,707.94h1.07v10.93h-1.07zM435.02,708.09h1.07v14.94h-1.07zM436.05,712.54h1.07v10.98h-1.07zM437.07,716.20h1.07v11.20h-1.07zM438.10,708.67h1.07v11.59h-1.07zM439.12,708.96h1.07v11.66h-1.07zM440.14,709.66h1.07v11.31h-1.07zM441.17,708.16h1.07v11.76h-1.07zM442.19,707.50h1.07v11.04h-1.07zM443.22,707.77h1.07v10.37h-1.07zM444.24,708.23h1.07v9.52h-1.07zM445.26,708.52h1.07v10.08h-1.07zM446.29,708.63h1.07v10.57h-1.07zM447.31,708.49h1.07v11.67h-1.07zM448.34,707.69h1.07v11.47h-1.07zM449.36,707.71h1.07v12.00h-1.07zM450.39,707.70h1.07v12.17h-1.07zM451.41,707.30h1.07v12.61h-1.07zM452.43,707.37h1.07v11.58h-1.07zM453.46,707.33h1.07v11.57h-1.07zM454.48,715.81h1.07v11.78h-1.07zM455.51,708.34h1.07v12.05h-1.07zM456.53,707.72h1.07v11.08h-1.07zM457.55,708.05h1.07v11.31h-1.07zM458.58,707.59h1.07v11.23h-1.07zM459.60,714.13h1.07v11.35h-1.07zM460.63,708.05h1.07v10.66h-1.07zM461.65,708.49h1.07v11.56h-1.07zM462.68,708.16h1.07v10.76h-1.07zM463.70,712.44h1.07v11.28h-1.07zM464.72,708.56h1.07v11.40h-1.07zM465.75,708.22h1.07v11.61h-1.07zM466.77,708.50h1.07v10.99h-1.07zM467.80,708.98h1.07v10.81h-1.07zM468.82,708.29h1.07v11.36h-1.07zM469.85,712.14h1.07v10.30h-1.07zM470.87,707.88h1.07v11.48h-1.07zM471.89,711.60h1.07v11.36h-1.07zM472.92,708.02h1.07v10.13h-1.07zM473.94,708.46h1.07v10.71h-1.07zM474.97,709.41h1.07v10.36h-1.07zM475.99,708.59h1.07v9.78h-1.07zM477.01,707.53h1.07v9.74h-1.07zM478.04,707.89h1.07v10.88h-1.07zM479.06,709.10h1.07v11.40h-1.07zM480.09,708.08h1.07v11.19h-1.07zM481.11,708.16h1.07v11.79h-1.07zM482.14,707.83h1.07v18.59h-1.07zM483.16,706.87h1.07v10.39h-1.07zM484.18,706.97h1.07v15.97h-1.07zM485.21,709.25h1.07v11.51h-1.07zM486.23,707.35h1.07v10.81h-1.07zM487.26,708.12h1.07v10.51h-1.07zM488.28,708.03h1.07v19.60h-1.07zM489.30,708.96h1.07v9.71h-1.07zM490.33,708.95h1.07v16.78h-1.07zM491.35,709.03h1.07v11.57h-1.07zM492.38,708.45h1.07v10.92h-1.07zM493.40,708.54h1.07v11.57h-1.07zM494.43,708.86h1.07v11.51h-1.07zM495.45,709.00h1.07v11.01h-1.07zM496.47,709.02h1.07v14.48h-1.07zM497.50,708.91h1.07v10.85h-1.07zM498.52,713.03h1.07v10.21h-1.07zM499.55,709.09h1.07v11.05h-1.07zM500.57,707.73h1.07v11.97h-1.07zM501.60,707.73h1.07v12.30h-1.07zM502.62,708.77h1.07v11.02h-1.07zM503.64,708.89h1.07v10.76h-1.07zM504.67,708.38h1.07v9.83h-1.07zM505.69,708.71h1.07v10.41h-1.07zM506.72,708.59h1.07v11.31h-1.07zM507.74,708.53h1.07v15.50h-1.07zM508.76,708.96h1.07v11.73h-1.07zM509.79,709.29h1.07v10.59h-1.07zM510.81,711.52h1.07v11.01h-1.07zM511.84,708.69h1.07v18.92h-1.07zM512.86,712.76h1.07v11.59h-1.07zM513.89,709.20h1.07v14.32h-1.07zM514.91,708.71h1.07v13.91h-1.07zM515.93,708.95h1.07v11.61h-1.07zM516.96,711.76h1.07v12.02h-1.07zM517.98,707.35h1.07v11.60h-1.07zM519.01,710.79h1.07v11.67h-1.07zM520.03,708.49h1.07v13.78h-1.07zM521.05,708.63h1.07v10.47h-1.07zM522.08,716.04h1.07v9.83h-1.07zM523.10,707.99h1.07v10.44h-1.07zM524.13,708.18h1.07v11.45h-1.07zM525.15,707.72h1.07v11.99h-1.07zM526.18,715.30h1.07v10.98h-1.07zM527.20,708.09h1.07v11.55h-1.07zM528.22,712.72h1.07v11.86h-1.07zM529.25,708.53h1.07v14.73h-1.07zM530.27,708.47h1.07v11.09h-1.07zM531.30,707.73h1.07v10.10h-1.07zM532.32,708.64h1.07v9.43h-1.07zM533.35,708.60h1.07v9.51h-1.07zM534.37,709.31h1.07v10.78h-1.07zM535.39,708.26h1.07v10.74h-1.07zM536.42,708.99h1.07v10.34h-1.07zM537.44,709.27h1.07v9.73h-1.07zM538.47,713.98h1.07v19.40h-1.07zM539.49,708.18h1.07v14.90h-1.07zM540.51,708.24h1.07v9.49h-1.07zM541.54,708.47h1.07v10.54h-1.07zM542.56,715.72h1.07v10.95h-1.07zM543.59,708.91h1.07v11.58h-1.07zM544.61,714.08h1.07v11.00h-1.07zM545.64,709.35h1.07v10.20h-1.07zM546.66,708.68h1.07v9.86h-1.07zM547.68,708.16h1.07v9.91h-1.07zM548.71,708.51h1.07v10.43h-1.07zM549.73,708.59h1.07v9.88h-1.07zM550.76,709.24h1.07v10.71h-1.07zM551.78,712.66h1.07v11.13h-1.07zM552.80,716.56h1.07v10.76h-1.07zM553.83,715.85h1.07v11.04h-1.07zM554.85,707.64h1.07v11.00h-1.07zM555.88,707.72h1.07v11.31h-1.07zM556.90,713.11h1.07v11.13h-1.07zM557.93,708.36h1.07v10.92h-1.07zM558.95,708.17h1.07v11.75h-1.07zM559.97,707.98h1.07v12.00h-1.07zM561.00,711.31h1.07v11.90h-1.07zM562.02,707.97h1.07v14.32h-1.07zM563.05,707.42h1.07v12.68h-1.07zM564.07,706.99h1.07v12.28h-1.07zM565.10,707.63h1.07v11.41h-1.07zM566.12,708.63h1.07v11.28h-1.07zM567.14,708.65h1.07v11.15h-1.07zM568.17,708.72h1.07v10.59h-1.07zM569.19,709.10h1.07v10.92h-1.07zM570.22,709.76h1.07v19.56h-1.07zM571.24,708.98h1.07v11.54h-1.07zM572.26,709.58h1.07v14.71h-1.07zM573.29,709.13h1.07v11.72h-1.07zM574.31,708.73h1.07v12.10h-1.07zM575.34,708.88h1.07v10.70h-1.07zM576.36,709.42h1.07v10.75h-1.07zM577.39,708.20h1.07v10.36h-1.07zM578.41,708.52h1.07v10.75h-1.07zM579.43,708.10h1.07v17.09h-1.07zM580.46,708.05h1.07v16.34h-1.07zM581.48,708.34h1.07v10.68h-1.07zM582.51,707.98h1.07v10.49h-1.07zM583.53,708.00h1.07v11.24h-1.07zM584.55,708.71h1.07v10.01h-1.07zM585.58,708.79h1.07v14.36h-1.07zM586.60,708.64h1.07v10.90h-1.07zM587.63,708.48h1.07v10.60h-1.07zM588.65,710.04h1.07v10.39h-1.07zM589.68,708.15h1.07v11.54h-1.07z" fill="#f0493e"/>
<path d="M400.20,705.72h1.07v3.81h-1.07zM401.22,705.15h1.07v4.16h-1.07zM402.25,704.77h1.07v4.12h-1.07zM403.27,704.26h1.07v3.37h-1.07zM404.30,705.35h1.07v3.70h-1.07zM405.32,705.84h1.07v3.31h-1.07zM406.35,706.04h1.07v3.92h-1.07zM407.37,705.63h1.07v3.73h-1.07zM408.39,704.56h1.07v3.27h-1.07zM409.42,704.30h1.07v3.57h-1.07zM410.44,705.04h1.07v3.19h-1.07zM411.47,704.26h1.07v3.48h-1.07zM412.49,704.69h1.07v6.16h-1.07zM413.51,704.12h1.07v3.61h-1.07zM414.54,705.27h1.07v3.53h-1.07zM415.56,704.53h1.07v3.65h-1.07zM416.59,704.19h1.07v7.38h-1.07zM417.61,704.99h1.07v3.89h-1.07zM418.64,704.59h1.07v3.24h-1.07zM419.66,705.47h1.07v3.19h-1.07zM420.68,704.76h1.07v2.92h-1.07zM421.71,705.48h1.07v3.08h-1.07zM422.73,705.39h1.07v3.22h-1.07zM423.76,704.37h1.07v3.18h-1.07zM424.78,706.06h1.07v3.29h-1.07zM425.80,704.97h1.07v3.23h-1.07zM426.83,704.87h1.07v7.59h-1.07zM427.85,706.76h1.07v3.47h-1.07zM428.88,704.40h1.07v3.60h-1.07zM429.90,705.27h1.07v7.73h-1.07zM430.93,704.68h1.07v2.95h-1.07zM431.95,705.18h1.07v2.97h-1.07zM432.97,704.79h1.07v3.33h-1.07zM434.00,704.27h1.07v3.67h-1.07zM435.02,704.56h1.07v3.53h-1.07zM436.05,709.47h1.07v3.07h-1.07zM437.07,704.95h1.07v11.25h-1.07zM438.10,705.19h1.07v3.48h-1.07zM439.12,705.52h1.07v3.44h-1.07zM440.14,705.65h1.07v4.01h-1.07zM441.17,704.51h1.07v3.65h-1.07zM442.19,704.30h1.07v3.20h-1.07zM443.22,704.44h1.07v3.33h-1.07zM444.24,704.36h1.07v3.87h-1.07zM445.26,705.32h1.07v3.20h-1.07zM446.29,705.81h1.07v2.82h-1.07zM447.31,704.96h1.07v3.53h-1.07zM448.34,704.63h1.07v3.05h-1.07zM449.36,704.65h1.07v3.06h-1.07zM450.39,704.64h1.07v3.06h-1.07zM451.41,704.42h1.07v2.88h-1.07zM452.43,704.63h1.07v2.74h-1.07zM453.46,704.71h1.07v2.61h-1.07zM454.48,705.60h1.07v10.21h-1.07zM455.51,705.23h1.07v3.11h-1.07zM456.53,704.41h1.07v3.31h-1.07zM457.55,705.08h1.07v2.97h-1.07zM458.58,704.35h1.07v3.23h-1.07zM459.60,704.34h1.07v9.79h-1.07zM460.63,704.44h1.07v3.61h-1.07zM461.65,704.70h1.07v3.80h-1.07zM462.68,704.60h1.07v3.56h-1.07zM463.70,704.92h1.07v7.52h-1.07zM464.72,704.70h1.07v3.85h-1.07zM465.75,704.54h1.07v3.68h-1.07zM466.77,705.04h1.07v3.46h-1.07zM467.80,705.23h1.07v3.75h-1.07zM468.82,704.66h1.07v3.63h-1.07zM469.85,705.02h1.07v7.12h-1.07zM470.87,704.32h1.07v3.56h-1.07zM471.89,708.33h1.07v3.27h-1.07zM472.92,705.06h1.07v2.96h-1.07zM473.94,705.24h1.07v3.22h-1.07zM474.97,705.64h1.07v3.77h-1.07zM475.99,705.10h1.07v3.49h-1.07zM477.01,704.50h1.07v3.02h-1.07zM478.04,704.37h1.07v3.52h-1.07zM479.06,705.34h1.07v3.76h-1.07zM480.09,704.71h1.07v3.36h-1.07zM481.11,705.04h1.07v3.12h-1.07zM482.14,704.38h1.07v3.45h-1.07zM483.16,703.80h1.07v3.07h-1.07zM484.18,703.71h1.07v3.26h-1.07zM485.21,705.86h1.07v3.38h-1.07zM486.23,704.22h1.07v3.13h-1.07zM487.26,704.65h1.07v3.47h-1.07zM488.28,704.10h1.07v3.94h-1.07zM489.30,704.79h1.07v4.17h-1.07zM490.33,704.84h1.07v4.11h-1.07zM491.35,705.57h1.07v3.47h-1.07zM492.38,704.54h1.07v3.92h-1.07zM493.40,704.70h1.07v3.85h-1.07zM494.43,705.38h1.07v3.49h-1.07zM495.45,705.07h1.07v3.94h-1.07zM496.47,705.64h1.07v3.38h-1.07zM497.50,705.12h1.07v3.80h-1.07zM498.52,709.54h1.07v3.48h-1.07zM499.55,705.14h1.07v3.96h-1.07zM500.57,704.47h1.07v3.26h-1.07zM501.60,704.55h1.07v3.19h-1.07zM502.62,704.92h1.07v3.85h-1.07zM503.64,705.62h1.07v3.27h-1.07zM504.67,705.27h1.07v3.11h-1.07zM505.69,704.94h1.07v3.77h-1.07zM506.72,704.50h1.07v4.09h-1.07zM507.74,704.91h1.07v3.63h-1.07zM508.76,705.33h1.07v3.63h-1.07zM509.79,705.81h1.07v3.48h-1.07zM510.81,708.23h1.07v3.29h-1.07zM511.84,704.83h1.07v3.86h-1.07zM512.86,705.57h1.07v7.18h-1.07zM513.89,705.70h1.07v3.50h-1.07zM514.91,704.70h1.07v4.01h-1.07zM515.93,704.71h1.07v4.24h-1.07zM516.96,708.25h1.07v3.51h-1.07zM517.98,704.30h1.07v3.05h-1.07zM519.01,707.77h1.07v3.02h-1.07zM520.03,704.76h1.07v3.72h-1.07zM521.05,704.54h1.07v4.08h-1.07zM522.08,704.89h1.07v11.15h-1.07zM523.10,704.30h1.07v3.69h-1.07zM524.13,704.40h1.07v3.78h-1.07zM525.15,704.32h1.07v3.41h-1.07zM526.18,704.31h1.07v10.99h-1.07zM527.20,704.71h1.07v3.37h-1.07zM528.22,705.13h1.07v7.59h-1.07zM529.25,705.10h1.07v3.43h-1.07zM530.27,705.17h1.07v3.30h-1.07zM531.30,704.34h1.07v3.39h-1.07zM532.32,705.25h1.07v3.39h-1.07zM533.35,705.16h1.07v3.43h-1.07zM534.37,706.18h1.07v3.13h-1.07zM535.39,704.97h1.07v3.29h-1.07zM536.42,705.57h1.07v3.42h-1.07zM537.44,705.93h1.07v3.34h-1.07zM538.47,704.99h1.07v8.99h-1.07zM539.49,704.81h1.07v3.37h-1.07zM540.51,704.85h1.07v3.39h-1.07zM541.54,704.78h1.07v3.68h-1.07zM542.56,704.77h1.07v10.96h-1.07zM543.59,705.39h1.07v3.51h-1.07zM544.61,705.12h1.07v8.96h-1.07zM545.64,705.60h1.07v3.75h-1.07zM546.66,704.63h1.07v4.05h-1.07zM547.68,704.82h1.07v3.34h-1.07zM548.71,705.50h1.07v3.01h-1.07zM549.73,705.40h1.07v3.19h-1.07zM550.76,705.58h1.07v3.66h-1.07zM551.78,708.87h1.07v3.79h-1.07zM552.80,705.45h1.07v11.11h-1.07zM553.83,705.12h1.07v10.74h-1.07zM554.85,704.52h1.07v3.12h-1.07zM555.88,704.91h1.07v2.81h-1.07zM556.90,704.33h1.07v8.78h-1.07zM557.93,704.46h1.07v3.90h-1.07zM558.95,704.22h1.07v3.95h-1.07zM559.97,704.09h1.07v3.89h-1.07zM561.00,704.49h1.07v6.83h-1.07zM562.02,704.17h1.07v3.79h-1.07zM563.05,704.04h1.07v3.38h-1.07zM564.07,703.93h1.07v3.05h-1.07zM565.10,704.42h1.07v3.21h-1.07zM566.12,705.10h1.07v3.53h-1.07zM567.14,704.87h1.07v3.78h-1.07zM568.17,704.67h1.07v4.05h-1.07zM569.19,705.57h1.07v3.53h-1.07zM570.22,705.81h1.07v3.96h-1.07zM571.24,705.33h1.07v3.65h-1.07zM572.26,705.77h1.07v3.81h-1.07zM573.29,705.62h1.07v3.51h-1.07zM574.31,704.91h1.07v3.81h-1.07zM575.34,705.64h1.07v3.24h-1.07zM576.36,705.81h1.07v3.61h-1.07zM577.39,704.72h1.07v3.48h-1.07zM578.41,705.09h1.07v3.43h-1.07zM579.43,705.05h1.07v3.05h-1.07zM580.46,704.67h1.07v3.37h-1.07zM581.48,704.42h1.07v3.92h-1.07zM582.51,704.28h1.07v3.70h-1.07zM583.53,704.27h1.07v3.73h-1.07zM584.55,705.07h1.07v3.64h-1.07zM585.58,705.21h1.07v3.58h-1.07zM586.60,705.41h1.07v3.23h-1.07zM587.63,705.33h1.07v3.15h-1.07zM588.65,707.17h1.07v2.87h-1.07zM589.68,705.04h1.07v3.11h-1.07z" fill="#fcbd1a"/>
<path d="M400.20,699.62h1.07v6.10h-1.07zM401.22,699.70h1.07v5.45h-1.07zM402.25,699.69h1.07v5.09h-1.07zM403.27,699.70h1.07v4.56h-1.07zM404.30,699.72h1.07v5.63h-1.07zM405.32,699.70h1.07v6.13h-1.07zM406.35,699.50h1.07v6.54h-1.07zM407.37,699.38h1.07v6.25h-1.07zM408.39,699.34h1.07v5.22h-1.07zM409.42,699.48h1.07v4.83h-1.07zM410.44,699.47h1.07v5.57h-1.07zM411.47,699.43h1.07v4.83h-1.07zM412.49,699.54h1.07v5.15h-1.07zM413.51,699.43h1.07v4.68h-1.07zM414.54,699.53h1.07v5.74h-1.07zM415.56,699.49h1.07v5.05h-1.07zM416.59,699.53h1.07v4.66h-1.07zM417.61,699.37h1.07v5.62h-1.07zM418.64,699.52h1.07v5.07h-1.07zM419.66,699.50h1.07v5.96h-1.07zM420.68,699.42h1.07v5.34h-1.07zM421.71,699.43h1.07v6.04h-1.07zM422.73,699.33h1.07v6.06h-1.07zM423.76,699.31h1.07v5.06h-1.07zM424.78,700.48h1.07v5.59h-1.07zM425.80,699.35h1.07v5.61h-1.07zM426.83,699.29h1.07v5.58h-1.07zM427.85,701.21h1.07v5.56h-1.07zM428.88,699.35h1.07v5.05h-1.07zM429.90,699.41h1.07v5.86h-1.07zM430.93,699.49h1.07v5.18h-1.07zM431.95,699.39h1.07v5.79h-1.07zM432.97,699.51h1.07v5.28h-1.07zM434.00,699.60h1.07v4.68h-1.07zM435.02,699.69h1.07v4.87h-1.07zM436.05,699.53h1.07v9.93h-1.07zM437.07,699.61h1.07v5.34h-1.07zM438.10,699.52h1.07v5.67h-1.07zM439.12,699.57h1.07v5.95h-1.07zM440.14,699.88h1.07v5.77h-1.07zM441.17,699.42h1.07v5.09h-1.07zM442.19,699.33h1.07v4.97h-1.07zM443.22,699.46h1.07v4.98h-1.07zM444.24,699.39h1.07v4.97h-1.07zM445.26,699.44h1.07v5.88h-1.07zM446.29,699.60h1.07v6.21h-1.07zM447.31,699.42h1.07v5.54h-1.07zM448.34,699.49h1.07v5.14h-1.07zM449.36,699.38h1.07v5.27h-1.07zM450.39,699.54h1.07v5.10h-1.07zM451.41,699.50h1.07v4.92h-1.07zM452.43,699.56h1.07v5.07h-1.07zM453.46,699.44h1.07v5.27h-1.07zM454.48,699.54h1.07v6.06h-1.07zM455.51,699.54h1.07v5.68h-1.07zM456.53,699.49h1.07v4.92h-1.07zM457.55,699.42h1.07v5.66h-1.07zM458.58,699.46h1.07v4.90h-1.07zM459.60,699.38h1.07v4.96h-1.07zM460.63,699.47h1.07v4.97h-1.07zM461.65,699.46h1.07v5.24h-1.07zM462.68,699.38h1.07v5.22h-1.07zM463.70,699.30h1.07v5.62h-1.07zM464.72,699.47h1.07v5.23h-1.07zM465.75,699.37h1.07v5.17h-1.07zM466.77,699.54h1.07v5.50h-1.07zM467.80,699.64h1.07v5.59h-1.07zM468.82,699.57h1.07v5.10h-1.07zM469.85,699.61h1.07v5.41h-1.07zM470.87,699.53h1.07v4.79h-1.07zM471.89,699.49h1.07v8.84h-1.07zM472.92,699.38h1.07v5.68h-1.07zM473.94,699.33h1.07v5.91h-1.07zM474.97,699.45h1.07v6.19h-1.07zM475.99,699.35h1.07v5.75h-1.07zM477.01,699.46h1.07v5.04h-1.07zM478.04,699.34h1.07v5.03h-1.07zM479.06,699.56h1.07v5.78h-1.07zM480.09,699.56h1.07v5.16h-1.07zM481.11,699.62h1.07v5.42h-1.07zM482.14,699.66h1.07v4.72h-1.07zM483.16,699.50h1.07v4.30h-1.07zM484.18,699.38h1.07v4.33h-1.07zM485.21,701.21h1.07v4.66h-1.07zM486.23,699.32h1.07v4.90h-1.07zM487.26,699.28h1.07v5.37h-1.07zM488.28,699.30h1.07v4.79h-1.07zM489.30,699.43h1.07v5.36h-1.07zM490.33,699.55h1.07v5.30h-1.07zM491.35,699.49h1.07v6.08h-1.07zM492.38,699.48h1.07v5.05h-1.07zM493.40,699.59h1.07v5.10h-1.07zM494.43,699.65h1.07v5.73h-1.07zM495.45,699.60h1.07v5.47h-1.07zM496.47,699.63h1.07v6.01h-1.07zM497.50,699.53h1.07v5.58h-1.07zM498.52,699.40h1.07v10.15h-1.07zM499.55,699.52h1.07v5.62h-1.07zM500.57,699.56h1.07v4.91h-1.07zM501.60,699.45h1.07v5.09h-1.07zM502.62,699.63h1.07v5.30h-1.07zM503.64,699.55h1.07v6.07h-1.07zM504.67,699.45h1.07v5.82h-1.07zM505.69,699.61h1.07v5.34h-1.07zM506.72,699.68h1.07v4.83h-1.07zM507.74,699.64h1.07v5.27h-1.07zM508.76,699.59h1.07v5.74h-1.07zM509.79,699.69h1.07v6.12h-1.07zM510.81,699.74h1.07v8.49h-1.07zM511.84,699.72h1.07v5.11h-1.07zM512.86,699.77h1.07v5.80h-1.07zM513.89,699.59h1.07v6.11h-1.07zM514.91,699.46h1.07v5.23h-1.07zM515.93,699.55h1.07v5.16h-1.07zM516.96,699.54h1.07v8.71h-1.07zM517.98,699.39h1.07v4.91h-1.07zM519.01,699.38h1.07v8.39h-1.07zM520.03,699.39h1.07v5.37h-1.07zM521.05,699.52h1.07v5.02h-1.07zM522.08,699.40h1.07v5.49h-1.07zM523.10,699.42h1.07v4.88h-1.07zM524.13,699.36h1.07v5.03h-1.07zM525.15,699.49h1.07v4.83h-1.07zM526.18,699.64h1.07v4.67h-1.07zM527.20,699.55h1.07v5.17h-1.07zM528.22,699.47h1.07v5.65h-1.07zM529.25,699.50h1.07v5.61h-1.07zM530.27,699.46h1.07v5.71h-1.07zM531.30,699.42h1.07v4.92h-1.07zM532.32,699.58h1.07v5.68h-1.07zM533.35,699.49h1.07v5.68h-1.07zM534.37,700.03h1.07v6.15h-1.07zM535.39,699.56h1.07v5.41h-1.07zM536.42,699.44h1.07v6.13h-1.07zM537.44,699.39h1.07v6.55h-1.07zM538.47,699.43h1.07v5.56h-1.07zM539.49,699.55h1.07v5.26h-1.07zM540.51,699.40h1.07v5.45h-1.07zM541.54,699.30h1.07v5.48h-1.07zM542.56,699.35h1.07v5.42h-1.07zM543.59,699.44h1.07v5.96h-1.07zM544.61,699.41h1.07v5.70h-1.07zM545.64,699.55h1.07v6.05h-1.07zM546.66,699.46h1.07v5.16h-1.07zM547.68,699.46h1.07v5.36h-1.07zM548.71,699.54h1.07v5.96h-1.07zM549.73,699.62h1.07v5.78h-1.07zM550.76,699.46h1.07v6.11h-1.07zM551.78,699.57h1.07v9.30h-1.07zM552.80,699.64h1.07v5.81h-1.07zM553.83,699.52h1.07v5.60h-1.07zM554.85,699.37h1.07v5.15h-1.07zM555.88,699.55h1.07v5.36h-1.07zM556.90,699.53h1.07v4.81h-1.07zM557.93,699.65h1.07v4.81h-1.07zM558.95,699.62h1.07v4.60h-1.07zM559.97,699.58h1.07v4.52h-1.07zM561.00,699.45h1.07v5.03h-1.07zM562.02,699.63h1.07v4.55h-1.07zM563.05,699.55h1.07v4.49h-1.07zM564.07,699.52h1.07v4.42h-1.07zM565.10,699.50h1.07v4.92h-1.07zM566.12,699.40h1.07v5.69h-1.07zM567.14,699.46h1.07v5.42h-1.07zM568.17,699.59h1.07v5.08h-1.07zM569.19,699.68h1.07v5.89h-1.07zM570.22,699.47h1.07v6.34h-1.07zM571.24,699.50h1.07v5.83h-1.07zM572.26,699.44h1.07v6.33h-1.07zM573.29,699.60h1.07v6.02h-1.07zM574.31,699.61h1.07v5.30h-1.07zM575.34,699.57h1.07v6.08h-1.07zM576.36,699.68h1.07v6.13h-1.07zM577.39,699.51h1.07v5.21h-1.07zM578.41,699.42h1.07v5.67h-1.07zM579.43,699.56h1.07v5.49h-1.07zM580.46,699.47h1.07v5.20h-1.07zM581.48,699.62h1.07v4.80h-1.07zM582.51,699.54h1.07v4.74h-1.07zM583.53,699.42h1.07v4.85h-1.07zM584.55,699.60h1.07v5.47h-1.07zM585.58,699.48h1.07v5.72h-1.07zM586.60,699.37h1.07v6.04h-1.07zM587.63,699.51h1.07v5.82h-1.07zM588.65,699.55h1.07v7.63h-1.07zM589.68,699.39h1.07v5.66h-1.07z" fill="#4caf50"/>
<path d="M400.20,698.90h1.07v0.72h-1.07zM401.22,698.90h1.07v0.80h-1.07zM402.25,698.90h1.07v0.79h-1.07zM403.27,698.90h1.07v0.80h-1.07zM404.30,698.90h1.07v0.82h-1.07zM405.32,698.90h1.07v0.80h-1.07zM406.35,698.90h1.07v0.60h-1.07zM407.37,698.90h1.07v0.48h-1.07zM408.39,698.90h1.07v0.44h-1.07zM409.42,698.90h1.07v0.58h-1.07zM410.44,698.90h1.07v0.57h-1.07zM411.47,698.90h1.07v0.53h-1.07zM412.49,698.90h1.07v0.64h-1.07zM413.51,698.90h1.07v0.53h-1.07zM414.54,698.90h1.07v0.63h-1.07zM415.56,698.90h1.07v0.59h-1.07zM416.59,698.90h1.07v0.63h-1.07zM417.61,698.90h1.07v0.47h-1.07zM418.64,698.90h1.07v0.62h-1.07zM419.66,698.90h1.07v0.60h-1.07zM420.68,698.90h1.07v0.52h-1.07zM421.71,698.90h1.07v0.53h-1.07zM422.73,698.90h1.07v0.43h-1.07zM423.76,698.90h1.07v0.41h-1.07zM424.78,698.90h1.07v1.58h-1.07zM425.80,698.90h1.07v0.45h-1.07zM426.83,698.90h1.07v0.39h-1.07zM427.85,698.90h1.07v2.31h-1.07zM428.88,698.90h1.07v0.45h-1.07zM429.90,698.90h1.07v0.51h-1.07zM430.93,698.90h1.07v0.59h-1.07zM431.95,698.90h1.07v0.49h-1.07zM432.97,698.90h1.07v0.61h-1.07zM434.00,698.90h1.07v0.70h-1.07zM435.02,698.90h1.07v0.79h-1.07zM436.05,698.90h1.07v0.63h-1.07zM437.07,698.90h1.07v0.71h-1.07zM438.10,698.90h1.07v0.62h-1.07zM439.12,698.90h1.07v0.67h-1.07zM440.14,698.90h1.07v0.98h-1.07zM441.17,698.90h1.07v0.52h-1.07zM442.19,698.90h1.07v0.43h-1.07zM443.22,698.90h1.07v0.56h-1.07zM444.24,698.90h1.07v0.49h-1.07zM445.26,698.90h1.07v0.54h-1.07zM446.29,698.90h1.07v0.70h-1.07zM447.31,698.90h1.07v0.52h-1.07zM448.34,698.90h1.07v0.59h-1.07zM449.36,698.90h1.07v0.48h-1.07zM450.39,698.90h1.07v0.64h-1.07zM451.41,698.90h1.07v0.60h-1.07zM452.43,698.90h1.07v0.66h-1.07zM453.46,698.90h1.07v0.54h-1.07zM454.48,698.90h1.07v0.64h-1.07zM455.51,698.90h1.07v0.64h-1.07zM456.53,698.90h1.07v0.59h-1.07zM457.55,698.90h1.07v0.52h-1.07zM458.58,698.90h1.07v0.56h-1.07zM459.60,698.90h1.07v0.48h-1.07zM460.63,698.90h1.07v0.57h-1.07zM461.65,698.90h1.07v0.56h-1.07zM462.68,698.90h1.07v0.48h-1.07zM463.70,698.90h1.07v0.40h-1.07zM464.72,698.90h1.07v0.57h-1.07zM465.75,698.90h1.07v0.47h-1.07zM466.77,698.90h1.07v0.64h-1.07zM467.80,698.90h1.07v0.74h-1.07zM468.82,698.90h1.07v0.67h-1.07zM469.85,698.90h1.07v0.71h-1.07zM470.87,698.90h1.07v0.63h-1.07zM471.89,698.90h1.07v0.59h-1.07zM472.92,698.90h1.07v0.48h-1.07zM473.94,698.90h1.07v0.43h-1.07zM474.97,698.90h1.07v0.55h-1.07zM475.99,698.90h1.07v0.45h-1.07zM477.01,698.90h1.07v0.56h-1.07zM478.04,698.90h1.07v0.44h-1.07zM479.06,698.90h1.07v0.66h-1.07zM480.09,698.90h1.07v0.66h-1.07zM481.11,698.90h1.07v0.72h-1.07zM482.14,698.90h1.07v0.76h-1.07zM483.16,698.90h1.07v0.60h-1.07zM484.18,698.90h1.07v0.48h-1.07zM485.21,698.90h1.07v2.31h-1.07zM486.23,698.90h1.07v0.42h-1.07zM487.26,698.90h1.07v0.38h-1.07zM488.28,698.90h1.07v0.40h-1.07zM489.30,698.90h1.07v0.53h-1.07zM490.33,698.90h1.07v0.65h-1.07zM491.35,698.90h1.07v0.59h-1.07zM492.38,698.90h1.07v0.58h-1.07zM493.40,698.90h1.07v0.69h-1.07zM494.43,698.90h1.07v0.75h-1.07zM495.45,698.90h1.07v0.70h-1.07zM496.47,698.90h1.07v0.73h-1.07zM497.50,698.90h1.07v0.63h-1.07zM498.52,698.90h1.07v0.50h-1.07zM499.55,698.90h1.07v0.62h-1.07zM500.57,698.90h1.07v0.66h-1.07zM501.60,698.90h1.07v0.55h-1.07zM502.62,698.90h1.07v0.73h-1.07zM503.64,698.90h1.07v0.65h-1.07zM504.67,698.90h1.07v0.55h-1.07zM505.69,698.90h1.07v0.71h-1.07zM506.72,698.90h1.07v0.78h-1.07zM507.74,698.90h1.07v0.74h-1.07zM508.76,698.90h1.07v0.69h-1.07zM509.79,698.90h1.07v0.79h-1.07zM510.81,698.90h1.07v0.84h-1.07zM511.84,698.90h1.07v0.82h-1.07zM512.86,698.90h1.07v0.87h-1.07zM513.89,698.90h1.07v0.69h-1.07zM514.91,698.90h1.07v0.56h-1.07zM515.93,698.90h1.07v0.65h-1.07zM516.96,698.90h1.07v0.64h-1.07zM517.98,698.90h1.07v0.49h-1.07zM519.01,698.90h1.07v0.48h-1.07zM520.03,698.90h1.07v0.49h-1.07zM521.05,698.90h1.07v0.62h-1.07zM522.08,698.90h1.07v0.50h-1.07zM523.10,698.90h1.07v0.52h-1.07zM524.13,698.90h1.07v0.46h-1.07zM525.15,698.90h1.07v0.59h-1.07zM526.18,698.90h1.07v0.74h-1.07zM527.20,698.90h1.07v0.65h-1.07zM528.22,698.90h1.07v0.57h-1.07zM529.25,698.90h1.07v0.60h-1.07zM530.27,698.90h1.07v0.56h-1.07zM531.30,698.90h1.07v0.52h-1.07zM532.32,698.90h1.07v0.68h-1.07zM533.35,698.90h1.07v0.59h-1.07zM534.37,698.90h1.07v1.13h-1.07zM535.39,698.90h1.07v0.66h-1.07zM536.42,698.90h1.07v0.54h-1.07zM537.44,698.90h1.07v0.49h-1.07zM538.47,698.90h1.07v0.53h-1.07zM539.49,698.90h1.07v0.65h-1.07zM540.51,698.90h1.07v0.50h-1.07zM541.54,698.90h1.07v0.40h-1.07zM542.56,698.90h1.07v0.45h-1.07zM543.59,698.90h1.07v0.54h-1.07zM544.61,698.90h1.07v0.51h-1.07zM545.64,698.90h1.07v0.65h-1.07zM546.66,698.90h1.07v0.56h-1.07zM547.68,698.90h1.07v0.56h-1.07zM548.71,698.90h1.07v0.64h-1.07zM549.73,698.90h1.07v0.72h-1.07zM550.76,698.90h1.07v0.56h-1.07zM551.78,698.90h1.07v0.67h-1.07zM552.80,698.90h1.07v0.74h-1.07zM553.83,698.90h1.07v0.62h-1.07zM554.85,698.90h1.07v0.47h-1.07zM555.88,698.90h1.07v0.65h-1.07zM556.90,698.90h1.07v0.63h-1.07zM557.93,698.90h1.07v0.75h-1.07zM558.95,698.90h1.07v0.72h-1.07zM559.97,698.90h1.07v0.68h-1.07zM561.00,698.90h1.07v0.55h-1.07zM562.02,698.90h1.07v0.73h-1.07zM563.05,698.90h1.07v0.65h-1.07zM564.07,698.90h1.07v0.62h-1.07zM565.10,698.90h1.07v0.60h-1.07zM566.12,698.90h1.07v0.50h-1.07zM567.14,698.90h1.07v0.56h-1.07zM568.17,698.90h1.07v0.69h-1.07zM569.19,698.90h1.07v0.78h-1.07zM570.22,698.90h1.07v0.57h-1.07zM571.24,698.90h1.07v0.60h-1.07zM572.26,698.90h1.07v0.54h-1.07zM573.29,698.90h1.07v0.70h-1.07zM574.31,698.90h1.07v0.71h-1.07zM575.34,698.90h1.07v0.67h-1.07zM576.36,698.90h1.07v0.78h-1.07zM577.39,698.90h1.07v0.61h-1.07zM578.41,698.90h1.07v0.52h-1.07zM579.43,698.90h1.07v0.66h-1.07zM580.46,698.90h1.07v0.57h-1.07zM581.48,698.90h1.07v0.72h-1.07zM582.51,698.90h1.07v0.64h-1.07zM583.53,698.90h1.07v0.52h-1.07zM584.55,698.90h1.07v0.70h-1.07zM585.58,698.90h1.07v0.58h-1.07zM586.60,698.90h1.07v0.47h-1.07zM587.63,698.90h1.07v0.61h-1.07zM588.65,698.90h1.07v0.65h-1.07zM589.68,698.90h1.07v0.49h-1.07z" fill="#fb8c00"/>
<rect x="615.00" y="710.40" width="3.20" height="3.20" fill="#f0493e" stroke="none" stroke-width="0.5" />
<text x="622.90" y="714.50" font-size="6.8" text-anchor="start" fill="#222" >C&gt;T</text>
<rect x="615.00" y="718.50" width="3.20" height="3.20" fill="#4852b4" stroke="none" stroke-width="0.5" />
<text x="622.90" y="722.60" font-size="6.8" text-anchor="start" fill="#222" >C&gt;G</text>
<rect x="615.00" y="726.60" width="3.20" height="3.20" fill="#2f97ef" stroke="none" stroke-width="0.5" />
<text x="622.90" y="730.70" font-size="6.8" text-anchor="start" fill="#222" >C&gt;A</text>
<rect x="641.90" y="710.40" width="3.20" height="3.20" fill="#4caf50" stroke="none" stroke-width="0.5" />
<text x="649.80" y="714.50" font-size="6.8" text-anchor="start" fill="#222" >T&gt;A</text>
<rect x="641.90" y="718.50" width="3.20" height="3.20" fill="#fcbd1a" stroke="none" stroke-width="0.5" />
<text x="649.80" y="722.60" font-size="6.8" text-anchor="start" fill="#222" >T&gt;C</text>
<rect x="641.90" y="726.60" width="3.20" height="3.20" fill="#fb8c00" stroke="none" stroke-width="0.5" />
<text x="649.80" y="730.70" font-size="6.8" text-anchor="start" fill="#222" >T&gt;G</text>
<rect x="374.65" y="754.50" width="2.70" height="2.70" fill="#e31a1c" stroke="none" stroke-width="0.5" />
<text x="382.00" y="758.90" font-size="6.95" text-anchor="start" fill="#222" >Nonsense_Mutation</text>
<rect x="374.65" y="762.40" width="2.70" height="2.70" fill="#1f78b4" stroke="none" stroke-width="0.5" />
<text x="382.00" y="766.80" font-size="6.95" text-anchor="start" fill="#222" >Frame_Shift_Del</text>
<rect x="374.65" y="770.30" width="2.70" height="2.70" fill="#33a02c" stroke="none" stroke-width="0.5" />
<text x="382.00" y="774.70" font-size="6.95" text-anchor="start" fill="#222" >Missense_Mutation</text>
<rect x="374.65" y="778.20" width="2.70" height="2.70" fill="#ff7f00" stroke="none" stroke-width="0.5" />
<text x="382.00" y="782.60" font-size="6.95" text-anchor="start" fill="#222" >Splice_Site</text>
<rect x="449.15" y="754.50" width="2.70" height="2.70" fill="#6a3d9a" stroke="none" stroke-width="0.5" />
<text x="456.50" y="758.90" font-size="6.95" text-anchor="start" fill="#222" >Frame_Shift_Ins</text>
<rect x="449.15" y="762.40" width="2.70" height="2.70" fill="#ffff99" stroke="none" stroke-width="0.5" />
<text x="456.50" y="766.80" font-size="6.95" text-anchor="start" fill="#222" >In_Frame_Del</text>
<rect x="449.15" y="770.30" width="2.70" height="2.70" fill="#000000" stroke="none" stroke-width="0.5" />
<text x="456.50" y="774.70" font-size="6.95" text-anchor="start" fill="#222" >Multi_Hit</text>
</svg>
</body></html>
